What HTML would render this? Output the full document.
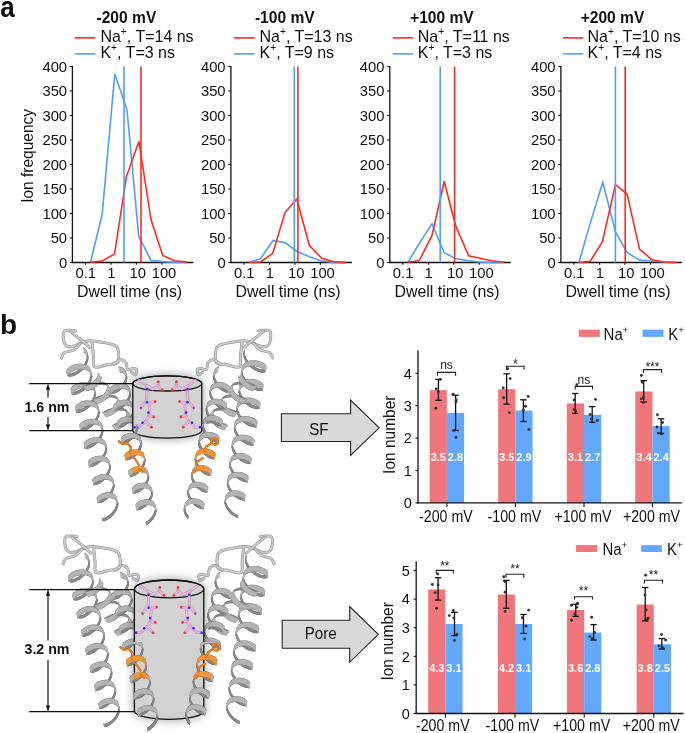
<!DOCTYPE html>
<html><head><meta charset="utf-8"><style>
html,body{margin:0;padding:0;background:#fff;}
svg{display:block;will-change:transform;font-family:"Liberation Sans", sans-serif;}
</style></head><body>
<svg width="685" height="733" viewBox="0 0 685 733">
<rect width="685" height="733" fill="#fff"/>
<line x1="72.40" y1="65.90" x2="72.40" y2="263.10" stroke="#111" stroke-width="1.3" />
<line x1="71.80" y1="262.50" x2="193.40" y2="262.50" stroke="#111" stroke-width="1.3" />
<line x1="69.80" y1="262.50" x2="72.40" y2="262.50" stroke="#111" stroke-width="1.1" />
<text transform="translate(67.10,267.90) scale(1,1.04)" font-size="14.8" text-anchor="end" font-weight="normal" fill="#111" >0</text>
<line x1="69.80" y1="238.00" x2="72.40" y2="238.00" stroke="#111" stroke-width="1.1" />
<text transform="translate(67.10,243.40) scale(1,1.04)" font-size="14.8" text-anchor="end" font-weight="normal" fill="#111" >50</text>
<line x1="69.80" y1="213.50" x2="72.40" y2="213.50" stroke="#111" stroke-width="1.1" />
<text transform="translate(67.10,218.90) scale(1,1.04)" font-size="14.8" text-anchor="end" font-weight="normal" fill="#111" >100</text>
<line x1="69.80" y1="189.00" x2="72.40" y2="189.00" stroke="#111" stroke-width="1.1" />
<text transform="translate(67.10,194.40) scale(1,1.04)" font-size="14.8" text-anchor="end" font-weight="normal" fill="#111" >150</text>
<line x1="69.80" y1="164.50" x2="72.40" y2="164.50" stroke="#111" stroke-width="1.1" />
<text transform="translate(67.10,169.90) scale(1,1.04)" font-size="14.8" text-anchor="end" font-weight="normal" fill="#111" >200</text>
<line x1="69.80" y1="140.00" x2="72.40" y2="140.00" stroke="#111" stroke-width="1.1" />
<text transform="translate(67.10,145.40) scale(1,1.04)" font-size="14.8" text-anchor="end" font-weight="normal" fill="#111" >250</text>
<line x1="69.80" y1="115.50" x2="72.40" y2="115.50" stroke="#111" stroke-width="1.1" />
<text transform="translate(67.10,120.90) scale(1,1.04)" font-size="14.8" text-anchor="end" font-weight="normal" fill="#111" >300</text>
<line x1="69.80" y1="91.00" x2="72.40" y2="91.00" stroke="#111" stroke-width="1.1" />
<text transform="translate(67.10,96.40) scale(1,1.04)" font-size="14.8" text-anchor="end" font-weight="normal" fill="#111" >350</text>
<line x1="69.80" y1="66.50" x2="72.40" y2="66.50" stroke="#111" stroke-width="1.1" />
<text transform="translate(67.10,71.90) scale(1,1.04)" font-size="14.8" text-anchor="end" font-weight="normal" fill="#111" >400</text>
<line x1="85.40" y1="262.50" x2="85.40" y2="264.70" stroke="#111" stroke-width="1.1" />
<text transform="translate(85.70,277.60) scale(1,1.04)" font-size="14.8" text-anchor="middle" font-weight="normal" fill="#111" >0.1</text>
<line x1="111.10" y1="262.50" x2="111.10" y2="264.70" stroke="#111" stroke-width="1.1" />
<text transform="translate(111.30,277.60) scale(1,1.04)" font-size="14.8" text-anchor="middle" font-weight="normal" fill="#111" >1</text>
<line x1="136.40" y1="262.50" x2="136.40" y2="264.70" stroke="#111" stroke-width="1.1" />
<text transform="translate(137.80,277.60) scale(1,1.04)" font-size="14.8" text-anchor="middle" font-weight="normal" fill="#111" >10</text>
<line x1="161.90" y1="262.50" x2="161.90" y2="264.70" stroke="#111" stroke-width="1.1" />
<text transform="translate(164.00,277.60) scale(1,1.04)" font-size="14.8" text-anchor="middle" font-weight="normal" fill="#111" >100</text>
<text transform="translate(129.60,296.60) scale(1,1.05)" font-size="15.9" text-anchor="middle" font-weight="normal" fill="#111" >Dwell time (ns)</text>
<text transform="translate(126.40,22.90) scale(1,1.06)" font-size="15.6" text-anchor="middle" font-weight="bold" fill="#111" >-200 mV</text>
<line x1="74.80" y1="37.90" x2="95.40" y2="37.90" stroke="#ff2a1f" stroke-width="1.6" />
<line x1="74.80" y1="53.90" x2="95.40" y2="53.90" stroke="#4f9dff" stroke-width="1.6" />
<text transform="translate(100.40,41.70) scale(1,1.05)" font-size="16" text-anchor="start" font-weight="normal" fill="#111" >Na<tspan font-size="10.2" dy="-6.8">+</tspan><tspan dy="6.8">, T=14 ns</tspan></text>
<text transform="translate(100.40,57.80) scale(1,1.05)" font-size="16" text-anchor="start" font-weight="normal" fill="#111" >K<tspan font-size="10.2" dy="-6.8">+</tspan><tspan dy="6.8">, T=3 ns</tspan></text>
<polyline points="90.50,262.30 102.20,214.00 114.80,74.00 127.00,109.80 138.70,236.20 151.00,260.40 162.50,261.60 174.60,262.30 187.00,262.50" fill="none" stroke="#4f9dff" stroke-width="1.6" stroke-linejoin="miter" />
<polyline points="90.50,262.30 101.90,261.10 114.50,254.10 126.40,176.60 138.90,141.40 151.00,219.60 162.70,255.50 174.60,260.70 187.00,262.10" fill="none" stroke="#ff2a1f" stroke-width="1.6" stroke-linejoin="miter" />
<line x1="124.00" y1="66.50" x2="124.00" y2="262.50" stroke="#4f9dff" stroke-width="1.6" />
<line x1="141.00" y1="66.50" x2="141.00" y2="262.50" stroke="#ff2a1f" stroke-width="1.6" />
<line x1="230.90" y1="65.90" x2="230.90" y2="263.10" stroke="#111" stroke-width="1.3" />
<line x1="230.30" y1="262.50" x2="351.90" y2="262.50" stroke="#111" stroke-width="1.3" />
<line x1="228.30" y1="262.50" x2="230.90" y2="262.50" stroke="#111" stroke-width="1.1" />
<text transform="translate(225.60,267.90) scale(1,1.04)" font-size="14.8" text-anchor="end" font-weight="normal" fill="#111" >0</text>
<line x1="228.30" y1="238.00" x2="230.90" y2="238.00" stroke="#111" stroke-width="1.1" />
<text transform="translate(225.60,243.40) scale(1,1.04)" font-size="14.8" text-anchor="end" font-weight="normal" fill="#111" >50</text>
<line x1="228.30" y1="213.50" x2="230.90" y2="213.50" stroke="#111" stroke-width="1.1" />
<text transform="translate(225.60,218.90) scale(1,1.04)" font-size="14.8" text-anchor="end" font-weight="normal" fill="#111" >100</text>
<line x1="228.30" y1="189.00" x2="230.90" y2="189.00" stroke="#111" stroke-width="1.1" />
<text transform="translate(225.60,194.40) scale(1,1.04)" font-size="14.8" text-anchor="end" font-weight="normal" fill="#111" >150</text>
<line x1="228.30" y1="164.50" x2="230.90" y2="164.50" stroke="#111" stroke-width="1.1" />
<text transform="translate(225.60,169.90) scale(1,1.04)" font-size="14.8" text-anchor="end" font-weight="normal" fill="#111" >200</text>
<line x1="228.30" y1="140.00" x2="230.90" y2="140.00" stroke="#111" stroke-width="1.1" />
<text transform="translate(225.60,145.40) scale(1,1.04)" font-size="14.8" text-anchor="end" font-weight="normal" fill="#111" >250</text>
<line x1="228.30" y1="115.50" x2="230.90" y2="115.50" stroke="#111" stroke-width="1.1" />
<text transform="translate(225.60,120.90) scale(1,1.04)" font-size="14.8" text-anchor="end" font-weight="normal" fill="#111" >300</text>
<line x1="228.30" y1="91.00" x2="230.90" y2="91.00" stroke="#111" stroke-width="1.1" />
<text transform="translate(225.60,96.40) scale(1,1.04)" font-size="14.8" text-anchor="end" font-weight="normal" fill="#111" >350</text>
<line x1="228.30" y1="66.50" x2="230.90" y2="66.50" stroke="#111" stroke-width="1.1" />
<text transform="translate(225.60,71.90) scale(1,1.04)" font-size="14.8" text-anchor="end" font-weight="normal" fill="#111" >400</text>
<line x1="243.90" y1="262.50" x2="243.90" y2="264.70" stroke="#111" stroke-width="1.1" />
<text transform="translate(244.20,277.60) scale(1,1.04)" font-size="14.8" text-anchor="middle" font-weight="normal" fill="#111" >0.1</text>
<line x1="269.60" y1="262.50" x2="269.60" y2="264.70" stroke="#111" stroke-width="1.1" />
<text transform="translate(269.80,277.60) scale(1,1.04)" font-size="14.8" text-anchor="middle" font-weight="normal" fill="#111" >1</text>
<line x1="294.90" y1="262.50" x2="294.90" y2="264.70" stroke="#111" stroke-width="1.1" />
<text transform="translate(296.30,277.60) scale(1,1.04)" font-size="14.8" text-anchor="middle" font-weight="normal" fill="#111" >10</text>
<line x1="320.40" y1="262.50" x2="320.40" y2="264.70" stroke="#111" stroke-width="1.1" />
<text transform="translate(322.50,277.60) scale(1,1.04)" font-size="14.8" text-anchor="middle" font-weight="normal" fill="#111" >100</text>
<text transform="translate(288.10,296.60) scale(1,1.05)" font-size="15.9" text-anchor="middle" font-weight="normal" fill="#111" >Dwell time (ns)</text>
<text transform="translate(284.80,22.90) scale(1,1.06)" font-size="15.6" text-anchor="middle" font-weight="bold" fill="#111" >-100 mV</text>
<line x1="233.90" y1="37.90" x2="254.70" y2="37.90" stroke="#ff2a1f" stroke-width="1.6" />
<line x1="233.90" y1="53.90" x2="254.70" y2="53.90" stroke="#4f9dff" stroke-width="1.6" />
<text transform="translate(259.50,41.70) scale(1,1.05)" font-size="16" text-anchor="start" font-weight="normal" fill="#111" >Na<tspan font-size="10.2" dy="-6.8">+</tspan><tspan dy="6.8">, T=13 ns</tspan></text>
<text transform="translate(259.50,57.80) scale(1,1.05)" font-size="16" text-anchor="start" font-weight="normal" fill="#111" >K<tspan font-size="10.2" dy="-6.8">+</tspan><tspan dy="6.8">, T=9 ns</tspan></text>
<polyline points="249.00,262.50 260.40,258.70 273.10,240.50 285.00,242.60 297.20,251.50 309.50,256.80 321.40,261.00 333.40,262.40 345.80,262.50" fill="none" stroke="#4f9dff" stroke-width="1.6" stroke-linejoin="miter" />
<polyline points="249.00,262.50 260.40,262.00 272.70,253.40 285.00,212.60 296.80,199.00 309.30,245.30 322.00,258.60 333.40,261.60 345.80,262.50" fill="none" stroke="#ff2a1f" stroke-width="1.6" stroke-linejoin="miter" />
<line x1="294.30" y1="66.50" x2="294.30" y2="262.50" stroke="#4f9dff" stroke-width="1.6" />
<line x1="297.90" y1="66.50" x2="297.90" y2="262.50" stroke="#ff2a1f" stroke-width="1.6" />
<line x1="389.80" y1="65.90" x2="389.80" y2="263.10" stroke="#111" stroke-width="1.3" />
<line x1="389.20" y1="262.50" x2="510.80" y2="262.50" stroke="#111" stroke-width="1.3" />
<line x1="387.20" y1="262.50" x2="389.80" y2="262.50" stroke="#111" stroke-width="1.1" />
<text transform="translate(384.50,267.90) scale(1,1.04)" font-size="14.8" text-anchor="end" font-weight="normal" fill="#111" >0</text>
<line x1="387.20" y1="238.00" x2="389.80" y2="238.00" stroke="#111" stroke-width="1.1" />
<text transform="translate(384.50,243.40) scale(1,1.04)" font-size="14.8" text-anchor="end" font-weight="normal" fill="#111" >50</text>
<line x1="387.20" y1="213.50" x2="389.80" y2="213.50" stroke="#111" stroke-width="1.1" />
<text transform="translate(384.50,218.90) scale(1,1.04)" font-size="14.8" text-anchor="end" font-weight="normal" fill="#111" >100</text>
<line x1="387.20" y1="189.00" x2="389.80" y2="189.00" stroke="#111" stroke-width="1.1" />
<text transform="translate(384.50,194.40) scale(1,1.04)" font-size="14.8" text-anchor="end" font-weight="normal" fill="#111" >150</text>
<line x1="387.20" y1="164.50" x2="389.80" y2="164.50" stroke="#111" stroke-width="1.1" />
<text transform="translate(384.50,169.90) scale(1,1.04)" font-size="14.8" text-anchor="end" font-weight="normal" fill="#111" >200</text>
<line x1="387.20" y1="140.00" x2="389.80" y2="140.00" stroke="#111" stroke-width="1.1" />
<text transform="translate(384.50,145.40) scale(1,1.04)" font-size="14.8" text-anchor="end" font-weight="normal" fill="#111" >250</text>
<line x1="387.20" y1="115.50" x2="389.80" y2="115.50" stroke="#111" stroke-width="1.1" />
<text transform="translate(384.50,120.90) scale(1,1.04)" font-size="14.8" text-anchor="end" font-weight="normal" fill="#111" >300</text>
<line x1="387.20" y1="91.00" x2="389.80" y2="91.00" stroke="#111" stroke-width="1.1" />
<text transform="translate(384.50,96.40) scale(1,1.04)" font-size="14.8" text-anchor="end" font-weight="normal" fill="#111" >350</text>
<line x1="387.20" y1="66.50" x2="389.80" y2="66.50" stroke="#111" stroke-width="1.1" />
<text transform="translate(384.50,71.90) scale(1,1.04)" font-size="14.8" text-anchor="end" font-weight="normal" fill="#111" >400</text>
<line x1="402.80" y1="262.50" x2="402.80" y2="264.70" stroke="#111" stroke-width="1.1" />
<text transform="translate(403.10,277.60) scale(1,1.04)" font-size="14.8" text-anchor="middle" font-weight="normal" fill="#111" >0.1</text>
<line x1="428.50" y1="262.50" x2="428.50" y2="264.70" stroke="#111" stroke-width="1.1" />
<text transform="translate(428.70,277.60) scale(1,1.04)" font-size="14.8" text-anchor="middle" font-weight="normal" fill="#111" >1</text>
<line x1="453.80" y1="262.50" x2="453.80" y2="264.70" stroke="#111" stroke-width="1.1" />
<text transform="translate(455.20,277.60) scale(1,1.04)" font-size="14.8" text-anchor="middle" font-weight="normal" fill="#111" >10</text>
<line x1="479.30" y1="262.50" x2="479.30" y2="264.70" stroke="#111" stroke-width="1.1" />
<text transform="translate(481.40,277.60) scale(1,1.04)" font-size="14.8" text-anchor="middle" font-weight="normal" fill="#111" >100</text>
<text transform="translate(447.00,296.60) scale(1,1.05)" font-size="15.9" text-anchor="middle" font-weight="normal" fill="#111" >Dwell time (ns)</text>
<text transform="translate(441.90,22.90) scale(1,1.06)" font-size="15.6" text-anchor="middle" font-weight="bold" fill="#111" >+100 mV</text>
<line x1="392.70" y1="37.90" x2="413.10" y2="37.90" stroke="#ff2a1f" stroke-width="1.6" />
<line x1="392.70" y1="53.90" x2="413.10" y2="53.90" stroke="#4f9dff" stroke-width="1.6" />
<text transform="translate(417.80,41.70) scale(1,1.05)" font-size="16" text-anchor="start" font-weight="normal" fill="#111" >Na<tspan font-size="10.2" dy="-6.8">+</tspan><tspan dy="6.8">, T=11 ns</tspan></text>
<text transform="translate(417.80,57.80) scale(1,1.05)" font-size="16" text-anchor="start" font-weight="normal" fill="#111" >K<tspan font-size="10.2" dy="-6.8">+</tspan><tspan dy="6.8">, T=3 ns</tspan></text>
<polyline points="407.90,262.30 419.60,243.00 432.00,223.60 444.00,252.50 455.40,258.60 467.70,260.60 479.10,262.00 491.40,262.50 503.80,262.50" fill="none" stroke="#4f9dff" stroke-width="1.6" stroke-linejoin="miter" />
<polyline points="407.90,262.30 419.30,260.50 432.00,235.40 444.20,181.30 455.40,225.00 468.70,255.90 480.00,258.20 491.40,260.70 503.80,262.30" fill="none" stroke="#ff2a1f" stroke-width="1.6" stroke-linejoin="miter" />
<line x1="440.20" y1="66.50" x2="440.20" y2="262.50" stroke="#4f9dff" stroke-width="1.6" />
<line x1="454.60" y1="66.50" x2="454.60" y2="262.50" stroke="#ff2a1f" stroke-width="1.6" />
<line x1="560.90" y1="65.90" x2="560.90" y2="263.10" stroke="#111" stroke-width="1.3" />
<line x1="560.30" y1="262.50" x2="681.90" y2="262.50" stroke="#111" stroke-width="1.3" />
<line x1="558.30" y1="262.50" x2="560.90" y2="262.50" stroke="#111" stroke-width="1.1" />
<text transform="translate(555.60,267.90) scale(1,1.04)" font-size="14.8" text-anchor="end" font-weight="normal" fill="#111" >0</text>
<line x1="558.30" y1="238.00" x2="560.90" y2="238.00" stroke="#111" stroke-width="1.1" />
<text transform="translate(555.60,243.40) scale(1,1.04)" font-size="14.8" text-anchor="end" font-weight="normal" fill="#111" >50</text>
<line x1="558.30" y1="213.50" x2="560.90" y2="213.50" stroke="#111" stroke-width="1.1" />
<text transform="translate(555.60,218.90) scale(1,1.04)" font-size="14.8" text-anchor="end" font-weight="normal" fill="#111" >100</text>
<line x1="558.30" y1="189.00" x2="560.90" y2="189.00" stroke="#111" stroke-width="1.1" />
<text transform="translate(555.60,194.40) scale(1,1.04)" font-size="14.8" text-anchor="end" font-weight="normal" fill="#111" >150</text>
<line x1="558.30" y1="164.50" x2="560.90" y2="164.50" stroke="#111" stroke-width="1.1" />
<text transform="translate(555.60,169.90) scale(1,1.04)" font-size="14.8" text-anchor="end" font-weight="normal" fill="#111" >200</text>
<line x1="558.30" y1="140.00" x2="560.90" y2="140.00" stroke="#111" stroke-width="1.1" />
<text transform="translate(555.60,145.40) scale(1,1.04)" font-size="14.8" text-anchor="end" font-weight="normal" fill="#111" >250</text>
<line x1="558.30" y1="115.50" x2="560.90" y2="115.50" stroke="#111" stroke-width="1.1" />
<text transform="translate(555.60,120.90) scale(1,1.04)" font-size="14.8" text-anchor="end" font-weight="normal" fill="#111" >300</text>
<line x1="558.30" y1="91.00" x2="560.90" y2="91.00" stroke="#111" stroke-width="1.1" />
<text transform="translate(555.60,96.40) scale(1,1.04)" font-size="14.8" text-anchor="end" font-weight="normal" fill="#111" >350</text>
<line x1="558.30" y1="66.50" x2="560.90" y2="66.50" stroke="#111" stroke-width="1.1" />
<text transform="translate(555.60,71.90) scale(1,1.04)" font-size="14.8" text-anchor="end" font-weight="normal" fill="#111" >400</text>
<line x1="573.90" y1="262.50" x2="573.90" y2="264.70" stroke="#111" stroke-width="1.1" />
<text transform="translate(574.20,277.60) scale(1,1.04)" font-size="14.8" text-anchor="middle" font-weight="normal" fill="#111" >0.1</text>
<line x1="599.60" y1="262.50" x2="599.60" y2="264.70" stroke="#111" stroke-width="1.1" />
<text transform="translate(599.80,277.60) scale(1,1.04)" font-size="14.8" text-anchor="middle" font-weight="normal" fill="#111" >1</text>
<line x1="624.90" y1="262.50" x2="624.90" y2="264.70" stroke="#111" stroke-width="1.1" />
<text transform="translate(626.30,277.60) scale(1,1.04)" font-size="14.8" text-anchor="middle" font-weight="normal" fill="#111" >10</text>
<line x1="650.40" y1="262.50" x2="650.40" y2="264.70" stroke="#111" stroke-width="1.1" />
<text transform="translate(652.50,277.60) scale(1,1.04)" font-size="14.8" text-anchor="middle" font-weight="normal" fill="#111" >100</text>
<text transform="translate(618.10,296.60) scale(1,1.05)" font-size="15.9" text-anchor="middle" font-weight="normal" fill="#111" >Dwell time (ns)</text>
<text transform="translate(612.50,22.90) scale(1,1.06)" font-size="15.6" text-anchor="middle" font-weight="bold" fill="#111" >+200 mV</text>
<line x1="563.00" y1="37.90" x2="583.20" y2="37.90" stroke="#ff2a1f" stroke-width="1.6" />
<line x1="563.00" y1="53.90" x2="583.20" y2="53.90" stroke="#4f9dff" stroke-width="1.6" />
<text transform="translate(587.50,41.70) scale(1,1.05)" font-size="16" text-anchor="start" font-weight="normal" fill="#111" >Na<tspan font-size="10.2" dy="-6.8">+</tspan><tspan dy="6.8">, T=10 ns</tspan></text>
<text transform="translate(587.50,57.80) scale(1,1.05)" font-size="16" text-anchor="start" font-weight="normal" fill="#111" >K<tspan font-size="10.2" dy="-6.8">+</tspan><tspan dy="6.8">, T=4 ns</tspan></text>
<polyline points="578.90,262.50 590.50,222.40 602.80,182.30 615.40,231.60 627.10,252.50 639.50,260.10 651.80,261.00 664.10,262.00 676.50,262.50" fill="none" stroke="#4f9dff" stroke-width="1.6" stroke-linejoin="miter" />
<polyline points="578.90,262.50 590.10,261.40 602.40,241.70 615.40,184.70 627.10,194.00 639.50,249.10 651.80,259.70 664.10,262.00 676.50,262.50" fill="none" stroke="#ff2a1f" stroke-width="1.6" stroke-linejoin="miter" />
<line x1="615.40" y1="66.50" x2="615.40" y2="262.50" stroke="#4f9dff" stroke-width="1.6" />
<line x1="625.20" y1="66.50" x2="625.20" y2="262.50" stroke="#ff2a1f" stroke-width="1.6" />
<text transform="translate(33.00,155.90) rotate(-90) scale(1,1.06)" font-size="15.5" text-anchor="middle" font-weight="normal" fill="#111" >Ion frequency</text>
<text transform="translate(0.30,16.60) scale(1,1.13)" font-size="26" text-anchor="start" font-weight="bold" fill="#111" >a</text>
<text transform="translate(0.00,333.80) scale(1,1.0)" font-size="28" text-anchor="start" font-weight="bold" fill="#111" >b</text>
<defs><filter id="blur3" x="-30%" y="-30%" width="160%" height="160%"><feGaussianBlur stdDeviation="4"/></filter><clipPath id="clipLow"><rect x="0" y="642" width="280" height="100"/></clipPath><clipPath id="clipUp"><rect x="0" y="424" width="280" height="30"/></clipPath></defs>
<g fill="none" stroke-linecap="round" stroke-linejoin="round"><path d="M75.6,330.9 C74.6,330.8 71.5,330.3 69.7,330.3 C67.9,330.3 65.6,330.0 64.5,330.9 C63.4,331.8 63.1,333.4 63.1,335.5 C63.1,337.6 63.6,341.5 64.5,343.4 C65.4,345.3 66.8,346.3 68.4,346.7 C70.0,347.1 72.3,346.6 74.3,346.0 C76.3,345.4 77.5,344.3 80.2,343.4 C82.9,342.5 85.2,340.6 90.7,340.8 C96.2,341.0 108.4,342.9 113.0,344.7 C117.6,346.4 117.6,348.2 118.3,351.3 C119.0,354.4 118.8,360.9 117.0,363.1 C115.2,365.3 111.5,363.8 107.8,364.4 C104.1,365.0 97.1,368.5 94.7,367.0 C92.3,365.5 93.9,359.3 93.4,355.2 C93.0,351.1 92.2,344.3 92.0,342.1" stroke="#939393" stroke-width="3.0"/>
<path d="M75.6,330.9 C74.6,330.8 71.5,330.3 69.7,330.3 C67.9,330.3 65.6,330.0 64.5,330.9 C63.4,331.8 63.1,333.4 63.1,335.5 C63.1,337.6 63.6,341.5 64.5,343.4 C65.4,345.3 66.8,346.3 68.4,346.7 C70.0,347.1 72.3,346.6 74.3,346.0 C76.3,345.4 77.5,344.3 80.2,343.4 C82.9,342.5 85.2,340.6 90.7,340.8 C96.2,341.0 108.4,342.9 113.0,344.7 C117.6,346.4 117.6,348.2 118.3,351.3 C119.0,354.4 118.8,360.9 117.0,363.1 C115.2,365.3 111.5,363.8 107.8,364.4 C104.1,365.0 97.1,368.5 94.7,367.0 C92.3,365.5 93.9,359.3 93.4,355.2 C93.0,351.1 92.2,344.3 92.0,342.1" stroke="#c9c9c9" stroke-width="1.9"/>
<path d="M258.4,330.9 C259.4,330.8 262.4,330.3 264.3,330.3 C266.2,330.3 268.4,330.0 269.5,330.9 C270.6,331.8 270.9,333.4 270.9,335.5 C270.9,337.6 270.4,341.5 269.5,343.4 C268.6,345.3 267.2,346.3 265.6,346.7 C264.0,347.1 261.7,346.6 259.7,346.0 C257.7,345.4 256.5,344.3 253.8,343.4 C251.1,342.5 248.8,340.6 243.3,340.8 C237.8,341.0 225.6,342.9 221.0,344.7 C216.4,346.4 216.4,348.2 215.7,351.3 C215.0,354.4 215.2,360.9 217.0,363.1 C218.8,365.3 222.5,363.8 226.2,364.4 C229.9,365.0 236.9,368.5 239.3,367.0 C241.7,365.5 240.2,359.3 240.6,355.2 C241.0,351.1 241.8,344.3 242.0,342.1" stroke="#939393" stroke-width="3.0"/>
<path d="M258.4,330.9 C259.4,330.8 262.4,330.3 264.3,330.3 C266.2,330.3 268.4,330.0 269.5,330.9 C270.6,331.8 270.9,333.4 270.9,335.5 C270.9,337.6 270.4,341.5 269.5,343.4 C268.6,345.3 267.2,346.3 265.6,346.7 C264.0,347.1 261.7,346.6 259.7,346.0 C257.7,345.4 256.5,344.3 253.8,343.4 C251.1,342.5 248.8,340.6 243.3,340.8 C237.8,341.0 225.6,342.9 221.0,344.7 C216.4,346.4 216.4,348.2 215.7,351.3 C215.0,354.4 215.2,360.9 217.0,363.1 C218.8,365.3 222.5,363.8 226.2,364.4 C229.9,365.0 236.9,368.5 239.3,367.0 C241.7,365.5 240.2,359.3 240.6,355.2 C241.0,351.1 241.8,344.3 242.0,342.1" stroke="#c9c9c9" stroke-width="1.9"/>
<path d="M70.4,331.6 C72.0,332.8 76.8,336.4 80.0,339.0 C83.2,341.6 87.8,345.9 89.4,347.3" stroke="#939393" stroke-width="3.0"/>
<path d="M70.4,331.6 C72.0,332.8 76.8,336.4 80.0,339.0 C83.2,341.6 87.8,345.9 89.4,347.3" stroke="#c9c9c9" stroke-width="1.9"/>
<path d="M263.6,331.6 C262.0,332.8 257.2,336.4 254.0,339.0 C250.8,341.6 246.2,345.9 244.6,347.3" stroke="#939393" stroke-width="3.0"/>
<path d="M263.6,331.6 C262.0,332.8 257.2,336.4 254.0,339.0 C250.8,341.6 246.2,345.9 244.6,347.3" stroke="#c9c9c9" stroke-width="1.9"/>
<path d="M80.2,343.4 C79.1,344.5 76.2,348.5 73.6,350.0 C71.0,351.5 66.5,351.3 64.5,352.6 C62.5,353.9 62.0,357.1 61.5,358.0" stroke="#939393" stroke-width="3.0"/>
<path d="M80.2,343.4 C79.1,344.5 76.2,348.5 73.6,350.0 C71.0,351.5 66.5,351.3 64.5,352.6 C62.5,353.9 62.0,357.1 61.5,358.0" stroke="#c9c9c9" stroke-width="1.9"/>
<path d="M253.8,343.4 C254.9,344.5 257.8,348.5 260.4,350.0 C263.0,351.5 267.5,351.3 269.5,352.6 C271.5,353.9 272.0,357.1 272.5,358.0" stroke="#939393" stroke-width="3.0"/>
<path d="M253.8,343.4 C254.9,344.5 257.8,348.5 260.4,350.0 C263.0,351.5 267.5,351.3 269.5,352.6 C271.5,353.9 272.0,357.1 272.5,358.0" stroke="#c9c9c9" stroke-width="1.9"/>
<path d="M113.0,364.4 C114.3,363.6 118.8,360.0 121.0,359.8 C123.2,359.6 125.1,361.5 126.2,363.1 C127.3,364.8 126.4,368.8 127.5,369.7 C128.6,370.6 131.3,368.4 132.8,368.4 C134.3,368.4 136.3,368.6 136.7,369.7 C137.1,370.8 136.3,374.5 135.4,374.9 C134.5,375.3 132.2,372.7 131.5,372.3" stroke="#939393" stroke-width="3.0"/>
<path d="M113.0,364.4 C114.3,363.6 118.8,360.0 121.0,359.8 C123.2,359.6 125.1,361.5 126.2,363.1 C127.3,364.8 126.4,368.8 127.5,369.7 C128.6,370.6 131.3,368.4 132.8,368.4 C134.3,368.4 136.3,368.6 136.7,369.7 C137.1,370.8 136.3,374.5 135.4,374.9 C134.5,375.3 132.2,372.7 131.5,372.3" stroke="#c9c9c9" stroke-width="1.9"/>
<path d="M221.0,364.4 C219.7,363.6 215.2,360.0 213.0,359.8 C210.8,359.6 208.9,361.5 207.8,363.1 C206.7,364.8 207.6,368.8 206.5,369.7 C205.4,370.6 202.7,368.4 201.2,368.4 C199.7,368.4 197.7,368.6 197.3,369.7 C196.9,370.8 197.7,374.5 198.6,374.9 C199.5,375.3 201.8,372.7 202.5,372.3" stroke="#939393" stroke-width="3.0"/>
<path d="M221.0,364.4 C219.7,363.6 215.2,360.0 213.0,359.8 C210.8,359.6 208.9,361.5 207.8,363.1 C206.7,364.8 207.6,368.8 206.5,369.7 C205.4,370.6 202.7,368.4 201.2,368.4 C199.7,368.4 197.7,368.6 197.3,369.7 C196.9,370.8 197.7,374.5 198.6,374.9 C199.5,375.3 201.8,372.7 202.5,372.3" stroke="#c9c9c9" stroke-width="1.9"/>
<path d="M86.9 352.7L87.4 355.3M87.9 357.3L87.3 354.7M87.4 355.3L87.2 358.1M87.7 360.2L87.9 357.3M87.2 358.1L86.3 361.1M86.8 363.1L87.7 360.2M86.3 361.1L84.7 364M85.2 366L86.8 363.1M84.7 364L82.6 366.8M83 368.8L85.2 366M82.6 366.8L80.1 369.2M80.5 371.3L83 368.8M80.1 369.2L77.4 371.3M77.8 373.3L80.5 371.3M77.4 371.3L74.7 372.8M75.1 374.8L77.8 373.3M74.7 372.8L72.1 373.8M72.6 375.8L75.1 374.8M72.1 373.8L70 374.2M70.4 376.2L72.6 375.8M70 374.2L68.3 374M68.8 376L70.4 376.2M68.3 374L67.3 373.4M67.8 375.4L68.8 376M67.3 373.4L67.1 372.4M67.5 374.4L67.8 375.4M91.1 373.1L91.1 375.9M91.5 377.9L91.6 375.2M91.1 375.9L90.3 378.8M90.7 380.8L91.5 377.9M90.3 378.8L88.8 381.7M89.3 383.7L90.7 380.8M88.8 381.7L86.8 384.5M87.3 386.5L89.3 383.7M86.8 384.5L84.4 386.9M84.9 388.9L87.3 386.5M84.4 386.9L81.8 389M82.3 391L84.9 388.9M81.8 389L79.2 390.6M79.6 392.6L82.3 391M79.2 390.6L76.7 391.7M77.1 393.7L79.6 392.6M76.7 391.7L74.5 392.2M75 394.2L77.1 393.7M74.5 392.2L72.8 392.1M73.3 394.2L75 394.2M72.8 392.1L71.8 391.6M72.2 393.6L73.3 394.2M71.8 391.6L71.4 390.7M71.9 392.7L72.2 393.6M94.8 391L94.8 393.7M95.3 395.7L95.3 393M94.8 393.7L94.2 396.5M94.6 398.5L95.3 395.7M94.2 396.5L92.9 399.4M93.3 401.4L94.6 398.5M92.9 399.4L91 402.1M91.4 404.1L93.3 401.4M91 402.1L88.7 404.6M89.2 406.6L91.4 404.1M88.7 404.6L86.2 406.7M86.7 408.8L89.2 406.6M86.2 406.7L83.6 408.4M84.1 410.4L86.7 408.8M83.6 408.4L81.2 409.6M81.6 411.6L84.1 410.4M81.2 409.6L79 410.2M79.5 412.2L81.6 411.6M79 410.2L77.3 410.2M77.8 412.2L79.5 412.2M77.3 410.2L76.2 409.8M76.7 411.8L77.8 412.2M76.2 409.8L75.8 409M76.2 411L76.7 411.8M98.5 408.9L98.6 411.5M99.1 413.5L98.9 410.9M98.6 411.5L98.1 414.3M98.5 416.3L99.1 413.5M98.1 414.3L96.9 417.1M97.3 419.1L98.5 416.3M96.9 417.1L95.2 419.8M95.6 421.8L97.3 419.1M95.2 419.8L93 422.3M93.5 424.3L95.6 421.8M93 422.3L90.6 424.5M91 426.5L93.5 424.3M90.6 424.5L88.1 426.2M88.6 428.2L91 426.5M88.1 426.2L85.7 427.4M86.1 429.4L88.6 428.2M85.7 427.4L83.6 428.1M84 430.1L86.1 429.4M83.6 428.1L81.8 428.3M82.3 430.3L84 430.1M81.8 428.3L80.7 428M81.1 430L82.3 430.3M80.7 428L80.1 427.3M80.6 429.3L81.1 430M102.1 426.8L102.4 429.3M102.8 431.3L102.6 428.8M102.4 429.3L101.9 432M102.4 434L102.8 431.3M101.9 432L100.9 434.8M101.3 436.8L102.4 434M100.9 434.8L99.3 437.5M99.7 439.5L101.3 436.8M99.3 437.5L97.3 440M97.7 442L99.7 439.5M97.3 440L95 442.2M95.4 444.2L97.7 442M95 442.2L92.5 444M93 446L95.4 444.2M92.5 444L90.2 445.3M90.6 447.3L93 446M90.2 445.3L88.1 446.1M88.5 448.1L90.6 447.3M88.1 446.1L86.3 446.3M86.8 448.4L88.5 448.1M86.3 446.3L85.1 446.1M85.6 448.2L86.8 448.4M85.1 446.1L84.5 445.5M85 447.5L85.6 448.2M105.8 444.7L106.1 447.1M106.6 449.2L106.2 446.8M106.1 447.1L105.8 449.8M106.2 451.8L106.6 449.2M105.8 449.8L104.9 452.5M105.3 454.5L106.2 451.8M104.9 452.5L103.4 455.2M103.8 457.2L105.3 454.5M103.4 455.2L101.5 457.7M101.9 459.7L103.8 457.2M101.5 457.7L99.3 459.9M99.7 461.9L101.9 459.7M99.3 459.9L97 461.7M97.4 463.8L99.7 461.9M97 461.7L94.7 463.1M95.1 465.1L97.4 463.8M94.7 463.1L92.6 464M93 466L95.1 465.1M92.6 464L90.8 464.4M91.3 466.4L93 466M90.8 464.4L89.6 464.3M90 466.3L91.3 466.4M89.6 464.3L88.9 463.8M89.4 465.8L90 466.3M109.4 462.7L109.8 465M110.3 467L109.8 464.7M109.8 465L109.6 467.6M110.1 469.6L110.3 467M109.6 467.6L108.8 470.2M109.3 472.2L110.1 469.6M108.8 470.2L107.5 472.9M107.9 474.9L109.3 472.2M107.5 472.9L105.7 475.4M106.1 477.4L107.9 474.9M105.7 475.4L103.6 477.6M104 479.6L106.1 477.4M103.6 477.6L101.3 479.5M101.8 481.5L104 479.6M101.3 479.5L99.1 480.9M99.6 483L101.8 481.5M99.1 480.9L97.1 481.9M97.5 483.9L99.6 483M97.1 481.9L95.3 482.4M95.8 484.4L97.5 483.9M95.3 482.4L94 482.4M94.5 484.4L95.8 484.4M94 482.4L93.3 482M93.8 484L94.5 484.4M113.5 482.9L113.4 485.4M113.9 487.4L114 484.9M113.4 485.4L112.7 488M113.2 490L113.9 487.4M112.7 488L111.5 490.6M112 492.6L113.2 490M111.5 490.6L109.8 493.1M110.3 495.1L112 492.6M109.8 493.1L107.9 495.3M108.3 497.3L110.3 495.1M107.9 495.3L105.7 497.2M106.2 499.3L108.3 497.3M105.7 497.2L103.6 498.8M104 500.8L106.2 499.3M103.6 498.8L101.5 499.8M102 501.8L104 500.8M101.5 499.8L99.8 500.4M100.3 502.4L102 501.8M99.8 500.4L98.5 500.5M99 502.5L100.3 502.4M98.5 500.5L97.7 500.2M98.2 502.2L99 502.5M97.7 500.2L97.5 499.5M97.9 501.5L98.2 502.2M117.2 500.8L117.2 503.2M117.7 505.2L117.7 502.8M117.2 503.2L116.6 505.7M117.1 507.7L117.7 505.2M116.6 505.7L115.5 508.3M116 510.3L117.1 507.7M115.5 508.3L114 510.8M114.4 512.8L116 510.3M114 510.8L112.1 513M112.6 515.1L114.4 512.8M112.1 513L110.1 515M110.5 517L112.6 515.1M110.1 515L108 516.6M108.4 518.6L110.5 517M108 516.6L106 517.7M106.5 519.7L108.4 518.6M106 517.7L104.3 518.3M104.7 520.4L106.5 519.7M104.3 518.3L103 518.5M103.4 520.6L104.7 520.4M103 518.5L102.1 518.3M102.6 520.3L103.4 520.6" fill="none" stroke="#5a5a5a" stroke-width="1.1"/>
<path d="M86.9 352.7L87.4 355.3L87.9 357.3L87.3 354.7ZM87.4 355.3L87.2 358.1L87.7 360.2L87.9 357.3ZM87.2 358.1L86.3 361.1L86.8 363.1L87.7 360.2ZM86.3 361.1L84.7 364L85.2 366L86.8 363.1ZM84.7 364L82.6 366.8L83 368.8L85.2 366ZM82.6 366.8L80.1 369.2L80.5 371.3L83 368.8ZM80.1 369.2L77.4 371.3L77.8 373.3L80.5 371.3ZM77.4 371.3L74.7 372.8L75.1 374.8L77.8 373.3ZM74.7 372.8L72.1 373.8L72.6 375.8L75.1 374.8ZM72.1 373.8L70 374.2L70.4 376.2L72.6 375.8ZM70 374.2L68.3 374L68.8 376L70.4 376.2ZM68.3 374L67.3 373.4L67.8 375.4L68.8 376ZM67.3 373.4L67.1 372.4L67.5 374.4L67.8 375.4ZM91.1 373.1L91.1 375.9L91.5 377.9L91.6 375.2ZM91.1 375.9L90.3 378.8L90.7 380.8L91.5 377.9ZM90.3 378.8L88.8 381.7L89.3 383.7L90.7 380.8ZM88.8 381.7L86.8 384.5L87.3 386.5L89.3 383.7ZM86.8 384.5L84.4 386.9L84.9 388.9L87.3 386.5ZM84.4 386.9L81.8 389L82.3 391L84.9 388.9ZM81.8 389L79.2 390.6L79.6 392.6L82.3 391ZM79.2 390.6L76.7 391.7L77.1 393.7L79.6 392.6ZM76.7 391.7L74.5 392.2L75 394.2L77.1 393.7ZM74.5 392.2L72.8 392.1L73.3 394.2L75 394.2ZM72.8 392.1L71.8 391.6L72.2 393.6L73.3 394.2ZM71.8 391.6L71.4 390.7L71.9 392.7L72.2 393.6ZM94.8 391L94.8 393.7L95.3 395.7L95.3 393ZM94.8 393.7L94.2 396.5L94.6 398.5L95.3 395.7ZM94.2 396.5L92.9 399.4L93.3 401.4L94.6 398.5ZM92.9 399.4L91 402.1L91.4 404.1L93.3 401.4ZM91 402.1L88.7 404.6L89.2 406.6L91.4 404.1ZM88.7 404.6L86.2 406.7L86.7 408.8L89.2 406.6ZM86.2 406.7L83.6 408.4L84.1 410.4L86.7 408.8ZM83.6 408.4L81.2 409.6L81.6 411.6L84.1 410.4ZM81.2 409.6L79 410.2L79.5 412.2L81.6 411.6ZM79 410.2L77.3 410.2L77.8 412.2L79.5 412.2ZM77.3 410.2L76.2 409.8L76.7 411.8L77.8 412.2ZM76.2 409.8L75.8 409L76.2 411L76.7 411.8ZM98.5 408.9L98.6 411.5L99.1 413.5L98.9 410.9ZM98.6 411.5L98.1 414.3L98.5 416.3L99.1 413.5ZM98.1 414.3L96.9 417.1L97.3 419.1L98.5 416.3ZM96.9 417.1L95.2 419.8L95.6 421.8L97.3 419.1ZM95.2 419.8L93 422.3L93.5 424.3L95.6 421.8ZM93 422.3L90.6 424.5L91 426.5L93.5 424.3ZM90.6 424.5L88.1 426.2L88.6 428.2L91 426.5ZM88.1 426.2L85.7 427.4L86.1 429.4L88.6 428.2ZM85.7 427.4L83.6 428.1L84 430.1L86.1 429.4ZM83.6 428.1L81.8 428.3L82.3 430.3L84 430.1ZM81.8 428.3L80.7 428L81.1 430L82.3 430.3ZM80.7 428L80.1 427.3L80.6 429.3L81.1 430ZM102.1 426.8L102.4 429.3L102.8 431.3L102.6 428.8ZM102.4 429.3L101.9 432L102.4 434L102.8 431.3ZM101.9 432L100.9 434.8L101.3 436.8L102.4 434ZM100.9 434.8L99.3 437.5L99.7 439.5L101.3 436.8ZM99.3 437.5L97.3 440L97.7 442L99.7 439.5ZM97.3 440L95 442.2L95.4 444.2L97.7 442ZM95 442.2L92.5 444L93 446L95.4 444.2ZM92.5 444L90.2 445.3L90.6 447.3L93 446ZM90.2 445.3L88.1 446.1L88.5 448.1L90.6 447.3ZM88.1 446.1L86.3 446.3L86.8 448.4L88.5 448.1ZM86.3 446.3L85.1 446.1L85.6 448.2L86.8 448.4ZM85.1 446.1L84.5 445.5L85 447.5L85.6 448.2ZM105.8 444.7L106.1 447.1L106.6 449.2L106.2 446.8ZM106.1 447.1L105.8 449.8L106.2 451.8L106.6 449.2ZM105.8 449.8L104.9 452.5L105.3 454.5L106.2 451.8ZM104.9 452.5L103.4 455.2L103.8 457.2L105.3 454.5ZM103.4 455.2L101.5 457.7L101.9 459.7L103.8 457.2ZM101.5 457.7L99.3 459.9L99.7 461.9L101.9 459.7ZM99.3 459.9L97 461.7L97.4 463.8L99.7 461.9ZM97 461.7L94.7 463.1L95.1 465.1L97.4 463.8ZM94.7 463.1L92.6 464L93 466L95.1 465.1ZM92.6 464L90.8 464.4L91.3 466.4L93 466ZM90.8 464.4L89.6 464.3L90 466.3L91.3 466.4ZM89.6 464.3L88.9 463.8L89.4 465.8L90 466.3ZM109.4 462.7L109.8 465L110.3 467L109.8 464.7ZM109.8 465L109.6 467.6L110.1 469.6L110.3 467ZM109.6 467.6L108.8 470.2L109.3 472.2L110.1 469.6ZM108.8 470.2L107.5 472.9L107.9 474.9L109.3 472.2ZM107.5 472.9L105.7 475.4L106.1 477.4L107.9 474.9ZM105.7 475.4L103.6 477.6L104 479.6L106.1 477.4ZM103.6 477.6L101.3 479.5L101.8 481.5L104 479.6ZM101.3 479.5L99.1 480.9L99.6 483L101.8 481.5ZM99.1 480.9L97.1 481.9L97.5 483.9L99.6 483ZM97.1 481.9L95.3 482.4L95.8 484.4L97.5 483.9ZM95.3 482.4L94 482.4L94.5 484.4L95.8 484.4ZM94 482.4L93.3 482L93.8 484L94.5 484.4ZM113.5 482.9L113.4 485.4L113.9 487.4L114 484.9ZM113.4 485.4L112.7 488L113.2 490L113.9 487.4ZM112.7 488L111.5 490.6L112 492.6L113.2 490ZM111.5 490.6L109.8 493.1L110.3 495.1L112 492.6ZM109.8 493.1L107.9 495.3L108.3 497.3L110.3 495.1ZM107.9 495.3L105.7 497.2L106.2 499.3L108.3 497.3ZM105.7 497.2L103.6 498.8L104 500.8L106.2 499.3ZM103.6 498.8L101.5 499.8L102 501.8L104 500.8ZM101.5 499.8L99.8 500.4L100.3 502.4L102 501.8ZM99.8 500.4L98.5 500.5L99 502.5L100.3 502.4ZM98.5 500.5L97.7 500.2L98.2 502.2L99 502.5ZM97.7 500.2L97.5 499.5L97.9 501.5L98.2 502.2ZM117.2 500.8L117.2 503.2L117.7 505.2L117.7 502.8ZM117.2 503.2L116.6 505.7L117.1 507.7L117.7 505.2ZM116.6 505.7L115.5 508.3L116 510.3L117.1 507.7ZM115.5 508.3L114 510.8L114.4 512.8L116 510.3ZM114 510.8L112.1 513L112.6 515.1L114.4 512.8ZM112.1 513L110.1 515L110.5 517L112.6 515.1ZM110.1 515L108 516.6L108.4 518.6L110.5 517ZM108 516.6L106 517.7L106.5 519.7L108.4 518.6ZM106 517.7L104.3 518.3L104.7 520.4L106.5 519.7ZM104.3 518.3L103 518.5L103.4 520.6L104.7 520.4ZM103 518.5L102.1 518.3L102.6 520.3L103.4 520.6Z" fill="#8a8a8a" stroke="#8a8a8a" stroke-width="0.6"/>
<path d="M83.4 347.6L85.3 349.3M86.3 353.8L84.4 352.1M85.3 349.3L86.6 351.5M87.6 356L86.3 353.8M66.8 371.1L67.3 369.8M68.3 374.3L67.8 375.6M67.3 369.8L68.5 368.4M69.5 372.9L68.3 374.3M68.5 368.4L70.3 367M71.3 371.5L69.5 372.9M70.3 367L72.7 365.8M73.7 370.3L71.3 371.5M72.7 365.8L75.5 364.8M76.5 369.3L73.7 370.3M75.5 364.8L78.5 364.3M79.5 368.7L76.5 369.3M78.5 364.3L81.5 364.2M82.5 368.7L79.5 368.7M81.5 364.2L84.4 364.7M85.4 369.2L82.5 368.7M84.4 364.7L86.9 365.7M87.9 370.2L85.4 369.2M86.9 365.7L88.8 367.3M89.8 371.8L87.9 370.2M88.8 367.3L90.2 369.4M91.2 373.9L89.8 371.8M90.2 369.4L90.9 371.9M91.9 376.4L91.2 373.9M71.1 389.5L71.5 388.2M72.5 392.7L72.1 393.9M71.5 388.2L72.6 386.9M73.6 391.4L72.5 392.7M72.6 386.9L74.3 385.5M75.3 390L73.6 391.4M74.3 385.5L76.5 384.3M77.5 388.8L75.3 390M76.5 384.3L79.2 383.3M80.2 387.8L77.5 388.8M79.2 383.3L82.1 382.7M83.1 387.2L80.2 387.8M82.1 382.7L85 382.6M86 387.1L83.1 387.2M85 382.6L87.9 383M88.9 387.5L86 387.1M87.9 383L90.3 383.9M91.3 388.4L88.9 387.5M90.3 383.9L92.4 385.4M93.4 389.9L91.3 388.4M92.4 385.4L93.8 387.4M94.8 391.9L93.4 389.9M93.8 387.4L94.5 389.8M95.5 394.3L94.8 391.9M75.5 407.8L75.7 406.6M76.7 411.1L76.5 412.2M75.7 406.6L76.7 405.3M77.7 409.8L76.7 411.1M76.7 405.3L78.3 404M79.3 408.5L77.7 409.8M78.3 404L80.4 402.8M81.4 407.3L79.3 408.5M80.4 402.8L82.9 401.8M83.9 406.3L81.4 407.3M82.9 401.8L85.7 401.1M86.7 405.6L83.9 406.3M85.7 401.1L88.6 401M89.6 405.4L86.7 405.6M88.6 401L91.4 401.3M92.4 405.8L89.6 405.4M91.4 401.3L93.8 402.1M94.8 406.6L92.4 405.8M93.8 402.1L95.9 403.5M96.9 408L94.8 406.6M95.9 403.5L97.4 405.4M98.4 409.9L96.9 408M97.4 405.4L98.2 407.7M99.2 412.2L98.4 409.9M79.9 426L80 425M81 429.5L80.9 430.5M80 425L80.8 423.8M81.8 428.3L81 429.5M80.8 423.8L82.3 422.5M83.3 427L81.8 428.3M82.3 422.5L84.3 421.3M85.3 425.8L83.3 427M84.3 421.3L86.7 420.3M87.7 424.8L85.3 425.8M86.7 420.3L89.4 419.6M90.4 424.1L87.7 424.8M89.4 419.6L92.2 419.3M93.2 423.8L90.4 424.1M92.2 419.3L94.9 419.6M95.9 424.1L93.2 423.8M94.9 419.6L97.3 420.3M98.3 424.8L95.9 424.1M97.3 420.3L99.4 421.6M100.4 426.1L98.3 424.8M99.4 421.6L100.9 423.4M101.9 427.9L100.4 426.1M100.9 423.4L101.9 425.6M102.8 430.1L101.9 427.9M84.2 444.3L84.3 443.3M85.3 447.8L85.2 448.8M84.3 443.3L85 442.2M86 446.7L85.3 447.8M85 442.2L86.3 440.9M87.3 445.4L86 446.7M86.3 440.9L88.2 439.8M89.2 444.2L87.3 445.4M88.2 439.8L90.5 438.8M91.5 443.2L89.2 444.2M90.5 438.8L93.1 438.1M94.1 442.5L91.5 443.2M93.1 438.1L95.8 437.7M96.8 442.2L94.1 442.5M95.8 437.7L98.4 437.9M99.4 442.4L96.8 442.2M98.4 437.9L100.9 438.6M101.9 443.1L99.4 442.4M100.9 438.6L102.9 439.8M103.9 444.2L101.9 443.1M102.9 439.8L104.5 441.4M105.5 445.9L103.9 444.2M104.5 441.4L105.5 443.5M106.5 448L105.5 445.9M88.6 462.5L88.6 461.7M89.6 466.2L89.6 467M88.6 461.7L89.2 460.6M90.2 465.1L89.6 466.2M89.2 460.6L90.4 459.4M91.4 463.9L90.2 465.1M90.4 459.4L92.1 458.2M93.1 462.7L91.4 463.9M92.1 458.2L94.3 457.2M95.3 461.7L93.1 462.7M94.3 457.2L96.8 456.5M97.8 461L95.3 461.7M96.8 456.5L99.4 456.2M100.4 460.7L97.8 461M99.4 456.2L102 456.3M103 460.7L100.4 460.7M102 456.3L104.4 456.8M105.4 461.3L103 460.7M104.4 456.8L106.5 457.9M107.5 462.4L105.4 461.3M106.5 457.9L108.1 459.5M109.1 464L107.5 462.4M108.1 459.5L109.1 461.5M110.1 465.9L109.1 464M93 480.7L92.9 480M93.9 484.5L94 485.2M92.9 480L93.4 479M94.4 483.4L93.9 484.5M93.4 479L94.5 477.8M95.5 482.3L94.4 483.4M94.5 477.8L96.1 476.7M97.1 481.2L95.5 482.3M96.1 476.7L98.1 475.7M99.1 480.2L97.1 481.2M98.1 475.7L100.5 475M101.5 479.5L99.1 480.2M100.5 475L103 474.6M104 479.1L101.5 479.5M103 474.6L105.6 474.6M106.6 479.1L104 479.1M105.6 474.6L107.9 475.1M108.9 479.6L106.6 479.1M107.9 475.1L110 476.1M111 480.6L108.9 479.6M110 476.1L111.6 477.5M112.6 482L111 480.6M111.6 477.5L112.7 479.4M113.7 483.9L112.6 482M112.7 479.4L113.2 481.6M114.2 486.1L113.7 483.9M97.2 498.2L97.6 497.3M98.6 501.8L98.2 502.7M97.6 497.3L98.6 496.3M99.6 500.7L98.6 501.8M98.6 496.3L100.1 495.2M101.1 499.7L99.6 500.7M100.1 495.2L102 494.2M103 498.7L101.1 499.7M102 494.2L104.3 493.4M105.3 497.9L103 498.7M104.3 493.4L106.7 493M107.7 497.5L105.3 497.9M106.7 493L109.2 493M110.2 497.5L107.7 497.5M109.2 493L111.5 493.4M112.5 497.9L110.2 497.5M111.5 493.4L113.5 494.3M114.5 498.8L112.5 497.9M113.5 494.3L115.2 495.6M116.2 500.1L114.5 498.8M115.2 495.6L116.3 497.4M117.3 501.9L116.2 500.1M116.3 497.4L116.9 499.5M117.9 504L117.3 501.9" fill="none" stroke="#5a5a5a" stroke-width="1.1"/>
<path d="M83.4 347.6L85.3 349.3L86.3 353.8L84.4 352.1ZM85.3 349.3L86.6 351.5L87.6 356L86.3 353.8ZM66.8 371.1L67.3 369.8L68.3 374.3L67.8 375.6ZM67.3 369.8L68.5 368.4L69.5 372.9L68.3 374.3ZM68.5 368.4L70.3 367L71.3 371.5L69.5 372.9ZM70.3 367L72.7 365.8L73.7 370.3L71.3 371.5ZM72.7 365.8L75.5 364.8L76.5 369.3L73.7 370.3ZM75.5 364.8L78.5 364.3L79.5 368.7L76.5 369.3ZM78.5 364.3L81.5 364.2L82.5 368.7L79.5 368.7ZM81.5 364.2L84.4 364.7L85.4 369.2L82.5 368.7ZM84.4 364.7L86.9 365.7L87.9 370.2L85.4 369.2ZM86.9 365.7L88.8 367.3L89.8 371.8L87.9 370.2ZM88.8 367.3L90.2 369.4L91.2 373.9L89.8 371.8ZM90.2 369.4L90.9 371.9L91.9 376.4L91.2 373.9ZM71.1 389.5L71.5 388.2L72.5 392.7L72.1 393.9ZM71.5 388.2L72.6 386.9L73.6 391.4L72.5 392.7ZM72.6 386.9L74.3 385.5L75.3 390L73.6 391.4ZM74.3 385.5L76.5 384.3L77.5 388.8L75.3 390ZM76.5 384.3L79.2 383.3L80.2 387.8L77.5 388.8ZM79.2 383.3L82.1 382.7L83.1 387.2L80.2 387.8ZM82.1 382.7L85 382.6L86 387.1L83.1 387.2ZM85 382.6L87.9 383L88.9 387.5L86 387.1ZM87.9 383L90.3 383.9L91.3 388.4L88.9 387.5ZM90.3 383.9L92.4 385.4L93.4 389.9L91.3 388.4ZM92.4 385.4L93.8 387.4L94.8 391.9L93.4 389.9ZM93.8 387.4L94.5 389.8L95.5 394.3L94.8 391.9ZM75.5 407.8L75.7 406.6L76.7 411.1L76.5 412.2ZM75.7 406.6L76.7 405.3L77.7 409.8L76.7 411.1ZM76.7 405.3L78.3 404L79.3 408.5L77.7 409.8ZM78.3 404L80.4 402.8L81.4 407.3L79.3 408.5ZM80.4 402.8L82.9 401.8L83.9 406.3L81.4 407.3ZM82.9 401.8L85.7 401.1L86.7 405.6L83.9 406.3ZM85.7 401.1L88.6 401L89.6 405.4L86.7 405.6ZM88.6 401L91.4 401.3L92.4 405.8L89.6 405.4ZM91.4 401.3L93.8 402.1L94.8 406.6L92.4 405.8ZM93.8 402.1L95.9 403.5L96.9 408L94.8 406.6ZM95.9 403.5L97.4 405.4L98.4 409.9L96.9 408ZM97.4 405.4L98.2 407.7L99.2 412.2L98.4 409.9ZM79.9 426L80 425L81 429.5L80.9 430.5ZM80 425L80.8 423.8L81.8 428.3L81 429.5ZM80.8 423.8L82.3 422.5L83.3 427L81.8 428.3ZM82.3 422.5L84.3 421.3L85.3 425.8L83.3 427ZM84.3 421.3L86.7 420.3L87.7 424.8L85.3 425.8ZM86.7 420.3L89.4 419.6L90.4 424.1L87.7 424.8ZM89.4 419.6L92.2 419.3L93.2 423.8L90.4 424.1ZM92.2 419.3L94.9 419.6L95.9 424.1L93.2 423.8ZM94.9 419.6L97.3 420.3L98.3 424.8L95.9 424.1ZM97.3 420.3L99.4 421.6L100.4 426.1L98.3 424.8ZM99.4 421.6L100.9 423.4L101.9 427.9L100.4 426.1ZM100.9 423.4L101.9 425.6L102.8 430.1L101.9 427.9ZM84.2 444.3L84.3 443.3L85.3 447.8L85.2 448.8ZM84.3 443.3L85 442.2L86 446.7L85.3 447.8ZM85 442.2L86.3 440.9L87.3 445.4L86 446.7ZM86.3 440.9L88.2 439.8L89.2 444.2L87.3 445.4ZM88.2 439.8L90.5 438.8L91.5 443.2L89.2 444.2ZM90.5 438.8L93.1 438.1L94.1 442.5L91.5 443.2ZM93.1 438.1L95.8 437.7L96.8 442.2L94.1 442.5ZM95.8 437.7L98.4 437.9L99.4 442.4L96.8 442.2ZM98.4 437.9L100.9 438.6L101.9 443.1L99.4 442.4ZM100.9 438.6L102.9 439.8L103.9 444.2L101.9 443.1ZM102.9 439.8L104.5 441.4L105.5 445.9L103.9 444.2ZM104.5 441.4L105.5 443.5L106.5 448L105.5 445.9ZM88.6 462.5L88.6 461.7L89.6 466.2L89.6 467ZM88.6 461.7L89.2 460.6L90.2 465.1L89.6 466.2ZM89.2 460.6L90.4 459.4L91.4 463.9L90.2 465.1ZM90.4 459.4L92.1 458.2L93.1 462.7L91.4 463.9ZM92.1 458.2L94.3 457.2L95.3 461.7L93.1 462.7ZM94.3 457.2L96.8 456.5L97.8 461L95.3 461.7ZM96.8 456.5L99.4 456.2L100.4 460.7L97.8 461ZM99.4 456.2L102 456.3L103 460.7L100.4 460.7ZM102 456.3L104.4 456.8L105.4 461.3L103 460.7ZM104.4 456.8L106.5 457.9L107.5 462.4L105.4 461.3ZM106.5 457.9L108.1 459.5L109.1 464L107.5 462.4ZM108.1 459.5L109.1 461.5L110.1 465.9L109.1 464ZM93 480.7L92.9 480L93.9 484.5L94 485.2ZM92.9 480L93.4 479L94.4 483.4L93.9 484.5ZM93.4 479L94.5 477.8L95.5 482.3L94.4 483.4ZM94.5 477.8L96.1 476.7L97.1 481.2L95.5 482.3ZM96.1 476.7L98.1 475.7L99.1 480.2L97.1 481.2ZM98.1 475.7L100.5 475L101.5 479.5L99.1 480.2ZM100.5 475L103 474.6L104 479.1L101.5 479.5ZM103 474.6L105.6 474.6L106.6 479.1L104 479.1ZM105.6 474.6L107.9 475.1L108.9 479.6L106.6 479.1ZM107.9 475.1L110 476.1L111 480.6L108.9 479.6ZM110 476.1L111.6 477.5L112.6 482L111 480.6ZM111.6 477.5L112.7 479.4L113.7 483.9L112.6 482ZM112.7 479.4L113.2 481.6L114.2 486.1L113.7 483.9ZM97.2 498.2L97.6 497.3L98.6 501.8L98.2 502.7ZM97.6 497.3L98.6 496.3L99.6 500.7L98.6 501.8ZM98.6 496.3L100.1 495.2L101.1 499.7L99.6 500.7ZM100.1 495.2L102 494.2L103 498.7L101.1 499.7ZM102 494.2L104.3 493.4L105.3 497.9L103 498.7ZM104.3 493.4L106.7 493L107.7 497.5L105.3 497.9ZM106.7 493L109.2 493L110.2 497.5L107.7 497.5ZM109.2 493L111.5 493.4L112.5 497.9L110.2 497.5ZM111.5 493.4L113.5 494.3L114.5 498.8L112.5 497.9ZM113.5 494.3L115.2 495.6L116.2 500.1L114.5 498.8ZM115.2 495.6L116.3 497.4L117.3 501.9L116.2 500.1ZM116.3 497.4L116.9 499.5L117.9 504L117.3 501.9Z" fill="#b4b4b4" stroke="#b4b4b4" stroke-width="0.6"/>
<path d="M84.4 387.3L84.5 386.8M85.7 388.4L85.7 389M84.5 386.8L85.1 386M86.4 387.7L85.7 388.4M85.1 386L86.4 385.2M87.6 386.8L86.4 387.7M86.4 385.2L88.2 384.2M89.5 385.9L87.6 386.8M88.2 384.2L90.5 383.4M91.8 385.1L89.5 385.9M90.5 383.4L93.2 382.7M94.4 384.4L91.8 385.1M93.2 382.7L96 382.2M97.2 383.9L94.4 384.4M96 382.2L98.9 382.1M100.1 383.7L97.2 383.9M98.9 382.1L101.6 382.2M102.8 383.9L100.1 383.7M101.6 382.2L104 382.8M105.3 384.4L102.8 383.9M104 382.8L106 383.7M107.3 385.3L105.3 384.4M106 383.7L107.5 384.9M108.8 386.6L107.3 385.3M94.2 400.4L94 400M95.2 401.7L95.5 402.1M94 400L94.4 399.4M95.6 401L95.2 401.7M94.4 399.4L95.4 398.5M96.6 400.2L95.6 401M95.4 398.5L97 397.6M98.2 399.3L96.6 400.2M97 397.6L99.1 396.8M100.3 398.4L98.2 399.3M99.1 396.8L101.6 396M102.8 397.6L100.3 398.4M101.6 396L104.4 395.4M105.6 397.1L102.8 397.6M104.4 395.4L107.2 395.1M108.5 396.8L105.6 397.1M107.2 395.1L110 395.1M111.3 396.8L108.5 396.8M110 395.1L112.6 395.5M113.8 397.2L111.3 396.8M112.6 395.5L114.8 396.2M116.1 397.9L113.8 397.2M114.8 396.2L116.6 397.3M117.8 399L116.1 397.9M116.6 397.3L117.7 398.8M119 400.4L117.8 399M103.7 413.3L103.8 412.7M105 414.4L104.9 414.9M103.8 412.7L104.5 411.9M105.7 413.6L105 414.4M104.5 411.9L105.8 411M107.1 412.7L105.7 413.6M105.8 411L107.7 410.1M109 411.8L107.1 412.7M107.7 410.1L110.1 409.3M111.3 411L109 411.8M110.1 409.3L112.7 408.6M114 410.3L111.3 411M112.7 408.6L115.6 408.2M116.8 409.9L114 410.3M115.6 408.2L118.4 408.1M119.7 409.7L116.8 409.9M118.4 408.1L121.1 408.3M122.4 409.9L119.7 409.7M121.1 408.3L123.5 408.9M124.8 410.5L122.4 409.9M123.5 408.9L125.5 409.8M126.7 411.5L124.8 410.5M125.5 409.8L126.9 411.1M128.2 412.8L126.7 411.5M113.4 426.4L113.3 426M114.5 427.6L114.7 428.1M113.3 426L113.7 425.3M114.9 426.9L114.5 427.6M113.7 425.3L114.8 424.4M116 426.1L114.9 426.9M114.8 424.4L116.5 423.5M117.7 425.2L116 426.1M116.5 423.5L118.6 422.7M119.8 424.3L117.7 425.2M118.6 422.7L121.2 421.9M122.4 423.6L119.8 424.3M121.2 421.9L123.9 421.4M125.2 423L122.4 423.6M123.9 421.4L126.8 421.1M128 422.7L125.2 423M126.8 421.1L129.6 421.1M130.8 422.8L128 422.7M129.6 421.1L132.1 421.6M133.4 423.2L130.8 422.8" fill="none" stroke="#5a5a5a" stroke-width="1.1"/>
<path d="M84.4 387.3L84.5 386.8L85.7 388.4L85.7 389ZM84.5 386.8L85.1 386L86.4 387.7L85.7 388.4ZM85.1 386L86.4 385.2L87.6 386.8L86.4 387.7ZM86.4 385.2L88.2 384.2L89.5 385.9L87.6 386.8ZM88.2 384.2L90.5 383.4L91.8 385.1L89.5 385.9ZM90.5 383.4L93.2 382.7L94.4 384.4L91.8 385.1ZM93.2 382.7L96 382.2L97.2 383.9L94.4 384.4ZM96 382.2L98.9 382.1L100.1 383.7L97.2 383.9ZM98.9 382.1L101.6 382.2L102.8 383.9L100.1 383.7ZM101.6 382.2L104 382.8L105.3 384.4L102.8 383.9ZM104 382.8L106 383.7L107.3 385.3L105.3 384.4ZM106 383.7L107.5 384.9L108.8 386.6L107.3 385.3ZM94.2 400.4L94 400L95.2 401.7L95.5 402.1ZM94 400L94.4 399.4L95.6 401L95.2 401.7ZM94.4 399.4L95.4 398.5L96.6 400.2L95.6 401ZM95.4 398.5L97 397.6L98.2 399.3L96.6 400.2ZM97 397.6L99.1 396.8L100.3 398.4L98.2 399.3ZM99.1 396.8L101.6 396L102.8 397.6L100.3 398.4ZM101.6 396L104.4 395.4L105.6 397.1L102.8 397.6ZM104.4 395.4L107.2 395.1L108.5 396.8L105.6 397.1ZM107.2 395.1L110 395.1L111.3 396.8L108.5 396.8ZM110 395.1L112.6 395.5L113.8 397.2L111.3 396.8ZM112.6 395.5L114.8 396.2L116.1 397.9L113.8 397.2ZM114.8 396.2L116.6 397.3L117.8 399L116.1 397.9ZM116.6 397.3L117.7 398.8L119 400.4L117.8 399ZM103.7 413.3L103.8 412.7L105 414.4L104.9 414.9ZM103.8 412.7L104.5 411.9L105.7 413.6L105 414.4ZM104.5 411.9L105.8 411L107.1 412.7L105.7 413.6ZM105.8 411L107.7 410.1L109 411.8L107.1 412.7ZM107.7 410.1L110.1 409.3L111.3 411L109 411.8ZM110.1 409.3L112.7 408.6L114 410.3L111.3 411ZM112.7 408.6L115.6 408.2L116.8 409.9L114 410.3ZM115.6 408.2L118.4 408.1L119.7 409.7L116.8 409.9ZM118.4 408.1L121.1 408.3L122.4 409.9L119.7 409.7ZM121.1 408.3L123.5 408.9L124.8 410.5L122.4 409.9ZM123.5 408.9L125.5 409.8L126.7 411.5L124.8 410.5ZM125.5 409.8L126.9 411.1L128.2 412.8L126.7 411.5ZM113.4 426.4L113.3 426L114.5 427.6L114.7 428.1ZM113.3 426L113.7 425.3L114.9 426.9L114.5 427.6ZM113.7 425.3L114.8 424.4L116 426.1L114.9 426.9ZM114.8 424.4L116.5 423.5L117.7 425.2L116 426.1ZM116.5 423.5L118.6 422.7L119.8 424.3L117.7 425.2ZM118.6 422.7L121.2 421.9L122.4 423.6L119.8 424.3ZM121.2 421.9L123.9 421.4L125.2 423L122.4 423.6ZM123.9 421.4L126.8 421.1L128 422.7L125.2 423ZM126.8 421.1L129.6 421.1L130.8 422.8L128 422.7ZM129.6 421.1L132.1 421.6L133.4 423.2L130.8 422.8Z" fill="#8a8a8a" stroke="#8a8a8a" stroke-width="0.6"/>
<path d="M98.3 373.2L98.3 375M101 378.7L101 376.9M98.3 375L97.6 377M100.4 380.7L101 378.7M97.6 377L96.5 379M99.2 382.7L100.4 380.7M96.5 379L94.9 380.8M97.6 384.5L99.2 382.7M94.9 380.8L93 382.6M95.7 386.3L97.6 384.5M93 382.6L90.9 384M93.7 387.7L95.7 386.3M90.9 384L88.9 385.2M91.6 388.9L93.7 387.7M88.9 385.2L87 386M89.7 389.7L91.6 388.9M87 386L85.4 386.5M88.1 390.2L89.7 389.7M85.4 386.5L84.3 386.5M87 390.2L88.1 390.2M84.3 386.5L83.7 386.3M86.4 390L87 390.2M106.8 383.9L107.7 385.4M110.4 389.1L109.5 387.6M107.7 385.4L108 387.2M110.7 390.9L110.4 389.1M108 387.2L107.6 389.1M110.3 392.8L110.7 390.9M107.6 389.1L106.7 391.1M109.4 394.8L110.3 392.8M106.7 391.1L105.3 393M108 396.7L109.4 394.8M105.3 393L103.5 394.8M106.2 398.5L108 396.7M103.5 394.8L101.5 396.4M104.2 400.1L106.2 398.5M101.5 396.4L99.4 397.7M102.1 401.4L104.2 400.1M99.4 397.7L97.4 398.7M100.1 402.4L102.1 401.4M97.4 398.7L95.7 399.3M98.4 403L100.1 402.4M95.7 399.3L94.3 399.5M97.1 403.2L98.4 403M94.3 399.5L93.5 399.4M96.2 403.1L97.1 403.2M117 397.7L117.5 399.4M120.3 403.1L119.7 401.4M117.5 399.4L117.5 401.3M120.2 405L120.3 403.1M117.5 401.3L116.8 403.2M119.5 406.9L120.2 405M116.8 403.2L115.6 405.2M118.3 408.9L119.5 406.9M115.6 405.2L113.9 407.1M116.7 410.8L118.3 408.9M113.9 407.1L112 408.8M114.7 412.4L116.7 410.8M112 408.8L109.9 410.2M112.7 413.9L114.7 412.4M109.9 410.2L107.9 411.3M110.6 415L112.7 413.9M107.9 411.3L106 412.1M108.7 415.8L110.6 415M106 412.1L104.5 412.5M107.2 416.2L108.7 415.8M104.5 412.5L103.4 412.5M106.2 416.2L107.2 416.2M103.4 412.5L102.9 412.2M105.6 415.9L106.2 416.2M126.2 410.1L127 411.6M129.7 415.3L128.9 413.8M127 411.6L127.2 413.4M129.9 417.1L129.7 415.3M127.2 413.4L126.8 415.4M129.5 419.1L129.9 417.1M126.8 415.4L125.8 417.3M128.5 421L129.5 419.1M125.8 417.3L124.3 419.3M127 423L128.5 421M124.3 419.3L122.5 421M125.2 424.7L127 423M122.5 421L120.5 422.6M123.2 426.3L125.2 424.7M120.5 422.6L118.4 423.9M121.1 427.6L123.2 426.3M118.4 423.9L116.4 424.8M119.2 428.5L121.1 427.6M116.4 424.8L114.7 425.4M117.5 429L119.2 428.5M114.7 425.4L113.4 425.5M116.2 429.2L117.5 429M113.4 425.5L112.7 425.4M115.4 429.1L116.2 429.2" fill="none" stroke="#5a5a5a" stroke-width="1.1"/>
<path d="M98.3 373.2L98.3 375L101 378.7L101 376.9ZM98.3 375L97.6 377L100.4 380.7L101 378.7ZM97.6 377L96.5 379L99.2 382.7L100.4 380.7ZM96.5 379L94.9 380.8L97.6 384.5L99.2 382.7ZM94.9 380.8L93 382.6L95.7 386.3L97.6 384.5ZM93 382.6L90.9 384L93.7 387.7L95.7 386.3ZM90.9 384L88.9 385.2L91.6 388.9L93.7 387.7ZM88.9 385.2L87 386L89.7 389.7L91.6 388.9ZM87 386L85.4 386.5L88.1 390.2L89.7 389.7ZM85.4 386.5L84.3 386.5L87 390.2L88.1 390.2ZM84.3 386.5L83.7 386.3L86.4 390L87 390.2ZM106.8 383.9L107.7 385.4L110.4 389.1L109.5 387.6ZM107.7 385.4L108 387.2L110.7 390.9L110.4 389.1ZM108 387.2L107.6 389.1L110.3 392.8L110.7 390.9ZM107.6 389.1L106.7 391.1L109.4 394.8L110.3 392.8ZM106.7 391.1L105.3 393L108 396.7L109.4 394.8ZM105.3 393L103.5 394.8L106.2 398.5L108 396.7ZM103.5 394.8L101.5 396.4L104.2 400.1L106.2 398.5ZM101.5 396.4L99.4 397.7L102.1 401.4L104.2 400.1ZM99.4 397.7L97.4 398.7L100.1 402.4L102.1 401.4ZM97.4 398.7L95.7 399.3L98.4 403L100.1 402.4ZM95.7 399.3L94.3 399.5L97.1 403.2L98.4 403ZM94.3 399.5L93.5 399.4L96.2 403.1L97.1 403.2ZM117 397.7L117.5 399.4L120.3 403.1L119.7 401.4ZM117.5 399.4L117.5 401.3L120.2 405L120.3 403.1ZM117.5 401.3L116.8 403.2L119.5 406.9L120.2 405ZM116.8 403.2L115.6 405.2L118.3 408.9L119.5 406.9ZM115.6 405.2L113.9 407.1L116.7 410.8L118.3 408.9ZM113.9 407.1L112 408.8L114.7 412.4L116.7 410.8ZM112 408.8L109.9 410.2L112.7 413.9L114.7 412.4ZM109.9 410.2L107.9 411.3L110.6 415L112.7 413.9ZM107.9 411.3L106 412.1L108.7 415.8L110.6 415ZM106 412.1L104.5 412.5L107.2 416.2L108.7 415.8ZM104.5 412.5L103.4 412.5L106.2 416.2L107.2 416.2ZM103.4 412.5L102.9 412.2L105.6 415.9L106.2 416.2ZM126.2 410.1L127 411.6L129.7 415.3L128.9 413.8ZM127 411.6L127.2 413.4L129.9 417.1L129.7 415.3ZM127.2 413.4L126.8 415.4L129.5 419.1L129.9 417.1ZM126.8 415.4L125.8 417.3L128.5 421L129.5 419.1ZM125.8 417.3L124.3 419.3L127 423L128.5 421ZM124.3 419.3L122.5 421L125.2 424.7L127 423ZM122.5 421L120.5 422.6L123.2 426.3L125.2 424.7ZM120.5 422.6L118.4 423.9L121.1 427.6L123.2 426.3ZM118.4 423.9L116.4 424.8L119.2 428.5L121.1 427.6ZM116.4 424.8L114.7 425.4L117.5 429L119.2 428.5ZM114.7 425.4L113.4 425.5L116.2 429.2L117.5 429ZM113.4 425.5L112.7 425.4L115.4 429.1L116.2 429.2Z" fill="#b4b4b4" stroke="#b4b4b4" stroke-width="0.6"/>
<path d="M125.8 373L126.2 375.1M126.7 377.1L126.2 375M126.2 375.1L126.1 377.4M126.6 379.4L126.7 377.1M126.1 377.4L125.4 379.9M125.9 381.9L126.6 379.4M125.4 379.9L124.2 382.3M124.6 384.3L125.9 381.9M124.2 382.3L122.6 384.6M123 386.6L124.6 384.3M122.6 384.6L120.7 386.7M121.1 388.7L123 386.6M120.7 386.7L118.6 388.5M119 390.5L121.1 388.7M118.6 388.5L116.5 389.8M116.9 391.9L119 390.5M116.5 389.8L114.5 390.8M115 392.8L116.9 391.9M114.5 390.8L112.9 391.2M113.3 393.2L115 392.8M112.9 391.2L111.6 391.2M112.1 393.3L113.3 393.2M111.6 391.2L110.9 390.9M111.3 392.9L112.1 393.3M110.9 390.9L110.7 390.1M111.1 392.2L111.3 392.9M129.9 391.4L129.8 393.7M130.3 395.7L130.3 393.4M129.8 393.7L129.2 396.1M129.6 398.1L130.3 395.7M129.2 396.1L128.1 398.6M128.5 400.6L129.6 398.1M128.1 398.6L126.5 400.9M126.9 402.9L128.5 400.6M126.5 400.9L124.6 403M125 405.1L126.9 402.9M124.6 403L122.5 404.9M123 406.9L125 405.1M122.5 404.9L120.4 406.3M120.9 408.3L123 406.9M120.4 406.3L118.4 407.3M118.9 409.3L120.9 408.3M118.4 407.3L116.7 407.8M117.2 409.8L118.9 409.3M116.7 407.8L115.4 407.9M115.9 409.9L117.2 409.8M115.4 407.9L114.6 407.5M115 409.5L115.9 409.9M114.6 407.5L114.3 406.9M114.8 408.9L115 409.5M133.5 407.7L133.5 410M134 412L133.9 409.7M133.5 410L133 412.4M133.4 414.4L134 412M133 412.4L131.9 414.8M132.3 416.9L133.4 414.4M131.9 414.8L130.4 417.2M130.8 419.2L132.3 416.9M130.4 417.2L128.5 419.4M129 421.4L130.8 419.2M128.5 419.4L126.5 421.2M126.9 423.3L129 421.4M126.5 421.2L124.4 422.7M124.8 424.7L126.9 423.3M124.4 422.7L122.4 423.8M122.8 425.8L124.8 424.7M122.4 423.8L120.6 424.3M121 426.4L122.8 425.8M120.6 424.3L119.2 424.5M119.7 426.5L121 426.4M119.2 424.5L118.3 424.2M118.8 426.2L119.7 426.5M118.3 424.2L118 423.6M118.4 425.6L118.8 426.2M137.1 424L137.2 426.2M137.7 428.3L137.6 426M137.2 426.2L136.7 428.7M137.2 430.7L137.7 428.3M136.7 428.7L135.7 431.1M136.2 433.1L137.2 430.7M135.7 431.1L134.3 433.5M134.7 435.5L136.2 433.1M134.3 433.5L132.4 435.7M132.9 437.7L134.7 435.5M132.4 435.7L130.4 437.6M130.8 439.6L132.9 437.7M130.4 437.6L128.3 439.1M128.7 441.2L130.8 439.6M128.3 439.1L126.3 440.2M126.7 442.3L128.7 441.2M126.3 440.2L124.5 440.9M124.9 442.9L126.7 442.3M124.5 440.9L123 441.1M123.5 443.1L124.9 442.9M123 441.1L122.1 440.9M122.5 442.9L123.5 443.1M122.1 440.9L121.7 440.3M122.1 442.3L122.5 442.9M140.7 440.3L140.9 442.5M141.3 444.5L141.2 442.3M140.9 442.5L140.5 444.9M140.9 446.9L141.3 444.5M140.5 444.9L139.6 447.4M140 449.4L140.9 446.9M139.6 447.4L138.1 449.8M138.6 451.8L140 449.4M138.1 449.8L136.4 452M136.8 454L138.6 451.8M136.4 452L134.3 454M134.8 456L136.8 454M134.3 454L132.2 455.6M132.7 457.6L134.8 456M132.2 455.6L130.2 456.7M130.6 458.7L132.7 457.6M130.2 456.7L128.4 457.4M128.8 459.5L130.6 458.7M128.4 457.4L126.9 457.7M127.3 459.7L128.8 459.5M126.9 457.7L125.8 457.5M126.3 459.5L127.3 459.7M125.8 457.5L125.3 457M125.8 459L126.3 459.5M144.3 456.6L144.6 458.8M145 460.8L144.7 458.6M144.6 458.8L144.2 461.2M144.7 463.2L145 460.8M144.2 461.2L143.4 463.7M143.8 465.7L144.7 463.2M143.4 463.7L142 466.1M142.5 468.1L143.8 465.7M142 466.1L140.3 468.3M140.7 470.4L142.5 468.1M140.3 468.3L138.3 470.3M138.7 472.3L140.7 470.4M138.3 470.3L136.2 472M136.6 474L138.7 472.3M136.2 472L134.1 473.2M134.6 475.2L136.6 474M134.1 473.2L132.3 474M132.7 476L134.6 475.2M132.3 474L130.7 474.3M131.2 476.3L132.7 476M130.7 474.3L129.6 474.2M130.1 476.2L131.2 476.3M129.6 474.2L129 473.7M129.5 475.7L130.1 476.2M147.9 472.9L148.2 475.1M148.7 477.1L148.3 475M148.2 475.1L148 477.5M148.4 479.5L148.7 477.1M148 477.5L147.2 479.9M147.6 481.9L148.4 479.5M147.2 479.9L145.9 482.4M146.3 484.4L147.6 481.9M145.9 482.4L144.2 484.6M144.6 486.7L146.3 484.4M144.2 484.6L142.2 486.7M142.7 488.7L144.6 486.7M142.2 486.7L140.1 488.4M140.6 490.4L142.7 488.7M140.1 488.4L138.1 489.7M138.5 491.7L140.6 490.4M138.1 489.7L136.2 490.5M136.6 492.5L138.5 491.7M136.2 490.5L134.6 490.9M135 492.9L136.6 492.5M134.6 490.9L133.4 490.8M133.8 492.8L135 492.9M133.4 490.8L132.7 490.3M133.2 492.4L133.8 492.8M151.4 489.3L151.9 491.4M152.3 493.4L151.9 491.3M151.9 491.4L151.7 493.7M152.2 495.8L152.3 493.4M151.7 493.7L151 496.2M151.4 498.2L152.2 495.8M151 496.2L149.7 498.6M150.2 500.7L151.4 498.2M149.7 498.6L148.1 500.9M148.5 503L150.2 500.7M148.1 500.9L146.2 503M146.6 505L148.5 503M146.2 503L144.1 504.8M144.5 506.8L146.6 505M144.1 504.8L142 506.1M142.4 508.1L144.5 506.8M142 506.1L140.1 507M140.5 509L142.4 508.1M140.1 507L138.4 507.4M138.9 509.5L140.5 509M138.4 507.4L137.2 507.4M137.6 509.4L138.9 509.5M137.2 507.4L136.5 507M136.9 509L137.6 509.4M155.5 507.7L155.4 510M155.9 512L156 509.7M155.4 510L154.8 512.5M155.2 514.5L155.9 512M154.8 512.5L153.6 514.9M154 516.9L155.2 514.5M153.6 514.9L152 517.2M152.5 519.3L154 516.9M152 517.2L150.1 519.4M150.5 521.4L152.5 519.3M150.1 519.4L148 521.1M148.5 523.2L150.5 521.4M148 521.1L145.9 522.5M146.4 524.6L148.5 523.2" fill="none" stroke="#5a5a5a" stroke-width="1.1"/>
<path d="M125.8 373L126.2 375.1L126.7 377.1L126.2 375ZM126.2 375.1L126.1 377.4L126.6 379.4L126.7 377.1ZM126.1 377.4L125.4 379.9L125.9 381.9L126.6 379.4ZM125.4 379.9L124.2 382.3L124.6 384.3L125.9 381.9ZM124.2 382.3L122.6 384.6L123 386.6L124.6 384.3ZM122.6 384.6L120.7 386.7L121.1 388.7L123 386.6ZM120.7 386.7L118.6 388.5L119 390.5L121.1 388.7ZM118.6 388.5L116.5 389.8L116.9 391.9L119 390.5ZM116.5 389.8L114.5 390.8L115 392.8L116.9 391.9ZM114.5 390.8L112.9 391.2L113.3 393.2L115 392.8ZM112.9 391.2L111.6 391.2L112.1 393.3L113.3 393.2ZM111.6 391.2L110.9 390.9L111.3 392.9L112.1 393.3ZM110.9 390.9L110.7 390.1L111.1 392.2L111.3 392.9ZM129.9 391.4L129.8 393.7L130.3 395.7L130.3 393.4ZM129.8 393.7L129.2 396.1L129.6 398.1L130.3 395.7ZM129.2 396.1L128.1 398.6L128.5 400.6L129.6 398.1ZM128.1 398.6L126.5 400.9L126.9 402.9L128.5 400.6ZM126.5 400.9L124.6 403L125 405.1L126.9 402.9ZM124.6 403L122.5 404.9L123 406.9L125 405.1ZM122.5 404.9L120.4 406.3L120.9 408.3L123 406.9ZM120.4 406.3L118.4 407.3L118.9 409.3L120.9 408.3ZM118.4 407.3L116.7 407.8L117.2 409.8L118.9 409.3ZM116.7 407.8L115.4 407.9L115.9 409.9L117.2 409.8ZM115.4 407.9L114.6 407.5L115 409.5L115.9 409.9ZM114.6 407.5L114.3 406.9L114.8 408.9L115 409.5ZM133.5 407.7L133.5 410L134 412L133.9 409.7ZM133.5 410L133 412.4L133.4 414.4L134 412ZM133 412.4L131.9 414.8L132.3 416.9L133.4 414.4ZM131.9 414.8L130.4 417.2L130.8 419.2L132.3 416.9ZM130.4 417.2L128.5 419.4L129 421.4L130.8 419.2ZM128.5 419.4L126.5 421.2L126.9 423.3L129 421.4ZM126.5 421.2L124.4 422.7L124.8 424.7L126.9 423.3ZM124.4 422.7L122.4 423.8L122.8 425.8L124.8 424.7ZM122.4 423.8L120.6 424.3L121 426.4L122.8 425.8ZM120.6 424.3L119.2 424.5L119.7 426.5L121 426.4ZM119.2 424.5L118.3 424.2L118.8 426.2L119.7 426.5ZM118.3 424.2L118 423.6L118.4 425.6L118.8 426.2ZM137.1 424L137.2 426.2L137.7 428.3L137.6 426ZM137.2 426.2L136.7 428.7L137.2 430.7L137.7 428.3ZM136.7 428.7L135.7 431.1L136.2 433.1L137.2 430.7ZM135.7 431.1L134.3 433.5L134.7 435.5L136.2 433.1ZM134.3 433.5L132.4 435.7L132.9 437.7L134.7 435.5ZM132.4 435.7L130.4 437.6L130.8 439.6L132.9 437.7ZM130.4 437.6L128.3 439.1L128.7 441.2L130.8 439.6ZM128.3 439.1L126.3 440.2L126.7 442.3L128.7 441.2ZM126.3 440.2L124.5 440.9L124.9 442.9L126.7 442.3ZM124.5 440.9L123 441.1L123.5 443.1L124.9 442.9ZM123 441.1L122.1 440.9L122.5 442.9L123.5 443.1ZM122.1 440.9L121.7 440.3L122.1 442.3L122.5 442.9ZM140.7 440.3L140.9 442.5L141.3 444.5L141.2 442.3ZM140.9 442.5L140.5 444.9L140.9 446.9L141.3 444.5ZM140.5 444.9L139.6 447.4L140 449.4L140.9 446.9ZM139.6 447.4L138.1 449.8L138.6 451.8L140 449.4ZM138.1 449.8L136.4 452L136.8 454L138.6 451.8ZM136.4 452L134.3 454L134.8 456L136.8 454ZM134.3 454L132.2 455.6L132.7 457.6L134.8 456ZM132.2 455.6L130.2 456.7L130.6 458.7L132.7 457.6ZM130.2 456.7L128.4 457.4L128.8 459.5L130.6 458.7ZM128.4 457.4L126.9 457.7L127.3 459.7L128.8 459.5ZM126.9 457.7L125.8 457.5L126.3 459.5L127.3 459.7ZM125.8 457.5L125.3 457L125.8 459L126.3 459.5ZM144.3 456.6L144.6 458.8L145 460.8L144.7 458.6ZM144.6 458.8L144.2 461.2L144.7 463.2L145 460.8ZM144.2 461.2L143.4 463.7L143.8 465.7L144.7 463.2ZM143.4 463.7L142 466.1L142.5 468.1L143.8 465.7ZM142 466.1L140.3 468.3L140.7 470.4L142.5 468.1ZM140.3 468.3L138.3 470.3L138.7 472.3L140.7 470.4ZM138.3 470.3L136.2 472L136.6 474L138.7 472.3ZM136.2 472L134.1 473.2L134.6 475.2L136.6 474ZM134.1 473.2L132.3 474L132.7 476L134.6 475.2ZM132.3 474L130.7 474.3L131.2 476.3L132.7 476ZM130.7 474.3L129.6 474.2L130.1 476.2L131.2 476.3ZM129.6 474.2L129 473.7L129.5 475.7L130.1 476.2ZM147.9 472.9L148.2 475.1L148.7 477.1L148.3 475ZM148.2 475.1L148 477.5L148.4 479.5L148.7 477.1ZM148 477.5L147.2 479.9L147.6 481.9L148.4 479.5ZM147.2 479.9L145.9 482.4L146.3 484.4L147.6 481.9ZM145.9 482.4L144.2 484.6L144.6 486.7L146.3 484.4ZM144.2 484.6L142.2 486.7L142.7 488.7L144.6 486.7ZM142.2 486.7L140.1 488.4L140.6 490.4L142.7 488.7ZM140.1 488.4L138.1 489.7L138.5 491.7L140.6 490.4ZM138.1 489.7L136.2 490.5L136.6 492.5L138.5 491.7ZM136.2 490.5L134.6 490.9L135 492.9L136.6 492.5ZM134.6 490.9L133.4 490.8L133.8 492.8L135 492.9ZM133.4 490.8L132.7 490.3L133.2 492.4L133.8 492.8ZM151.4 489.3L151.9 491.4L152.3 493.4L151.9 491.3ZM151.9 491.4L151.7 493.7L152.2 495.8L152.3 493.4ZM151.7 493.7L151 496.2L151.4 498.2L152.2 495.8ZM151 496.2L149.7 498.6L150.2 500.7L151.4 498.2ZM149.7 498.6L148.1 500.9L148.5 503L150.2 500.7ZM148.1 500.9L146.2 503L146.6 505L148.5 503ZM146.2 503L144.1 504.8L144.5 506.8L146.6 505ZM144.1 504.8L142 506.1L142.4 508.1L144.5 506.8ZM142 506.1L140.1 507L140.5 509L142.4 508.1ZM140.1 507L138.4 507.4L138.9 509.5L140.5 509ZM138.4 507.4L137.2 507.4L137.6 509.4L138.9 509.5ZM137.2 507.4L136.5 507L136.9 509L137.6 509.4ZM155.5 507.7L155.4 510L155.9 512L156 509.7ZM155.4 510L154.8 512.5L155.2 514.5L155.9 512ZM154.8 512.5L153.6 514.9L154 516.9L155.2 514.5ZM153.6 514.9L152 517.2L152.5 519.3L154 516.9ZM152 517.2L150.1 519.4L150.5 521.4L152.5 519.3ZM150.1 519.4L148 521.1L148.5 523.2L150.5 521.4ZM148 521.1L145.9 522.5L146.4 524.6L148.5 523.2Z" fill="#8a8a8a" stroke="#8a8a8a" stroke-width="0.6"/>
<path d="M118.8 367.1L121 367.6M122 372.1L119.8 371.6M121 367.6L123 368.6M123.9 373.1L122 372.1M123 368.6L124.5 369.9M125.5 374.4L123.9 373.1M124.5 369.9L125.5 371.7M126.5 376.2L125.5 374.4M110.4 388.9L110.8 388M111.8 392.5L111.4 393.4M110.8 388L111.7 386.9M112.7 391.4L111.8 392.5M111.7 386.9L113.2 385.8M114.2 390.3L112.7 391.4M113.2 385.8L115.1 384.9M116.1 389.4L114.2 390.3M115.1 384.9L117.3 384.1M118.3 388.6L116.1 389.4M117.3 384.1L119.7 383.7M120.7 388.2L118.3 388.6M119.7 383.7L122.1 383.7M123.1 388.2L120.7 388.2M122.1 383.7L124.4 384.1M125.4 388.6L123.1 388.2M124.4 384.1L126.4 385M127.4 389.5L125.4 388.6M126.4 385L128 386.3M129 390.8L127.4 389.5M128 386.3L129.1 388.1M130.1 392.6L129 390.8M129.1 388.1L129.6 390.1M130.6 394.6L130.1 392.6M114 405.6L114.4 404.7M115.3 409.2L115 410.1M114.4 404.7L115.2 403.6M116.2 408.1L115.3 409.2M115.2 403.6L116.7 402.6M117.6 407.1L116.2 408.1M116.7 402.6L118.5 401.6M119.5 406.1L117.6 407.1M118.5 401.6L120.7 400.8M121.7 405.3L119.5 406.1M120.7 400.8L123.1 400.3M124 404.8L121.7 405.3M123.1 400.3L125.5 400.3M126.5 404.8L124 404.8M125.5 400.3L127.8 400.6M128.7 405.1L126.5 404.8M127.8 400.6L129.8 401.5M130.8 406L128.7 405.1M129.8 401.5L131.4 402.7M132.4 407.2L130.8 406M131.4 402.7L132.6 404.4M133.6 408.9L132.4 407.2M132.6 404.4L133.2 406.4M134.2 410.9L133.6 408.9M117.7 422.3L117.9 421.4M118.9 425.9L118.7 426.8M117.9 421.4L118.8 420.4M119.7 424.9L118.9 425.9M118.8 420.4L120.1 419.3M121.1 423.8L119.7 424.9M120.1 419.3L121.9 418.3M122.9 422.8L121.1 423.8M121.9 418.3L124 417.5M125 422L122.9 422.8M124 417.5L126.4 417M127.4 421.5L125 422M126.4 417L128.8 416.9M129.8 421.4L127.4 421.5M128.8 416.9L131.1 417.2M132.1 421.7L129.8 421.4M131.1 417.2L133.2 417.9M134.2 422.4L132.1 421.7M133.2 417.9L134.9 419.1M135.9 423.6L134.2 422.4M134.9 419.1L136.1 420.8M137.1 425.3L135.9 423.6M136.1 420.8L136.8 422.8M137.8 427.2L137.1 425.3M121.4 439L121.5 438.2M122.5 442.7L122.4 443.5M121.5 438.2L122.3 437.1M123.3 441.6L122.5 442.7M122.3 437.1L123.6 436M124.5 440.5L123.3 441.6M123.6 436L125.3 435M126.3 439.5L124.5 440.5M125.3 435L127.4 434.2M128.4 438.7L126.3 439.5M127.4 434.2L129.7 433.6M130.7 438.1L128.4 438.7M129.7 433.6L132.1 433.5M133.1 437.9L130.7 438.1M132.1 433.5L134.5 433.7M135.5 438.2L133.1 437.9M134.5 433.7L136.6 434.4M137.6 438.9L135.5 438.2M136.6 434.4L138.4 435.5M139.4 440L137.6 438.9M138.4 435.5L139.7 437.1M140.7 441.6L139.4 440M139.7 437.1L140.4 439.1M141.4 443.6L140.7 441.6M125.1 455.7L125.1 454.9M126.1 459.4L126.1 460.2M128.8 472.4L128.8 471.6M129.7 476.1L129.8 476.9M128.8 471.6L129.3 470.6M130.3 475.1L129.7 476.1M129.3 470.6L130.5 469.5M131.5 474L130.3 475.1M130.5 469.5L132.1 468.5M133.1 473L131.5 474M145.3 468.4L146.7 469.9M147.7 474.4L146.2 472.9M146.7 469.9L147.6 471.7M148.6 476.2L147.7 474.4M132.5 489.1L132.4 488.3M133.4 492.8L133.5 493.6M132.4 488.3L132.9 487.4M133.9 491.9L133.4 492.8M132.9 487.4L134 486.3M134.9 490.8L133.9 491.9M134 486.3L135.5 485.2M136.5 489.7L134.9 490.8M135.5 485.2L137.5 484.3M138.5 488.8L136.5 489.7M137.5 484.3L139.8 483.6M140.7 488.1L138.5 488.8M139.8 483.6L142.2 483.3M143.1 487.8L140.7 488.1M142.2 483.3L144.5 483.3M145.5 487.8L143.1 487.8M144.5 483.3L146.8 483.9M147.8 488.3L145.5 487.8M146.8 483.9L148.7 484.8M149.7 489.3L147.8 488.3M148.7 484.8L150.2 486.2M151.2 490.7L149.7 489.3M150.2 486.2L151.2 488M152.2 492.5L151.2 490.7M136.2 505.8L136 505.1M137 509.5L137.2 510.3M136 505.1L136.5 504.1M137.4 508.6L137 509.5M136.5 504.1L137.4 503M138.4 507.5L137.4 508.6M137.4 503L139 502M139.9 506.5L138.4 507.5M139 502L140.9 501M141.9 505.5L139.9 506.5M140.9 501L143.1 500.3M144.1 504.8L141.9 505.5M143.1 500.3L145.5 499.9M146.5 504.4L144.1 504.8M145.5 499.9L147.9 499.9M148.9 504.4L146.5 504.4M147.9 499.9L150.1 500.4M151.1 504.9L148.9 504.4M150.1 500.4L152.1 501.3M153.1 505.8L151.1 504.9M152.1 501.3L153.7 502.6M154.7 507.1L153.1 505.8M153.7 502.6L154.7 504.4M155.7 508.9L154.7 507.1M154.7 504.4L155.2 506.5M156.2 511L155.7 508.9" fill="none" stroke="#5a5a5a" stroke-width="1.1"/>
<path d="M118.8 367.1L121 367.6L122 372.1L119.8 371.6ZM121 367.6L123 368.6L123.9 373.1L122 372.1ZM123 368.6L124.5 369.9L125.5 374.4L123.9 373.1ZM124.5 369.9L125.5 371.7L126.5 376.2L125.5 374.4ZM110.4 388.9L110.8 388L111.8 392.5L111.4 393.4ZM110.8 388L111.7 386.9L112.7 391.4L111.8 392.5ZM111.7 386.9L113.2 385.8L114.2 390.3L112.7 391.4ZM113.2 385.8L115.1 384.9L116.1 389.4L114.2 390.3ZM115.1 384.9L117.3 384.1L118.3 388.6L116.1 389.4ZM117.3 384.1L119.7 383.7L120.7 388.2L118.3 388.6ZM119.7 383.7L122.1 383.7L123.1 388.2L120.7 388.2ZM122.1 383.7L124.4 384.1L125.4 388.6L123.1 388.2ZM124.4 384.1L126.4 385L127.4 389.5L125.4 388.6ZM126.4 385L128 386.3L129 390.8L127.4 389.5ZM128 386.3L129.1 388.1L130.1 392.6L129 390.8ZM129.1 388.1L129.6 390.1L130.6 394.6L130.1 392.6ZM114 405.6L114.4 404.7L115.3 409.2L115 410.1ZM114.4 404.7L115.2 403.6L116.2 408.1L115.3 409.2ZM115.2 403.6L116.7 402.6L117.6 407.1L116.2 408.1ZM116.7 402.6L118.5 401.6L119.5 406.1L117.6 407.1ZM118.5 401.6L120.7 400.8L121.7 405.3L119.5 406.1ZM120.7 400.8L123.1 400.3L124 404.8L121.7 405.3ZM123.1 400.3L125.5 400.3L126.5 404.8L124 404.8ZM125.5 400.3L127.8 400.6L128.7 405.1L126.5 404.8ZM127.8 400.6L129.8 401.5L130.8 406L128.7 405.1ZM129.8 401.5L131.4 402.7L132.4 407.2L130.8 406ZM131.4 402.7L132.6 404.4L133.6 408.9L132.4 407.2ZM132.6 404.4L133.2 406.4L134.2 410.9L133.6 408.9ZM117.7 422.3L117.9 421.4L118.9 425.9L118.7 426.8ZM117.9 421.4L118.8 420.4L119.7 424.9L118.9 425.9ZM118.8 420.4L120.1 419.3L121.1 423.8L119.7 424.9ZM120.1 419.3L121.9 418.3L122.9 422.8L121.1 423.8ZM121.9 418.3L124 417.5L125 422L122.9 422.8ZM124 417.5L126.4 417L127.4 421.5L125 422ZM126.4 417L128.8 416.9L129.8 421.4L127.4 421.5ZM128.8 416.9L131.1 417.2L132.1 421.7L129.8 421.4ZM131.1 417.2L133.2 417.9L134.2 422.4L132.1 421.7ZM133.2 417.9L134.9 419.1L135.9 423.6L134.2 422.4ZM134.9 419.1L136.1 420.8L137.1 425.3L135.9 423.6ZM136.1 420.8L136.8 422.8L137.8 427.2L137.1 425.3ZM121.4 439L121.5 438.2L122.5 442.7L122.4 443.5ZM121.5 438.2L122.3 437.1L123.3 441.6L122.5 442.7ZM122.3 437.1L123.6 436L124.5 440.5L123.3 441.6ZM123.6 436L125.3 435L126.3 439.5L124.5 440.5ZM125.3 435L127.4 434.2L128.4 438.7L126.3 439.5ZM127.4 434.2L129.7 433.6L130.7 438.1L128.4 438.7ZM129.7 433.6L132.1 433.5L133.1 437.9L130.7 438.1ZM132.1 433.5L134.5 433.7L135.5 438.2L133.1 437.9ZM134.5 433.7L136.6 434.4L137.6 438.9L135.5 438.2ZM136.6 434.4L138.4 435.5L139.4 440L137.6 438.9ZM138.4 435.5L139.7 437.1L140.7 441.6L139.4 440ZM139.7 437.1L140.4 439.1L141.4 443.6L140.7 441.6ZM125.1 455.7L125.1 454.9L126.1 459.4L126.1 460.2ZM128.8 472.4L128.8 471.6L129.7 476.1L129.8 476.9ZM128.8 471.6L129.3 470.6L130.3 475.1L129.7 476.1ZM129.3 470.6L130.5 469.5L131.5 474L130.3 475.1ZM130.5 469.5L132.1 468.5L133.1 473L131.5 474ZM145.3 468.4L146.7 469.9L147.7 474.4L146.2 472.9ZM146.7 469.9L147.6 471.7L148.6 476.2L147.7 474.4ZM132.5 489.1L132.4 488.3L133.4 492.8L133.5 493.6ZM132.4 488.3L132.9 487.4L133.9 491.9L133.4 492.8ZM132.9 487.4L134 486.3L134.9 490.8L133.9 491.9ZM134 486.3L135.5 485.2L136.5 489.7L134.9 490.8ZM135.5 485.2L137.5 484.3L138.5 488.8L136.5 489.7ZM137.5 484.3L139.8 483.6L140.7 488.1L138.5 488.8ZM139.8 483.6L142.2 483.3L143.1 487.8L140.7 488.1ZM142.2 483.3L144.5 483.3L145.5 487.8L143.1 487.8ZM144.5 483.3L146.8 483.9L147.8 488.3L145.5 487.8ZM146.8 483.9L148.7 484.8L149.7 489.3L147.8 488.3ZM148.7 484.8L150.2 486.2L151.2 490.7L149.7 489.3ZM150.2 486.2L151.2 488L152.2 492.5L151.2 490.7ZM136.2 505.8L136 505.1L137 509.5L137.2 510.3ZM136 505.1L136.5 504.1L137.4 508.6L137 509.5ZM136.5 504.1L137.4 503L138.4 507.5L137.4 508.6ZM137.4 503L139 502L139.9 506.5L138.4 507.5ZM139 502L140.9 501L141.9 505.5L139.9 506.5ZM140.9 501L143.1 500.3L144.1 504.8L141.9 505.5ZM143.1 500.3L145.5 499.9L146.5 504.4L144.1 504.8ZM145.5 499.9L147.9 499.9L148.9 504.4L146.5 504.4ZM147.9 499.9L150.1 500.4L151.1 504.9L148.9 504.4ZM150.1 500.4L152.1 501.3L153.1 505.8L151.1 504.9ZM152.1 501.3L153.7 502.6L154.7 507.1L153.1 505.8ZM153.7 502.6L154.7 504.4L155.7 508.9L154.7 507.1ZM154.7 504.4L155.2 506.5L156.2 511L155.7 508.9Z" fill="#b4b4b4" stroke="#b4b4b4" stroke-width="0.6"/>
<path d="M125.1 454.9L125.8 453.9M126.8 458.4L126.1 459.4M125.8 453.9L127 452.8M128 457.3L126.8 458.4M127 452.8L128.7 451.8M129.7 456.2L128 457.3M128.7 451.8L130.8 450.9M131.8 455.4L129.7 456.2M130.8 450.9L133.1 450.3M134.1 454.8L131.8 455.4M133.1 450.3L135.5 450.1M136.5 454.5L134.1 454.8M135.5 450.1L137.8 450.2M138.8 454.7L136.5 454.5M137.8 450.2L140 450.9M141 455.4L138.8 454.7M140 450.9L141.8 452M142.8 456.5L141 455.4M141.8 452L143.2 453.5M144.2 458L142.8 456.5M143.2 453.5L144 455.4M145 459.9L144.2 458M132.1 468.5L134.1 467.6M135.1 472.1L133.1 473M134.1 467.6L136.4 467M137.4 471.4L135.1 472.1M136.4 467L138.8 466.7M139.8 471.2L137.4 471.4M138.8 466.7L141.2 466.8M142.2 471.3L139.8 471.2M141.2 466.8L143.4 467.4M144.4 471.9L142.2 471.3M143.4 467.4L145.3 468.4M146.2 472.9L144.4 471.9" fill="none" stroke="#b06a18" stroke-width="1.1"/>
<path d="M125.1 454.9L125.8 453.9L126.8 458.4L126.1 459.4ZM125.8 453.9L127 452.8L128 457.3L126.8 458.4ZM127 452.8L128.7 451.8L129.7 456.2L128 457.3ZM128.7 451.8L130.8 450.9L131.8 455.4L129.7 456.2ZM130.8 450.9L133.1 450.3L134.1 454.8L131.8 455.4ZM133.1 450.3L135.5 450.1L136.5 454.5L134.1 454.8ZM135.5 450.1L137.8 450.2L138.8 454.7L136.5 454.5ZM137.8 450.2L140 450.9L141 455.4L138.8 454.7ZM140 450.9L141.8 452L142.8 456.5L141 455.4ZM141.8 452L143.2 453.5L144.2 458L142.8 456.5ZM143.2 453.5L144 455.4L145 459.9L144.2 458ZM132.1 468.5L134.1 467.6L135.1 472.1L133.1 473ZM134.1 467.6L136.4 467L137.4 471.4L135.1 472.1ZM136.4 467L138.8 466.7L139.8 471.2L137.4 471.4ZM138.8 466.7L141.2 466.8L142.2 471.3L139.8 471.2ZM141.2 466.8L143.4 467.4L144.4 471.9L142.2 471.3ZM143.4 467.4L145.3 468.4L146.2 472.9L144.4 471.9Z" fill="#ec963e" stroke="#ec963e" stroke-width="0.6"/>
<path d="M244.5 350.1L244.2 352.7M243.9 354.7L244.2 352.1M244.2 352.7L244.6 355.5M244.3 357.6L243.9 354.7M244.6 355.5L245.8 358.4M245.5 360.4L244.3 357.6M245.8 358.4L247.6 361.2M247.3 363.3L245.5 360.4M247.6 361.2L250 363.8M249.7 365.8L247.3 363.3M250 363.8L252.7 366M252.4 368.1L249.7 365.8M252.7 366L255.5 367.8M255.2 369.9L252.4 368.1M255.5 367.8L258.4 369.1M258.1 371.2L255.2 369.9M258.4 369.1L260.9 369.9M260.6 372L258.1 371.2M260.9 369.9L263.1 370.1M262.8 372.2L260.6 372M263.1 370.1L264.7 369.8M264.4 371.9L262.8 372.2M264.7 369.8L265.6 369.1M265.3 371.2L264.4 371.9M265.6 369.1L265.8 368.1M265.5 370.1L265.3 371.2M241.8 370.7L242.1 373.5M241.9 375.5L241.5 372.8M242.1 373.5L243.2 376.3M242.9 378.4L241.9 375.5M243.2 376.3L244.9 379.1M244.6 381.2L242.9 378.4M244.9 379.1L247.1 381.7M246.8 383.8L244.6 381.2M247.1 381.7L249.7 384M249.4 386L246.8 383.8M249.7 384L252.5 385.8M252.2 387.9L249.4 386M252.5 385.8L255.2 387.2M254.9 389.3L252.2 387.9M255.2 387.2L257.8 388.1M257.5 390.1L254.9 389.3M257.8 388.1L260 388.4M259.7 390.4L257.5 390.1M260 388.4L261.6 388.2M261.3 390.2L259.7 390.4M261.6 388.2L262.6 387.6M262.3 389.6L261.3 390.2M262.6 387.6L262.8 386.6M262.5 388.6L262.3 389.6M239.5 388.8L239.7 391.5M239.4 393.6L239.2 390.9M239.7 391.5L240.6 394.3M240.3 396.3L239.4 393.6M240.6 394.3L242.2 397M241.9 399.1L240.3 396.3M242.2 397L244.3 399.6M244 401.7L241.9 399.1M244.3 399.6L246.7 401.9M246.4 404L244 401.7M246.7 401.9L249.4 403.8M249.1 405.9L246.4 404M249.4 403.8L252.1 405.3M251.8 407.3L249.1 405.9M252.1 405.3L254.6 406.2M254.3 408.2L251.8 407.3M254.6 406.2L256.8 406.6M256.5 408.6L254.3 408.2M256.8 406.6L258.5 406.5M258.2 408.5L256.5 408.6M258.5 406.5L259.5 406M259.2 408L258.2 408.5M259.5 406L259.8 405.1M259.5 407.1L259.2 408M237.2 406.9L237.3 409.5M237 411.6L236.9 409M237.3 409.5L238.1 412.2M237.8 414.3L237 411.6M238.1 412.2L239.5 415M239.2 417L237.8 414.3M239.5 415L241.5 417.5M241.2 419.6L239.2 417M241.5 417.5L243.8 419.8M243.5 421.9L241.2 419.6M243.8 419.8L246.4 421.8M246.1 423.8L243.5 421.9M246.4 421.8L249 423.3M248.7 425.3L246.1 423.8M249 423.3L251.5 424.3M251.2 426.3L248.7 425.3M251.5 424.3L253.6 424.8M253.3 426.8L251.2 426.3M253.6 424.8L255.3 424.8M255 426.9L253.3 426.8M255.3 424.8L256.4 424.4M256.1 426.4L255 426.9M256.4 424.4L256.8 423.6M256.5 425.6L256.1 426.4M234.8 425L234.8 427.6M234.5 429.6L234.5 427.1M234.8 427.6L235.5 430.2M235.2 432.3L234.5 429.6M235.5 430.2L236.8 432.9M236.5 434.9L235.2 432.3M236.8 432.9L238.7 435.5M238.4 437.5L236.5 434.9M238.7 435.5L240.9 437.8M240.6 439.8L238.4 437.5M240.9 437.8L243.4 439.8M243.1 441.8L240.6 439.8M243.4 439.8L245.9 441.3M245.6 443.4L243.1 441.8M245.9 441.3L248.4 442.4M248.1 444.5L245.6 443.4M248.4 442.4L250.5 443M250.2 445L248.1 444.5M250.5 443L252.2 443.1M251.9 445.1L250.2 445M252.2 443.1L253.3 442.8M253 444.8L251.9 445.1M253.3 442.8L253.8 442.1M253.5 444.1L253 444.8M232.5 443.2L232.4 445.6M232.1 447.7L232.2 445.2M232.4 445.6L233 448.2M232.7 450.3L232.1 447.7M233 448.2L234.2 450.8M233.9 452.9L232.7 450.3M234.2 450.8L235.9 453.4M235.6 455.4L233.9 452.9M235.9 453.4L238 455.7M237.8 457.8L235.6 455.4M238 455.7L240.4 457.7M240.1 459.8L237.8 457.8M240.4 457.7L242.9 459.3M242.6 461.4L240.1 459.8M242.9 459.3L245.2 460.5M244.9 462.5L242.6 461.4M245.2 460.5L247.4 461.2M247.1 463.2L244.9 462.5M247.4 461.2L249.1 461.4M248.8 463.4L247.1 463.2M249.1 461.4L250.2 461.1M249.9 463.2L248.8 463.4M250.2 461.1L250.8 460.5M250.5 462.6L249.9 463.2M230.2 461.3L230.1 463.7M229.8 465.7L229.9 463.4M230.1 463.7L230.5 466.2M230.2 468.3L229.8 465.7M230.5 466.2L231.6 468.8M231.3 470.9L230.2 468.3M231.6 468.8L233.2 471.3M232.9 473.4L231.3 470.9M233.2 471.3L235.2 473.7M234.9 475.7L232.9 473.4M235.2 473.7L237.5 475.7M237.2 477.7L234.9 475.7M237.5 475.7L239.8 477.4M239.5 479.4L237.2 477.7M239.8 477.4L242.1 478.6M241.9 480.6L239.5 479.4M242.1 478.6L244.2 479.3M243.9 481.4L241.9 480.6M244.2 479.3L245.9 479.6M245.6 481.7L243.9 481.4M245.9 479.6L247.2 479.5M246.9 481.5L245.6 481.7M247.2 479.5L247.8 479M247.5 481L246.9 481.5M228 479.5L227.7 481.8M227.4 483.8L227.7 481.5M227.7 481.8L228.1 484.2M227.8 486.3L227.4 483.8M228.1 484.2L229 486.8M228.7 488.8L227.8 486.3M229 486.8L230.5 489.3M230.2 491.3L228.7 488.8M230.5 489.3L232.4 491.6M232.1 493.6L230.2 491.3M232.4 491.6L234.5 493.7M234.2 495.7L232.1 493.6M234.5 493.7L236.8 495.4M236.5 497.4L234.2 495.7M236.8 495.4L239.1 496.6M238.8 498.7L236.5 497.4M239.1 496.6L241.1 497.5M240.8 499.5L238.8 498.7M241.1 497.5L242.8 497.9M242.5 499.9L240.8 499.5M242.8 497.9L244.1 497.8M243.8 499.8L242.5 499.9M244.1 497.8L244.7 497.4M244.4 499.4L243.8 499.8M225.3 499.9L225.6 502.3M225.3 504.3L225 501.9M225.6 502.3L226.4 504.8M226.2 506.8L225.3 504.3M226.4 504.8L227.8 507.2M227.5 509.3L226.2 506.8M227.8 507.2L229.6 509.5M229.3 511.6L227.5 509.3M229.6 509.5L231.6 511.6M231.3 513.7L229.3 511.6M231.6 511.6L233.8 513.4M233.5 515.4L231.3 513.7M233.8 513.4L236 514.7M235.7 516.7L233.5 515.4M236 514.7L238 515.6M237.7 517.7L235.7 516.7" fill="none" stroke="#5a5a5a" stroke-width="1.1"/>
<path d="M244.5 350.1L244.2 352.7L243.9 354.7L244.2 352.1ZM244.2 352.7L244.6 355.5L244.3 357.6L243.9 354.7ZM244.6 355.5L245.8 358.4L245.5 360.4L244.3 357.6ZM245.8 358.4L247.6 361.2L247.3 363.3L245.5 360.4ZM247.6 361.2L250 363.8L249.7 365.8L247.3 363.3ZM250 363.8L252.7 366L252.4 368.1L249.7 365.8ZM252.7 366L255.5 367.8L255.2 369.9L252.4 368.1ZM255.5 367.8L258.4 369.1L258.1 371.2L255.2 369.9ZM258.4 369.1L260.9 369.9L260.6 372L258.1 371.2ZM260.9 369.9L263.1 370.1L262.8 372.2L260.6 372ZM263.1 370.1L264.7 369.8L264.4 371.9L262.8 372.2ZM264.7 369.8L265.6 369.1L265.3 371.2L264.4 371.9ZM265.6 369.1L265.8 368.1L265.5 370.1L265.3 371.2ZM241.8 370.7L242.1 373.5L241.9 375.5L241.5 372.8ZM242.1 373.5L243.2 376.3L242.9 378.4L241.9 375.5ZM243.2 376.3L244.9 379.1L244.6 381.2L242.9 378.4ZM244.9 379.1L247.1 381.7L246.8 383.8L244.6 381.2ZM247.1 381.7L249.7 384L249.4 386L246.8 383.8ZM249.7 384L252.5 385.8L252.2 387.9L249.4 386ZM252.5 385.8L255.2 387.2L254.9 389.3L252.2 387.9ZM255.2 387.2L257.8 388.1L257.5 390.1L254.9 389.3ZM257.8 388.1L260 388.4L259.7 390.4L257.5 390.1ZM260 388.4L261.6 388.2L261.3 390.2L259.7 390.4ZM261.6 388.2L262.6 387.6L262.3 389.6L261.3 390.2ZM262.6 387.6L262.8 386.6L262.5 388.6L262.3 389.6ZM239.5 388.8L239.7 391.5L239.4 393.6L239.2 390.9ZM239.7 391.5L240.6 394.3L240.3 396.3L239.4 393.6ZM240.6 394.3L242.2 397L241.9 399.1L240.3 396.3ZM242.2 397L244.3 399.6L244 401.7L241.9 399.1ZM244.3 399.6L246.7 401.9L246.4 404L244 401.7ZM246.7 401.9L249.4 403.8L249.1 405.9L246.4 404ZM249.4 403.8L252.1 405.3L251.8 407.3L249.1 405.9ZM252.1 405.3L254.6 406.2L254.3 408.2L251.8 407.3ZM254.6 406.2L256.8 406.6L256.5 408.6L254.3 408.2ZM256.8 406.6L258.5 406.5L258.2 408.5L256.5 408.6ZM258.5 406.5L259.5 406L259.2 408L258.2 408.5ZM259.5 406L259.8 405.1L259.5 407.1L259.2 408ZM237.2 406.9L237.3 409.5L237 411.6L236.9 409ZM237.3 409.5L238.1 412.2L237.8 414.3L237 411.6ZM238.1 412.2L239.5 415L239.2 417L237.8 414.3ZM239.5 415L241.5 417.5L241.2 419.6L239.2 417ZM241.5 417.5L243.8 419.8L243.5 421.9L241.2 419.6ZM243.8 419.8L246.4 421.8L246.1 423.8L243.5 421.9ZM246.4 421.8L249 423.3L248.7 425.3L246.1 423.8ZM249 423.3L251.5 424.3L251.2 426.3L248.7 425.3ZM251.5 424.3L253.6 424.8L253.3 426.8L251.2 426.3ZM253.6 424.8L255.3 424.8L255 426.9L253.3 426.8ZM255.3 424.8L256.4 424.4L256.1 426.4L255 426.9ZM256.4 424.4L256.8 423.6L256.5 425.6L256.1 426.4ZM234.8 425L234.8 427.6L234.5 429.6L234.5 427.1ZM234.8 427.6L235.5 430.2L235.2 432.3L234.5 429.6ZM235.5 430.2L236.8 432.9L236.5 434.9L235.2 432.3ZM236.8 432.9L238.7 435.5L238.4 437.5L236.5 434.9ZM238.7 435.5L240.9 437.8L240.6 439.8L238.4 437.5ZM240.9 437.8L243.4 439.8L243.1 441.8L240.6 439.8ZM243.4 439.8L245.9 441.3L245.6 443.4L243.1 441.8ZM245.9 441.3L248.4 442.4L248.1 444.5L245.6 443.4ZM248.4 442.4L250.5 443L250.2 445L248.1 444.5ZM250.5 443L252.2 443.1L251.9 445.1L250.2 445ZM252.2 443.1L253.3 442.8L253 444.8L251.9 445.1ZM253.3 442.8L253.8 442.1L253.5 444.1L253 444.8ZM232.5 443.2L232.4 445.6L232.1 447.7L232.2 445.2ZM232.4 445.6L233 448.2L232.7 450.3L232.1 447.7ZM233 448.2L234.2 450.8L233.9 452.9L232.7 450.3ZM234.2 450.8L235.9 453.4L235.6 455.4L233.9 452.9ZM235.9 453.4L238 455.7L237.8 457.8L235.6 455.4ZM238 455.7L240.4 457.7L240.1 459.8L237.8 457.8ZM240.4 457.7L242.9 459.3L242.6 461.4L240.1 459.8ZM242.9 459.3L245.2 460.5L244.9 462.5L242.6 461.4ZM245.2 460.5L247.4 461.2L247.1 463.2L244.9 462.5ZM247.4 461.2L249.1 461.4L248.8 463.4L247.1 463.2ZM249.1 461.4L250.2 461.1L249.9 463.2L248.8 463.4ZM250.2 461.1L250.8 460.5L250.5 462.6L249.9 463.2ZM230.2 461.3L230.1 463.7L229.8 465.7L229.9 463.4ZM230.1 463.7L230.5 466.2L230.2 468.3L229.8 465.7ZM230.5 466.2L231.6 468.8L231.3 470.9L230.2 468.3ZM231.6 468.8L233.2 471.3L232.9 473.4L231.3 470.9ZM233.2 471.3L235.2 473.7L234.9 475.7L232.9 473.4ZM235.2 473.7L237.5 475.7L237.2 477.7L234.9 475.7ZM237.5 475.7L239.8 477.4L239.5 479.4L237.2 477.7ZM239.8 477.4L242.1 478.6L241.9 480.6L239.5 479.4ZM242.1 478.6L244.2 479.3L243.9 481.4L241.9 480.6ZM244.2 479.3L245.9 479.6L245.6 481.7L243.9 481.4ZM245.9 479.6L247.2 479.5L246.9 481.5L245.6 481.7ZM247.2 479.5L247.8 479L247.5 481L246.9 481.5ZM228 479.5L227.7 481.8L227.4 483.8L227.7 481.5ZM227.7 481.8L228.1 484.2L227.8 486.3L227.4 483.8ZM228.1 484.2L229 486.8L228.7 488.8L227.8 486.3ZM229 486.8L230.5 489.3L230.2 491.3L228.7 488.8ZM230.5 489.3L232.4 491.6L232.1 493.6L230.2 491.3ZM232.4 491.6L234.5 493.7L234.2 495.7L232.1 493.6ZM234.5 493.7L236.8 495.4L236.5 497.4L234.2 495.7ZM236.8 495.4L239.1 496.6L238.8 498.7L236.5 497.4ZM239.1 496.6L241.1 497.5L240.8 499.5L238.8 498.7ZM241.1 497.5L242.8 497.9L242.5 499.9L240.8 499.5ZM242.8 497.9L244.1 497.8L243.8 499.8L242.5 499.9ZM244.1 497.8L244.7 497.4L244.4 499.4L243.8 499.8ZM225.3 499.9L225.6 502.3L225.3 504.3L225 501.9ZM225.6 502.3L226.4 504.8L226.2 506.8L225.3 504.3ZM226.4 504.8L227.8 507.2L227.5 509.3L226.2 506.8ZM227.8 507.2L229.6 509.5L229.3 511.6L227.5 509.3ZM229.6 509.5L231.6 511.6L231.3 513.7L229.3 511.6ZM231.6 511.6L233.8 513.4L233.5 515.4L231.3 513.7ZM233.8 513.4L236 514.7L235.7 516.7L233.5 515.4ZM236 514.7L238 515.6L237.7 517.7L235.7 516.7Z" fill="#8a8a8a" stroke="#8a8a8a" stroke-width="0.6"/>
<path d="M266 366.8L265.4 365.5M264.7 370.1L265.3 371.4M265.4 365.5L264.1 364.2M263.4 368.8L264.7 370.1M264.1 364.2L262.1 362.9M261.4 367.5L263.4 368.8M262.1 362.9L259.6 361.9M258.9 366.4L261.4 367.5M259.6 361.9L256.7 361.1M256 365.7L258.9 366.4M256.7 361.1L253.7 360.8M253 365.4L256 365.7M253.7 360.8L250.7 361M250 365.6L253 365.4M250.7 361L247.9 361.7M247.2 366.3L250 365.6M247.9 361.7L245.5 363M244.8 367.6L247.2 366.3M245.5 363L243.6 364.8M243 369.3L244.8 367.6M243.6 364.8L242.4 367M241.8 371.5L243 369.3M242.4 367L242 369.5M241.3 374L241.8 371.5M263 385.3L262.5 384.1M261.9 388.7L262.4 389.9M262.5 384.1L261.3 382.9M260.7 387.4L261.9 388.7M261.3 382.9L259.5 381.6M258.8 386.2L260.7 387.4M259.5 381.6L257.1 380.6M256.4 385.1L258.8 386.2M257.1 380.6L254.3 379.8M253.7 384.3L256.4 385.1M254.3 379.8L251.4 379.4M250.7 384L253.7 384.3M251.4 379.4L248.5 379.6M247.8 384.1L250.7 384M248.5 379.6L245.7 380.2M245 384.7L247.8 384.1M245.7 380.2L243.3 381.4M242.6 385.9L245 384.7M243.3 381.4L241.4 383M240.8 387.6L242.6 385.9M241.4 383L240.2 385.1M239.5 389.7L240.8 387.6M240.2 385.1L239.7 387.6M239 392.1L239.5 389.7M260 403.8L259.7 402.7M259 407.3L259.4 408.4M259.7 402.7L258.6 401.5M257.9 406L259 407.3M258.6 401.5L256.8 400.3M256.2 404.8L257.9 406M256.8 400.3L254.6 399.2M253.9 403.8L256.2 404.8M254.6 399.2L252 398.5M251.3 403L253.9 403.8M252 398.5L249.1 398.1M248.5 402.6L251.3 403M249.1 398.1L246.2 398.1M245.6 402.7L248.5 402.6M246.2 398.1L243.5 398.7M242.9 403.2L245.6 402.7M243.5 398.7L241.1 399.7M240.5 404.3L242.9 403.2M241.1 399.7L239.2 401.3M238.6 405.9L240.5 404.3M239.2 401.3L238 403.3M237.3 407.9L238.6 405.9M238 403.3L237.3 405.7M236.7 410.2L237.3 407.9M257 422.3L256.8 421.3M256.1 425.8L256.4 426.9M256.8 421.3L255.8 420.1M255.1 424.7L256.1 425.8M255.8 420.1L254.2 418.9M253.5 423.5L255.1 424.7M254.2 418.9L252.1 417.9M251.4 422.5L253.5 423.5M252.1 417.9L249.6 417.1M248.9 421.7L251.4 422.5M249.6 417.1L246.8 416.7M246.1 421.2L248.9 421.7M246.8 416.7L244 416.7M243.3 421.2L246.1 421.2M244 416.7L241.3 417.1M240.7 421.7L243.3 421.2M241.3 417.1L239 418.1M238.3 422.7L240.7 421.7M239 418.1L237.1 419.6M236.4 424.2L238.3 422.7M237.1 419.6L235.7 421.5M235.1 426.1L236.4 424.2M235.7 421.5L235 423.8M234.4 428.3L235.1 426.1M254 440.8L253.8 439.8M253.2 444.4L253.4 445.4M253.8 439.8L253 438.7M252.3 443.3L253.2 444.4M253 438.7L251.5 437.6M250.9 442.2L252.3 443.3M251.5 437.6L249.5 436.6M248.9 441.1L250.9 442.2M249.5 436.6L247.1 435.8M246.5 440.3L248.9 441.1M247.1 435.8L244.5 435.3M243.8 439.8L246.5 440.3M244.5 435.3L241.8 435.2M241.1 439.8L243.8 439.8M241.8 435.2L239.1 435.6M238.5 440.2L241.1 439.8M239.1 435.6L236.8 436.5M236.1 441.1L238.5 440.2M236.8 436.5L234.9 437.9M234.2 442.5L236.1 441.1M234.9 437.9L233.5 439.7M232.8 444.3L234.2 442.5M233.5 439.7L232.7 441.9M232.1 446.5L232.8 444.3M251 459.3L250.9 458.4M250.2 462.9L250.3 463.8M250.9 458.4L250.2 457.3M249.5 461.9L250.2 462.9M250.2 457.3L248.8 456.2M248.2 460.8L249.5 461.9M248.8 456.2L246.9 455.2M246.3 459.8L248.2 460.8M246.9 455.2L244.7 454.4M244 459L246.3 459.8M244.7 454.4L242.1 453.9M241.4 458.5L244 459M242.1 453.9L239.5 453.8M238.8 458.4L241.4 458.5M239.5 453.8L236.9 454.2M236.3 458.7L238.8 458.4M236.9 454.2L234.6 455M233.9 459.5L236.3 458.7M234.6 455L232.7 456.2M232 460.8L233.9 459.5M232.7 456.2L231.2 458M230.6 462.5L232 460.8M231.2 458L230.4 460.1M229.8 464.6L230.6 462.5M248 477.7L248 476.9M247.3 481.4L247.3 482.3M248 476.9L247.3 475.9M246.7 480.5L247.3 481.4M247.3 475.9L246.1 474.9M245.4 479.4L246.7 480.5M246.1 474.9L244.3 473.9M243.7 478.4L245.4 479.4M244.3 473.9L242.2 473.1M241.5 477.6L243.7 478.4M242.2 473.1L239.7 472.6M239.1 477.1L241.5 477.6M239.7 472.6L237.2 472.4M236.5 477L239.1 477.1M237.2 472.4L234.7 472.7M234 477.2L236.5 477M234.7 472.7L232.4 473.4M231.7 478L234 477.2M232.4 473.4L230.5 474.6M229.8 479.2L231.7 478M230.5 474.6L229 476.2M228.4 480.8L229.8 479.2M229 476.2L228.1 478.2M227.5 482.8L228.4 480.8M244.9 496.1L245 495.4M244.3 500L244.3 500.7M245 495.4L244.5 494.5M243.8 499L244.3 500M244.5 494.5L243.3 493.5M242.7 498L243.8 499M243.3 493.5L241.7 492.5M241 497.1L242.7 498M241.7 492.5L239.7 491.7M239 496.3L241 497.1M239.7 491.7L237.3 491.2M236.7 495.7L239 496.3M237.3 491.2L234.9 491M234.2 495.5L236.7 495.7M234.9 491L232.4 491.2M231.8 495.8L234.2 495.5M232.4 491.2L230.2 491.9M229.5 496.4L231.8 495.8M230.2 491.9L228.3 493M227.6 497.5L229.5 496.4M228.3 493L226.8 494.5M226.1 499.1L227.6 497.5M226.8 494.5L225.9 496.4M225.2 501L226.1 499.1M225.9 496.4L225.5 498.6M224.9 503.2L225.2 501" fill="none" stroke="#5a5a5a" stroke-width="1.1"/>
<path d="M266 366.8L265.4 365.5L264.7 370.1L265.3 371.4ZM265.4 365.5L264.1 364.2L263.4 368.8L264.7 370.1ZM264.1 364.2L262.1 362.9L261.4 367.5L263.4 368.8ZM262.1 362.9L259.6 361.9L258.9 366.4L261.4 367.5ZM259.6 361.9L256.7 361.1L256 365.7L258.9 366.4ZM256.7 361.1L253.7 360.8L253 365.4L256 365.7ZM253.7 360.8L250.7 361L250 365.6L253 365.4ZM250.7 361L247.9 361.7L247.2 366.3L250 365.6ZM247.9 361.7L245.5 363L244.8 367.6L247.2 366.3ZM245.5 363L243.6 364.8L243 369.3L244.8 367.6ZM243.6 364.8L242.4 367L241.8 371.5L243 369.3ZM242.4 367L242 369.5L241.3 374L241.8 371.5ZM263 385.3L262.5 384.1L261.9 388.7L262.4 389.9ZM262.5 384.1L261.3 382.9L260.7 387.4L261.9 388.7ZM261.3 382.9L259.5 381.6L258.8 386.2L260.7 387.4ZM259.5 381.6L257.1 380.6L256.4 385.1L258.8 386.2ZM257.1 380.6L254.3 379.8L253.7 384.3L256.4 385.1ZM254.3 379.8L251.4 379.4L250.7 384L253.7 384.3ZM251.4 379.4L248.5 379.6L247.8 384.1L250.7 384ZM248.5 379.6L245.7 380.2L245 384.7L247.8 384.1ZM245.7 380.2L243.3 381.4L242.6 385.9L245 384.7ZM243.3 381.4L241.4 383L240.8 387.6L242.6 385.9ZM241.4 383L240.2 385.1L239.5 389.7L240.8 387.6ZM240.2 385.1L239.7 387.6L239 392.1L239.5 389.7ZM260 403.8L259.7 402.7L259 407.3L259.4 408.4ZM259.7 402.7L258.6 401.5L257.9 406L259 407.3ZM258.6 401.5L256.8 400.3L256.2 404.8L257.9 406ZM256.8 400.3L254.6 399.2L253.9 403.8L256.2 404.8ZM254.6 399.2L252 398.5L251.3 403L253.9 403.8ZM252 398.5L249.1 398.1L248.5 402.6L251.3 403ZM249.1 398.1L246.2 398.1L245.6 402.7L248.5 402.6ZM246.2 398.1L243.5 398.7L242.9 403.2L245.6 402.7ZM243.5 398.7L241.1 399.7L240.5 404.3L242.9 403.2ZM241.1 399.7L239.2 401.3L238.6 405.9L240.5 404.3ZM239.2 401.3L238 403.3L237.3 407.9L238.6 405.9ZM238 403.3L237.3 405.7L236.7 410.2L237.3 407.9ZM257 422.3L256.8 421.3L256.1 425.8L256.4 426.9ZM256.8 421.3L255.8 420.1L255.1 424.7L256.1 425.8ZM255.8 420.1L254.2 418.9L253.5 423.5L255.1 424.7ZM254.2 418.9L252.1 417.9L251.4 422.5L253.5 423.5ZM252.1 417.9L249.6 417.1L248.9 421.7L251.4 422.5ZM249.6 417.1L246.8 416.7L246.1 421.2L248.9 421.7ZM246.8 416.7L244 416.7L243.3 421.2L246.1 421.2ZM244 416.7L241.3 417.1L240.7 421.7L243.3 421.2ZM241.3 417.1L239 418.1L238.3 422.7L240.7 421.7ZM239 418.1L237.1 419.6L236.4 424.2L238.3 422.7ZM237.1 419.6L235.7 421.5L235.1 426.1L236.4 424.2ZM235.7 421.5L235 423.8L234.4 428.3L235.1 426.1ZM254 440.8L253.8 439.8L253.2 444.4L253.4 445.4ZM253.8 439.8L253 438.7L252.3 443.3L253.2 444.4ZM253 438.7L251.5 437.6L250.9 442.2L252.3 443.3ZM251.5 437.6L249.5 436.6L248.9 441.1L250.9 442.2ZM249.5 436.6L247.1 435.8L246.5 440.3L248.9 441.1ZM247.1 435.8L244.5 435.3L243.8 439.8L246.5 440.3ZM244.5 435.3L241.8 435.2L241.1 439.8L243.8 439.8ZM241.8 435.2L239.1 435.6L238.5 440.2L241.1 439.8ZM239.1 435.6L236.8 436.5L236.1 441.1L238.5 440.2ZM236.8 436.5L234.9 437.9L234.2 442.5L236.1 441.1ZM234.9 437.9L233.5 439.7L232.8 444.3L234.2 442.5ZM233.5 439.7L232.7 441.9L232.1 446.5L232.8 444.3ZM251 459.3L250.9 458.4L250.2 462.9L250.3 463.8ZM250.9 458.4L250.2 457.3L249.5 461.9L250.2 462.9ZM250.2 457.3L248.8 456.2L248.2 460.8L249.5 461.9ZM248.8 456.2L246.9 455.2L246.3 459.8L248.2 460.8ZM246.9 455.2L244.7 454.4L244 459L246.3 459.8ZM244.7 454.4L242.1 453.9L241.4 458.5L244 459ZM242.1 453.9L239.5 453.8L238.8 458.4L241.4 458.5ZM239.5 453.8L236.9 454.2L236.3 458.7L238.8 458.4ZM236.9 454.2L234.6 455L233.9 459.5L236.3 458.7ZM234.6 455L232.7 456.2L232 460.8L233.9 459.5ZM232.7 456.2L231.2 458L230.6 462.5L232 460.8ZM231.2 458L230.4 460.1L229.8 464.6L230.6 462.5ZM248 477.7L248 476.9L247.3 481.4L247.3 482.3ZM248 476.9L247.3 475.9L246.7 480.5L247.3 481.4ZM247.3 475.9L246.1 474.9L245.4 479.4L246.7 480.5ZM246.1 474.9L244.3 473.9L243.7 478.4L245.4 479.4ZM244.3 473.9L242.2 473.1L241.5 477.6L243.7 478.4ZM242.2 473.1L239.7 472.6L239.1 477.1L241.5 477.6ZM239.7 472.6L237.2 472.4L236.5 477L239.1 477.1ZM237.2 472.4L234.7 472.7L234 477.2L236.5 477ZM234.7 472.7L232.4 473.4L231.7 478L234 477.2ZM232.4 473.4L230.5 474.6L229.8 479.2L231.7 478ZM230.5 474.6L229 476.2L228.4 480.8L229.8 479.2ZM229 476.2L228.1 478.2L227.5 482.8L228.4 480.8ZM244.9 496.1L245 495.4L244.3 500L244.3 500.7ZM245 495.4L244.5 494.5L243.8 499L244.3 500ZM244.5 494.5L243.3 493.5L242.7 498L243.8 499ZM243.3 493.5L241.7 492.5L241 497.1L242.7 498ZM241.7 492.5L239.7 491.7L239 496.3L241 497.1ZM239.7 491.7L237.3 491.2L236.7 495.7L239 496.3ZM237.3 491.2L234.9 491L234.2 495.5L236.7 495.7ZM234.9 491L232.4 491.2L231.8 495.8L234.2 495.5ZM232.4 491.2L230.2 491.9L229.5 496.4L231.8 495.8ZM230.2 491.9L228.3 493L227.6 497.5L229.5 496.4ZM228.3 493L226.8 494.5L226.1 499.1L227.6 497.5ZM226.8 494.5L225.9 496.4L225.2 501L226.1 499.1ZM225.9 496.4L225.5 498.6L224.9 503.2L225.2 501Z" fill="#b4b4b4" stroke="#b4b4b4" stroke-width="0.6"/>
<path d="M255.6 387.3L255.5 386.8M254.3 388.4L254.3 389M255.5 386.8L254.9 386M253.6 387.7L254.3 388.4M254.9 386L253.6 385.2M252.4 386.8L253.6 387.7M253.6 385.2L251.8 384.2M250.5 385.9L252.4 386.8M251.8 384.2L249.5 383.4M248.2 385.1L250.5 385.9M249.5 383.4L246.8 382.7M245.6 384.4L248.2 385.1M246.8 382.7L244 382.2M242.8 383.9L245.6 384.4M244 382.2L241.1 382.1M239.9 383.7L242.8 383.9M241.1 382.1L238.4 382.2M237.2 383.9L239.9 383.7M238.4 382.2L236 382.8M234.7 384.4L237.2 383.9M236 382.8L234 383.7M232.7 385.3L234.7 384.4M234 383.7L232.5 384.9M231.2 386.6L232.7 385.3M245.8 400.4L246 400M244.8 401.7L244.5 402.1M246 400L245.6 399.4M244.4 401L244.8 401.7M245.6 399.4L244.6 398.5M243.4 400.2L244.4 401M244.6 398.5L243 397.6M241.8 399.3L243.4 400.2M243 397.6L240.9 396.8M239.7 398.4L241.8 399.3M240.9 396.8L238.4 396M237.2 397.6L239.7 398.4M238.4 396L235.6 395.4M234.4 397.1L237.2 397.6M235.6 395.4L232.8 395.1M231.5 396.8L234.4 397.1M232.8 395.1L230 395.1M228.7 396.8L231.5 396.8M230 395.1L227.4 395.5M226.2 397.2L228.7 396.8M227.4 395.5L225.2 396.2M223.9 397.9L226.2 397.2M225.2 396.2L223.4 397.3M222.2 399L223.9 397.9M223.4 397.3L222.3 398.8M221 400.4L222.2 399M236.3 413.3L236.2 412.7M235 414.4L235.1 414.9M236.2 412.7L235.5 411.9M234.3 413.6L235 414.4M235.5 411.9L234.2 411M232.9 412.7L234.3 413.6M234.2 411L232.3 410.1M231 411.8L232.9 412.7M232.3 410.1L229.9 409.3M228.7 411L231 411.8M229.9 409.3L227.3 408.6M226 410.3L228.7 411M227.3 408.6L224.4 408.2M223.2 409.9L226 410.3M224.4 408.2L221.6 408.1M220.3 409.7L223.2 409.9M221.6 408.1L218.9 408.3M217.6 409.9L220.3 409.7M218.9 408.3L216.5 408.9M215.2 410.5L217.6 409.9M216.5 408.9L214.5 409.8M213.3 411.5L215.2 410.5M214.5 409.8L213.1 411.1M211.8 412.8L213.3 411.5M226.6 426.4L226.7 426M225.5 427.6L225.3 428.1M226.7 426L226.3 425.3M225.1 426.9L225.5 427.6M226.3 425.3L225.2 424.4M224 426.1L225.1 426.9M225.2 424.4L223.5 423.5M222.3 425.2L224 426.1M223.5 423.5L221.4 422.7M220.2 424.3L222.3 425.2M221.4 422.7L218.8 421.9M217.6 423.6L220.2 424.3M218.8 421.9L216.1 421.4M214.8 423L217.6 423.6M216.1 421.4L213.2 421.1M212 422.7L214.8 423M213.2 421.1L210.4 421.1M209.2 422.8L212 422.7M210.4 421.1L207.9 421.6M206.6 423.2L209.2 422.8" fill="none" stroke="#5a5a5a" stroke-width="1.1"/>
<path d="M255.6 387.3L255.5 386.8L254.3 388.4L254.3 389ZM255.5 386.8L254.9 386L253.6 387.7L254.3 388.4ZM254.9 386L253.6 385.2L252.4 386.8L253.6 387.7ZM253.6 385.2L251.8 384.2L250.5 385.9L252.4 386.8ZM251.8 384.2L249.5 383.4L248.2 385.1L250.5 385.9ZM249.5 383.4L246.8 382.7L245.6 384.4L248.2 385.1ZM246.8 382.7L244 382.2L242.8 383.9L245.6 384.4ZM244 382.2L241.1 382.1L239.9 383.7L242.8 383.9ZM241.1 382.1L238.4 382.2L237.2 383.9L239.9 383.7ZM238.4 382.2L236 382.8L234.7 384.4L237.2 383.9ZM236 382.8L234 383.7L232.7 385.3L234.7 384.4ZM234 383.7L232.5 384.9L231.2 386.6L232.7 385.3ZM245.8 400.4L246 400L244.8 401.7L244.5 402.1ZM246 400L245.6 399.4L244.4 401L244.8 401.7ZM245.6 399.4L244.6 398.5L243.4 400.2L244.4 401ZM244.6 398.5L243 397.6L241.8 399.3L243.4 400.2ZM243 397.6L240.9 396.8L239.7 398.4L241.8 399.3ZM240.9 396.8L238.4 396L237.2 397.6L239.7 398.4ZM238.4 396L235.6 395.4L234.4 397.1L237.2 397.6ZM235.6 395.4L232.8 395.1L231.5 396.8L234.4 397.1ZM232.8 395.1L230 395.1L228.7 396.8L231.5 396.8ZM230 395.1L227.4 395.5L226.2 397.2L228.7 396.8ZM227.4 395.5L225.2 396.2L223.9 397.9L226.2 397.2ZM225.2 396.2L223.4 397.3L222.2 399L223.9 397.9ZM223.4 397.3L222.3 398.8L221 400.4L222.2 399ZM236.3 413.3L236.2 412.7L235 414.4L235.1 414.9ZM236.2 412.7L235.5 411.9L234.3 413.6L235 414.4ZM235.5 411.9L234.2 411L232.9 412.7L234.3 413.6ZM234.2 411L232.3 410.1L231 411.8L232.9 412.7ZM232.3 410.1L229.9 409.3L228.7 411L231 411.8ZM229.9 409.3L227.3 408.6L226 410.3L228.7 411ZM227.3 408.6L224.4 408.2L223.2 409.9L226 410.3ZM224.4 408.2L221.6 408.1L220.3 409.7L223.2 409.9ZM221.6 408.1L218.9 408.3L217.6 409.9L220.3 409.7ZM218.9 408.3L216.5 408.9L215.2 410.5L217.6 409.9ZM216.5 408.9L214.5 409.8L213.3 411.5L215.2 410.5ZM214.5 409.8L213.1 411.1L211.8 412.8L213.3 411.5ZM226.6 426.4L226.7 426L225.5 427.6L225.3 428.1ZM226.7 426L226.3 425.3L225.1 426.9L225.5 427.6ZM226.3 425.3L225.2 424.4L224 426.1L225.1 426.9ZM225.2 424.4L223.5 423.5L222.3 425.2L224 426.1ZM223.5 423.5L221.4 422.7L220.2 424.3L222.3 425.2ZM221.4 422.7L218.8 421.9L217.6 423.6L220.2 424.3ZM218.8 421.9L216.1 421.4L214.8 423L217.6 423.6ZM216.1 421.4L213.2 421.1L212 422.7L214.8 423ZM213.2 421.1L210.4 421.1L209.2 422.8L212 422.7ZM210.4 421.1L207.9 421.6L206.6 423.2L209.2 422.8Z" fill="#8a8a8a" stroke="#8a8a8a" stroke-width="0.6"/>
<path d="M241.7 373.2L241.7 375M239 378.7L239 376.9M241.7 375L242.4 377M239.6 380.7L239 378.7M242.4 377L243.5 379M240.8 382.7L239.6 380.7M243.5 379L245.1 380.8M242.4 384.5L240.8 382.7M245.1 380.8L247 382.6M244.3 386.3L242.4 384.5M247 382.6L249.1 384M246.3 387.7L244.3 386.3M249.1 384L251.1 385.2M248.4 388.9L246.3 387.7M251.1 385.2L253 386M250.3 389.7L248.4 388.9M253 386L254.6 386.5M251.9 390.2L250.3 389.7M254.6 386.5L255.7 386.5M253 390.2L251.9 390.2M255.7 386.5L256.3 386.3M253.6 390L253 390.2M233.2 383.9L232.3 385.4M229.6 389.1L230.5 387.6M232.3 385.4L232 387.2M229.3 390.9L229.6 389.1M232 387.2L232.4 389.1M229.7 392.8L229.3 390.9M232.4 389.1L233.3 391.1M230.6 394.8L229.7 392.8M233.3 391.1L234.7 393M232 396.7L230.6 394.8M234.7 393L236.5 394.8M233.8 398.5L232 396.7M236.5 394.8L238.5 396.4M235.8 400.1L233.8 398.5M238.5 396.4L240.6 397.7M237.9 401.4L235.8 400.1M240.6 397.7L242.6 398.7M239.9 402.4L237.9 401.4M242.6 398.7L244.3 399.3M241.6 403L239.9 402.4M244.3 399.3L245.7 399.5M242.9 403.2L241.6 403M245.7 399.5L246.5 399.4M243.8 403.1L242.9 403.2M223 397.7L222.5 399.4M219.7 403.1L220.3 401.4M222.5 399.4L222.5 401.3M219.8 405L219.7 403.1M222.5 401.3L223.2 403.2M220.5 406.9L219.8 405M223.2 403.2L224.4 405.2M221.7 408.9L220.5 406.9M224.4 405.2L226.1 407.1M223.3 410.8L221.7 408.9M226.1 407.1L228 408.8M225.3 412.4L223.3 410.8M228 408.8L230.1 410.2M227.3 413.9L225.3 412.4M230.1 410.2L232.1 411.3M229.4 415L227.3 413.9M232.1 411.3L234 412.1M231.3 415.8L229.4 415M234 412.1L235.5 412.5M232.8 416.2L231.3 415.8M235.5 412.5L236.6 412.5M233.8 416.2L232.8 416.2M236.6 412.5L237.1 412.2M234.4 415.9L233.8 416.2M213.8 410.1L213 411.6M210.3 415.3L211.1 413.8M213 411.6L212.8 413.4M210.1 417.1L210.3 415.3M212.8 413.4L213.2 415.4M210.5 419.1L210.1 417.1M213.2 415.4L214.2 417.3M211.5 421L210.5 419.1M214.2 417.3L215.7 419.3M213 423L211.5 421M215.7 419.3L217.5 421M214.8 424.7L213 423M217.5 421L219.5 422.6M216.8 426.3L214.8 424.7M219.5 422.6L221.6 423.9M218.9 427.6L216.8 426.3M221.6 423.9L223.6 424.8M220.8 428.5L218.9 427.6M223.6 424.8L225.3 425.4M222.5 429L220.8 428.5M225.3 425.4L226.6 425.5M223.8 429.2L222.5 429M226.6 425.5L227.3 425.4M224.6 429.1L223.8 429.2" fill="none" stroke="#5a5a5a" stroke-width="1.1"/>
<path d="M241.7 373.2L241.7 375L239 378.7L239 376.9ZM241.7 375L242.4 377L239.6 380.7L239 378.7ZM242.4 377L243.5 379L240.8 382.7L239.6 380.7ZM243.5 379L245.1 380.8L242.4 384.5L240.8 382.7ZM245.1 380.8L247 382.6L244.3 386.3L242.4 384.5ZM247 382.6L249.1 384L246.3 387.7L244.3 386.3ZM249.1 384L251.1 385.2L248.4 388.9L246.3 387.7ZM251.1 385.2L253 386L250.3 389.7L248.4 388.9ZM253 386L254.6 386.5L251.9 390.2L250.3 389.7ZM254.6 386.5L255.7 386.5L253 390.2L251.9 390.2ZM255.7 386.5L256.3 386.3L253.6 390L253 390.2ZM233.2 383.9L232.3 385.4L229.6 389.1L230.5 387.6ZM232.3 385.4L232 387.2L229.3 390.9L229.6 389.1ZM232 387.2L232.4 389.1L229.7 392.8L229.3 390.9ZM232.4 389.1L233.3 391.1L230.6 394.8L229.7 392.8ZM233.3 391.1L234.7 393L232 396.7L230.6 394.8ZM234.7 393L236.5 394.8L233.8 398.5L232 396.7ZM236.5 394.8L238.5 396.4L235.8 400.1L233.8 398.5ZM238.5 396.4L240.6 397.7L237.9 401.4L235.8 400.1ZM240.6 397.7L242.6 398.7L239.9 402.4L237.9 401.4ZM242.6 398.7L244.3 399.3L241.6 403L239.9 402.4ZM244.3 399.3L245.7 399.5L242.9 403.2L241.6 403ZM245.7 399.5L246.5 399.4L243.8 403.1L242.9 403.2ZM223 397.7L222.5 399.4L219.7 403.1L220.3 401.4ZM222.5 399.4L222.5 401.3L219.8 405L219.7 403.1ZM222.5 401.3L223.2 403.2L220.5 406.9L219.8 405ZM223.2 403.2L224.4 405.2L221.7 408.9L220.5 406.9ZM224.4 405.2L226.1 407.1L223.3 410.8L221.7 408.9ZM226.1 407.1L228 408.8L225.3 412.4L223.3 410.8ZM228 408.8L230.1 410.2L227.3 413.9L225.3 412.4ZM230.1 410.2L232.1 411.3L229.4 415L227.3 413.9ZM232.1 411.3L234 412.1L231.3 415.8L229.4 415ZM234 412.1L235.5 412.5L232.8 416.2L231.3 415.8ZM235.5 412.5L236.6 412.5L233.8 416.2L232.8 416.2ZM236.6 412.5L237.1 412.2L234.4 415.9L233.8 416.2ZM213.8 410.1L213 411.6L210.3 415.3L211.1 413.8ZM213 411.6L212.8 413.4L210.1 417.1L210.3 415.3ZM212.8 413.4L213.2 415.4L210.5 419.1L210.1 417.1ZM213.2 415.4L214.2 417.3L211.5 421L210.5 419.1ZM214.2 417.3L215.7 419.3L213 423L211.5 421ZM215.7 419.3L217.5 421L214.8 424.7L213 423ZM217.5 421L219.5 422.6L216.8 426.3L214.8 424.7ZM219.5 422.6L221.6 423.9L218.9 427.6L216.8 426.3ZM221.6 423.9L223.6 424.8L220.8 428.5L218.9 427.6ZM223.6 424.8L225.3 425.4L222.5 429L220.8 428.5ZM225.3 425.4L226.6 425.5L223.8 429.2L222.5 429ZM226.6 425.5L227.3 425.4L224.6 429.1L223.8 429.2Z" fill="#b4b4b4" stroke="#b4b4b4" stroke-width="0.6"/>
<path d="M214.2 372.9L214 375.1M213.5 377.1L213.7 374.9M214 375.1L214.4 377.5M213.9 379.5L213.5 377.1M214.4 377.5L215.3 379.9M214.8 382L213.9 379.5M215.3 379.9L216.7 382.3M216.2 384.4L214.8 382M216.7 382.3L218.5 384.6M218 386.6L216.2 384.4M218.5 384.6L220.5 386.5M220 388.5L218 386.6M220.5 386.5L222.6 388.1M222.1 390.1L220 388.5M222.6 388.1L224.6 389.3M224.2 391.3L222.1 390.1M224.6 389.3L226.4 390M226 392L224.2 391.3M226.4 390L227.9 390.3M227.5 392.3L226 392M227.9 390.3L229 390.1M228.6 392.1L227.5 392.3M229 390.1L229.5 389.6M229.1 391.6L228.6 392.1M210.6 389.1L210.3 391.3M209.8 393.3L210.1 391.1M210.3 391.3L210.6 393.6M210.1 395.7L209.8 393.3M210.6 393.6L211.4 396.1M211 398.1L210.1 395.7M211.4 396.1L212.7 398.5M212.3 400.5L211 398.1M212.7 398.5L214.5 400.8M214 402.8L212.3 400.5M214.5 400.8L216.4 402.8M216 404.8L214 402.8M216.4 402.8L218.5 404.5M218.1 406.5L216 404.8M218.5 404.5L220.6 405.7M220.1 407.7L218.1 406.5M220.6 405.7L222.5 406.5M222 408.5L220.1 407.7M222.5 406.5L224 406.9M223.6 408.9L222 408.5M224 406.9L225.2 406.8M224.7 408.8L223.6 408.9M225.2 406.8L225.8 406.3M225.3 408.3L224.7 408.8M207 405.3L206.6 407.5M206.2 409.5L206.6 407.4M206.6 407.5L206.8 409.8M206.4 411.8L206.2 409.5M206.8 409.8L207.6 412.3M207.1 414.3L206.4 411.8M207.6 412.3L208.8 414.7M208.4 416.7L207.1 414.3M208.8 414.7L210.5 417M210 419L208.4 416.7M210.5 417L212.4 419.1M211.9 421.1L210 419M212.4 419.1L214.5 420.8M214 422.8L211.9 421.1M214.5 420.8L216.6 422.1M216.1 424.2L214 422.8M216.6 422.1L218.5 423M218 425L216.1 424.2M218.5 423L220.1 423.4M219.7 425.5L218 425M220.1 423.4L221.3 423.4M220.9 425.4L219.7 425.5M221.3 423.4L222.1 423M221.6 425L220.9 425.4M203 423.7L203.1 426M202.6 428L202.6 425.7M203.1 426L203.7 428.4M203.3 430.4L202.6 428M203.7 428.4L204.9 430.9M204.4 432.9L203.3 430.4M204.9 430.9L206.5 433.2M206 435.2L204.4 432.9M206.5 433.2L208.4 435.3M207.9 437.3L206 435.2M208.4 435.3L210.4 437.1M210 439.1L207.9 437.3M210.4 437.1L212.5 438.5M212.1 440.5L210 439.1M212.5 438.5L214.5 439.5M214 441.5L212.1 440.5M214.5 439.5L216.2 440M215.7 442L214 441.5M216.2 440L217.5 440.1M217 442.1L215.7 442M217.5 440.1L218.3 439.7M217.9 441.7L217 442.1M218.3 439.7L218.6 439M218.1 441.1L217.9 441.7M199.4 439.9L199.3 442.2M198.9 444.2L198.9 441.9M199.3 442.2L199.9 444.6M199.4 446.6L198.9 444.2M199.9 444.6L201 447M200.5 449.1L199.4 446.6M201 447L202.5 449.4M202 451.4L200.5 449.1M202.5 449.4L204.3 451.6M203.9 453.6L202 451.4M204.3 451.6L206.4 453.4M205.9 455.4L203.9 453.6M206.4 453.4L208.5 454.9M208 456.9L205.9 455.4M208.5 454.9L210.5 456M210 458L208 456.9M210.5 456L212.2 456.5M211.8 458.6L210 458M212.2 456.5L213.6 456.7M213.2 458.7L211.8 458.6M213.6 456.7L214.5 456.4M214.1 458.4L213.2 458.7M214.5 456.4L214.9 455.8M214.4 457.8L214.1 458.4M195.8 456.1L195.6 458.3M195.2 460.4L195.3 458.1M195.6 458.3L196.1 460.7M195.6 462.8L195.2 460.4M196.1 460.7L197.1 463.2M196.6 465.2L195.6 462.8M197.1 463.2L198.5 465.6M198.1 467.6L196.6 465.2M198.5 465.6L200.3 467.8M199.9 469.8L198.1 467.6M200.3 467.8L202.3 469.7M201.9 471.7L199.9 469.8M202.3 469.7L204.5 471.3M204 473.3L201.9 471.7M204.5 471.3L206.5 472.4M206 474.4L204 473.3M206.5 472.4L208.3 473.1M207.8 475.1L206 474.4M208.3 473.1L209.7 473.3M209.3 475.3L207.8 475.1M209.7 473.3L210.7 473.1M210.3 475.1L209.3 475.3M210.7 473.1L211.2 472.5M210.7 474.5L210.3 475.1M192.2 472.3L192 474.5M191.5 476.5L191.7 474.4M192 474.5L192.3 476.9M191.9 478.9L191.5 476.5M192.3 476.9L193.2 479.4M192.7 481.4L191.9 478.9M193.2 479.4L194.6 481.8M194.1 483.8L192.7 481.4M194.6 481.8L196.3 484M195.9 486L194.1 483.8M196.3 484L198.3 486M197.9 488L195.9 486M198.3 486L200.4 487.6M200 489.6L197.9 488M200.4 487.6L202.5 488.8M202 490.9L200 489.6M202.5 488.8L204.3 489.6M203.9 491.6L202 490.9M204.3 489.6L205.8 489.9M205.4 491.9L203.9 491.6M205.8 489.9L206.9 489.7M206.5 491.8L205.4 491.9M206.9 489.7L207.5 489.2M207 491.3L206.5 491.8M188.6 488.6L188.3 490.7M187.8 492.7L188.2 490.6M188.3 490.7L188.5 493.1M188.1 495.1L187.8 492.7M188.5 493.1L189.3 495.5M188.9 497.6L188.1 495.1M189.3 495.5L190.6 498M190.2 500L188.9 497.6M190.6 498L192.3 500.2M191.9 502.3L190.2 500M192.3 500.2L194.3 502.3M193.8 504.3L191.9 502.3M194.3 502.3L196.4 504M195.9 506L193.8 504.3M196.4 504L198.4 505.2M198 507.3L195.9 506M198.4 505.2L200.3 506.1M199.9 508.1L198 507.3M200.3 506.1L201.9 506.5M201.5 508.5L199.9 508.1M201.9 506.5L203.1 506.4M202.7 508.4L201.5 508.5M203.1 506.4L203.8 506M203.3 508L202.7 508.4M185.1 504.8L184.6 506.9M184.2 508.9L184.6 506.8M184.6 506.9L184.8 509.2M184.3 511.3L184.2 508.9M184.8 509.2L185.5 511.7M185 513.7L184.3 511.3M185.5 511.7L186.7 514.1M186.2 516.2L185 513.7M186.7 514.1L188.3 516.4M187.9 518.5L186.2 516.2" fill="none" stroke="#5a5a5a" stroke-width="1.1"/>
<path d="M214.2 372.9L214 375.1L213.5 377.1L213.7 374.9ZM214 375.1L214.4 377.5L213.9 379.5L213.5 377.1ZM214.4 377.5L215.3 379.9L214.8 382L213.9 379.5ZM215.3 379.9L216.7 382.3L216.2 384.4L214.8 382ZM216.7 382.3L218.5 384.6L218 386.6L216.2 384.4ZM218.5 384.6L220.5 386.5L220 388.5L218 386.6ZM220.5 386.5L222.6 388.1L222.1 390.1L220 388.5ZM222.6 388.1L224.6 389.3L224.2 391.3L222.1 390.1ZM224.6 389.3L226.4 390L226 392L224.2 391.3ZM226.4 390L227.9 390.3L227.5 392.3L226 392ZM227.9 390.3L229 390.1L228.6 392.1L227.5 392.3ZM229 390.1L229.5 389.6L229.1 391.6L228.6 392.1ZM210.6 389.1L210.3 391.3L209.8 393.3L210.1 391.1ZM210.3 391.3L210.6 393.6L210.1 395.7L209.8 393.3ZM210.6 393.6L211.4 396.1L211 398.1L210.1 395.7ZM211.4 396.1L212.7 398.5L212.3 400.5L211 398.1ZM212.7 398.5L214.5 400.8L214 402.8L212.3 400.5ZM214.5 400.8L216.4 402.8L216 404.8L214 402.8ZM216.4 402.8L218.5 404.5L218.1 406.5L216 404.8ZM218.5 404.5L220.6 405.7L220.1 407.7L218.1 406.5ZM220.6 405.7L222.5 406.5L222 408.5L220.1 407.7ZM222.5 406.5L224 406.9L223.6 408.9L222 408.5ZM224 406.9L225.2 406.8L224.7 408.8L223.6 408.9ZM225.2 406.8L225.8 406.3L225.3 408.3L224.7 408.8ZM207 405.3L206.6 407.5L206.2 409.5L206.6 407.4ZM206.6 407.5L206.8 409.8L206.4 411.8L206.2 409.5ZM206.8 409.8L207.6 412.3L207.1 414.3L206.4 411.8ZM207.6 412.3L208.8 414.7L208.4 416.7L207.1 414.3ZM208.8 414.7L210.5 417L210 419L208.4 416.7ZM210.5 417L212.4 419.1L211.9 421.1L210 419ZM212.4 419.1L214.5 420.8L214 422.8L211.9 421.1ZM214.5 420.8L216.6 422.1L216.1 424.2L214 422.8ZM216.6 422.1L218.5 423L218 425L216.1 424.2ZM218.5 423L220.1 423.4L219.7 425.5L218 425ZM220.1 423.4L221.3 423.4L220.9 425.4L219.7 425.5ZM221.3 423.4L222.1 423L221.6 425L220.9 425.4ZM203 423.7L203.1 426L202.6 428L202.6 425.7ZM203.1 426L203.7 428.4L203.3 430.4L202.6 428ZM203.7 428.4L204.9 430.9L204.4 432.9L203.3 430.4ZM204.9 430.9L206.5 433.2L206 435.2L204.4 432.9ZM206.5 433.2L208.4 435.3L207.9 437.3L206 435.2ZM208.4 435.3L210.4 437.1L210 439.1L207.9 437.3ZM210.4 437.1L212.5 438.5L212.1 440.5L210 439.1ZM212.5 438.5L214.5 439.5L214 441.5L212.1 440.5ZM214.5 439.5L216.2 440L215.7 442L214 441.5ZM216.2 440L217.5 440.1L217 442.1L215.7 442ZM217.5 440.1L218.3 439.7L217.9 441.7L217 442.1ZM218.3 439.7L218.6 439L218.1 441.1L217.9 441.7ZM199.4 439.9L199.3 442.2L198.9 444.2L198.9 441.9ZM199.3 442.2L199.9 444.6L199.4 446.6L198.9 444.2ZM199.9 444.6L201 447L200.5 449.1L199.4 446.6ZM201 447L202.5 449.4L202 451.4L200.5 449.1ZM202.5 449.4L204.3 451.6L203.9 453.6L202 451.4ZM204.3 451.6L206.4 453.4L205.9 455.4L203.9 453.6ZM206.4 453.4L208.5 454.9L208 456.9L205.9 455.4ZM208.5 454.9L210.5 456L210 458L208 456.9ZM210.5 456L212.2 456.5L211.8 458.6L210 458ZM212.2 456.5L213.6 456.7L213.2 458.7L211.8 458.6ZM213.6 456.7L214.5 456.4L214.1 458.4L213.2 458.7ZM214.5 456.4L214.9 455.8L214.4 457.8L214.1 458.4ZM195.8 456.1L195.6 458.3L195.2 460.4L195.3 458.1ZM195.6 458.3L196.1 460.7L195.6 462.8L195.2 460.4ZM196.1 460.7L197.1 463.2L196.6 465.2L195.6 462.8ZM197.1 463.2L198.5 465.6L198.1 467.6L196.6 465.2ZM198.5 465.6L200.3 467.8L199.9 469.8L198.1 467.6ZM200.3 467.8L202.3 469.7L201.9 471.7L199.9 469.8ZM202.3 469.7L204.5 471.3L204 473.3L201.9 471.7ZM204.5 471.3L206.5 472.4L206 474.4L204 473.3ZM206.5 472.4L208.3 473.1L207.8 475.1L206 474.4ZM208.3 473.1L209.7 473.3L209.3 475.3L207.8 475.1ZM209.7 473.3L210.7 473.1L210.3 475.1L209.3 475.3ZM210.7 473.1L211.2 472.5L210.7 474.5L210.3 475.1ZM192.2 472.3L192 474.5L191.5 476.5L191.7 474.4ZM192 474.5L192.3 476.9L191.9 478.9L191.5 476.5ZM192.3 476.9L193.2 479.4L192.7 481.4L191.9 478.9ZM193.2 479.4L194.6 481.8L194.1 483.8L192.7 481.4ZM194.6 481.8L196.3 484L195.9 486L194.1 483.8ZM196.3 484L198.3 486L197.9 488L195.9 486ZM198.3 486L200.4 487.6L200 489.6L197.9 488ZM200.4 487.6L202.5 488.8L202 490.9L200 489.6ZM202.5 488.8L204.3 489.6L203.9 491.6L202 490.9ZM204.3 489.6L205.8 489.9L205.4 491.9L203.9 491.6ZM205.8 489.9L206.9 489.7L206.5 491.8L205.4 491.9ZM206.9 489.7L207.5 489.2L207 491.3L206.5 491.8ZM188.6 488.6L188.3 490.7L187.8 492.7L188.2 490.6ZM188.3 490.7L188.5 493.1L188.1 495.1L187.8 492.7ZM188.5 493.1L189.3 495.5L188.9 497.6L188.1 495.1ZM189.3 495.5L190.6 498L190.2 500L188.9 497.6ZM190.6 498L192.3 500.2L191.9 502.3L190.2 500ZM192.3 500.2L194.3 502.3L193.8 504.3L191.9 502.3ZM194.3 502.3L196.4 504L195.9 506L193.8 504.3ZM196.4 504L198.4 505.2L198 507.3L195.9 506ZM198.4 505.2L200.3 506.1L199.9 508.1L198 507.3ZM200.3 506.1L201.9 506.5L201.5 508.5L199.9 508.1ZM201.9 506.5L203.1 506.4L202.7 508.4L201.5 508.5ZM203.1 506.4L203.8 506L203.3 508L202.7 508.4ZM185.1 504.8L184.6 506.9L184.2 508.9L184.6 506.8ZM184.6 506.9L184.8 509.2L184.3 511.3L184.2 508.9ZM184.8 509.2L185.5 511.7L185 513.7L184.3 511.3ZM185.5 511.7L186.7 514.1L186.2 516.2L185 513.7ZM186.7 514.1L188.3 516.4L187.9 518.5L186.2 516.2Z" fill="#8a8a8a" stroke="#8a8a8a" stroke-width="0.6"/>
<path d="M218.3 367L216.5 368.1M215.5 372.6L217.3 371.5M216.5 368.1L215.2 369.7M214.2 374.2L215.5 372.6M215.2 369.7L214.4 371.6M213.4 376.1L214.2 374.2M229.8 388.4L229.7 387.5M228.7 392L228.8 392.8M229.7 387.5L229.1 386.5M228.1 391L228.7 392M229.1 386.5L227.9 385.4M226.9 389.9L228.1 391M227.9 385.4L226.2 384.4M225.2 388.9L226.9 389.9M226.2 384.4L224.2 383.5M223.2 388L225.2 388.9M224.2 383.5L221.9 382.9M220.9 387.4L223.2 388M221.9 382.9L219.5 382.7M218.5 387.1L220.9 387.4M219.5 382.7L217.1 382.8M216.1 387.3L218.5 387.1M217.1 382.8L215 383.4M214 387.9L216.1 387.3M215 383.4L213.1 384.5M212.1 389L214 387.9M213.1 384.5L211.7 386M210.7 390.5L212.1 389M211.7 386L210.9 387.9M209.9 392.4L210.7 390.5M226.1 405.1L226.1 404.3M225.1 408.8L225.1 409.6M226.1 404.3L225.6 403.3M224.6 407.8L225.1 408.8M225.6 403.3L224.5 402.2M223.5 406.7L224.6 407.8M224.5 402.2L222.9 401.2M221.9 405.7L223.5 406.7M222.9 401.2L220.9 400.3M219.9 404.8L221.9 405.7M220.9 400.3L218.7 399.6M217.7 404.1L219.9 404.8M218.7 399.6L216.3 399.3M215.3 403.8L217.7 404.1M216.3 399.3L213.9 399.4M212.9 403.8L215.3 403.8M213.9 399.4L211.7 399.9M210.7 404.4L212.9 403.8M211.7 399.9L209.8 400.9M208.8 405.4L210.7 404.4M209.8 400.9L208.3 402.3M207.3 406.8L208.8 405.4M208.3 402.3L207.3 404.1M206.3 408.6L207.3 406.8M222.3 421.8L222.5 421.1M221.5 425.5L221.3 426.3M222.5 421.1L222 420.1M221.1 424.6L221.5 425.5M222 420.1L221.1 419M220.1 423.5L221.1 424.6M221.1 419L219.5 418M218.6 422.4L220.1 423.5M219.5 418L217.6 417M216.6 421.5L218.6 422.4M217.6 417L215.4 416.3M214.4 420.8L216.6 421.5M215.4 416.3L213 415.9M212 420.4L214.4 420.8M213 415.9L210.6 415.9M209.6 420.4L212 420.4M210.6 415.9L208.4 416.4M207.4 420.8L209.6 420.4M208.4 416.4L206.4 417.3M205.4 421.8L207.4 420.8M206.4 417.3L204.8 418.6M203.9 423.1L205.4 421.8M204.8 418.6L203.8 420.4M202.8 424.9L203.9 423.1M203.8 420.4L203.3 422.4M202.3 426.9L202.8 424.9M218.8 437.8L218.5 436.9M217.5 441.4L217.8 442.3M218.5 436.9L217.6 435.8M216.6 440.3L217.5 441.4M217.6 435.8L216.2 434.7M215.2 439.2L216.6 440.3M216.2 434.7L214.3 433.8M213.3 438.3L215.2 439.2M214.3 433.8L212.1 433M211.2 437.5L213.3 438.3M212.1 433L209.8 432.5M208.8 437L211.2 437.5M209.8 432.5L207.4 432.5M206.4 437L208.8 437M207.4 432.5L205.1 432.8M204.1 437.3L206.4 437M205.1 432.8L203.1 433.7M202.1 438.2L204.1 437.3M203.1 433.7L201.4 434.9M200.4 439.4L202.1 438.2M201.4 434.9L200.3 436.6M199.3 441.1L200.4 439.4M200.3 436.6L199.6 438.6M198.7 443.1L199.3 441.1M211.5 471.3L211.3 470.4M210.4 474.9L210.5 475.8M211.3 470.4L210.6 469.4M209.7 473.9L210.4 474.9M210.6 469.4L209.4 468.3M208.4 472.8L209.7 473.9M193.3 469.2L192.5 471.1M191.5 475.6L192.3 473.7M207.8 488L207.7 487.2M206.7 491.7L206.8 492.5M207.7 487.2L207.1 486.2M206.2 490.7L206.7 491.7M207.1 486.2L206 485.1M205 489.6L206.2 490.7M206 485.1L204.4 484.1M203.4 488.6L205 489.6M204.4 484.1L202.3 483.2M201.3 487.7L203.4 488.6M202.3 483.2L200.1 482.5M199.1 487L201.3 487.7M200.1 482.5L197.7 482.3M196.7 486.8L199.1 487M197.7 482.3L195.3 482.4M194.3 486.9L196.7 486.8M195.3 482.4L193.1 483M192.1 487.5L194.3 486.9M193.1 483L191.2 484M190.2 488.5L192.1 487.5M191.2 484L189.8 485.5M188.8 490L190.2 488.5M189.8 485.5L188.9 487.3M187.9 491.8L188.8 490M204 504.7L204.1 504M203.1 508.4L203 509.2M204.1 504L203.6 503M202.6 507.5L203.1 508.4M203.6 503L202.6 501.9M201.6 506.4L202.6 507.5M202.6 501.9L201 500.8M200 505.3L201.6 506.4M201 500.8L199 499.9M198.1 504.4L200 505.3M199 499.9L196.8 499.2M195.8 503.7L198.1 504.4M196.8 499.2L194.4 498.9M193.4 503.4L195.8 503.7M194.4 498.9L192 498.9M191 503.4L193.4 503.4M192 498.9L189.8 499.4M188.8 503.9L191 503.4M189.8 499.4L187.9 500.4M186.9 504.9L188.8 503.9M187.9 500.4L186.4 501.8M185.4 506.3L186.9 504.9M186.4 501.8L185.3 503.6M184.4 508.1L185.4 506.3" fill="none" stroke="#5a5a5a" stroke-width="1.1"/>
<path d="M218.3 367L216.5 368.1L215.5 372.6L217.3 371.5ZM216.5 368.1L215.2 369.7L214.2 374.2L215.5 372.6ZM215.2 369.7L214.4 371.6L213.4 376.1L214.2 374.2ZM229.8 388.4L229.7 387.5L228.7 392L228.8 392.8ZM229.7 387.5L229.1 386.5L228.1 391L228.7 392ZM229.1 386.5L227.9 385.4L226.9 389.9L228.1 391ZM227.9 385.4L226.2 384.4L225.2 388.9L226.9 389.9ZM226.2 384.4L224.2 383.5L223.2 388L225.2 388.9ZM224.2 383.5L221.9 382.9L220.9 387.4L223.2 388ZM221.9 382.9L219.5 382.7L218.5 387.1L220.9 387.4ZM219.5 382.7L217.1 382.8L216.1 387.3L218.5 387.1ZM217.1 382.8L215 383.4L214 387.9L216.1 387.3ZM215 383.4L213.1 384.5L212.1 389L214 387.9ZM213.1 384.5L211.7 386L210.7 390.5L212.1 389ZM211.7 386L210.9 387.9L209.9 392.4L210.7 390.5ZM226.1 405.1L226.1 404.3L225.1 408.8L225.1 409.6ZM226.1 404.3L225.6 403.3L224.6 407.8L225.1 408.8ZM225.6 403.3L224.5 402.2L223.5 406.7L224.6 407.8ZM224.5 402.2L222.9 401.2L221.9 405.7L223.5 406.7ZM222.9 401.2L220.9 400.3L219.9 404.8L221.9 405.7ZM220.9 400.3L218.7 399.6L217.7 404.1L219.9 404.8ZM218.7 399.6L216.3 399.3L215.3 403.8L217.7 404.1ZM216.3 399.3L213.9 399.4L212.9 403.8L215.3 403.8ZM213.9 399.4L211.7 399.9L210.7 404.4L212.9 403.8ZM211.7 399.9L209.8 400.9L208.8 405.4L210.7 404.4ZM209.8 400.9L208.3 402.3L207.3 406.8L208.8 405.4ZM208.3 402.3L207.3 404.1L206.3 408.6L207.3 406.8ZM222.3 421.8L222.5 421.1L221.5 425.5L221.3 426.3ZM222.5 421.1L222 420.1L221.1 424.6L221.5 425.5ZM222 420.1L221.1 419L220.1 423.5L221.1 424.6ZM221.1 419L219.5 418L218.6 422.4L220.1 423.5ZM219.5 418L217.6 417L216.6 421.5L218.6 422.4ZM217.6 417L215.4 416.3L214.4 420.8L216.6 421.5ZM215.4 416.3L213 415.9L212 420.4L214.4 420.8ZM213 415.9L210.6 415.9L209.6 420.4L212 420.4ZM210.6 415.9L208.4 416.4L207.4 420.8L209.6 420.4ZM208.4 416.4L206.4 417.3L205.4 421.8L207.4 420.8ZM206.4 417.3L204.8 418.6L203.9 423.1L205.4 421.8ZM204.8 418.6L203.8 420.4L202.8 424.9L203.9 423.1ZM203.8 420.4L203.3 422.4L202.3 426.9L202.8 424.9ZM218.8 437.8L218.5 436.9L217.5 441.4L217.8 442.3ZM218.5 436.9L217.6 435.8L216.6 440.3L217.5 441.4ZM217.6 435.8L216.2 434.7L215.2 439.2L216.6 440.3ZM216.2 434.7L214.3 433.8L213.3 438.3L215.2 439.2ZM214.3 433.8L212.1 433L211.2 437.5L213.3 438.3ZM212.1 433L209.8 432.5L208.8 437L211.2 437.5ZM209.8 432.5L207.4 432.5L206.4 437L208.8 437ZM207.4 432.5L205.1 432.8L204.1 437.3L206.4 437ZM205.1 432.8L203.1 433.7L202.1 438.2L204.1 437.3ZM203.1 433.7L201.4 434.9L200.4 439.4L202.1 438.2ZM201.4 434.9L200.3 436.6L199.3 441.1L200.4 439.4ZM200.3 436.6L199.6 438.6L198.7 443.1L199.3 441.1ZM211.5 471.3L211.3 470.4L210.4 474.9L210.5 475.8ZM211.3 470.4L210.6 469.4L209.7 473.9L210.4 474.9ZM210.6 469.4L209.4 468.3L208.4 472.8L209.7 473.9ZM193.3 469.2L192.5 471.1L191.5 475.6L192.3 473.7ZM207.8 488L207.7 487.2L206.7 491.7L206.8 492.5ZM207.7 487.2L207.1 486.2L206.2 490.7L206.7 491.7ZM207.1 486.2L206 485.1L205 489.6L206.2 490.7ZM206 485.1L204.4 484.1L203.4 488.6L205 489.6ZM204.4 484.1L202.3 483.2L201.3 487.7L203.4 488.6ZM202.3 483.2L200.1 482.5L199.1 487L201.3 487.7ZM200.1 482.5L197.7 482.3L196.7 486.8L199.1 487ZM197.7 482.3L195.3 482.4L194.3 486.9L196.7 486.8ZM195.3 482.4L193.1 483L192.1 487.5L194.3 486.9ZM193.1 483L191.2 484L190.2 488.5L192.1 487.5ZM191.2 484L189.8 485.5L188.8 490L190.2 488.5ZM189.8 485.5L188.9 487.3L187.9 491.8L188.8 490ZM204 504.7L204.1 504L203.1 508.4L203 509.2ZM204.1 504L203.6 503L202.6 507.5L203.1 508.4ZM203.6 503L202.6 501.9L201.6 506.4L202.6 507.5ZM202.6 501.9L201 500.8L200 505.3L201.6 506.4ZM201 500.8L199 499.9L198.1 504.4L200 505.3ZM199 499.9L196.8 499.2L195.8 503.7L198.1 504.4ZM196.8 499.2L194.4 498.9L193.4 503.4L195.8 503.7ZM194.4 498.9L192 498.9L191 503.4L193.4 503.4ZM192 498.9L189.8 499.4L188.8 503.9L191 503.4ZM189.8 499.4L187.9 500.4L186.9 504.9L188.8 503.9ZM187.9 500.4L186.4 501.8L185.4 506.3L186.9 504.9ZM186.4 501.8L185.3 503.6L184.4 508.1L185.4 506.3Z" fill="#b4b4b4" stroke="#b4b4b4" stroke-width="0.6"/>
<path d="M215.2 454.5L214.9 453.7M213.9 458.1L214.2 459M214.9 453.7L214.1 452.6M213.1 457.1L213.9 458.1M214.1 452.6L212.8 451.5M211.8 456L213.1 457.1M212.8 451.5L211 450.5M210 455L211.8 456M211 450.5L208.9 449.7M207.9 454.2L210 455M208.9 449.7L206.5 449.2M205.5 453.7L207.9 454.2M206.5 449.2L204.1 449.1M203.1 453.5L205.5 453.7M204.1 449.1L201.8 449.3M200.8 453.8L203.1 453.5M201.8 449.3L199.7 450.1M198.7 454.6L200.8 453.8M199.7 450.1L198 451.3M197 455.8L198.7 454.6M198 451.3L196.8 452.9M195.8 457.4L197 455.8M196.8 452.9L196 454.9M195.1 459.4L195.8 457.4M209.4 468.3L207.7 467.3M206.7 471.8L208.4 472.8M207.7 467.3L205.6 466.4M204.6 470.9L206.7 471.8M205.6 466.4L203.3 465.9M202.3 470.4L204.6 470.9M203.3 465.9L200.9 465.7M199.9 470.1L202.3 470.4M200.9 465.7L198.5 465.9M197.6 470.4L199.9 470.1M198.5 465.9L196.4 466.5M195.4 471L197.6 470.4M196.4 466.5L194.6 467.6M193.6 472.1L195.4 471M194.6 467.6L193.3 469.2M192.3 473.7L193.6 472.1" fill="none" stroke="#b06a18" stroke-width="1.1"/>
<path d="M215.2 454.5L214.9 453.7L213.9 458.1L214.2 459ZM214.9 453.7L214.1 452.6L213.1 457.1L213.9 458.1ZM214.1 452.6L212.8 451.5L211.8 456L213.1 457.1ZM212.8 451.5L211 450.5L210 455L211.8 456ZM211 450.5L208.9 449.7L207.9 454.2L210 455ZM208.9 449.7L206.5 449.2L205.5 453.7L207.9 454.2ZM206.5 449.2L204.1 449.1L203.1 453.5L205.5 453.7ZM204.1 449.1L201.8 449.3L200.8 453.8L203.1 453.5ZM201.8 449.3L199.7 450.1L198.7 454.6L200.8 453.8ZM199.7 450.1L198 451.3L197 455.8L198.7 454.6ZM198 451.3L196.8 452.9L195.8 457.4L197 455.8ZM196.8 452.9L196 454.9L195.1 459.4L195.8 457.4ZM209.4 468.3L207.7 467.3L206.7 471.8L208.4 472.8ZM207.7 467.3L205.6 466.4L204.6 470.9L206.7 471.8ZM205.6 466.4L203.3 465.9L202.3 470.4L204.6 470.9ZM203.3 465.9L200.9 465.7L199.9 470.1L202.3 470.4ZM200.9 465.7L198.5 465.9L197.6 470.4L199.9 470.1ZM198.5 465.9L196.4 466.5L195.4 471L197.6 470.4ZM196.4 466.5L194.6 467.6L193.6 472.1L195.4 471ZM194.6 467.6L193.3 469.2L192.3 473.7L193.6 472.1Z" fill="#ec963e" stroke="#ec963e" stroke-width="0.6"/>
<path d="M118.8,441.4 L122.3,444.0 L127.5,443.1 L131.0,447.5 L130.1,452.8" stroke="#c0650a" stroke-width="2.1"/>
<path d="M118.8,441.4 L122.3,444.0 L127.5,443.1 L131.0,447.5 L130.1,452.8" stroke="#ee8d2a" stroke-width="1.2"/>
<path d="M134.0,458.0 L136.3,460.7 L138.9,465.0" stroke="#c0650a" stroke-width="2.1"/>
<path d="M134.0,458.0 L136.3,460.7 L138.9,465.0" stroke="#ee8d2a" stroke-width="1.2"/>
<path d="M139.0,469.0 L142.4,472.0" stroke="#c0650a" stroke-width="2.1"/>
<path d="M139.0,469.0 L142.4,472.0" stroke="#ee8d2a" stroke-width="1.2"/>
<path d="M211.5,443.0 L206.4,446.6 L204.0,451.0" stroke="#c0650a" stroke-width="2.1"/>
<path d="M211.5,443.0 L206.4,446.6 L204.0,451.0" stroke="#ee8d2a" stroke-width="1.2"/>
<path d="M202.9,458.0 L197.6,461.5 L196.0,465.0" stroke="#c0650a" stroke-width="2.1"/>
<path d="M202.9,458.0 L197.6,461.5 L196.0,465.0" stroke="#ee8d2a" stroke-width="1.2"/>
<path d="M196.0,470.0 L194.1,472.5" stroke="#c0650a" stroke-width="2.1"/>
<path d="M196.0,470.0 L194.1,472.5" stroke="#ee8d2a" stroke-width="1.2"/>
<path d="M211.5,443.0 L211.2,439.4 L214.5,437.6 L217.9,439.4 L218.2,443.0 L215.0,444.8 L211.5,443.0" stroke="#c0650a" stroke-width="2.1"/>
<path d="M211.5,443.0 L211.2,439.4 L214.5,437.6 L217.9,439.4 L218.2,443.0 L215.0,444.8 L211.5,443.0" stroke="#ee8d2a" stroke-width="1.2"/></g>
<g filter="url(#blur3)" opacity="0.45"><path d="M130.8,383.4 A36.5,9.6 0 0 1 203.8,383.4 L203.8,430.5 A36.5,9.6 0 0 1 130.8,430.5 Z" fill="#555"/></g>
<path d="M132.8,383.4 A34.5,7.6 0 0 1 201.8,383.4 L201.8,430.5 A34.5,7.6 0 0 1 132.8,430.5 Z" fill="#d2d2d2" stroke="#111" stroke-width="1.3"/>
<ellipse cx="167.3" cy="383.4" rx="34.5" ry="7.6" fill="none" stroke="#111" stroke-width="1.3"/>
<g fill="none" stroke-linecap="round" stroke-linejoin="round"><path d="M139.0,380.4 L146.3,385.5 L147.0,389.2 L146.6,400.9 L149.9,403.8 L149.2,409.6 L148.8,413.0 L149.2,415.5 L145.5,421.3 L139.0,427.2" stroke="#bf8fb2" stroke-width="2.7"/>
<path d="M139.0,380.4 L146.3,385.5 L147.0,389.2 L146.6,400.9 L149.9,403.8 L149.2,409.6 L148.8,413.0 L149.2,415.5 L145.5,421.3 L139.0,427.2" stroke="#f0b6e2" stroke-width="1.7"/>
<path d="M195.6,380.4 L188.3,385.5 L187.6,389.2 L188.0,400.9 L184.7,403.8 L185.4,409.6 L185.8,413.0 L185.4,415.5 L189.1,421.3 L195.6,427.2" stroke="#bf8fb2" stroke-width="2.7"/>
<path d="M195.6,380.4 L188.3,385.5 L187.6,389.2 L188.0,400.9 L184.7,403.8 L185.4,409.6 L185.8,413.0 L185.4,415.5 L189.1,421.3 L195.6,427.2" stroke="#f0b6e2" stroke-width="1.7"/>
<path d="M146.3,385.5 L152.8,389.2 L158.0,385.5 L158.2,381.9" stroke="#bf8fb2" stroke-width="2.7"/>
<path d="M146.3,385.5 L152.8,389.2 L158.0,385.5 L158.2,381.9" stroke="#f0b6e2" stroke-width="1.7"/>
<path d="M188.3,385.5 L181.8,389.2 L176.6,385.5 L176.4,381.9" stroke="#bf8fb2" stroke-width="2.7"/>
<path d="M188.3,385.5 L181.8,389.2 L176.6,385.5 L176.4,381.9" stroke="#f0b6e2" stroke-width="1.7"/>
<path d="M158.0,385.5 L162.3,389.9" stroke="#bf8fb2" stroke-width="2.7"/>
<path d="M158.0,385.5 L162.3,389.9" stroke="#f0b6e2" stroke-width="1.7"/>
<path d="M176.6,385.5 L172.3,389.9" stroke="#bf8fb2" stroke-width="2.7"/>
<path d="M176.6,385.5 L172.3,389.9" stroke="#f0b6e2" stroke-width="1.7"/>
<path d="M149.9,403.8 L151.4,402.3 L155.0,401.6" stroke="#bf8fb2" stroke-width="2.7"/>
<path d="M149.9,403.8 L151.4,402.3 L155.0,401.6" stroke="#f0b6e2" stroke-width="1.7"/>
<path d="M184.7,403.8 L183.2,402.3 L179.6,401.6" stroke="#bf8fb2" stroke-width="2.7"/>
<path d="M184.7,403.8 L183.2,402.3 L179.6,401.6" stroke="#f0b6e2" stroke-width="1.7"/>
<path d="M149.2,415.5 L153.6,416.9" stroke="#bf8fb2" stroke-width="2.7"/>
<path d="M149.2,415.5 L153.6,416.9" stroke="#f0b6e2" stroke-width="1.7"/>
<path d="M185.4,415.5 L181.0,416.9" stroke="#bf8fb2" stroke-width="2.7"/>
<path d="M185.4,415.5 L181.0,416.9" stroke="#f0b6e2" stroke-width="1.7"/>
<path d="M145.5,421.3 L149.0,424.5 L151.4,427.2" stroke="#bf8fb2" stroke-width="2.7"/>
<path d="M145.5,421.3 L149.0,424.5 L151.4,427.2" stroke="#f0b6e2" stroke-width="1.7"/>
<path d="M189.1,421.3 L185.6,424.5 L183.2,427.2" stroke="#bf8fb2" stroke-width="2.7"/>
<path d="M189.1,421.3 L185.6,424.5 L183.2,427.2" stroke="#f0b6e2" stroke-width="1.7"/>
<path d="M139.0,427.2 L134.6,427.2" stroke="#bf8fb2" stroke-width="2.7"/>
<path d="M139.0,427.2 L134.6,427.2" stroke="#f0b6e2" stroke-width="1.7"/>
<path d="M195.6,427.2 L200.0,427.2" stroke="#bf8fb2" stroke-width="2.7"/>
<path d="M195.6,427.2 L200.0,427.2" stroke="#f0b6e2" stroke-width="1.7"/>
<path d="M146.6,400.9 L143.0,405.0 L141.0,408.0" stroke="#bf8fb2" stroke-width="2.7"/>
<path d="M146.6,400.9 L143.0,405.0 L141.0,408.0" stroke="#f0b6e2" stroke-width="1.7"/>
<path d="M188.0,400.9 L191.6,405.0 L193.6,408.0" stroke="#bf8fb2" stroke-width="2.7"/>
<path d="M188.0,400.9 L191.6,405.0 L193.6,408.0" stroke="#f0b6e2" stroke-width="1.7"/>
<circle cx="147.0" cy="402.3" r="1.3" fill="#1f1fff" fill-opacity="0.9"/>
<circle cx="187.6" cy="402.3" r="1.3" fill="#1f1fff" fill-opacity="0.9"/>
<circle cx="155.0" cy="401.6" r="1.3" fill="#ee2a2a" fill-opacity="0.9"/>
<circle cx="179.6" cy="401.6" r="1.3" fill="#ee2a2a" fill-opacity="0.9"/>
<circle cx="148.5" cy="412.6" r="1.3" fill="#1f1fff" fill-opacity="0.9"/>
<circle cx="186.1" cy="412.6" r="1.3" fill="#1f1fff" fill-opacity="0.9"/>
<circle cx="153.6" cy="416.9" r="1.3" fill="#ee2a2a" fill-opacity="0.9"/>
<circle cx="181.0" cy="416.9" r="1.3" fill="#ee2a2a" fill-opacity="0.9"/>
<circle cx="142.6" cy="422.8" r="1.3" fill="#1f1fff" fill-opacity="0.9"/>
<circle cx="192.0" cy="422.8" r="1.3" fill="#1f1fff" fill-opacity="0.9"/>
<circle cx="134.6" cy="427.2" r="1.3" fill="#1f1fff" fill-opacity="0.9"/>
<circle cx="200.0" cy="427.2" r="1.3" fill="#1f1fff" fill-opacity="0.9"/>
<circle cx="151.4" cy="427.2" r="1.3" fill="#ee2a2a" fill-opacity="0.9"/>
<circle cx="183.2" cy="427.2" r="1.3" fill="#ee2a2a" fill-opacity="0.9"/>
<circle cx="158.2" cy="381.9" r="1.3" fill="#ee2a2a" fill-opacity="0.9"/>
<circle cx="176.4" cy="381.9" r="1.3" fill="#ee2a2a" fill-opacity="0.9"/>
<circle cx="162.3" cy="389.9" r="1.3" fill="#ee2a2a" fill-opacity="0.9"/>
<circle cx="172.3" cy="389.9" r="1.3" fill="#ee2a2a" fill-opacity="0.9"/>
<circle cx="141.0" cy="408.0" r="1.3" fill="#7a5a7a" fill-opacity="0.9"/>
<circle cx="193.6" cy="408.0" r="1.3" fill="#7a5a7a" fill-opacity="0.9"/>
<circle cx="147.0" cy="389.2" r="1.3" fill="#1f1fff" fill-opacity="0.9"/>
<circle cx="187.6" cy="389.2" r="1.3" fill="#1f1fff" fill-opacity="0.9"/></g>
<g clip-path="url(#clipUp)"><g fill="none" stroke-linecap="round" stroke-linejoin="round"><path d="M125.8 373L126.2 375.1M126.7 377.1L126.2 375M126.2 375.1L126.1 377.4M126.6 379.4L126.7 377.1M126.1 377.4L125.4 379.9M125.9 381.9L126.6 379.4M125.4 379.9L124.2 382.3M124.6 384.3L125.9 381.9M124.2 382.3L122.6 384.6M123 386.6L124.6 384.3M122.6 384.6L120.7 386.7M121.1 388.7L123 386.6M120.7 386.7L118.6 388.5M119 390.5L121.1 388.7M118.6 388.5L116.5 389.8M116.9 391.9L119 390.5M116.5 389.8L114.5 390.8M115 392.8L116.9 391.9M114.5 390.8L112.9 391.2M113.3 393.2L115 392.8M112.9 391.2L111.6 391.2M112.1 393.3L113.3 393.2M111.6 391.2L110.9 390.9M111.3 392.9L112.1 393.3M110.9 390.9L110.7 390.1M111.1 392.2L111.3 392.9M129.9 391.4L129.8 393.7M130.3 395.7L130.3 393.4M129.8 393.7L129.2 396.1M129.6 398.1L130.3 395.7M129.2 396.1L128.1 398.6M128.5 400.6L129.6 398.1M128.1 398.6L126.5 400.9M126.9 402.9L128.5 400.6M126.5 400.9L124.6 403M125 405.1L126.9 402.9M124.6 403L122.5 404.9M123 406.9L125 405.1M122.5 404.9L120.4 406.3M120.9 408.3L123 406.9M120.4 406.3L118.4 407.3M118.9 409.3L120.9 408.3M118.4 407.3L116.7 407.8M117.2 409.8L118.9 409.3M116.7 407.8L115.4 407.9M115.9 409.9L117.2 409.8M115.4 407.9L114.6 407.5M115 409.5L115.9 409.9M114.6 407.5L114.3 406.9M114.8 408.9L115 409.5M133.5 407.7L133.5 410M134 412L133.9 409.7M133.5 410L133 412.4M133.4 414.4L134 412M133 412.4L131.9 414.8M132.3 416.9L133.4 414.4M131.9 414.8L130.4 417.2M130.8 419.2L132.3 416.9M130.4 417.2L128.5 419.4M129 421.4L130.8 419.2M128.5 419.4L126.5 421.2M126.9 423.3L129 421.4M126.5 421.2L124.4 422.7M124.8 424.7L126.9 423.3M124.4 422.7L122.4 423.8M122.8 425.8L124.8 424.7M122.4 423.8L120.6 424.3M121 426.4L122.8 425.8M120.6 424.3L119.2 424.5M119.7 426.5L121 426.4M119.2 424.5L118.3 424.2M118.8 426.2L119.7 426.5M118.3 424.2L118 423.6M118.4 425.6L118.8 426.2M137.1 424L137.2 426.2M137.7 428.3L137.6 426M137.2 426.2L136.7 428.7M137.2 430.7L137.7 428.3M136.7 428.7L135.7 431.1M136.2 433.1L137.2 430.7M135.7 431.1L134.3 433.5M134.7 435.5L136.2 433.1M134.3 433.5L132.4 435.7M132.9 437.7L134.7 435.5M132.4 435.7L130.4 437.6M130.8 439.6L132.9 437.7M130.4 437.6L128.3 439.1M128.7 441.2L130.8 439.6M128.3 439.1L126.3 440.2M126.7 442.3L128.7 441.2M126.3 440.2L124.5 440.9M124.9 442.9L126.7 442.3M124.5 440.9L123 441.1M123.5 443.1L124.9 442.9M123 441.1L122.1 440.9M122.5 442.9L123.5 443.1M122.1 440.9L121.7 440.3M122.1 442.3L122.5 442.9M140.7 440.3L140.9 442.5M141.3 444.5L141.2 442.3M140.9 442.5L140.5 444.9M140.9 446.9L141.3 444.5M140.5 444.9L139.6 447.4M140 449.4L140.9 446.9M139.6 447.4L138.1 449.8M138.6 451.8L140 449.4M138.1 449.8L136.4 452M136.8 454L138.6 451.8M136.4 452L134.3 454M134.8 456L136.8 454M134.3 454L132.2 455.6M132.7 457.6L134.8 456M132.2 455.6L130.2 456.7M130.6 458.7L132.7 457.6M130.2 456.7L128.4 457.4M128.8 459.5L130.6 458.7M128.4 457.4L126.9 457.7M127.3 459.7L128.8 459.5M126.9 457.7L125.8 457.5M126.3 459.5L127.3 459.7M125.8 457.5L125.3 457M125.8 459L126.3 459.5M144.3 456.6L144.6 458.8M145 460.8L144.7 458.6M144.6 458.8L144.2 461.2M144.7 463.2L145 460.8M144.2 461.2L143.4 463.7M143.8 465.7L144.7 463.2M143.4 463.7L142 466.1M142.5 468.1L143.8 465.7M142 466.1L140.3 468.3M140.7 470.4L142.5 468.1M140.3 468.3L138.3 470.3M138.7 472.3L140.7 470.4M138.3 470.3L136.2 472M136.6 474L138.7 472.3M136.2 472L134.1 473.2M134.6 475.2L136.6 474M134.1 473.2L132.3 474M132.7 476L134.6 475.2M132.3 474L130.7 474.3M131.2 476.3L132.7 476M130.7 474.3L129.6 474.2M130.1 476.2L131.2 476.3M129.6 474.2L129 473.7M129.5 475.7L130.1 476.2M147.9 472.9L148.2 475.1M148.7 477.1L148.3 475M148.2 475.1L148 477.5M148.4 479.5L148.7 477.1M148 477.5L147.2 479.9M147.6 481.9L148.4 479.5M147.2 479.9L145.9 482.4M146.3 484.4L147.6 481.9M145.9 482.4L144.2 484.6M144.6 486.7L146.3 484.4M144.2 484.6L142.2 486.7M142.7 488.7L144.6 486.7M142.2 486.7L140.1 488.4M140.6 490.4L142.7 488.7M140.1 488.4L138.1 489.7M138.5 491.7L140.6 490.4M138.1 489.7L136.2 490.5M136.6 492.5L138.5 491.7M136.2 490.5L134.6 490.9M135 492.9L136.6 492.5M134.6 490.9L133.4 490.8M133.8 492.8L135 492.9M133.4 490.8L132.7 490.3M133.2 492.4L133.8 492.8M151.4 489.3L151.9 491.4M152.3 493.4L151.9 491.3M151.9 491.4L151.7 493.7M152.2 495.8L152.3 493.4M151.7 493.7L151 496.2M151.4 498.2L152.2 495.8M151 496.2L149.7 498.6M150.2 500.7L151.4 498.2M149.7 498.6L148.1 500.9M148.5 503L150.2 500.7M148.1 500.9L146.2 503M146.6 505L148.5 503M146.2 503L144.1 504.8M144.5 506.8L146.6 505M144.1 504.8L142 506.1M142.4 508.1L144.5 506.8M142 506.1L140.1 507M140.5 509L142.4 508.1M140.1 507L138.4 507.4M138.9 509.5L140.5 509M138.4 507.4L137.2 507.4M137.6 509.4L138.9 509.5M137.2 507.4L136.5 507M136.9 509L137.6 509.4M155.5 507.7L155.4 510M155.9 512L156 509.7M155.4 510L154.8 512.5M155.2 514.5L155.9 512M154.8 512.5L153.6 514.9M154 516.9L155.2 514.5M153.6 514.9L152 517.2M152.5 519.3L154 516.9M152 517.2L150.1 519.4M150.5 521.4L152.5 519.3M150.1 519.4L148 521.1M148.5 523.2L150.5 521.4M148 521.1L145.9 522.5M146.4 524.6L148.5 523.2" fill="none" stroke="#5a5a5a" stroke-width="1.1"/>
<path d="M125.8 373L126.2 375.1L126.7 377.1L126.2 375ZM126.2 375.1L126.1 377.4L126.6 379.4L126.7 377.1ZM126.1 377.4L125.4 379.9L125.9 381.9L126.6 379.4ZM125.4 379.9L124.2 382.3L124.6 384.3L125.9 381.9ZM124.2 382.3L122.6 384.6L123 386.6L124.6 384.3ZM122.6 384.6L120.7 386.7L121.1 388.7L123 386.6ZM120.7 386.7L118.6 388.5L119 390.5L121.1 388.7ZM118.6 388.5L116.5 389.8L116.9 391.9L119 390.5ZM116.5 389.8L114.5 390.8L115 392.8L116.9 391.9ZM114.5 390.8L112.9 391.2L113.3 393.2L115 392.8ZM112.9 391.2L111.6 391.2L112.1 393.3L113.3 393.2ZM111.6 391.2L110.9 390.9L111.3 392.9L112.1 393.3ZM110.9 390.9L110.7 390.1L111.1 392.2L111.3 392.9ZM129.9 391.4L129.8 393.7L130.3 395.7L130.3 393.4ZM129.8 393.7L129.2 396.1L129.6 398.1L130.3 395.7ZM129.2 396.1L128.1 398.6L128.5 400.6L129.6 398.1ZM128.1 398.6L126.5 400.9L126.9 402.9L128.5 400.6ZM126.5 400.9L124.6 403L125 405.1L126.9 402.9ZM124.6 403L122.5 404.9L123 406.9L125 405.1ZM122.5 404.9L120.4 406.3L120.9 408.3L123 406.9ZM120.4 406.3L118.4 407.3L118.9 409.3L120.9 408.3ZM118.4 407.3L116.7 407.8L117.2 409.8L118.9 409.3ZM116.7 407.8L115.4 407.9L115.9 409.9L117.2 409.8ZM115.4 407.9L114.6 407.5L115 409.5L115.9 409.9ZM114.6 407.5L114.3 406.9L114.8 408.9L115 409.5ZM133.5 407.7L133.5 410L134 412L133.9 409.7ZM133.5 410L133 412.4L133.4 414.4L134 412ZM133 412.4L131.9 414.8L132.3 416.9L133.4 414.4ZM131.9 414.8L130.4 417.2L130.8 419.2L132.3 416.9ZM130.4 417.2L128.5 419.4L129 421.4L130.8 419.2ZM128.5 419.4L126.5 421.2L126.9 423.3L129 421.4ZM126.5 421.2L124.4 422.7L124.8 424.7L126.9 423.3ZM124.4 422.7L122.4 423.8L122.8 425.8L124.8 424.7ZM122.4 423.8L120.6 424.3L121 426.4L122.8 425.8ZM120.6 424.3L119.2 424.5L119.7 426.5L121 426.4ZM119.2 424.5L118.3 424.2L118.8 426.2L119.7 426.5ZM118.3 424.2L118 423.6L118.4 425.6L118.8 426.2ZM137.1 424L137.2 426.2L137.7 428.3L137.6 426ZM137.2 426.2L136.7 428.7L137.2 430.7L137.7 428.3ZM136.7 428.7L135.7 431.1L136.2 433.1L137.2 430.7ZM135.7 431.1L134.3 433.5L134.7 435.5L136.2 433.1ZM134.3 433.5L132.4 435.7L132.9 437.7L134.7 435.5ZM132.4 435.7L130.4 437.6L130.8 439.6L132.9 437.7ZM130.4 437.6L128.3 439.1L128.7 441.2L130.8 439.6ZM128.3 439.1L126.3 440.2L126.7 442.3L128.7 441.2ZM126.3 440.2L124.5 440.9L124.9 442.9L126.7 442.3ZM124.5 440.9L123 441.1L123.5 443.1L124.9 442.9ZM123 441.1L122.1 440.9L122.5 442.9L123.5 443.1ZM122.1 440.9L121.7 440.3L122.1 442.3L122.5 442.9ZM140.7 440.3L140.9 442.5L141.3 444.5L141.2 442.3ZM140.9 442.5L140.5 444.9L140.9 446.9L141.3 444.5ZM140.5 444.9L139.6 447.4L140 449.4L140.9 446.9ZM139.6 447.4L138.1 449.8L138.6 451.8L140 449.4ZM138.1 449.8L136.4 452L136.8 454L138.6 451.8ZM136.4 452L134.3 454L134.8 456L136.8 454ZM134.3 454L132.2 455.6L132.7 457.6L134.8 456ZM132.2 455.6L130.2 456.7L130.6 458.7L132.7 457.6ZM130.2 456.7L128.4 457.4L128.8 459.5L130.6 458.7ZM128.4 457.4L126.9 457.7L127.3 459.7L128.8 459.5ZM126.9 457.7L125.8 457.5L126.3 459.5L127.3 459.7ZM125.8 457.5L125.3 457L125.8 459L126.3 459.5ZM144.3 456.6L144.6 458.8L145 460.8L144.7 458.6ZM144.6 458.8L144.2 461.2L144.7 463.2L145 460.8ZM144.2 461.2L143.4 463.7L143.8 465.7L144.7 463.2ZM143.4 463.7L142 466.1L142.5 468.1L143.8 465.7ZM142 466.1L140.3 468.3L140.7 470.4L142.5 468.1ZM140.3 468.3L138.3 470.3L138.7 472.3L140.7 470.4ZM138.3 470.3L136.2 472L136.6 474L138.7 472.3ZM136.2 472L134.1 473.2L134.6 475.2L136.6 474ZM134.1 473.2L132.3 474L132.7 476L134.6 475.2ZM132.3 474L130.7 474.3L131.2 476.3L132.7 476ZM130.7 474.3L129.6 474.2L130.1 476.2L131.2 476.3ZM129.6 474.2L129 473.7L129.5 475.7L130.1 476.2ZM147.9 472.9L148.2 475.1L148.7 477.1L148.3 475ZM148.2 475.1L148 477.5L148.4 479.5L148.7 477.1ZM148 477.5L147.2 479.9L147.6 481.9L148.4 479.5ZM147.2 479.9L145.9 482.4L146.3 484.4L147.6 481.9ZM145.9 482.4L144.2 484.6L144.6 486.7L146.3 484.4ZM144.2 484.6L142.2 486.7L142.7 488.7L144.6 486.7ZM142.2 486.7L140.1 488.4L140.6 490.4L142.7 488.7ZM140.1 488.4L138.1 489.7L138.5 491.7L140.6 490.4ZM138.1 489.7L136.2 490.5L136.6 492.5L138.5 491.7ZM136.2 490.5L134.6 490.9L135 492.9L136.6 492.5ZM134.6 490.9L133.4 490.8L133.8 492.8L135 492.9ZM133.4 490.8L132.7 490.3L133.2 492.4L133.8 492.8ZM151.4 489.3L151.9 491.4L152.3 493.4L151.9 491.3ZM151.9 491.4L151.7 493.7L152.2 495.8L152.3 493.4ZM151.7 493.7L151 496.2L151.4 498.2L152.2 495.8ZM151 496.2L149.7 498.6L150.2 500.7L151.4 498.2ZM149.7 498.6L148.1 500.9L148.5 503L150.2 500.7ZM148.1 500.9L146.2 503L146.6 505L148.5 503ZM146.2 503L144.1 504.8L144.5 506.8L146.6 505ZM144.1 504.8L142 506.1L142.4 508.1L144.5 506.8ZM142 506.1L140.1 507L140.5 509L142.4 508.1ZM140.1 507L138.4 507.4L138.9 509.5L140.5 509ZM138.4 507.4L137.2 507.4L137.6 509.4L138.9 509.5ZM137.2 507.4L136.5 507L136.9 509L137.6 509.4ZM155.5 507.7L155.4 510L155.9 512L156 509.7ZM155.4 510L154.8 512.5L155.2 514.5L155.9 512ZM154.8 512.5L153.6 514.9L154 516.9L155.2 514.5ZM153.6 514.9L152 517.2L152.5 519.3L154 516.9ZM152 517.2L150.1 519.4L150.5 521.4L152.5 519.3ZM150.1 519.4L148 521.1L148.5 523.2L150.5 521.4ZM148 521.1L145.9 522.5L146.4 524.6L148.5 523.2Z" fill="#8a8a8a" stroke="#8a8a8a" stroke-width="0.6"/>
<path d="M118.8 367.1L121 367.6M122 372.1L119.8 371.6M121 367.6L123 368.6M123.9 373.1L122 372.1M123 368.6L124.5 369.9M125.5 374.4L123.9 373.1M124.5 369.9L125.5 371.7M126.5 376.2L125.5 374.4M110.4 388.9L110.8 388M111.8 392.5L111.4 393.4M110.8 388L111.7 386.9M112.7 391.4L111.8 392.5M111.7 386.9L113.2 385.8M114.2 390.3L112.7 391.4M113.2 385.8L115.1 384.9M116.1 389.4L114.2 390.3M115.1 384.9L117.3 384.1M118.3 388.6L116.1 389.4M117.3 384.1L119.7 383.7M120.7 388.2L118.3 388.6M119.7 383.7L122.1 383.7M123.1 388.2L120.7 388.2M122.1 383.7L124.4 384.1M125.4 388.6L123.1 388.2M124.4 384.1L126.4 385M127.4 389.5L125.4 388.6M126.4 385L128 386.3M129 390.8L127.4 389.5M128 386.3L129.1 388.1M130.1 392.6L129 390.8M129.1 388.1L129.6 390.1M130.6 394.6L130.1 392.6M114 405.6L114.4 404.7M115.3 409.2L115 410.1M114.4 404.7L115.2 403.6M116.2 408.1L115.3 409.2M115.2 403.6L116.7 402.6M117.6 407.1L116.2 408.1M116.7 402.6L118.5 401.6M119.5 406.1L117.6 407.1M118.5 401.6L120.7 400.8M121.7 405.3L119.5 406.1M120.7 400.8L123.1 400.3M124 404.8L121.7 405.3M123.1 400.3L125.5 400.3M126.5 404.8L124 404.8M125.5 400.3L127.8 400.6M128.7 405.1L126.5 404.8M127.8 400.6L129.8 401.5M130.8 406L128.7 405.1M129.8 401.5L131.4 402.7M132.4 407.2L130.8 406M131.4 402.7L132.6 404.4M133.6 408.9L132.4 407.2M132.6 404.4L133.2 406.4M134.2 410.9L133.6 408.9M117.7 422.3L117.9 421.4M118.9 425.9L118.7 426.8M117.9 421.4L118.8 420.4M119.7 424.9L118.9 425.9M118.8 420.4L120.1 419.3M121.1 423.8L119.7 424.9M120.1 419.3L121.9 418.3M122.9 422.8L121.1 423.8M121.9 418.3L124 417.5M125 422L122.9 422.8M124 417.5L126.4 417M127.4 421.5L125 422M126.4 417L128.8 416.9M129.8 421.4L127.4 421.5M128.8 416.9L131.1 417.2M132.1 421.7L129.8 421.4M131.1 417.2L133.2 417.9M134.2 422.4L132.1 421.7M133.2 417.9L134.9 419.1M135.9 423.6L134.2 422.4M134.9 419.1L136.1 420.8M137.1 425.3L135.9 423.6M136.1 420.8L136.8 422.8M137.8 427.2L137.1 425.3M121.4 439L121.5 438.2M122.5 442.7L122.4 443.5M121.5 438.2L122.3 437.1M123.3 441.6L122.5 442.7M122.3 437.1L123.6 436M124.5 440.5L123.3 441.6M123.6 436L125.3 435M126.3 439.5L124.5 440.5M125.3 435L127.4 434.2M128.4 438.7L126.3 439.5M127.4 434.2L129.7 433.6M130.7 438.1L128.4 438.7M129.7 433.6L132.1 433.5M133.1 437.9L130.7 438.1M132.1 433.5L134.5 433.7M135.5 438.2L133.1 437.9M134.5 433.7L136.6 434.4M137.6 438.9L135.5 438.2M136.6 434.4L138.4 435.5M139.4 440L137.6 438.9M138.4 435.5L139.7 437.1M140.7 441.6L139.4 440M139.7 437.1L140.4 439.1M141.4 443.6L140.7 441.6M125.1 455.7L125.1 454.9M126.1 459.4L126.1 460.2M128.8 472.4L128.8 471.6M129.7 476.1L129.8 476.9M128.8 471.6L129.3 470.6M130.3 475.1L129.7 476.1M129.3 470.6L130.5 469.5M131.5 474L130.3 475.1M130.5 469.5L132.1 468.5M133.1 473L131.5 474M145.3 468.4L146.7 469.9M147.7 474.4L146.2 472.9M146.7 469.9L147.6 471.7M148.6 476.2L147.7 474.4M132.5 489.1L132.4 488.3M133.4 492.8L133.5 493.6M132.4 488.3L132.9 487.4M133.9 491.9L133.4 492.8M132.9 487.4L134 486.3M134.9 490.8L133.9 491.9M134 486.3L135.5 485.2M136.5 489.7L134.9 490.8M135.5 485.2L137.5 484.3M138.5 488.8L136.5 489.7M137.5 484.3L139.8 483.6M140.7 488.1L138.5 488.8M139.8 483.6L142.2 483.3M143.1 487.8L140.7 488.1M142.2 483.3L144.5 483.3M145.5 487.8L143.1 487.8M144.5 483.3L146.8 483.9M147.8 488.3L145.5 487.8M146.8 483.9L148.7 484.8M149.7 489.3L147.8 488.3M148.7 484.8L150.2 486.2M151.2 490.7L149.7 489.3M150.2 486.2L151.2 488M152.2 492.5L151.2 490.7M136.2 505.8L136 505.1M137 509.5L137.2 510.3M136 505.1L136.5 504.1M137.4 508.6L137 509.5M136.5 504.1L137.4 503M138.4 507.5L137.4 508.6M137.4 503L139 502M139.9 506.5L138.4 507.5M139 502L140.9 501M141.9 505.5L139.9 506.5M140.9 501L143.1 500.3M144.1 504.8L141.9 505.5M143.1 500.3L145.5 499.9M146.5 504.4L144.1 504.8M145.5 499.9L147.9 499.9M148.9 504.4L146.5 504.4M147.9 499.9L150.1 500.4M151.1 504.9L148.9 504.4M150.1 500.4L152.1 501.3M153.1 505.8L151.1 504.9M152.1 501.3L153.7 502.6M154.7 507.1L153.1 505.8M153.7 502.6L154.7 504.4M155.7 508.9L154.7 507.1M154.7 504.4L155.2 506.5M156.2 511L155.7 508.9" fill="none" stroke="#5a5a5a" stroke-width="1.1"/>
<path d="M118.8 367.1L121 367.6L122 372.1L119.8 371.6ZM121 367.6L123 368.6L123.9 373.1L122 372.1ZM123 368.6L124.5 369.9L125.5 374.4L123.9 373.1ZM124.5 369.9L125.5 371.7L126.5 376.2L125.5 374.4ZM110.4 388.9L110.8 388L111.8 392.5L111.4 393.4ZM110.8 388L111.7 386.9L112.7 391.4L111.8 392.5ZM111.7 386.9L113.2 385.8L114.2 390.3L112.7 391.4ZM113.2 385.8L115.1 384.9L116.1 389.4L114.2 390.3ZM115.1 384.9L117.3 384.1L118.3 388.6L116.1 389.4ZM117.3 384.1L119.7 383.7L120.7 388.2L118.3 388.6ZM119.7 383.7L122.1 383.7L123.1 388.2L120.7 388.2ZM122.1 383.7L124.4 384.1L125.4 388.6L123.1 388.2ZM124.4 384.1L126.4 385L127.4 389.5L125.4 388.6ZM126.4 385L128 386.3L129 390.8L127.4 389.5ZM128 386.3L129.1 388.1L130.1 392.6L129 390.8ZM129.1 388.1L129.6 390.1L130.6 394.6L130.1 392.6ZM114 405.6L114.4 404.7L115.3 409.2L115 410.1ZM114.4 404.7L115.2 403.6L116.2 408.1L115.3 409.2ZM115.2 403.6L116.7 402.6L117.6 407.1L116.2 408.1ZM116.7 402.6L118.5 401.6L119.5 406.1L117.6 407.1ZM118.5 401.6L120.7 400.8L121.7 405.3L119.5 406.1ZM120.7 400.8L123.1 400.3L124 404.8L121.7 405.3ZM123.1 400.3L125.5 400.3L126.5 404.8L124 404.8ZM125.5 400.3L127.8 400.6L128.7 405.1L126.5 404.8ZM127.8 400.6L129.8 401.5L130.8 406L128.7 405.1ZM129.8 401.5L131.4 402.7L132.4 407.2L130.8 406ZM131.4 402.7L132.6 404.4L133.6 408.9L132.4 407.2ZM132.6 404.4L133.2 406.4L134.2 410.9L133.6 408.9ZM117.7 422.3L117.9 421.4L118.9 425.9L118.7 426.8ZM117.9 421.4L118.8 420.4L119.7 424.9L118.9 425.9ZM118.8 420.4L120.1 419.3L121.1 423.8L119.7 424.9ZM120.1 419.3L121.9 418.3L122.9 422.8L121.1 423.8ZM121.9 418.3L124 417.5L125 422L122.9 422.8ZM124 417.5L126.4 417L127.4 421.5L125 422ZM126.4 417L128.8 416.9L129.8 421.4L127.4 421.5ZM128.8 416.9L131.1 417.2L132.1 421.7L129.8 421.4ZM131.1 417.2L133.2 417.9L134.2 422.4L132.1 421.7ZM133.2 417.9L134.9 419.1L135.9 423.6L134.2 422.4ZM134.9 419.1L136.1 420.8L137.1 425.3L135.9 423.6ZM136.1 420.8L136.8 422.8L137.8 427.2L137.1 425.3ZM121.4 439L121.5 438.2L122.5 442.7L122.4 443.5ZM121.5 438.2L122.3 437.1L123.3 441.6L122.5 442.7ZM122.3 437.1L123.6 436L124.5 440.5L123.3 441.6ZM123.6 436L125.3 435L126.3 439.5L124.5 440.5ZM125.3 435L127.4 434.2L128.4 438.7L126.3 439.5ZM127.4 434.2L129.7 433.6L130.7 438.1L128.4 438.7ZM129.7 433.6L132.1 433.5L133.1 437.9L130.7 438.1ZM132.1 433.5L134.5 433.7L135.5 438.2L133.1 437.9ZM134.5 433.7L136.6 434.4L137.6 438.9L135.5 438.2ZM136.6 434.4L138.4 435.5L139.4 440L137.6 438.9ZM138.4 435.5L139.7 437.1L140.7 441.6L139.4 440ZM139.7 437.1L140.4 439.1L141.4 443.6L140.7 441.6ZM125.1 455.7L125.1 454.9L126.1 459.4L126.1 460.2ZM128.8 472.4L128.8 471.6L129.7 476.1L129.8 476.9ZM128.8 471.6L129.3 470.6L130.3 475.1L129.7 476.1ZM129.3 470.6L130.5 469.5L131.5 474L130.3 475.1ZM130.5 469.5L132.1 468.5L133.1 473L131.5 474ZM145.3 468.4L146.7 469.9L147.7 474.4L146.2 472.9ZM146.7 469.9L147.6 471.7L148.6 476.2L147.7 474.4ZM132.5 489.1L132.4 488.3L133.4 492.8L133.5 493.6ZM132.4 488.3L132.9 487.4L133.9 491.9L133.4 492.8ZM132.9 487.4L134 486.3L134.9 490.8L133.9 491.9ZM134 486.3L135.5 485.2L136.5 489.7L134.9 490.8ZM135.5 485.2L137.5 484.3L138.5 488.8L136.5 489.7ZM137.5 484.3L139.8 483.6L140.7 488.1L138.5 488.8ZM139.8 483.6L142.2 483.3L143.1 487.8L140.7 488.1ZM142.2 483.3L144.5 483.3L145.5 487.8L143.1 487.8ZM144.5 483.3L146.8 483.9L147.8 488.3L145.5 487.8ZM146.8 483.9L148.7 484.8L149.7 489.3L147.8 488.3ZM148.7 484.8L150.2 486.2L151.2 490.7L149.7 489.3ZM150.2 486.2L151.2 488L152.2 492.5L151.2 490.7ZM136.2 505.8L136 505.1L137 509.5L137.2 510.3ZM136 505.1L136.5 504.1L137.4 508.6L137 509.5ZM136.5 504.1L137.4 503L138.4 507.5L137.4 508.6ZM137.4 503L139 502L139.9 506.5L138.4 507.5ZM139 502L140.9 501L141.9 505.5L139.9 506.5ZM140.9 501L143.1 500.3L144.1 504.8L141.9 505.5ZM143.1 500.3L145.5 499.9L146.5 504.4L144.1 504.8ZM145.5 499.9L147.9 499.9L148.9 504.4L146.5 504.4ZM147.9 499.9L150.1 500.4L151.1 504.9L148.9 504.4ZM150.1 500.4L152.1 501.3L153.1 505.8L151.1 504.9ZM152.1 501.3L153.7 502.6L154.7 507.1L153.1 505.8ZM153.7 502.6L154.7 504.4L155.7 508.9L154.7 507.1ZM154.7 504.4L155.2 506.5L156.2 511L155.7 508.9Z" fill="#b4b4b4" stroke="#b4b4b4" stroke-width="0.6"/>
<path d="M125.1 454.9L125.8 453.9M126.8 458.4L126.1 459.4M125.8 453.9L127 452.8M128 457.3L126.8 458.4M127 452.8L128.7 451.8M129.7 456.2L128 457.3M128.7 451.8L130.8 450.9M131.8 455.4L129.7 456.2M130.8 450.9L133.1 450.3M134.1 454.8L131.8 455.4M133.1 450.3L135.5 450.1M136.5 454.5L134.1 454.8M135.5 450.1L137.8 450.2M138.8 454.7L136.5 454.5M137.8 450.2L140 450.9M141 455.4L138.8 454.7M140 450.9L141.8 452M142.8 456.5L141 455.4M141.8 452L143.2 453.5M144.2 458L142.8 456.5M143.2 453.5L144 455.4M145 459.9L144.2 458M132.1 468.5L134.1 467.6M135.1 472.1L133.1 473M134.1 467.6L136.4 467M137.4 471.4L135.1 472.1M136.4 467L138.8 466.7M139.8 471.2L137.4 471.4M138.8 466.7L141.2 466.8M142.2 471.3L139.8 471.2M141.2 466.8L143.4 467.4M144.4 471.9L142.2 471.3M143.4 467.4L145.3 468.4M146.2 472.9L144.4 471.9" fill="none" stroke="#b06a18" stroke-width="1.1"/>
<path d="M125.1 454.9L125.8 453.9L126.8 458.4L126.1 459.4ZM125.8 453.9L127 452.8L128 457.3L126.8 458.4ZM127 452.8L128.7 451.8L129.7 456.2L128 457.3ZM128.7 451.8L130.8 450.9L131.8 455.4L129.7 456.2ZM130.8 450.9L133.1 450.3L134.1 454.8L131.8 455.4ZM133.1 450.3L135.5 450.1L136.5 454.5L134.1 454.8ZM135.5 450.1L137.8 450.2L138.8 454.7L136.5 454.5ZM137.8 450.2L140 450.9L141 455.4L138.8 454.7ZM140 450.9L141.8 452L142.8 456.5L141 455.4ZM141.8 452L143.2 453.5L144.2 458L142.8 456.5ZM143.2 453.5L144 455.4L145 459.9L144.2 458ZM132.1 468.5L134.1 467.6L135.1 472.1L133.1 473ZM134.1 467.6L136.4 467L137.4 471.4L135.1 472.1ZM136.4 467L138.8 466.7L139.8 471.2L137.4 471.4ZM138.8 466.7L141.2 466.8L142.2 471.3L139.8 471.2ZM141.2 466.8L143.4 467.4L144.4 471.9L142.2 471.3ZM143.4 467.4L145.3 468.4L146.2 472.9L144.4 471.9Z" fill="#ec963e" stroke="#ec963e" stroke-width="0.6"/>
<path d="M214.2 372.9L214 375.1M213.5 377.1L213.7 374.9M214 375.1L214.4 377.5M213.9 379.5L213.5 377.1M214.4 377.5L215.3 379.9M214.8 382L213.9 379.5M215.3 379.9L216.7 382.3M216.2 384.4L214.8 382M216.7 382.3L218.5 384.6M218 386.6L216.2 384.4M218.5 384.6L220.5 386.5M220 388.5L218 386.6M220.5 386.5L222.6 388.1M222.1 390.1L220 388.5M222.6 388.1L224.6 389.3M224.2 391.3L222.1 390.1M224.6 389.3L226.4 390M226 392L224.2 391.3M226.4 390L227.9 390.3M227.5 392.3L226 392M227.9 390.3L229 390.1M228.6 392.1L227.5 392.3M229 390.1L229.5 389.6M229.1 391.6L228.6 392.1M210.6 389.1L210.3 391.3M209.8 393.3L210.1 391.1M210.3 391.3L210.6 393.6M210.1 395.7L209.8 393.3M210.6 393.6L211.4 396.1M211 398.1L210.1 395.7M211.4 396.1L212.7 398.5M212.3 400.5L211 398.1M212.7 398.5L214.5 400.8M214 402.8L212.3 400.5M214.5 400.8L216.4 402.8M216 404.8L214 402.8M216.4 402.8L218.5 404.5M218.1 406.5L216 404.8M218.5 404.5L220.6 405.7M220.1 407.7L218.1 406.5M220.6 405.7L222.5 406.5M222 408.5L220.1 407.7M222.5 406.5L224 406.9M223.6 408.9L222 408.5M224 406.9L225.2 406.8M224.7 408.8L223.6 408.9M225.2 406.8L225.8 406.3M225.3 408.3L224.7 408.8M207 405.3L206.6 407.5M206.2 409.5L206.6 407.4M206.6 407.5L206.8 409.8M206.4 411.8L206.2 409.5M206.8 409.8L207.6 412.3M207.1 414.3L206.4 411.8M207.6 412.3L208.8 414.7M208.4 416.7L207.1 414.3M208.8 414.7L210.5 417M210 419L208.4 416.7M210.5 417L212.4 419.1M211.9 421.1L210 419M212.4 419.1L214.5 420.8M214 422.8L211.9 421.1M214.5 420.8L216.6 422.1M216.1 424.2L214 422.8M216.6 422.1L218.5 423M218 425L216.1 424.2M218.5 423L220.1 423.4M219.7 425.5L218 425M220.1 423.4L221.3 423.4M220.9 425.4L219.7 425.5M221.3 423.4L222.1 423M221.6 425L220.9 425.4M203 423.7L203.1 426M202.6 428L202.6 425.7M203.1 426L203.7 428.4M203.3 430.4L202.6 428M203.7 428.4L204.9 430.9M204.4 432.9L203.3 430.4M204.9 430.9L206.5 433.2M206 435.2L204.4 432.9M206.5 433.2L208.4 435.3M207.9 437.3L206 435.2M208.4 435.3L210.4 437.1M210 439.1L207.9 437.3M210.4 437.1L212.5 438.5M212.1 440.5L210 439.1M212.5 438.5L214.5 439.5M214 441.5L212.1 440.5M214.5 439.5L216.2 440M215.7 442L214 441.5M216.2 440L217.5 440.1M217 442.1L215.7 442M217.5 440.1L218.3 439.7M217.9 441.7L217 442.1M218.3 439.7L218.6 439M218.1 441.1L217.9 441.7M199.4 439.9L199.3 442.2M198.9 444.2L198.9 441.9M199.3 442.2L199.9 444.6M199.4 446.6L198.9 444.2M199.9 444.6L201 447M200.5 449.1L199.4 446.6M201 447L202.5 449.4M202 451.4L200.5 449.1M202.5 449.4L204.3 451.6M203.9 453.6L202 451.4M204.3 451.6L206.4 453.4M205.9 455.4L203.9 453.6M206.4 453.4L208.5 454.9M208 456.9L205.9 455.4M208.5 454.9L210.5 456M210 458L208 456.9M210.5 456L212.2 456.5M211.8 458.6L210 458M212.2 456.5L213.6 456.7M213.2 458.7L211.8 458.6M213.6 456.7L214.5 456.4M214.1 458.4L213.2 458.7M214.5 456.4L214.9 455.8M214.4 457.8L214.1 458.4M195.8 456.1L195.6 458.3M195.2 460.4L195.3 458.1M195.6 458.3L196.1 460.7M195.6 462.8L195.2 460.4M196.1 460.7L197.1 463.2M196.6 465.2L195.6 462.8M197.1 463.2L198.5 465.6M198.1 467.6L196.6 465.2M198.5 465.6L200.3 467.8M199.9 469.8L198.1 467.6M200.3 467.8L202.3 469.7M201.9 471.7L199.9 469.8M202.3 469.7L204.5 471.3M204 473.3L201.9 471.7M204.5 471.3L206.5 472.4M206 474.4L204 473.3M206.5 472.4L208.3 473.1M207.8 475.1L206 474.4M208.3 473.1L209.7 473.3M209.3 475.3L207.8 475.1M209.7 473.3L210.7 473.1M210.3 475.1L209.3 475.3M210.7 473.1L211.2 472.5M210.7 474.5L210.3 475.1M192.2 472.3L192 474.5M191.5 476.5L191.7 474.4M192 474.5L192.3 476.9M191.9 478.9L191.5 476.5M192.3 476.9L193.2 479.4M192.7 481.4L191.9 478.9M193.2 479.4L194.6 481.8M194.1 483.8L192.7 481.4M194.6 481.8L196.3 484M195.9 486L194.1 483.8M196.3 484L198.3 486M197.9 488L195.9 486M198.3 486L200.4 487.6M200 489.6L197.9 488M200.4 487.6L202.5 488.8M202 490.9L200 489.6M202.5 488.8L204.3 489.6M203.9 491.6L202 490.9M204.3 489.6L205.8 489.9M205.4 491.9L203.9 491.6M205.8 489.9L206.9 489.7M206.5 491.8L205.4 491.9M206.9 489.7L207.5 489.2M207 491.3L206.5 491.8M188.6 488.6L188.3 490.7M187.8 492.7L188.2 490.6M188.3 490.7L188.5 493.1M188.1 495.1L187.8 492.7M188.5 493.1L189.3 495.5M188.9 497.6L188.1 495.1M189.3 495.5L190.6 498M190.2 500L188.9 497.6M190.6 498L192.3 500.2M191.9 502.3L190.2 500M192.3 500.2L194.3 502.3M193.8 504.3L191.9 502.3M194.3 502.3L196.4 504M195.9 506L193.8 504.3M196.4 504L198.4 505.2M198 507.3L195.9 506M198.4 505.2L200.3 506.1M199.9 508.1L198 507.3M200.3 506.1L201.9 506.5M201.5 508.5L199.9 508.1M201.9 506.5L203.1 506.4M202.7 508.4L201.5 508.5M203.1 506.4L203.8 506M203.3 508L202.7 508.4M185.1 504.8L184.6 506.9M184.2 508.9L184.6 506.8M184.6 506.9L184.8 509.2M184.3 511.3L184.2 508.9M184.8 509.2L185.5 511.7M185 513.7L184.3 511.3M185.5 511.7L186.7 514.1M186.2 516.2L185 513.7M186.7 514.1L188.3 516.4M187.9 518.5L186.2 516.2" fill="none" stroke="#5a5a5a" stroke-width="1.1"/>
<path d="M214.2 372.9L214 375.1L213.5 377.1L213.7 374.9ZM214 375.1L214.4 377.5L213.9 379.5L213.5 377.1ZM214.4 377.5L215.3 379.9L214.8 382L213.9 379.5ZM215.3 379.9L216.7 382.3L216.2 384.4L214.8 382ZM216.7 382.3L218.5 384.6L218 386.6L216.2 384.4ZM218.5 384.6L220.5 386.5L220 388.5L218 386.6ZM220.5 386.5L222.6 388.1L222.1 390.1L220 388.5ZM222.6 388.1L224.6 389.3L224.2 391.3L222.1 390.1ZM224.6 389.3L226.4 390L226 392L224.2 391.3ZM226.4 390L227.9 390.3L227.5 392.3L226 392ZM227.9 390.3L229 390.1L228.6 392.1L227.5 392.3ZM229 390.1L229.5 389.6L229.1 391.6L228.6 392.1ZM210.6 389.1L210.3 391.3L209.8 393.3L210.1 391.1ZM210.3 391.3L210.6 393.6L210.1 395.7L209.8 393.3ZM210.6 393.6L211.4 396.1L211 398.1L210.1 395.7ZM211.4 396.1L212.7 398.5L212.3 400.5L211 398.1ZM212.7 398.5L214.5 400.8L214 402.8L212.3 400.5ZM214.5 400.8L216.4 402.8L216 404.8L214 402.8ZM216.4 402.8L218.5 404.5L218.1 406.5L216 404.8ZM218.5 404.5L220.6 405.7L220.1 407.7L218.1 406.5ZM220.6 405.7L222.5 406.5L222 408.5L220.1 407.7ZM222.5 406.5L224 406.9L223.6 408.9L222 408.5ZM224 406.9L225.2 406.8L224.7 408.8L223.6 408.9ZM225.2 406.8L225.8 406.3L225.3 408.3L224.7 408.8ZM207 405.3L206.6 407.5L206.2 409.5L206.6 407.4ZM206.6 407.5L206.8 409.8L206.4 411.8L206.2 409.5ZM206.8 409.8L207.6 412.3L207.1 414.3L206.4 411.8ZM207.6 412.3L208.8 414.7L208.4 416.7L207.1 414.3ZM208.8 414.7L210.5 417L210 419L208.4 416.7ZM210.5 417L212.4 419.1L211.9 421.1L210 419ZM212.4 419.1L214.5 420.8L214 422.8L211.9 421.1ZM214.5 420.8L216.6 422.1L216.1 424.2L214 422.8ZM216.6 422.1L218.5 423L218 425L216.1 424.2ZM218.5 423L220.1 423.4L219.7 425.5L218 425ZM220.1 423.4L221.3 423.4L220.9 425.4L219.7 425.5ZM221.3 423.4L222.1 423L221.6 425L220.9 425.4ZM203 423.7L203.1 426L202.6 428L202.6 425.7ZM203.1 426L203.7 428.4L203.3 430.4L202.6 428ZM203.7 428.4L204.9 430.9L204.4 432.9L203.3 430.4ZM204.9 430.9L206.5 433.2L206 435.2L204.4 432.9ZM206.5 433.2L208.4 435.3L207.9 437.3L206 435.2ZM208.4 435.3L210.4 437.1L210 439.1L207.9 437.3ZM210.4 437.1L212.5 438.5L212.1 440.5L210 439.1ZM212.5 438.5L214.5 439.5L214 441.5L212.1 440.5ZM214.5 439.5L216.2 440L215.7 442L214 441.5ZM216.2 440L217.5 440.1L217 442.1L215.7 442ZM217.5 440.1L218.3 439.7L217.9 441.7L217 442.1ZM218.3 439.7L218.6 439L218.1 441.1L217.9 441.7ZM199.4 439.9L199.3 442.2L198.9 444.2L198.9 441.9ZM199.3 442.2L199.9 444.6L199.4 446.6L198.9 444.2ZM199.9 444.6L201 447L200.5 449.1L199.4 446.6ZM201 447L202.5 449.4L202 451.4L200.5 449.1ZM202.5 449.4L204.3 451.6L203.9 453.6L202 451.4ZM204.3 451.6L206.4 453.4L205.9 455.4L203.9 453.6ZM206.4 453.4L208.5 454.9L208 456.9L205.9 455.4ZM208.5 454.9L210.5 456L210 458L208 456.9ZM210.5 456L212.2 456.5L211.8 458.6L210 458ZM212.2 456.5L213.6 456.7L213.2 458.7L211.8 458.6ZM213.6 456.7L214.5 456.4L214.1 458.4L213.2 458.7ZM214.5 456.4L214.9 455.8L214.4 457.8L214.1 458.4ZM195.8 456.1L195.6 458.3L195.2 460.4L195.3 458.1ZM195.6 458.3L196.1 460.7L195.6 462.8L195.2 460.4ZM196.1 460.7L197.1 463.2L196.6 465.2L195.6 462.8ZM197.1 463.2L198.5 465.6L198.1 467.6L196.6 465.2ZM198.5 465.6L200.3 467.8L199.9 469.8L198.1 467.6ZM200.3 467.8L202.3 469.7L201.9 471.7L199.9 469.8ZM202.3 469.7L204.5 471.3L204 473.3L201.9 471.7ZM204.5 471.3L206.5 472.4L206 474.4L204 473.3ZM206.5 472.4L208.3 473.1L207.8 475.1L206 474.4ZM208.3 473.1L209.7 473.3L209.3 475.3L207.8 475.1ZM209.7 473.3L210.7 473.1L210.3 475.1L209.3 475.3ZM210.7 473.1L211.2 472.5L210.7 474.5L210.3 475.1ZM192.2 472.3L192 474.5L191.5 476.5L191.7 474.4ZM192 474.5L192.3 476.9L191.9 478.9L191.5 476.5ZM192.3 476.9L193.2 479.4L192.7 481.4L191.9 478.9ZM193.2 479.4L194.6 481.8L194.1 483.8L192.7 481.4ZM194.6 481.8L196.3 484L195.9 486L194.1 483.8ZM196.3 484L198.3 486L197.9 488L195.9 486ZM198.3 486L200.4 487.6L200 489.6L197.9 488ZM200.4 487.6L202.5 488.8L202 490.9L200 489.6ZM202.5 488.8L204.3 489.6L203.9 491.6L202 490.9ZM204.3 489.6L205.8 489.9L205.4 491.9L203.9 491.6ZM205.8 489.9L206.9 489.7L206.5 491.8L205.4 491.9ZM206.9 489.7L207.5 489.2L207 491.3L206.5 491.8ZM188.6 488.6L188.3 490.7L187.8 492.7L188.2 490.6ZM188.3 490.7L188.5 493.1L188.1 495.1L187.8 492.7ZM188.5 493.1L189.3 495.5L188.9 497.6L188.1 495.1ZM189.3 495.5L190.6 498L190.2 500L188.9 497.6ZM190.6 498L192.3 500.2L191.9 502.3L190.2 500ZM192.3 500.2L194.3 502.3L193.8 504.3L191.9 502.3ZM194.3 502.3L196.4 504L195.9 506L193.8 504.3ZM196.4 504L198.4 505.2L198 507.3L195.9 506ZM198.4 505.2L200.3 506.1L199.9 508.1L198 507.3ZM200.3 506.1L201.9 506.5L201.5 508.5L199.9 508.1ZM201.9 506.5L203.1 506.4L202.7 508.4L201.5 508.5ZM203.1 506.4L203.8 506L203.3 508L202.7 508.4ZM185.1 504.8L184.6 506.9L184.2 508.9L184.6 506.8ZM184.6 506.9L184.8 509.2L184.3 511.3L184.2 508.9ZM184.8 509.2L185.5 511.7L185 513.7L184.3 511.3ZM185.5 511.7L186.7 514.1L186.2 516.2L185 513.7ZM186.7 514.1L188.3 516.4L187.9 518.5L186.2 516.2Z" fill="#8a8a8a" stroke="#8a8a8a" stroke-width="0.6"/>
<path d="M218.3 367L216.5 368.1M215.5 372.6L217.3 371.5M216.5 368.1L215.2 369.7M214.2 374.2L215.5 372.6M215.2 369.7L214.4 371.6M213.4 376.1L214.2 374.2M229.8 388.4L229.7 387.5M228.7 392L228.8 392.8M229.7 387.5L229.1 386.5M228.1 391L228.7 392M229.1 386.5L227.9 385.4M226.9 389.9L228.1 391M227.9 385.4L226.2 384.4M225.2 388.9L226.9 389.9M226.2 384.4L224.2 383.5M223.2 388L225.2 388.9M224.2 383.5L221.9 382.9M220.9 387.4L223.2 388M221.9 382.9L219.5 382.7M218.5 387.1L220.9 387.4M219.5 382.7L217.1 382.8M216.1 387.3L218.5 387.1M217.1 382.8L215 383.4M214 387.9L216.1 387.3M215 383.4L213.1 384.5M212.1 389L214 387.9M213.1 384.5L211.7 386M210.7 390.5L212.1 389M211.7 386L210.9 387.9M209.9 392.4L210.7 390.5M226.1 405.1L226.1 404.3M225.1 408.8L225.1 409.6M226.1 404.3L225.6 403.3M224.6 407.8L225.1 408.8M225.6 403.3L224.5 402.2M223.5 406.7L224.6 407.8M224.5 402.2L222.9 401.2M221.9 405.7L223.5 406.7M222.9 401.2L220.9 400.3M219.9 404.8L221.9 405.7M220.9 400.3L218.7 399.6M217.7 404.1L219.9 404.8M218.7 399.6L216.3 399.3M215.3 403.8L217.7 404.1M216.3 399.3L213.9 399.4M212.9 403.8L215.3 403.8M213.9 399.4L211.7 399.9M210.7 404.4L212.9 403.8M211.7 399.9L209.8 400.9M208.8 405.4L210.7 404.4M209.8 400.9L208.3 402.3M207.3 406.8L208.8 405.4M208.3 402.3L207.3 404.1M206.3 408.6L207.3 406.8M222.3 421.8L222.5 421.1M221.5 425.5L221.3 426.3M222.5 421.1L222 420.1M221.1 424.6L221.5 425.5M222 420.1L221.1 419M220.1 423.5L221.1 424.6M221.1 419L219.5 418M218.6 422.4L220.1 423.5M219.5 418L217.6 417M216.6 421.5L218.6 422.4M217.6 417L215.4 416.3M214.4 420.8L216.6 421.5M215.4 416.3L213 415.9M212 420.4L214.4 420.8M213 415.9L210.6 415.9M209.6 420.4L212 420.4M210.6 415.9L208.4 416.4M207.4 420.8L209.6 420.4M208.4 416.4L206.4 417.3M205.4 421.8L207.4 420.8M206.4 417.3L204.8 418.6M203.9 423.1L205.4 421.8M204.8 418.6L203.8 420.4M202.8 424.9L203.9 423.1M203.8 420.4L203.3 422.4M202.3 426.9L202.8 424.9M218.8 437.8L218.5 436.9M217.5 441.4L217.8 442.3M218.5 436.9L217.6 435.8M216.6 440.3L217.5 441.4M217.6 435.8L216.2 434.7M215.2 439.2L216.6 440.3M216.2 434.7L214.3 433.8M213.3 438.3L215.2 439.2M214.3 433.8L212.1 433M211.2 437.5L213.3 438.3M212.1 433L209.8 432.5M208.8 437L211.2 437.5M209.8 432.5L207.4 432.5M206.4 437L208.8 437M207.4 432.5L205.1 432.8M204.1 437.3L206.4 437M205.1 432.8L203.1 433.7M202.1 438.2L204.1 437.3M203.1 433.7L201.4 434.9M200.4 439.4L202.1 438.2M201.4 434.9L200.3 436.6M199.3 441.1L200.4 439.4M200.3 436.6L199.6 438.6M198.7 443.1L199.3 441.1M211.5 471.3L211.3 470.4M210.4 474.9L210.5 475.8M211.3 470.4L210.6 469.4M209.7 473.9L210.4 474.9M210.6 469.4L209.4 468.3M208.4 472.8L209.7 473.9M193.3 469.2L192.5 471.1M191.5 475.6L192.3 473.7M207.8 488L207.7 487.2M206.7 491.7L206.8 492.5M207.7 487.2L207.1 486.2M206.2 490.7L206.7 491.7M207.1 486.2L206 485.1M205 489.6L206.2 490.7M206 485.1L204.4 484.1M203.4 488.6L205 489.6M204.4 484.1L202.3 483.2M201.3 487.7L203.4 488.6M202.3 483.2L200.1 482.5M199.1 487L201.3 487.7M200.1 482.5L197.7 482.3M196.7 486.8L199.1 487M197.7 482.3L195.3 482.4M194.3 486.9L196.7 486.8M195.3 482.4L193.1 483M192.1 487.5L194.3 486.9M193.1 483L191.2 484M190.2 488.5L192.1 487.5M191.2 484L189.8 485.5M188.8 490L190.2 488.5M189.8 485.5L188.9 487.3M187.9 491.8L188.8 490M204 504.7L204.1 504M203.1 508.4L203 509.2M204.1 504L203.6 503M202.6 507.5L203.1 508.4M203.6 503L202.6 501.9M201.6 506.4L202.6 507.5M202.6 501.9L201 500.8M200 505.3L201.6 506.4M201 500.8L199 499.9M198.1 504.4L200 505.3M199 499.9L196.8 499.2M195.8 503.7L198.1 504.4M196.8 499.2L194.4 498.9M193.4 503.4L195.8 503.7M194.4 498.9L192 498.9M191 503.4L193.4 503.4M192 498.9L189.8 499.4M188.8 503.9L191 503.4M189.8 499.4L187.9 500.4M186.9 504.9L188.8 503.9M187.9 500.4L186.4 501.8M185.4 506.3L186.9 504.9M186.4 501.8L185.3 503.6M184.4 508.1L185.4 506.3" fill="none" stroke="#5a5a5a" stroke-width="1.1"/>
<path d="M218.3 367L216.5 368.1L215.5 372.6L217.3 371.5ZM216.5 368.1L215.2 369.7L214.2 374.2L215.5 372.6ZM215.2 369.7L214.4 371.6L213.4 376.1L214.2 374.2ZM229.8 388.4L229.7 387.5L228.7 392L228.8 392.8ZM229.7 387.5L229.1 386.5L228.1 391L228.7 392ZM229.1 386.5L227.9 385.4L226.9 389.9L228.1 391ZM227.9 385.4L226.2 384.4L225.2 388.9L226.9 389.9ZM226.2 384.4L224.2 383.5L223.2 388L225.2 388.9ZM224.2 383.5L221.9 382.9L220.9 387.4L223.2 388ZM221.9 382.9L219.5 382.7L218.5 387.1L220.9 387.4ZM219.5 382.7L217.1 382.8L216.1 387.3L218.5 387.1ZM217.1 382.8L215 383.4L214 387.9L216.1 387.3ZM215 383.4L213.1 384.5L212.1 389L214 387.9ZM213.1 384.5L211.7 386L210.7 390.5L212.1 389ZM211.7 386L210.9 387.9L209.9 392.4L210.7 390.5ZM226.1 405.1L226.1 404.3L225.1 408.8L225.1 409.6ZM226.1 404.3L225.6 403.3L224.6 407.8L225.1 408.8ZM225.6 403.3L224.5 402.2L223.5 406.7L224.6 407.8ZM224.5 402.2L222.9 401.2L221.9 405.7L223.5 406.7ZM222.9 401.2L220.9 400.3L219.9 404.8L221.9 405.7ZM220.9 400.3L218.7 399.6L217.7 404.1L219.9 404.8ZM218.7 399.6L216.3 399.3L215.3 403.8L217.7 404.1ZM216.3 399.3L213.9 399.4L212.9 403.8L215.3 403.8ZM213.9 399.4L211.7 399.9L210.7 404.4L212.9 403.8ZM211.7 399.9L209.8 400.9L208.8 405.4L210.7 404.4ZM209.8 400.9L208.3 402.3L207.3 406.8L208.8 405.4ZM208.3 402.3L207.3 404.1L206.3 408.6L207.3 406.8ZM222.3 421.8L222.5 421.1L221.5 425.5L221.3 426.3ZM222.5 421.1L222 420.1L221.1 424.6L221.5 425.5ZM222 420.1L221.1 419L220.1 423.5L221.1 424.6ZM221.1 419L219.5 418L218.6 422.4L220.1 423.5ZM219.5 418L217.6 417L216.6 421.5L218.6 422.4ZM217.6 417L215.4 416.3L214.4 420.8L216.6 421.5ZM215.4 416.3L213 415.9L212 420.4L214.4 420.8ZM213 415.9L210.6 415.9L209.6 420.4L212 420.4ZM210.6 415.9L208.4 416.4L207.4 420.8L209.6 420.4ZM208.4 416.4L206.4 417.3L205.4 421.8L207.4 420.8ZM206.4 417.3L204.8 418.6L203.9 423.1L205.4 421.8ZM204.8 418.6L203.8 420.4L202.8 424.9L203.9 423.1ZM203.8 420.4L203.3 422.4L202.3 426.9L202.8 424.9ZM218.8 437.8L218.5 436.9L217.5 441.4L217.8 442.3ZM218.5 436.9L217.6 435.8L216.6 440.3L217.5 441.4ZM217.6 435.8L216.2 434.7L215.2 439.2L216.6 440.3ZM216.2 434.7L214.3 433.8L213.3 438.3L215.2 439.2ZM214.3 433.8L212.1 433L211.2 437.5L213.3 438.3ZM212.1 433L209.8 432.5L208.8 437L211.2 437.5ZM209.8 432.5L207.4 432.5L206.4 437L208.8 437ZM207.4 432.5L205.1 432.8L204.1 437.3L206.4 437ZM205.1 432.8L203.1 433.7L202.1 438.2L204.1 437.3ZM203.1 433.7L201.4 434.9L200.4 439.4L202.1 438.2ZM201.4 434.9L200.3 436.6L199.3 441.1L200.4 439.4ZM200.3 436.6L199.6 438.6L198.7 443.1L199.3 441.1ZM211.5 471.3L211.3 470.4L210.4 474.9L210.5 475.8ZM211.3 470.4L210.6 469.4L209.7 473.9L210.4 474.9ZM210.6 469.4L209.4 468.3L208.4 472.8L209.7 473.9ZM193.3 469.2L192.5 471.1L191.5 475.6L192.3 473.7ZM207.8 488L207.7 487.2L206.7 491.7L206.8 492.5ZM207.7 487.2L207.1 486.2L206.2 490.7L206.7 491.7ZM207.1 486.2L206 485.1L205 489.6L206.2 490.7ZM206 485.1L204.4 484.1L203.4 488.6L205 489.6ZM204.4 484.1L202.3 483.2L201.3 487.7L203.4 488.6ZM202.3 483.2L200.1 482.5L199.1 487L201.3 487.7ZM200.1 482.5L197.7 482.3L196.7 486.8L199.1 487ZM197.7 482.3L195.3 482.4L194.3 486.9L196.7 486.8ZM195.3 482.4L193.1 483L192.1 487.5L194.3 486.9ZM193.1 483L191.2 484L190.2 488.5L192.1 487.5ZM191.2 484L189.8 485.5L188.8 490L190.2 488.5ZM189.8 485.5L188.9 487.3L187.9 491.8L188.8 490ZM204 504.7L204.1 504L203.1 508.4L203 509.2ZM204.1 504L203.6 503L202.6 507.5L203.1 508.4ZM203.6 503L202.6 501.9L201.6 506.4L202.6 507.5ZM202.6 501.9L201 500.8L200 505.3L201.6 506.4ZM201 500.8L199 499.9L198.1 504.4L200 505.3ZM199 499.9L196.8 499.2L195.8 503.7L198.1 504.4ZM196.8 499.2L194.4 498.9L193.4 503.4L195.8 503.7ZM194.4 498.9L192 498.9L191 503.4L193.4 503.4ZM192 498.9L189.8 499.4L188.8 503.9L191 503.4ZM189.8 499.4L187.9 500.4L186.9 504.9L188.8 503.9ZM187.9 500.4L186.4 501.8L185.4 506.3L186.9 504.9ZM186.4 501.8L185.3 503.6L184.4 508.1L185.4 506.3Z" fill="#b4b4b4" stroke="#b4b4b4" stroke-width="0.6"/>
<path d="M215.2 454.5L214.9 453.7M213.9 458.1L214.2 459M214.9 453.7L214.1 452.6M213.1 457.1L213.9 458.1M214.1 452.6L212.8 451.5M211.8 456L213.1 457.1M212.8 451.5L211 450.5M210 455L211.8 456M211 450.5L208.9 449.7M207.9 454.2L210 455M208.9 449.7L206.5 449.2M205.5 453.7L207.9 454.2M206.5 449.2L204.1 449.1M203.1 453.5L205.5 453.7M204.1 449.1L201.8 449.3M200.8 453.8L203.1 453.5M201.8 449.3L199.7 450.1M198.7 454.6L200.8 453.8M199.7 450.1L198 451.3M197 455.8L198.7 454.6M198 451.3L196.8 452.9M195.8 457.4L197 455.8M196.8 452.9L196 454.9M195.1 459.4L195.8 457.4M209.4 468.3L207.7 467.3M206.7 471.8L208.4 472.8M207.7 467.3L205.6 466.4M204.6 470.9L206.7 471.8M205.6 466.4L203.3 465.9M202.3 470.4L204.6 470.9M203.3 465.9L200.9 465.7M199.9 470.1L202.3 470.4M200.9 465.7L198.5 465.9M197.6 470.4L199.9 470.1M198.5 465.9L196.4 466.5M195.4 471L197.6 470.4M196.4 466.5L194.6 467.6M193.6 472.1L195.4 471M194.6 467.6L193.3 469.2M192.3 473.7L193.6 472.1" fill="none" stroke="#b06a18" stroke-width="1.1"/>
<path d="M215.2 454.5L214.9 453.7L213.9 458.1L214.2 459ZM214.9 453.7L214.1 452.6L213.1 457.1L213.9 458.1ZM214.1 452.6L212.8 451.5L211.8 456L213.1 457.1ZM212.8 451.5L211 450.5L210 455L211.8 456ZM211 450.5L208.9 449.7L207.9 454.2L210 455ZM208.9 449.7L206.5 449.2L205.5 453.7L207.9 454.2ZM206.5 449.2L204.1 449.1L203.1 453.5L205.5 453.7ZM204.1 449.1L201.8 449.3L200.8 453.8L203.1 453.5ZM201.8 449.3L199.7 450.1L198.7 454.6L200.8 453.8ZM199.7 450.1L198 451.3L197 455.8L198.7 454.6ZM198 451.3L196.8 452.9L195.8 457.4L197 455.8ZM196.8 452.9L196 454.9L195.1 459.4L195.8 457.4ZM209.4 468.3L207.7 467.3L206.7 471.8L208.4 472.8ZM207.7 467.3L205.6 466.4L204.6 470.9L206.7 471.8ZM205.6 466.4L203.3 465.9L202.3 470.4L204.6 470.9ZM203.3 465.9L200.9 465.7L199.9 470.1L202.3 470.4ZM200.9 465.7L198.5 465.9L197.6 470.4L199.9 470.1ZM198.5 465.9L196.4 466.5L195.4 471L197.6 470.4ZM196.4 466.5L194.6 467.6L193.6 472.1L195.4 471ZM194.6 467.6L193.3 469.2L192.3 473.7L193.6 472.1Z" fill="#ec963e" stroke="#ec963e" stroke-width="0.6"/>
<path d="M118.8,441.4 L122.3,444.0 L127.5,443.1 L131.0,447.5 L130.1,452.8" stroke="#c0650a" stroke-width="2.1"/>
<path d="M118.8,441.4 L122.3,444.0 L127.5,443.1 L131.0,447.5 L130.1,452.8" stroke="#ee8d2a" stroke-width="1.2"/>
<path d="M134.0,458.0 L136.3,460.7 L138.9,465.0" stroke="#c0650a" stroke-width="2.1"/>
<path d="M134.0,458.0 L136.3,460.7 L138.9,465.0" stroke="#ee8d2a" stroke-width="1.2"/>
<path d="M139.0,469.0 L142.4,472.0" stroke="#c0650a" stroke-width="2.1"/>
<path d="M139.0,469.0 L142.4,472.0" stroke="#ee8d2a" stroke-width="1.2"/>
<path d="M211.5,443.0 L206.4,446.6 L204.0,451.0" stroke="#c0650a" stroke-width="2.1"/>
<path d="M211.5,443.0 L206.4,446.6 L204.0,451.0" stroke="#ee8d2a" stroke-width="1.2"/>
<path d="M202.9,458.0 L197.6,461.5 L196.0,465.0" stroke="#c0650a" stroke-width="2.1"/>
<path d="M202.9,458.0 L197.6,461.5 L196.0,465.0" stroke="#ee8d2a" stroke-width="1.2"/>
<path d="M196.0,470.0 L194.1,472.5" stroke="#c0650a" stroke-width="2.1"/>
<path d="M196.0,470.0 L194.1,472.5" stroke="#ee8d2a" stroke-width="1.2"/>
<path d="M211.5,443.0 L211.2,439.4 L214.5,437.6 L217.9,439.4 L218.2,443.0 L215.0,444.8 L211.5,443.0" stroke="#c0650a" stroke-width="2.1"/>
<path d="M211.5,443.0 L211.2,439.4 L214.5,437.6 L217.9,439.4 L218.2,443.0 L215.0,444.8 L211.5,443.0" stroke="#ee8d2a" stroke-width="1.2"/></g></g>
<g fill="none" stroke-linecap="round" stroke-linejoin="round" transform="translate(1.6,205.8)"><path d="M75.6,330.9 C74.6,330.8 71.5,330.3 69.7,330.3 C67.9,330.3 65.6,330.0 64.5,330.9 C63.4,331.8 63.1,333.4 63.1,335.5 C63.1,337.6 63.6,341.5 64.5,343.4 C65.4,345.3 66.8,346.3 68.4,346.7 C70.0,347.1 72.3,346.6 74.3,346.0 C76.3,345.4 77.5,344.3 80.2,343.4 C82.9,342.5 85.2,340.6 90.7,340.8 C96.2,341.0 108.4,342.9 113.0,344.7 C117.6,346.4 117.6,348.2 118.3,351.3 C119.0,354.4 118.8,360.9 117.0,363.1 C115.2,365.3 111.5,363.8 107.8,364.4 C104.1,365.0 97.1,368.5 94.7,367.0 C92.3,365.5 93.9,359.3 93.4,355.2 C93.0,351.1 92.2,344.3 92.0,342.1" stroke="#939393" stroke-width="3.0"/>
<path d="M75.6,330.9 C74.6,330.8 71.5,330.3 69.7,330.3 C67.9,330.3 65.6,330.0 64.5,330.9 C63.4,331.8 63.1,333.4 63.1,335.5 C63.1,337.6 63.6,341.5 64.5,343.4 C65.4,345.3 66.8,346.3 68.4,346.7 C70.0,347.1 72.3,346.6 74.3,346.0 C76.3,345.4 77.5,344.3 80.2,343.4 C82.9,342.5 85.2,340.6 90.7,340.8 C96.2,341.0 108.4,342.9 113.0,344.7 C117.6,346.4 117.6,348.2 118.3,351.3 C119.0,354.4 118.8,360.9 117.0,363.1 C115.2,365.3 111.5,363.8 107.8,364.4 C104.1,365.0 97.1,368.5 94.7,367.0 C92.3,365.5 93.9,359.3 93.4,355.2 C93.0,351.1 92.2,344.3 92.0,342.1" stroke="#c9c9c9" stroke-width="1.9"/>
<path d="M258.4,330.9 C259.4,330.8 262.4,330.3 264.3,330.3 C266.2,330.3 268.4,330.0 269.5,330.9 C270.6,331.8 270.9,333.4 270.9,335.5 C270.9,337.6 270.4,341.5 269.5,343.4 C268.6,345.3 267.2,346.3 265.6,346.7 C264.0,347.1 261.7,346.6 259.7,346.0 C257.7,345.4 256.5,344.3 253.8,343.4 C251.1,342.5 248.8,340.6 243.3,340.8 C237.8,341.0 225.6,342.9 221.0,344.7 C216.4,346.4 216.4,348.2 215.7,351.3 C215.0,354.4 215.2,360.9 217.0,363.1 C218.8,365.3 222.5,363.8 226.2,364.4 C229.9,365.0 236.9,368.5 239.3,367.0 C241.7,365.5 240.2,359.3 240.6,355.2 C241.0,351.1 241.8,344.3 242.0,342.1" stroke="#939393" stroke-width="3.0"/>
<path d="M258.4,330.9 C259.4,330.8 262.4,330.3 264.3,330.3 C266.2,330.3 268.4,330.0 269.5,330.9 C270.6,331.8 270.9,333.4 270.9,335.5 C270.9,337.6 270.4,341.5 269.5,343.4 C268.6,345.3 267.2,346.3 265.6,346.7 C264.0,347.1 261.7,346.6 259.7,346.0 C257.7,345.4 256.5,344.3 253.8,343.4 C251.1,342.5 248.8,340.6 243.3,340.8 C237.8,341.0 225.6,342.9 221.0,344.7 C216.4,346.4 216.4,348.2 215.7,351.3 C215.0,354.4 215.2,360.9 217.0,363.1 C218.8,365.3 222.5,363.8 226.2,364.4 C229.9,365.0 236.9,368.5 239.3,367.0 C241.7,365.5 240.2,359.3 240.6,355.2 C241.0,351.1 241.8,344.3 242.0,342.1" stroke="#c9c9c9" stroke-width="1.9"/>
<path d="M70.4,331.6 C72.0,332.8 76.8,336.4 80.0,339.0 C83.2,341.6 87.8,345.9 89.4,347.3" stroke="#939393" stroke-width="3.0"/>
<path d="M70.4,331.6 C72.0,332.8 76.8,336.4 80.0,339.0 C83.2,341.6 87.8,345.9 89.4,347.3" stroke="#c9c9c9" stroke-width="1.9"/>
<path d="M263.6,331.6 C262.0,332.8 257.2,336.4 254.0,339.0 C250.8,341.6 246.2,345.9 244.6,347.3" stroke="#939393" stroke-width="3.0"/>
<path d="M263.6,331.6 C262.0,332.8 257.2,336.4 254.0,339.0 C250.8,341.6 246.2,345.9 244.6,347.3" stroke="#c9c9c9" stroke-width="1.9"/>
<path d="M80.2,343.4 C79.1,344.5 76.2,348.5 73.6,350.0 C71.0,351.5 66.5,351.3 64.5,352.6 C62.5,353.9 62.0,357.1 61.5,358.0" stroke="#939393" stroke-width="3.0"/>
<path d="M80.2,343.4 C79.1,344.5 76.2,348.5 73.6,350.0 C71.0,351.5 66.5,351.3 64.5,352.6 C62.5,353.9 62.0,357.1 61.5,358.0" stroke="#c9c9c9" stroke-width="1.9"/>
<path d="M253.8,343.4 C254.9,344.5 257.8,348.5 260.4,350.0 C263.0,351.5 267.5,351.3 269.5,352.6 C271.5,353.9 272.0,357.1 272.5,358.0" stroke="#939393" stroke-width="3.0"/>
<path d="M253.8,343.4 C254.9,344.5 257.8,348.5 260.4,350.0 C263.0,351.5 267.5,351.3 269.5,352.6 C271.5,353.9 272.0,357.1 272.5,358.0" stroke="#c9c9c9" stroke-width="1.9"/>
<path d="M113.0,364.4 C114.3,363.6 118.8,360.0 121.0,359.8 C123.2,359.6 125.1,361.5 126.2,363.1 C127.3,364.8 126.4,368.8 127.5,369.7 C128.6,370.6 131.3,368.4 132.8,368.4 C134.3,368.4 136.3,368.6 136.7,369.7 C137.1,370.8 136.3,374.5 135.4,374.9 C134.5,375.3 132.2,372.7 131.5,372.3" stroke="#939393" stroke-width="3.0"/>
<path d="M113.0,364.4 C114.3,363.6 118.8,360.0 121.0,359.8 C123.2,359.6 125.1,361.5 126.2,363.1 C127.3,364.8 126.4,368.8 127.5,369.7 C128.6,370.6 131.3,368.4 132.8,368.4 C134.3,368.4 136.3,368.6 136.7,369.7 C137.1,370.8 136.3,374.5 135.4,374.9 C134.5,375.3 132.2,372.7 131.5,372.3" stroke="#c9c9c9" stroke-width="1.9"/>
<path d="M221.0,364.4 C219.7,363.6 215.2,360.0 213.0,359.8 C210.8,359.6 208.9,361.5 207.8,363.1 C206.7,364.8 207.6,368.8 206.5,369.7 C205.4,370.6 202.7,368.4 201.2,368.4 C199.7,368.4 197.7,368.6 197.3,369.7 C196.9,370.8 197.7,374.5 198.6,374.9 C199.5,375.3 201.8,372.7 202.5,372.3" stroke="#939393" stroke-width="3.0"/>
<path d="M221.0,364.4 C219.7,363.6 215.2,360.0 213.0,359.8 C210.8,359.6 208.9,361.5 207.8,363.1 C206.7,364.8 207.6,368.8 206.5,369.7 C205.4,370.6 202.7,368.4 201.2,368.4 C199.7,368.4 197.7,368.6 197.3,369.7 C196.9,370.8 197.7,374.5 198.6,374.9 C199.5,375.3 201.8,372.7 202.5,372.3" stroke="#c9c9c9" stroke-width="1.9"/>
<path d="M86.9 352.7L87.4 355.3M87.9 357.3L87.3 354.7M87.4 355.3L87.2 358.1M87.7 360.2L87.9 357.3M87.2 358.1L86.3 361.1M86.8 363.1L87.7 360.2M86.3 361.1L84.7 364M85.2 366L86.8 363.1M84.7 364L82.6 366.8M83 368.8L85.2 366M82.6 366.8L80.1 369.2M80.5 371.3L83 368.8M80.1 369.2L77.4 371.3M77.8 373.3L80.5 371.3M77.4 371.3L74.7 372.8M75.1 374.8L77.8 373.3M74.7 372.8L72.1 373.8M72.6 375.8L75.1 374.8M72.1 373.8L70 374.2M70.4 376.2L72.6 375.8M70 374.2L68.3 374M68.8 376L70.4 376.2M68.3 374L67.3 373.4M67.8 375.4L68.8 376M67.3 373.4L67.1 372.4M67.5 374.4L67.8 375.4M91.1 373.1L91.1 375.9M91.5 377.9L91.6 375.2M91.1 375.9L90.3 378.8M90.7 380.8L91.5 377.9M90.3 378.8L88.8 381.7M89.3 383.7L90.7 380.8M88.8 381.7L86.8 384.5M87.3 386.5L89.3 383.7M86.8 384.5L84.4 386.9M84.9 388.9L87.3 386.5M84.4 386.9L81.8 389M82.3 391L84.9 388.9M81.8 389L79.2 390.6M79.6 392.6L82.3 391M79.2 390.6L76.7 391.7M77.1 393.7L79.6 392.6M76.7 391.7L74.5 392.2M75 394.2L77.1 393.7M74.5 392.2L72.8 392.1M73.3 394.2L75 394.2M72.8 392.1L71.8 391.6M72.2 393.6L73.3 394.2M71.8 391.6L71.4 390.7M71.9 392.7L72.2 393.6M94.8 391L94.8 393.7M95.3 395.7L95.3 393M94.8 393.7L94.2 396.5M94.6 398.5L95.3 395.7M94.2 396.5L92.9 399.4M93.3 401.4L94.6 398.5M92.9 399.4L91 402.1M91.4 404.1L93.3 401.4M91 402.1L88.7 404.6M89.2 406.6L91.4 404.1M88.7 404.6L86.2 406.7M86.7 408.8L89.2 406.6M86.2 406.7L83.6 408.4M84.1 410.4L86.7 408.8M83.6 408.4L81.2 409.6M81.6 411.6L84.1 410.4M81.2 409.6L79 410.2M79.5 412.2L81.6 411.6M79 410.2L77.3 410.2M77.8 412.2L79.5 412.2M77.3 410.2L76.2 409.8M76.7 411.8L77.8 412.2M76.2 409.8L75.8 409M76.2 411L76.7 411.8M98.5 408.9L98.6 411.5M99.1 413.5L98.9 410.9M98.6 411.5L98.1 414.3M98.5 416.3L99.1 413.5M98.1 414.3L96.9 417.1M97.3 419.1L98.5 416.3M96.9 417.1L95.2 419.8M95.6 421.8L97.3 419.1M95.2 419.8L93 422.3M93.5 424.3L95.6 421.8M93 422.3L90.6 424.5M91 426.5L93.5 424.3M90.6 424.5L88.1 426.2M88.6 428.2L91 426.5M88.1 426.2L85.7 427.4M86.1 429.4L88.6 428.2M85.7 427.4L83.6 428.1M84 430.1L86.1 429.4M83.6 428.1L81.8 428.3M82.3 430.3L84 430.1M81.8 428.3L80.7 428M81.1 430L82.3 430.3M80.7 428L80.1 427.3M80.6 429.3L81.1 430M102.1 426.8L102.4 429.3M102.8 431.3L102.6 428.8M102.4 429.3L101.9 432M102.4 434L102.8 431.3M101.9 432L100.9 434.8M101.3 436.8L102.4 434M100.9 434.8L99.3 437.5M99.7 439.5L101.3 436.8M99.3 437.5L97.3 440M97.7 442L99.7 439.5M97.3 440L95 442.2M95.4 444.2L97.7 442M95 442.2L92.5 444M93 446L95.4 444.2M92.5 444L90.2 445.3M90.6 447.3L93 446M90.2 445.3L88.1 446.1M88.5 448.1L90.6 447.3M88.1 446.1L86.3 446.3M86.8 448.4L88.5 448.1M86.3 446.3L85.1 446.1M85.6 448.2L86.8 448.4M85.1 446.1L84.5 445.5M85 447.5L85.6 448.2M105.8 444.7L106.1 447.1M106.6 449.2L106.2 446.8M106.1 447.1L105.8 449.8M106.2 451.8L106.6 449.2M105.8 449.8L104.9 452.5M105.3 454.5L106.2 451.8M104.9 452.5L103.4 455.2M103.8 457.2L105.3 454.5M103.4 455.2L101.5 457.7M101.9 459.7L103.8 457.2M101.5 457.7L99.3 459.9M99.7 461.9L101.9 459.7M99.3 459.9L97 461.7M97.4 463.8L99.7 461.9M97 461.7L94.7 463.1M95.1 465.1L97.4 463.8M94.7 463.1L92.6 464M93 466L95.1 465.1M92.6 464L90.8 464.4M91.3 466.4L93 466M90.8 464.4L89.6 464.3M90 466.3L91.3 466.4M89.6 464.3L88.9 463.8M89.4 465.8L90 466.3M109.4 462.7L109.8 465M110.3 467L109.8 464.7M109.8 465L109.6 467.6M110.1 469.6L110.3 467M109.6 467.6L108.8 470.2M109.3 472.2L110.1 469.6M108.8 470.2L107.5 472.9M107.9 474.9L109.3 472.2M107.5 472.9L105.7 475.4M106.1 477.4L107.9 474.9M105.7 475.4L103.6 477.6M104 479.6L106.1 477.4M103.6 477.6L101.3 479.5M101.8 481.5L104 479.6M101.3 479.5L99.1 480.9M99.6 483L101.8 481.5M99.1 480.9L97.1 481.9M97.5 483.9L99.6 483M97.1 481.9L95.3 482.4M95.8 484.4L97.5 483.9M95.3 482.4L94 482.4M94.5 484.4L95.8 484.4M94 482.4L93.3 482M93.8 484L94.5 484.4M113.5 482.9L113.4 485.4M113.9 487.4L114 484.9M113.4 485.4L112.7 488M113.2 490L113.9 487.4M112.7 488L111.5 490.6M112 492.6L113.2 490M111.5 490.6L109.8 493.1M110.3 495.1L112 492.6M109.8 493.1L107.9 495.3M108.3 497.3L110.3 495.1M107.9 495.3L105.7 497.2M106.2 499.3L108.3 497.3M105.7 497.2L103.6 498.8M104 500.8L106.2 499.3M103.6 498.8L101.5 499.8M102 501.8L104 500.8M101.5 499.8L99.8 500.4M100.3 502.4L102 501.8M99.8 500.4L98.5 500.5M99 502.5L100.3 502.4M98.5 500.5L97.7 500.2M98.2 502.2L99 502.5M97.7 500.2L97.5 499.5M97.9 501.5L98.2 502.2M117.2 500.8L117.2 503.2M117.7 505.2L117.7 502.8M117.2 503.2L116.6 505.7M117.1 507.7L117.7 505.2M116.6 505.7L115.5 508.3M116 510.3L117.1 507.7M115.5 508.3L114 510.8M114.4 512.8L116 510.3M114 510.8L112.1 513M112.6 515.1L114.4 512.8M112.1 513L110.1 515M110.5 517L112.6 515.1M110.1 515L108 516.6M108.4 518.6L110.5 517M108 516.6L106 517.7M106.5 519.7L108.4 518.6M106 517.7L104.3 518.3M104.7 520.4L106.5 519.7M104.3 518.3L103 518.5M103.4 520.6L104.7 520.4M103 518.5L102.1 518.3M102.6 520.3L103.4 520.6" fill="none" stroke="#5a5a5a" stroke-width="1.1"/>
<path d="M86.9 352.7L87.4 355.3L87.9 357.3L87.3 354.7ZM87.4 355.3L87.2 358.1L87.7 360.2L87.9 357.3ZM87.2 358.1L86.3 361.1L86.8 363.1L87.7 360.2ZM86.3 361.1L84.7 364L85.2 366L86.8 363.1ZM84.7 364L82.6 366.8L83 368.8L85.2 366ZM82.6 366.8L80.1 369.2L80.5 371.3L83 368.8ZM80.1 369.2L77.4 371.3L77.8 373.3L80.5 371.3ZM77.4 371.3L74.7 372.8L75.1 374.8L77.8 373.3ZM74.7 372.8L72.1 373.8L72.6 375.8L75.1 374.8ZM72.1 373.8L70 374.2L70.4 376.2L72.6 375.8ZM70 374.2L68.3 374L68.8 376L70.4 376.2ZM68.3 374L67.3 373.4L67.8 375.4L68.8 376ZM67.3 373.4L67.1 372.4L67.5 374.4L67.8 375.4ZM91.1 373.1L91.1 375.9L91.5 377.9L91.6 375.2ZM91.1 375.9L90.3 378.8L90.7 380.8L91.5 377.9ZM90.3 378.8L88.8 381.7L89.3 383.7L90.7 380.8ZM88.8 381.7L86.8 384.5L87.3 386.5L89.3 383.7ZM86.8 384.5L84.4 386.9L84.9 388.9L87.3 386.5ZM84.4 386.9L81.8 389L82.3 391L84.9 388.9ZM81.8 389L79.2 390.6L79.6 392.6L82.3 391ZM79.2 390.6L76.7 391.7L77.1 393.7L79.6 392.6ZM76.7 391.7L74.5 392.2L75 394.2L77.1 393.7ZM74.5 392.2L72.8 392.1L73.3 394.2L75 394.2ZM72.8 392.1L71.8 391.6L72.2 393.6L73.3 394.2ZM71.8 391.6L71.4 390.7L71.9 392.7L72.2 393.6ZM94.8 391L94.8 393.7L95.3 395.7L95.3 393ZM94.8 393.7L94.2 396.5L94.6 398.5L95.3 395.7ZM94.2 396.5L92.9 399.4L93.3 401.4L94.6 398.5ZM92.9 399.4L91 402.1L91.4 404.1L93.3 401.4ZM91 402.1L88.7 404.6L89.2 406.6L91.4 404.1ZM88.7 404.6L86.2 406.7L86.7 408.8L89.2 406.6ZM86.2 406.7L83.6 408.4L84.1 410.4L86.7 408.8ZM83.6 408.4L81.2 409.6L81.6 411.6L84.1 410.4ZM81.2 409.6L79 410.2L79.5 412.2L81.6 411.6ZM79 410.2L77.3 410.2L77.8 412.2L79.5 412.2ZM77.3 410.2L76.2 409.8L76.7 411.8L77.8 412.2ZM76.2 409.8L75.8 409L76.2 411L76.7 411.8ZM98.5 408.9L98.6 411.5L99.1 413.5L98.9 410.9ZM98.6 411.5L98.1 414.3L98.5 416.3L99.1 413.5ZM98.1 414.3L96.9 417.1L97.3 419.1L98.5 416.3ZM96.9 417.1L95.2 419.8L95.6 421.8L97.3 419.1ZM95.2 419.8L93 422.3L93.5 424.3L95.6 421.8ZM93 422.3L90.6 424.5L91 426.5L93.5 424.3ZM90.6 424.5L88.1 426.2L88.6 428.2L91 426.5ZM88.1 426.2L85.7 427.4L86.1 429.4L88.6 428.2ZM85.7 427.4L83.6 428.1L84 430.1L86.1 429.4ZM83.6 428.1L81.8 428.3L82.3 430.3L84 430.1ZM81.8 428.3L80.7 428L81.1 430L82.3 430.3ZM80.7 428L80.1 427.3L80.6 429.3L81.1 430ZM102.1 426.8L102.4 429.3L102.8 431.3L102.6 428.8ZM102.4 429.3L101.9 432L102.4 434L102.8 431.3ZM101.9 432L100.9 434.8L101.3 436.8L102.4 434ZM100.9 434.8L99.3 437.5L99.7 439.5L101.3 436.8ZM99.3 437.5L97.3 440L97.7 442L99.7 439.5ZM97.3 440L95 442.2L95.4 444.2L97.7 442ZM95 442.2L92.5 444L93 446L95.4 444.2ZM92.5 444L90.2 445.3L90.6 447.3L93 446ZM90.2 445.3L88.1 446.1L88.5 448.1L90.6 447.3ZM88.1 446.1L86.3 446.3L86.8 448.4L88.5 448.1ZM86.3 446.3L85.1 446.1L85.6 448.2L86.8 448.4ZM85.1 446.1L84.5 445.5L85 447.5L85.6 448.2ZM105.8 444.7L106.1 447.1L106.6 449.2L106.2 446.8ZM106.1 447.1L105.8 449.8L106.2 451.8L106.6 449.2ZM105.8 449.8L104.9 452.5L105.3 454.5L106.2 451.8ZM104.9 452.5L103.4 455.2L103.8 457.2L105.3 454.5ZM103.4 455.2L101.5 457.7L101.9 459.7L103.8 457.2ZM101.5 457.7L99.3 459.9L99.7 461.9L101.9 459.7ZM99.3 459.9L97 461.7L97.4 463.8L99.7 461.9ZM97 461.7L94.7 463.1L95.1 465.1L97.4 463.8ZM94.7 463.1L92.6 464L93 466L95.1 465.1ZM92.6 464L90.8 464.4L91.3 466.4L93 466ZM90.8 464.4L89.6 464.3L90 466.3L91.3 466.4ZM89.6 464.3L88.9 463.8L89.4 465.8L90 466.3ZM109.4 462.7L109.8 465L110.3 467L109.8 464.7ZM109.8 465L109.6 467.6L110.1 469.6L110.3 467ZM109.6 467.6L108.8 470.2L109.3 472.2L110.1 469.6ZM108.8 470.2L107.5 472.9L107.9 474.9L109.3 472.2ZM107.5 472.9L105.7 475.4L106.1 477.4L107.9 474.9ZM105.7 475.4L103.6 477.6L104 479.6L106.1 477.4ZM103.6 477.6L101.3 479.5L101.8 481.5L104 479.6ZM101.3 479.5L99.1 480.9L99.6 483L101.8 481.5ZM99.1 480.9L97.1 481.9L97.5 483.9L99.6 483ZM97.1 481.9L95.3 482.4L95.8 484.4L97.5 483.9ZM95.3 482.4L94 482.4L94.5 484.4L95.8 484.4ZM94 482.4L93.3 482L93.8 484L94.5 484.4ZM113.5 482.9L113.4 485.4L113.9 487.4L114 484.9ZM113.4 485.4L112.7 488L113.2 490L113.9 487.4ZM112.7 488L111.5 490.6L112 492.6L113.2 490ZM111.5 490.6L109.8 493.1L110.3 495.1L112 492.6ZM109.8 493.1L107.9 495.3L108.3 497.3L110.3 495.1ZM107.9 495.3L105.7 497.2L106.2 499.3L108.3 497.3ZM105.7 497.2L103.6 498.8L104 500.8L106.2 499.3ZM103.6 498.8L101.5 499.8L102 501.8L104 500.8ZM101.5 499.8L99.8 500.4L100.3 502.4L102 501.8ZM99.8 500.4L98.5 500.5L99 502.5L100.3 502.4ZM98.5 500.5L97.7 500.2L98.2 502.2L99 502.5ZM97.7 500.2L97.5 499.5L97.9 501.5L98.2 502.2ZM117.2 500.8L117.2 503.2L117.7 505.2L117.7 502.8ZM117.2 503.2L116.6 505.7L117.1 507.7L117.7 505.2ZM116.6 505.7L115.5 508.3L116 510.3L117.1 507.7ZM115.5 508.3L114 510.8L114.4 512.8L116 510.3ZM114 510.8L112.1 513L112.6 515.1L114.4 512.8ZM112.1 513L110.1 515L110.5 517L112.6 515.1ZM110.1 515L108 516.6L108.4 518.6L110.5 517ZM108 516.6L106 517.7L106.5 519.7L108.4 518.6ZM106 517.7L104.3 518.3L104.7 520.4L106.5 519.7ZM104.3 518.3L103 518.5L103.4 520.6L104.7 520.4ZM103 518.5L102.1 518.3L102.6 520.3L103.4 520.6Z" fill="#8a8a8a" stroke="#8a8a8a" stroke-width="0.6"/>
<path d="M83.4 347.6L85.3 349.3M86.3 353.8L84.4 352.1M85.3 349.3L86.6 351.5M87.6 356L86.3 353.8M66.8 371.1L67.3 369.8M68.3 374.3L67.8 375.6M67.3 369.8L68.5 368.4M69.5 372.9L68.3 374.3M68.5 368.4L70.3 367M71.3 371.5L69.5 372.9M70.3 367L72.7 365.8M73.7 370.3L71.3 371.5M72.7 365.8L75.5 364.8M76.5 369.3L73.7 370.3M75.5 364.8L78.5 364.3M79.5 368.7L76.5 369.3M78.5 364.3L81.5 364.2M82.5 368.7L79.5 368.7M81.5 364.2L84.4 364.7M85.4 369.2L82.5 368.7M84.4 364.7L86.9 365.7M87.9 370.2L85.4 369.2M86.9 365.7L88.8 367.3M89.8 371.8L87.9 370.2M88.8 367.3L90.2 369.4M91.2 373.9L89.8 371.8M90.2 369.4L90.9 371.9M91.9 376.4L91.2 373.9M71.1 389.5L71.5 388.2M72.5 392.7L72.1 393.9M71.5 388.2L72.6 386.9M73.6 391.4L72.5 392.7M72.6 386.9L74.3 385.5M75.3 390L73.6 391.4M74.3 385.5L76.5 384.3M77.5 388.8L75.3 390M76.5 384.3L79.2 383.3M80.2 387.8L77.5 388.8M79.2 383.3L82.1 382.7M83.1 387.2L80.2 387.8M82.1 382.7L85 382.6M86 387.1L83.1 387.2M85 382.6L87.9 383M88.9 387.5L86 387.1M87.9 383L90.3 383.9M91.3 388.4L88.9 387.5M90.3 383.9L92.4 385.4M93.4 389.9L91.3 388.4M92.4 385.4L93.8 387.4M94.8 391.9L93.4 389.9M93.8 387.4L94.5 389.8M95.5 394.3L94.8 391.9M75.5 407.8L75.7 406.6M76.7 411.1L76.5 412.2M75.7 406.6L76.7 405.3M77.7 409.8L76.7 411.1M76.7 405.3L78.3 404M79.3 408.5L77.7 409.8M78.3 404L80.4 402.8M81.4 407.3L79.3 408.5M80.4 402.8L82.9 401.8M83.9 406.3L81.4 407.3M82.9 401.8L85.7 401.1M86.7 405.6L83.9 406.3M85.7 401.1L88.6 401M89.6 405.4L86.7 405.6M88.6 401L91.4 401.3M92.4 405.8L89.6 405.4M91.4 401.3L93.8 402.1M94.8 406.6L92.4 405.8M93.8 402.1L95.9 403.5M96.9 408L94.8 406.6M95.9 403.5L97.4 405.4M98.4 409.9L96.9 408M97.4 405.4L98.2 407.7M99.2 412.2L98.4 409.9M79.9 426L80 425M81 429.5L80.9 430.5M80 425L80.8 423.8M81.8 428.3L81 429.5M80.8 423.8L82.3 422.5M83.3 427L81.8 428.3M82.3 422.5L84.3 421.3M85.3 425.8L83.3 427M84.3 421.3L86.7 420.3M87.7 424.8L85.3 425.8M86.7 420.3L89.4 419.6M90.4 424.1L87.7 424.8M89.4 419.6L92.2 419.3M93.2 423.8L90.4 424.1M92.2 419.3L94.9 419.6M95.9 424.1L93.2 423.8M94.9 419.6L97.3 420.3M98.3 424.8L95.9 424.1M97.3 420.3L99.4 421.6M100.4 426.1L98.3 424.8M99.4 421.6L100.9 423.4M101.9 427.9L100.4 426.1M100.9 423.4L101.9 425.6M102.8 430.1L101.9 427.9M84.2 444.3L84.3 443.3M85.3 447.8L85.2 448.8M84.3 443.3L85 442.2M86 446.7L85.3 447.8M85 442.2L86.3 440.9M87.3 445.4L86 446.7M86.3 440.9L88.2 439.8M89.2 444.2L87.3 445.4M88.2 439.8L90.5 438.8M91.5 443.2L89.2 444.2M90.5 438.8L93.1 438.1M94.1 442.5L91.5 443.2M93.1 438.1L95.8 437.7M96.8 442.2L94.1 442.5M95.8 437.7L98.4 437.9M99.4 442.4L96.8 442.2M98.4 437.9L100.9 438.6M101.9 443.1L99.4 442.4M100.9 438.6L102.9 439.8M103.9 444.2L101.9 443.1M102.9 439.8L104.5 441.4M105.5 445.9L103.9 444.2M104.5 441.4L105.5 443.5M106.5 448L105.5 445.9M88.6 462.5L88.6 461.7M89.6 466.2L89.6 467M88.6 461.7L89.2 460.6M90.2 465.1L89.6 466.2M89.2 460.6L90.4 459.4M91.4 463.9L90.2 465.1M90.4 459.4L92.1 458.2M93.1 462.7L91.4 463.9M92.1 458.2L94.3 457.2M95.3 461.7L93.1 462.7M94.3 457.2L96.8 456.5M97.8 461L95.3 461.7M96.8 456.5L99.4 456.2M100.4 460.7L97.8 461M99.4 456.2L102 456.3M103 460.7L100.4 460.7M102 456.3L104.4 456.8M105.4 461.3L103 460.7M104.4 456.8L106.5 457.9M107.5 462.4L105.4 461.3M106.5 457.9L108.1 459.5M109.1 464L107.5 462.4M108.1 459.5L109.1 461.5M110.1 465.9L109.1 464M93 480.7L92.9 480M93.9 484.5L94 485.2M92.9 480L93.4 479M94.4 483.4L93.9 484.5M93.4 479L94.5 477.8M95.5 482.3L94.4 483.4M94.5 477.8L96.1 476.7M97.1 481.2L95.5 482.3M96.1 476.7L98.1 475.7M99.1 480.2L97.1 481.2M98.1 475.7L100.5 475M101.5 479.5L99.1 480.2M100.5 475L103 474.6M104 479.1L101.5 479.5M103 474.6L105.6 474.6M106.6 479.1L104 479.1M105.6 474.6L107.9 475.1M108.9 479.6L106.6 479.1M107.9 475.1L110 476.1M111 480.6L108.9 479.6M110 476.1L111.6 477.5M112.6 482L111 480.6M111.6 477.5L112.7 479.4M113.7 483.9L112.6 482M112.7 479.4L113.2 481.6M114.2 486.1L113.7 483.9M97.2 498.2L97.6 497.3M98.6 501.8L98.2 502.7M97.6 497.3L98.6 496.3M99.6 500.7L98.6 501.8M98.6 496.3L100.1 495.2M101.1 499.7L99.6 500.7M100.1 495.2L102 494.2M103 498.7L101.1 499.7M102 494.2L104.3 493.4M105.3 497.9L103 498.7M104.3 493.4L106.7 493M107.7 497.5L105.3 497.9M106.7 493L109.2 493M110.2 497.5L107.7 497.5M109.2 493L111.5 493.4M112.5 497.9L110.2 497.5M111.5 493.4L113.5 494.3M114.5 498.8L112.5 497.9M113.5 494.3L115.2 495.6M116.2 500.1L114.5 498.8M115.2 495.6L116.3 497.4M117.3 501.9L116.2 500.1M116.3 497.4L116.9 499.5M117.9 504L117.3 501.9" fill="none" stroke="#5a5a5a" stroke-width="1.1"/>
<path d="M83.4 347.6L85.3 349.3L86.3 353.8L84.4 352.1ZM85.3 349.3L86.6 351.5L87.6 356L86.3 353.8ZM66.8 371.1L67.3 369.8L68.3 374.3L67.8 375.6ZM67.3 369.8L68.5 368.4L69.5 372.9L68.3 374.3ZM68.5 368.4L70.3 367L71.3 371.5L69.5 372.9ZM70.3 367L72.7 365.8L73.7 370.3L71.3 371.5ZM72.7 365.8L75.5 364.8L76.5 369.3L73.7 370.3ZM75.5 364.8L78.5 364.3L79.5 368.7L76.5 369.3ZM78.5 364.3L81.5 364.2L82.5 368.7L79.5 368.7ZM81.5 364.2L84.4 364.7L85.4 369.2L82.5 368.7ZM84.4 364.7L86.9 365.7L87.9 370.2L85.4 369.2ZM86.9 365.7L88.8 367.3L89.8 371.8L87.9 370.2ZM88.8 367.3L90.2 369.4L91.2 373.9L89.8 371.8ZM90.2 369.4L90.9 371.9L91.9 376.4L91.2 373.9ZM71.1 389.5L71.5 388.2L72.5 392.7L72.1 393.9ZM71.5 388.2L72.6 386.9L73.6 391.4L72.5 392.7ZM72.6 386.9L74.3 385.5L75.3 390L73.6 391.4ZM74.3 385.5L76.5 384.3L77.5 388.8L75.3 390ZM76.5 384.3L79.2 383.3L80.2 387.8L77.5 388.8ZM79.2 383.3L82.1 382.7L83.1 387.2L80.2 387.8ZM82.1 382.7L85 382.6L86 387.1L83.1 387.2ZM85 382.6L87.9 383L88.9 387.5L86 387.1ZM87.9 383L90.3 383.9L91.3 388.4L88.9 387.5ZM90.3 383.9L92.4 385.4L93.4 389.9L91.3 388.4ZM92.4 385.4L93.8 387.4L94.8 391.9L93.4 389.9ZM93.8 387.4L94.5 389.8L95.5 394.3L94.8 391.9ZM75.5 407.8L75.7 406.6L76.7 411.1L76.5 412.2ZM75.7 406.6L76.7 405.3L77.7 409.8L76.7 411.1ZM76.7 405.3L78.3 404L79.3 408.5L77.7 409.8ZM78.3 404L80.4 402.8L81.4 407.3L79.3 408.5ZM80.4 402.8L82.9 401.8L83.9 406.3L81.4 407.3ZM82.9 401.8L85.7 401.1L86.7 405.6L83.9 406.3ZM85.7 401.1L88.6 401L89.6 405.4L86.7 405.6ZM88.6 401L91.4 401.3L92.4 405.8L89.6 405.4ZM91.4 401.3L93.8 402.1L94.8 406.6L92.4 405.8ZM93.8 402.1L95.9 403.5L96.9 408L94.8 406.6ZM95.9 403.5L97.4 405.4L98.4 409.9L96.9 408ZM97.4 405.4L98.2 407.7L99.2 412.2L98.4 409.9ZM79.9 426L80 425L81 429.5L80.9 430.5ZM80 425L80.8 423.8L81.8 428.3L81 429.5ZM80.8 423.8L82.3 422.5L83.3 427L81.8 428.3ZM82.3 422.5L84.3 421.3L85.3 425.8L83.3 427ZM84.3 421.3L86.7 420.3L87.7 424.8L85.3 425.8ZM86.7 420.3L89.4 419.6L90.4 424.1L87.7 424.8ZM89.4 419.6L92.2 419.3L93.2 423.8L90.4 424.1ZM92.2 419.3L94.9 419.6L95.9 424.1L93.2 423.8ZM94.9 419.6L97.3 420.3L98.3 424.8L95.9 424.1ZM97.3 420.3L99.4 421.6L100.4 426.1L98.3 424.8ZM99.4 421.6L100.9 423.4L101.9 427.9L100.4 426.1ZM100.9 423.4L101.9 425.6L102.8 430.1L101.9 427.9ZM84.2 444.3L84.3 443.3L85.3 447.8L85.2 448.8ZM84.3 443.3L85 442.2L86 446.7L85.3 447.8ZM85 442.2L86.3 440.9L87.3 445.4L86 446.7ZM86.3 440.9L88.2 439.8L89.2 444.2L87.3 445.4ZM88.2 439.8L90.5 438.8L91.5 443.2L89.2 444.2ZM90.5 438.8L93.1 438.1L94.1 442.5L91.5 443.2ZM93.1 438.1L95.8 437.7L96.8 442.2L94.1 442.5ZM95.8 437.7L98.4 437.9L99.4 442.4L96.8 442.2ZM98.4 437.9L100.9 438.6L101.9 443.1L99.4 442.4ZM100.9 438.6L102.9 439.8L103.9 444.2L101.9 443.1ZM102.9 439.8L104.5 441.4L105.5 445.9L103.9 444.2ZM104.5 441.4L105.5 443.5L106.5 448L105.5 445.9ZM88.6 462.5L88.6 461.7L89.6 466.2L89.6 467ZM88.6 461.7L89.2 460.6L90.2 465.1L89.6 466.2ZM89.2 460.6L90.4 459.4L91.4 463.9L90.2 465.1ZM90.4 459.4L92.1 458.2L93.1 462.7L91.4 463.9ZM92.1 458.2L94.3 457.2L95.3 461.7L93.1 462.7ZM94.3 457.2L96.8 456.5L97.8 461L95.3 461.7ZM96.8 456.5L99.4 456.2L100.4 460.7L97.8 461ZM99.4 456.2L102 456.3L103 460.7L100.4 460.7ZM102 456.3L104.4 456.8L105.4 461.3L103 460.7ZM104.4 456.8L106.5 457.9L107.5 462.4L105.4 461.3ZM106.5 457.9L108.1 459.5L109.1 464L107.5 462.4ZM108.1 459.5L109.1 461.5L110.1 465.9L109.1 464ZM93 480.7L92.9 480L93.9 484.5L94 485.2ZM92.9 480L93.4 479L94.4 483.4L93.9 484.5ZM93.4 479L94.5 477.8L95.5 482.3L94.4 483.4ZM94.5 477.8L96.1 476.7L97.1 481.2L95.5 482.3ZM96.1 476.7L98.1 475.7L99.1 480.2L97.1 481.2ZM98.1 475.7L100.5 475L101.5 479.5L99.1 480.2ZM100.5 475L103 474.6L104 479.1L101.5 479.5ZM103 474.6L105.6 474.6L106.6 479.1L104 479.1ZM105.6 474.6L107.9 475.1L108.9 479.6L106.6 479.1ZM107.9 475.1L110 476.1L111 480.6L108.9 479.6ZM110 476.1L111.6 477.5L112.6 482L111 480.6ZM111.6 477.5L112.7 479.4L113.7 483.9L112.6 482ZM112.7 479.4L113.2 481.6L114.2 486.1L113.7 483.9ZM97.2 498.2L97.6 497.3L98.6 501.8L98.2 502.7ZM97.6 497.3L98.6 496.3L99.6 500.7L98.6 501.8ZM98.6 496.3L100.1 495.2L101.1 499.7L99.6 500.7ZM100.1 495.2L102 494.2L103 498.7L101.1 499.7ZM102 494.2L104.3 493.4L105.3 497.9L103 498.7ZM104.3 493.4L106.7 493L107.7 497.5L105.3 497.9ZM106.7 493L109.2 493L110.2 497.5L107.7 497.5ZM109.2 493L111.5 493.4L112.5 497.9L110.2 497.5ZM111.5 493.4L113.5 494.3L114.5 498.8L112.5 497.9ZM113.5 494.3L115.2 495.6L116.2 500.1L114.5 498.8ZM115.2 495.6L116.3 497.4L117.3 501.9L116.2 500.1ZM116.3 497.4L116.9 499.5L117.9 504L117.3 501.9Z" fill="#b4b4b4" stroke="#b4b4b4" stroke-width="0.6"/>
<path d="M84.4 387.3L84.5 386.8M85.7 388.4L85.7 389M84.5 386.8L85.1 386M86.4 387.7L85.7 388.4M85.1 386L86.4 385.2M87.6 386.8L86.4 387.7M86.4 385.2L88.2 384.2M89.5 385.9L87.6 386.8M88.2 384.2L90.5 383.4M91.8 385.1L89.5 385.9M90.5 383.4L93.2 382.7M94.4 384.4L91.8 385.1M93.2 382.7L96 382.2M97.2 383.9L94.4 384.4M96 382.2L98.9 382.1M100.1 383.7L97.2 383.9M98.9 382.1L101.6 382.2M102.8 383.9L100.1 383.7M101.6 382.2L104 382.8M105.3 384.4L102.8 383.9M104 382.8L106 383.7M107.3 385.3L105.3 384.4M106 383.7L107.5 384.9M108.8 386.6L107.3 385.3M94.2 400.4L94 400M95.2 401.7L95.5 402.1M94 400L94.4 399.4M95.6 401L95.2 401.7M94.4 399.4L95.4 398.5M96.6 400.2L95.6 401M95.4 398.5L97 397.6M98.2 399.3L96.6 400.2M97 397.6L99.1 396.8M100.3 398.4L98.2 399.3M99.1 396.8L101.6 396M102.8 397.6L100.3 398.4M101.6 396L104.4 395.4M105.6 397.1L102.8 397.6M104.4 395.4L107.2 395.1M108.5 396.8L105.6 397.1M107.2 395.1L110 395.1M111.3 396.8L108.5 396.8M110 395.1L112.6 395.5M113.8 397.2L111.3 396.8M112.6 395.5L114.8 396.2M116.1 397.9L113.8 397.2M114.8 396.2L116.6 397.3M117.8 399L116.1 397.9M116.6 397.3L117.7 398.8M119 400.4L117.8 399M103.7 413.3L103.8 412.7M105 414.4L104.9 414.9M103.8 412.7L104.5 411.9M105.7 413.6L105 414.4M104.5 411.9L105.8 411M107.1 412.7L105.7 413.6M105.8 411L107.7 410.1M109 411.8L107.1 412.7M107.7 410.1L110.1 409.3M111.3 411L109 411.8M110.1 409.3L112.7 408.6M114 410.3L111.3 411M112.7 408.6L115.6 408.2M116.8 409.9L114 410.3M115.6 408.2L118.4 408.1M119.7 409.7L116.8 409.9M118.4 408.1L121.1 408.3M122.4 409.9L119.7 409.7M121.1 408.3L123.5 408.9M124.8 410.5L122.4 409.9M123.5 408.9L125.5 409.8M126.7 411.5L124.8 410.5M125.5 409.8L126.9 411.1M128.2 412.8L126.7 411.5M113.4 426.4L113.3 426M114.5 427.6L114.7 428.1M113.3 426L113.7 425.3M114.9 426.9L114.5 427.6M113.7 425.3L114.8 424.4M116 426.1L114.9 426.9M114.8 424.4L116.5 423.5M117.7 425.2L116 426.1M116.5 423.5L118.6 422.7M119.8 424.3L117.7 425.2M118.6 422.7L121.2 421.9M122.4 423.6L119.8 424.3M121.2 421.9L123.9 421.4M125.2 423L122.4 423.6M123.9 421.4L126.8 421.1M128 422.7L125.2 423M126.8 421.1L129.6 421.1M130.8 422.8L128 422.7M129.6 421.1L132.1 421.6M133.4 423.2L130.8 422.8" fill="none" stroke="#5a5a5a" stroke-width="1.1"/>
<path d="M84.4 387.3L84.5 386.8L85.7 388.4L85.7 389ZM84.5 386.8L85.1 386L86.4 387.7L85.7 388.4ZM85.1 386L86.4 385.2L87.6 386.8L86.4 387.7ZM86.4 385.2L88.2 384.2L89.5 385.9L87.6 386.8ZM88.2 384.2L90.5 383.4L91.8 385.1L89.5 385.9ZM90.5 383.4L93.2 382.7L94.4 384.4L91.8 385.1ZM93.2 382.7L96 382.2L97.2 383.9L94.4 384.4ZM96 382.2L98.9 382.1L100.1 383.7L97.2 383.9ZM98.9 382.1L101.6 382.2L102.8 383.9L100.1 383.7ZM101.6 382.2L104 382.8L105.3 384.4L102.8 383.9ZM104 382.8L106 383.7L107.3 385.3L105.3 384.4ZM106 383.7L107.5 384.9L108.8 386.6L107.3 385.3ZM94.2 400.4L94 400L95.2 401.7L95.5 402.1ZM94 400L94.4 399.4L95.6 401L95.2 401.7ZM94.4 399.4L95.4 398.5L96.6 400.2L95.6 401ZM95.4 398.5L97 397.6L98.2 399.3L96.6 400.2ZM97 397.6L99.1 396.8L100.3 398.4L98.2 399.3ZM99.1 396.8L101.6 396L102.8 397.6L100.3 398.4ZM101.6 396L104.4 395.4L105.6 397.1L102.8 397.6ZM104.4 395.4L107.2 395.1L108.5 396.8L105.6 397.1ZM107.2 395.1L110 395.1L111.3 396.8L108.5 396.8ZM110 395.1L112.6 395.5L113.8 397.2L111.3 396.8ZM112.6 395.5L114.8 396.2L116.1 397.9L113.8 397.2ZM114.8 396.2L116.6 397.3L117.8 399L116.1 397.9ZM116.6 397.3L117.7 398.8L119 400.4L117.8 399ZM103.7 413.3L103.8 412.7L105 414.4L104.9 414.9ZM103.8 412.7L104.5 411.9L105.7 413.6L105 414.4ZM104.5 411.9L105.8 411L107.1 412.7L105.7 413.6ZM105.8 411L107.7 410.1L109 411.8L107.1 412.7ZM107.7 410.1L110.1 409.3L111.3 411L109 411.8ZM110.1 409.3L112.7 408.6L114 410.3L111.3 411ZM112.7 408.6L115.6 408.2L116.8 409.9L114 410.3ZM115.6 408.2L118.4 408.1L119.7 409.7L116.8 409.9ZM118.4 408.1L121.1 408.3L122.4 409.9L119.7 409.7ZM121.1 408.3L123.5 408.9L124.8 410.5L122.4 409.9ZM123.5 408.9L125.5 409.8L126.7 411.5L124.8 410.5ZM125.5 409.8L126.9 411.1L128.2 412.8L126.7 411.5ZM113.4 426.4L113.3 426L114.5 427.6L114.7 428.1ZM113.3 426L113.7 425.3L114.9 426.9L114.5 427.6ZM113.7 425.3L114.8 424.4L116 426.1L114.9 426.9ZM114.8 424.4L116.5 423.5L117.7 425.2L116 426.1ZM116.5 423.5L118.6 422.7L119.8 424.3L117.7 425.2ZM118.6 422.7L121.2 421.9L122.4 423.6L119.8 424.3ZM121.2 421.9L123.9 421.4L125.2 423L122.4 423.6ZM123.9 421.4L126.8 421.1L128 422.7L125.2 423ZM126.8 421.1L129.6 421.1L130.8 422.8L128 422.7ZM129.6 421.1L132.1 421.6L133.4 423.2L130.8 422.8Z" fill="#8a8a8a" stroke="#8a8a8a" stroke-width="0.6"/>
<path d="M98.3 373.2L98.3 375M101 378.7L101 376.9M98.3 375L97.6 377M100.4 380.7L101 378.7M97.6 377L96.5 379M99.2 382.7L100.4 380.7M96.5 379L94.9 380.8M97.6 384.5L99.2 382.7M94.9 380.8L93 382.6M95.7 386.3L97.6 384.5M93 382.6L90.9 384M93.7 387.7L95.7 386.3M90.9 384L88.9 385.2M91.6 388.9L93.7 387.7M88.9 385.2L87 386M89.7 389.7L91.6 388.9M87 386L85.4 386.5M88.1 390.2L89.7 389.7M85.4 386.5L84.3 386.5M87 390.2L88.1 390.2M84.3 386.5L83.7 386.3M86.4 390L87 390.2M106.8 383.9L107.7 385.4M110.4 389.1L109.5 387.6M107.7 385.4L108 387.2M110.7 390.9L110.4 389.1M108 387.2L107.6 389.1M110.3 392.8L110.7 390.9M107.6 389.1L106.7 391.1M109.4 394.8L110.3 392.8M106.7 391.1L105.3 393M108 396.7L109.4 394.8M105.3 393L103.5 394.8M106.2 398.5L108 396.7M103.5 394.8L101.5 396.4M104.2 400.1L106.2 398.5M101.5 396.4L99.4 397.7M102.1 401.4L104.2 400.1M99.4 397.7L97.4 398.7M100.1 402.4L102.1 401.4M97.4 398.7L95.7 399.3M98.4 403L100.1 402.4M95.7 399.3L94.3 399.5M97.1 403.2L98.4 403M94.3 399.5L93.5 399.4M96.2 403.1L97.1 403.2M117 397.7L117.5 399.4M120.3 403.1L119.7 401.4M117.5 399.4L117.5 401.3M120.2 405L120.3 403.1M117.5 401.3L116.8 403.2M119.5 406.9L120.2 405M116.8 403.2L115.6 405.2M118.3 408.9L119.5 406.9M115.6 405.2L113.9 407.1M116.7 410.8L118.3 408.9M113.9 407.1L112 408.8M114.7 412.4L116.7 410.8M112 408.8L109.9 410.2M112.7 413.9L114.7 412.4M109.9 410.2L107.9 411.3M110.6 415L112.7 413.9M107.9 411.3L106 412.1M108.7 415.8L110.6 415M106 412.1L104.5 412.5M107.2 416.2L108.7 415.8M104.5 412.5L103.4 412.5M106.2 416.2L107.2 416.2M103.4 412.5L102.9 412.2M105.6 415.9L106.2 416.2M126.2 410.1L127 411.6M129.7 415.3L128.9 413.8M127 411.6L127.2 413.4M129.9 417.1L129.7 415.3M127.2 413.4L126.8 415.4M129.5 419.1L129.9 417.1M126.8 415.4L125.8 417.3M128.5 421L129.5 419.1M125.8 417.3L124.3 419.3M127 423L128.5 421M124.3 419.3L122.5 421M125.2 424.7L127 423M122.5 421L120.5 422.6M123.2 426.3L125.2 424.7M120.5 422.6L118.4 423.9M121.1 427.6L123.2 426.3M118.4 423.9L116.4 424.8M119.2 428.5L121.1 427.6M116.4 424.8L114.7 425.4M117.5 429L119.2 428.5M114.7 425.4L113.4 425.5M116.2 429.2L117.5 429M113.4 425.5L112.7 425.4M115.4 429.1L116.2 429.2" fill="none" stroke="#5a5a5a" stroke-width="1.1"/>
<path d="M98.3 373.2L98.3 375L101 378.7L101 376.9ZM98.3 375L97.6 377L100.4 380.7L101 378.7ZM97.6 377L96.5 379L99.2 382.7L100.4 380.7ZM96.5 379L94.9 380.8L97.6 384.5L99.2 382.7ZM94.9 380.8L93 382.6L95.7 386.3L97.6 384.5ZM93 382.6L90.9 384L93.7 387.7L95.7 386.3ZM90.9 384L88.9 385.2L91.6 388.9L93.7 387.7ZM88.9 385.2L87 386L89.7 389.7L91.6 388.9ZM87 386L85.4 386.5L88.1 390.2L89.7 389.7ZM85.4 386.5L84.3 386.5L87 390.2L88.1 390.2ZM84.3 386.5L83.7 386.3L86.4 390L87 390.2ZM106.8 383.9L107.7 385.4L110.4 389.1L109.5 387.6ZM107.7 385.4L108 387.2L110.7 390.9L110.4 389.1ZM108 387.2L107.6 389.1L110.3 392.8L110.7 390.9ZM107.6 389.1L106.7 391.1L109.4 394.8L110.3 392.8ZM106.7 391.1L105.3 393L108 396.7L109.4 394.8ZM105.3 393L103.5 394.8L106.2 398.5L108 396.7ZM103.5 394.8L101.5 396.4L104.2 400.1L106.2 398.5ZM101.5 396.4L99.4 397.7L102.1 401.4L104.2 400.1ZM99.4 397.7L97.4 398.7L100.1 402.4L102.1 401.4ZM97.4 398.7L95.7 399.3L98.4 403L100.1 402.4ZM95.7 399.3L94.3 399.5L97.1 403.2L98.4 403ZM94.3 399.5L93.5 399.4L96.2 403.1L97.1 403.2ZM117 397.7L117.5 399.4L120.3 403.1L119.7 401.4ZM117.5 399.4L117.5 401.3L120.2 405L120.3 403.1ZM117.5 401.3L116.8 403.2L119.5 406.9L120.2 405ZM116.8 403.2L115.6 405.2L118.3 408.9L119.5 406.9ZM115.6 405.2L113.9 407.1L116.7 410.8L118.3 408.9ZM113.9 407.1L112 408.8L114.7 412.4L116.7 410.8ZM112 408.8L109.9 410.2L112.7 413.9L114.7 412.4ZM109.9 410.2L107.9 411.3L110.6 415L112.7 413.9ZM107.9 411.3L106 412.1L108.7 415.8L110.6 415ZM106 412.1L104.5 412.5L107.2 416.2L108.7 415.8ZM104.5 412.5L103.4 412.5L106.2 416.2L107.2 416.2ZM103.4 412.5L102.9 412.2L105.6 415.9L106.2 416.2ZM126.2 410.1L127 411.6L129.7 415.3L128.9 413.8ZM127 411.6L127.2 413.4L129.9 417.1L129.7 415.3ZM127.2 413.4L126.8 415.4L129.5 419.1L129.9 417.1ZM126.8 415.4L125.8 417.3L128.5 421L129.5 419.1ZM125.8 417.3L124.3 419.3L127 423L128.5 421ZM124.3 419.3L122.5 421L125.2 424.7L127 423ZM122.5 421L120.5 422.6L123.2 426.3L125.2 424.7ZM120.5 422.6L118.4 423.9L121.1 427.6L123.2 426.3ZM118.4 423.9L116.4 424.8L119.2 428.5L121.1 427.6ZM116.4 424.8L114.7 425.4L117.5 429L119.2 428.5ZM114.7 425.4L113.4 425.5L116.2 429.2L117.5 429ZM113.4 425.5L112.7 425.4L115.4 429.1L116.2 429.2Z" fill="#b4b4b4" stroke="#b4b4b4" stroke-width="0.6"/>
<path d="M125.8 373L126.2 375.1M126.7 377.1L126.2 375M126.2 375.1L126.1 377.4M126.6 379.4L126.7 377.1M126.1 377.4L125.4 379.9M125.9 381.9L126.6 379.4M125.4 379.9L124.2 382.3M124.6 384.3L125.9 381.9M124.2 382.3L122.6 384.6M123 386.6L124.6 384.3M122.6 384.6L120.7 386.7M121.1 388.7L123 386.6M120.7 386.7L118.6 388.5M119 390.5L121.1 388.7M118.6 388.5L116.5 389.8M116.9 391.9L119 390.5M116.5 389.8L114.5 390.8M115 392.8L116.9 391.9M114.5 390.8L112.9 391.2M113.3 393.2L115 392.8M112.9 391.2L111.6 391.2M112.1 393.3L113.3 393.2M111.6 391.2L110.9 390.9M111.3 392.9L112.1 393.3M110.9 390.9L110.7 390.1M111.1 392.2L111.3 392.9M129.9 391.4L129.8 393.7M130.3 395.7L130.3 393.4M129.8 393.7L129.2 396.1M129.6 398.1L130.3 395.7M129.2 396.1L128.1 398.6M128.5 400.6L129.6 398.1M128.1 398.6L126.5 400.9M126.9 402.9L128.5 400.6M126.5 400.9L124.6 403M125 405.1L126.9 402.9M124.6 403L122.5 404.9M123 406.9L125 405.1M122.5 404.9L120.4 406.3M120.9 408.3L123 406.9M120.4 406.3L118.4 407.3M118.9 409.3L120.9 408.3M118.4 407.3L116.7 407.8M117.2 409.8L118.9 409.3M116.7 407.8L115.4 407.9M115.9 409.9L117.2 409.8M115.4 407.9L114.6 407.5M115 409.5L115.9 409.9M114.6 407.5L114.3 406.9M114.8 408.9L115 409.5M133.5 407.7L133.5 410M134 412L133.9 409.7M133.5 410L133 412.4M133.4 414.4L134 412M133 412.4L131.9 414.8M132.3 416.9L133.4 414.4M131.9 414.8L130.4 417.2M130.8 419.2L132.3 416.9M130.4 417.2L128.5 419.4M129 421.4L130.8 419.2M128.5 419.4L126.5 421.2M126.9 423.3L129 421.4M126.5 421.2L124.4 422.7M124.8 424.7L126.9 423.3M124.4 422.7L122.4 423.8M122.8 425.8L124.8 424.7M122.4 423.8L120.6 424.3M121 426.4L122.8 425.8M120.6 424.3L119.2 424.5M119.7 426.5L121 426.4M119.2 424.5L118.3 424.2M118.8 426.2L119.7 426.5M118.3 424.2L118 423.6M118.4 425.6L118.8 426.2M137.1 424L137.2 426.2M137.7 428.3L137.6 426M137.2 426.2L136.7 428.7M137.2 430.7L137.7 428.3M136.7 428.7L135.7 431.1M136.2 433.1L137.2 430.7M135.7 431.1L134.3 433.5M134.7 435.5L136.2 433.1M134.3 433.5L132.4 435.7M132.9 437.7L134.7 435.5M132.4 435.7L130.4 437.6M130.8 439.6L132.9 437.7M130.4 437.6L128.3 439.1M128.7 441.2L130.8 439.6M128.3 439.1L126.3 440.2M126.7 442.3L128.7 441.2M126.3 440.2L124.5 440.9M124.9 442.9L126.7 442.3M124.5 440.9L123 441.1M123.5 443.1L124.9 442.9M123 441.1L122.1 440.9M122.5 442.9L123.5 443.1M122.1 440.9L121.7 440.3M122.1 442.3L122.5 442.9M140.7 440.3L140.9 442.5M141.3 444.5L141.2 442.3M140.9 442.5L140.5 444.9M140.9 446.9L141.3 444.5M140.5 444.9L139.6 447.4M140 449.4L140.9 446.9M139.6 447.4L138.1 449.8M138.6 451.8L140 449.4M138.1 449.8L136.4 452M136.8 454L138.6 451.8M136.4 452L134.3 454M134.8 456L136.8 454M134.3 454L132.2 455.6M132.7 457.6L134.8 456M132.2 455.6L130.2 456.7M130.6 458.7L132.7 457.6M130.2 456.7L128.4 457.4M128.8 459.5L130.6 458.7M128.4 457.4L126.9 457.7M127.3 459.7L128.8 459.5M126.9 457.7L125.8 457.5M126.3 459.5L127.3 459.7M125.8 457.5L125.3 457M125.8 459L126.3 459.5M144.3 456.6L144.6 458.8M145 460.8L144.7 458.6M144.6 458.8L144.2 461.2M144.7 463.2L145 460.8M144.2 461.2L143.4 463.7M143.8 465.7L144.7 463.2M143.4 463.7L142 466.1M142.5 468.1L143.8 465.7M142 466.1L140.3 468.3M140.7 470.4L142.5 468.1M140.3 468.3L138.3 470.3M138.7 472.3L140.7 470.4M138.3 470.3L136.2 472M136.6 474L138.7 472.3M136.2 472L134.1 473.2M134.6 475.2L136.6 474M134.1 473.2L132.3 474M132.7 476L134.6 475.2M132.3 474L130.7 474.3M131.2 476.3L132.7 476M130.7 474.3L129.6 474.2M130.1 476.2L131.2 476.3M129.6 474.2L129 473.7M129.5 475.7L130.1 476.2M147.9 472.9L148.2 475.1M148.7 477.1L148.3 475M148.2 475.1L148 477.5M148.4 479.5L148.7 477.1M148 477.5L147.2 479.9M147.6 481.9L148.4 479.5M147.2 479.9L145.9 482.4M146.3 484.4L147.6 481.9M145.9 482.4L144.2 484.6M144.6 486.7L146.3 484.4M144.2 484.6L142.2 486.7M142.7 488.7L144.6 486.7M142.2 486.7L140.1 488.4M140.6 490.4L142.7 488.7M140.1 488.4L138.1 489.7M138.5 491.7L140.6 490.4M138.1 489.7L136.2 490.5M136.6 492.5L138.5 491.7M136.2 490.5L134.6 490.9M135 492.9L136.6 492.5M134.6 490.9L133.4 490.8M133.8 492.8L135 492.9M133.4 490.8L132.7 490.3M133.2 492.4L133.8 492.8M151.4 489.3L151.9 491.4M152.3 493.4L151.9 491.3M151.9 491.4L151.7 493.7M152.2 495.8L152.3 493.4M151.7 493.7L151 496.2M151.4 498.2L152.2 495.8M151 496.2L149.7 498.6M150.2 500.7L151.4 498.2M149.7 498.6L148.1 500.9M148.5 503L150.2 500.7M148.1 500.9L146.2 503M146.6 505L148.5 503M146.2 503L144.1 504.8M144.5 506.8L146.6 505M144.1 504.8L142 506.1M142.4 508.1L144.5 506.8M142 506.1L140.1 507M140.5 509L142.4 508.1M140.1 507L138.4 507.4M138.9 509.5L140.5 509M138.4 507.4L137.2 507.4M137.6 509.4L138.9 509.5M137.2 507.4L136.5 507M136.9 509L137.6 509.4M155.5 507.7L155.4 510M155.9 512L156 509.7M155.4 510L154.8 512.5M155.2 514.5L155.9 512M154.8 512.5L153.6 514.9M154 516.9L155.2 514.5M153.6 514.9L152 517.2M152.5 519.3L154 516.9M152 517.2L150.1 519.4M150.5 521.4L152.5 519.3M150.1 519.4L148 521.1M148.5 523.2L150.5 521.4M148 521.1L145.9 522.5M146.4 524.6L148.5 523.2" fill="none" stroke="#5a5a5a" stroke-width="1.1"/>
<path d="M125.8 373L126.2 375.1L126.7 377.1L126.2 375ZM126.2 375.1L126.1 377.4L126.6 379.4L126.7 377.1ZM126.1 377.4L125.4 379.9L125.9 381.9L126.6 379.4ZM125.4 379.9L124.2 382.3L124.6 384.3L125.9 381.9ZM124.2 382.3L122.6 384.6L123 386.6L124.6 384.3ZM122.6 384.6L120.7 386.7L121.1 388.7L123 386.6ZM120.7 386.7L118.6 388.5L119 390.5L121.1 388.7ZM118.6 388.5L116.5 389.8L116.9 391.9L119 390.5ZM116.5 389.8L114.5 390.8L115 392.8L116.9 391.9ZM114.5 390.8L112.9 391.2L113.3 393.2L115 392.8ZM112.9 391.2L111.6 391.2L112.1 393.3L113.3 393.2ZM111.6 391.2L110.9 390.9L111.3 392.9L112.1 393.3ZM110.9 390.9L110.7 390.1L111.1 392.2L111.3 392.9ZM129.9 391.4L129.8 393.7L130.3 395.7L130.3 393.4ZM129.8 393.7L129.2 396.1L129.6 398.1L130.3 395.7ZM129.2 396.1L128.1 398.6L128.5 400.6L129.6 398.1ZM128.1 398.6L126.5 400.9L126.9 402.9L128.5 400.6ZM126.5 400.9L124.6 403L125 405.1L126.9 402.9ZM124.6 403L122.5 404.9L123 406.9L125 405.1ZM122.5 404.9L120.4 406.3L120.9 408.3L123 406.9ZM120.4 406.3L118.4 407.3L118.9 409.3L120.9 408.3ZM118.4 407.3L116.7 407.8L117.2 409.8L118.9 409.3ZM116.7 407.8L115.4 407.9L115.9 409.9L117.2 409.8ZM115.4 407.9L114.6 407.5L115 409.5L115.9 409.9ZM114.6 407.5L114.3 406.9L114.8 408.9L115 409.5ZM133.5 407.7L133.5 410L134 412L133.9 409.7ZM133.5 410L133 412.4L133.4 414.4L134 412ZM133 412.4L131.9 414.8L132.3 416.9L133.4 414.4ZM131.9 414.8L130.4 417.2L130.8 419.2L132.3 416.9ZM130.4 417.2L128.5 419.4L129 421.4L130.8 419.2ZM128.5 419.4L126.5 421.2L126.9 423.3L129 421.4ZM126.5 421.2L124.4 422.7L124.8 424.7L126.9 423.3ZM124.4 422.7L122.4 423.8L122.8 425.8L124.8 424.7ZM122.4 423.8L120.6 424.3L121 426.4L122.8 425.8ZM120.6 424.3L119.2 424.5L119.7 426.5L121 426.4ZM119.2 424.5L118.3 424.2L118.8 426.2L119.7 426.5ZM118.3 424.2L118 423.6L118.4 425.6L118.8 426.2ZM137.1 424L137.2 426.2L137.7 428.3L137.6 426ZM137.2 426.2L136.7 428.7L137.2 430.7L137.7 428.3ZM136.7 428.7L135.7 431.1L136.2 433.1L137.2 430.7ZM135.7 431.1L134.3 433.5L134.7 435.5L136.2 433.1ZM134.3 433.5L132.4 435.7L132.9 437.7L134.7 435.5ZM132.4 435.7L130.4 437.6L130.8 439.6L132.9 437.7ZM130.4 437.6L128.3 439.1L128.7 441.2L130.8 439.6ZM128.3 439.1L126.3 440.2L126.7 442.3L128.7 441.2ZM126.3 440.2L124.5 440.9L124.9 442.9L126.7 442.3ZM124.5 440.9L123 441.1L123.5 443.1L124.9 442.9ZM123 441.1L122.1 440.9L122.5 442.9L123.5 443.1ZM122.1 440.9L121.7 440.3L122.1 442.3L122.5 442.9ZM140.7 440.3L140.9 442.5L141.3 444.5L141.2 442.3ZM140.9 442.5L140.5 444.9L140.9 446.9L141.3 444.5ZM140.5 444.9L139.6 447.4L140 449.4L140.9 446.9ZM139.6 447.4L138.1 449.8L138.6 451.8L140 449.4ZM138.1 449.8L136.4 452L136.8 454L138.6 451.8ZM136.4 452L134.3 454L134.8 456L136.8 454ZM134.3 454L132.2 455.6L132.7 457.6L134.8 456ZM132.2 455.6L130.2 456.7L130.6 458.7L132.7 457.6ZM130.2 456.7L128.4 457.4L128.8 459.5L130.6 458.7ZM128.4 457.4L126.9 457.7L127.3 459.7L128.8 459.5ZM126.9 457.7L125.8 457.5L126.3 459.5L127.3 459.7ZM125.8 457.5L125.3 457L125.8 459L126.3 459.5ZM144.3 456.6L144.6 458.8L145 460.8L144.7 458.6ZM144.6 458.8L144.2 461.2L144.7 463.2L145 460.8ZM144.2 461.2L143.4 463.7L143.8 465.7L144.7 463.2ZM143.4 463.7L142 466.1L142.5 468.1L143.8 465.7ZM142 466.1L140.3 468.3L140.7 470.4L142.5 468.1ZM140.3 468.3L138.3 470.3L138.7 472.3L140.7 470.4ZM138.3 470.3L136.2 472L136.6 474L138.7 472.3ZM136.2 472L134.1 473.2L134.6 475.2L136.6 474ZM134.1 473.2L132.3 474L132.7 476L134.6 475.2ZM132.3 474L130.7 474.3L131.2 476.3L132.7 476ZM130.7 474.3L129.6 474.2L130.1 476.2L131.2 476.3ZM129.6 474.2L129 473.7L129.5 475.7L130.1 476.2ZM147.9 472.9L148.2 475.1L148.7 477.1L148.3 475ZM148.2 475.1L148 477.5L148.4 479.5L148.7 477.1ZM148 477.5L147.2 479.9L147.6 481.9L148.4 479.5ZM147.2 479.9L145.9 482.4L146.3 484.4L147.6 481.9ZM145.9 482.4L144.2 484.6L144.6 486.7L146.3 484.4ZM144.2 484.6L142.2 486.7L142.7 488.7L144.6 486.7ZM142.2 486.7L140.1 488.4L140.6 490.4L142.7 488.7ZM140.1 488.4L138.1 489.7L138.5 491.7L140.6 490.4ZM138.1 489.7L136.2 490.5L136.6 492.5L138.5 491.7ZM136.2 490.5L134.6 490.9L135 492.9L136.6 492.5ZM134.6 490.9L133.4 490.8L133.8 492.8L135 492.9ZM133.4 490.8L132.7 490.3L133.2 492.4L133.8 492.8ZM151.4 489.3L151.9 491.4L152.3 493.4L151.9 491.3ZM151.9 491.4L151.7 493.7L152.2 495.8L152.3 493.4ZM151.7 493.7L151 496.2L151.4 498.2L152.2 495.8ZM151 496.2L149.7 498.6L150.2 500.7L151.4 498.2ZM149.7 498.6L148.1 500.9L148.5 503L150.2 500.7ZM148.1 500.9L146.2 503L146.6 505L148.5 503ZM146.2 503L144.1 504.8L144.5 506.8L146.6 505ZM144.1 504.8L142 506.1L142.4 508.1L144.5 506.8ZM142 506.1L140.1 507L140.5 509L142.4 508.1ZM140.1 507L138.4 507.4L138.9 509.5L140.5 509ZM138.4 507.4L137.2 507.4L137.6 509.4L138.9 509.5ZM137.2 507.4L136.5 507L136.9 509L137.6 509.4ZM155.5 507.7L155.4 510L155.9 512L156 509.7ZM155.4 510L154.8 512.5L155.2 514.5L155.9 512ZM154.8 512.5L153.6 514.9L154 516.9L155.2 514.5ZM153.6 514.9L152 517.2L152.5 519.3L154 516.9ZM152 517.2L150.1 519.4L150.5 521.4L152.5 519.3ZM150.1 519.4L148 521.1L148.5 523.2L150.5 521.4ZM148 521.1L145.9 522.5L146.4 524.6L148.5 523.2Z" fill="#8a8a8a" stroke="#8a8a8a" stroke-width="0.6"/>
<path d="M118.8 367.1L121 367.6M122 372.1L119.8 371.6M121 367.6L123 368.6M123.9 373.1L122 372.1M123 368.6L124.5 369.9M125.5 374.4L123.9 373.1M124.5 369.9L125.5 371.7M126.5 376.2L125.5 374.4M110.4 388.9L110.8 388M111.8 392.5L111.4 393.4M110.8 388L111.7 386.9M112.7 391.4L111.8 392.5M111.7 386.9L113.2 385.8M114.2 390.3L112.7 391.4M113.2 385.8L115.1 384.9M116.1 389.4L114.2 390.3M115.1 384.9L117.3 384.1M118.3 388.6L116.1 389.4M117.3 384.1L119.7 383.7M120.7 388.2L118.3 388.6M119.7 383.7L122.1 383.7M123.1 388.2L120.7 388.2M122.1 383.7L124.4 384.1M125.4 388.6L123.1 388.2M124.4 384.1L126.4 385M127.4 389.5L125.4 388.6M126.4 385L128 386.3M129 390.8L127.4 389.5M128 386.3L129.1 388.1M130.1 392.6L129 390.8M129.1 388.1L129.6 390.1M130.6 394.6L130.1 392.6M114 405.6L114.4 404.7M115.3 409.2L115 410.1M114.4 404.7L115.2 403.6M116.2 408.1L115.3 409.2M115.2 403.6L116.7 402.6M117.6 407.1L116.2 408.1M116.7 402.6L118.5 401.6M119.5 406.1L117.6 407.1M118.5 401.6L120.7 400.8M121.7 405.3L119.5 406.1M120.7 400.8L123.1 400.3M124 404.8L121.7 405.3M123.1 400.3L125.5 400.3M126.5 404.8L124 404.8M125.5 400.3L127.8 400.6M128.7 405.1L126.5 404.8M127.8 400.6L129.8 401.5M130.8 406L128.7 405.1M129.8 401.5L131.4 402.7M132.4 407.2L130.8 406M131.4 402.7L132.6 404.4M133.6 408.9L132.4 407.2M132.6 404.4L133.2 406.4M134.2 410.9L133.6 408.9M117.7 422.3L117.9 421.4M118.9 425.9L118.7 426.8M117.9 421.4L118.8 420.4M119.7 424.9L118.9 425.9M118.8 420.4L120.1 419.3M121.1 423.8L119.7 424.9M120.1 419.3L121.9 418.3M122.9 422.8L121.1 423.8M121.9 418.3L124 417.5M125 422L122.9 422.8M124 417.5L126.4 417M127.4 421.5L125 422M126.4 417L128.8 416.9M129.8 421.4L127.4 421.5M128.8 416.9L131.1 417.2M132.1 421.7L129.8 421.4M131.1 417.2L133.2 417.9M134.2 422.4L132.1 421.7M133.2 417.9L134.9 419.1M135.9 423.6L134.2 422.4M134.9 419.1L136.1 420.8M137.1 425.3L135.9 423.6M136.1 420.8L136.8 422.8M137.8 427.2L137.1 425.3M121.4 439L121.5 438.2M122.5 442.7L122.4 443.5M121.5 438.2L122.3 437.1M123.3 441.6L122.5 442.7M122.3 437.1L123.6 436M124.5 440.5L123.3 441.6M123.6 436L125.3 435M126.3 439.5L124.5 440.5M125.3 435L127.4 434.2M128.4 438.7L126.3 439.5M127.4 434.2L129.7 433.6M130.7 438.1L128.4 438.7M129.7 433.6L132.1 433.5M133.1 437.9L130.7 438.1M132.1 433.5L134.5 433.7M135.5 438.2L133.1 437.9M134.5 433.7L136.6 434.4M137.6 438.9L135.5 438.2M136.6 434.4L138.4 435.5M139.4 440L137.6 438.9M138.4 435.5L139.7 437.1M140.7 441.6L139.4 440M139.7 437.1L140.4 439.1M141.4 443.6L140.7 441.6M125.1 455.7L125.1 454.9M126.1 459.4L126.1 460.2M128.8 472.4L128.8 471.6M129.7 476.1L129.8 476.9M128.8 471.6L129.3 470.6M130.3 475.1L129.7 476.1M129.3 470.6L130.5 469.5M131.5 474L130.3 475.1M130.5 469.5L132.1 468.5M133.1 473L131.5 474M145.3 468.4L146.7 469.9M147.7 474.4L146.2 472.9M146.7 469.9L147.6 471.7M148.6 476.2L147.7 474.4M132.5 489.1L132.4 488.3M133.4 492.8L133.5 493.6M132.4 488.3L132.9 487.4M133.9 491.9L133.4 492.8M132.9 487.4L134 486.3M134.9 490.8L133.9 491.9M134 486.3L135.5 485.2M136.5 489.7L134.9 490.8M135.5 485.2L137.5 484.3M138.5 488.8L136.5 489.7M137.5 484.3L139.8 483.6M140.7 488.1L138.5 488.8M139.8 483.6L142.2 483.3M143.1 487.8L140.7 488.1M142.2 483.3L144.5 483.3M145.5 487.8L143.1 487.8M144.5 483.3L146.8 483.9M147.8 488.3L145.5 487.8M146.8 483.9L148.7 484.8M149.7 489.3L147.8 488.3M148.7 484.8L150.2 486.2M151.2 490.7L149.7 489.3M150.2 486.2L151.2 488M152.2 492.5L151.2 490.7M136.2 505.8L136 505.1M137 509.5L137.2 510.3M136 505.1L136.5 504.1M137.4 508.6L137 509.5M136.5 504.1L137.4 503M138.4 507.5L137.4 508.6M137.4 503L139 502M139.9 506.5L138.4 507.5M139 502L140.9 501M141.9 505.5L139.9 506.5M140.9 501L143.1 500.3M144.1 504.8L141.9 505.5M143.1 500.3L145.5 499.9M146.5 504.4L144.1 504.8M145.5 499.9L147.9 499.9M148.9 504.4L146.5 504.4M147.9 499.9L150.1 500.4M151.1 504.9L148.9 504.4M150.1 500.4L152.1 501.3M153.1 505.8L151.1 504.9M152.1 501.3L153.7 502.6M154.7 507.1L153.1 505.8M153.7 502.6L154.7 504.4M155.7 508.9L154.7 507.1M154.7 504.4L155.2 506.5M156.2 511L155.7 508.9" fill="none" stroke="#5a5a5a" stroke-width="1.1"/>
<path d="M118.8 367.1L121 367.6L122 372.1L119.8 371.6ZM121 367.6L123 368.6L123.9 373.1L122 372.1ZM123 368.6L124.5 369.9L125.5 374.4L123.9 373.1ZM124.5 369.9L125.5 371.7L126.5 376.2L125.5 374.4ZM110.4 388.9L110.8 388L111.8 392.5L111.4 393.4ZM110.8 388L111.7 386.9L112.7 391.4L111.8 392.5ZM111.7 386.9L113.2 385.8L114.2 390.3L112.7 391.4ZM113.2 385.8L115.1 384.9L116.1 389.4L114.2 390.3ZM115.1 384.9L117.3 384.1L118.3 388.6L116.1 389.4ZM117.3 384.1L119.7 383.7L120.7 388.2L118.3 388.6ZM119.7 383.7L122.1 383.7L123.1 388.2L120.7 388.2ZM122.1 383.7L124.4 384.1L125.4 388.6L123.1 388.2ZM124.4 384.1L126.4 385L127.4 389.5L125.4 388.6ZM126.4 385L128 386.3L129 390.8L127.4 389.5ZM128 386.3L129.1 388.1L130.1 392.6L129 390.8ZM129.1 388.1L129.6 390.1L130.6 394.6L130.1 392.6ZM114 405.6L114.4 404.7L115.3 409.2L115 410.1ZM114.4 404.7L115.2 403.6L116.2 408.1L115.3 409.2ZM115.2 403.6L116.7 402.6L117.6 407.1L116.2 408.1ZM116.7 402.6L118.5 401.6L119.5 406.1L117.6 407.1ZM118.5 401.6L120.7 400.8L121.7 405.3L119.5 406.1ZM120.7 400.8L123.1 400.3L124 404.8L121.7 405.3ZM123.1 400.3L125.5 400.3L126.5 404.8L124 404.8ZM125.5 400.3L127.8 400.6L128.7 405.1L126.5 404.8ZM127.8 400.6L129.8 401.5L130.8 406L128.7 405.1ZM129.8 401.5L131.4 402.7L132.4 407.2L130.8 406ZM131.4 402.7L132.6 404.4L133.6 408.9L132.4 407.2ZM132.6 404.4L133.2 406.4L134.2 410.9L133.6 408.9ZM117.7 422.3L117.9 421.4L118.9 425.9L118.7 426.8ZM117.9 421.4L118.8 420.4L119.7 424.9L118.9 425.9ZM118.8 420.4L120.1 419.3L121.1 423.8L119.7 424.9ZM120.1 419.3L121.9 418.3L122.9 422.8L121.1 423.8ZM121.9 418.3L124 417.5L125 422L122.9 422.8ZM124 417.5L126.4 417L127.4 421.5L125 422ZM126.4 417L128.8 416.9L129.8 421.4L127.4 421.5ZM128.8 416.9L131.1 417.2L132.1 421.7L129.8 421.4ZM131.1 417.2L133.2 417.9L134.2 422.4L132.1 421.7ZM133.2 417.9L134.9 419.1L135.9 423.6L134.2 422.4ZM134.9 419.1L136.1 420.8L137.1 425.3L135.9 423.6ZM136.1 420.8L136.8 422.8L137.8 427.2L137.1 425.3ZM121.4 439L121.5 438.2L122.5 442.7L122.4 443.5ZM121.5 438.2L122.3 437.1L123.3 441.6L122.5 442.7ZM122.3 437.1L123.6 436L124.5 440.5L123.3 441.6ZM123.6 436L125.3 435L126.3 439.5L124.5 440.5ZM125.3 435L127.4 434.2L128.4 438.7L126.3 439.5ZM127.4 434.2L129.7 433.6L130.7 438.1L128.4 438.7ZM129.7 433.6L132.1 433.5L133.1 437.9L130.7 438.1ZM132.1 433.5L134.5 433.7L135.5 438.2L133.1 437.9ZM134.5 433.7L136.6 434.4L137.6 438.9L135.5 438.2ZM136.6 434.4L138.4 435.5L139.4 440L137.6 438.9ZM138.4 435.5L139.7 437.1L140.7 441.6L139.4 440ZM139.7 437.1L140.4 439.1L141.4 443.6L140.7 441.6ZM125.1 455.7L125.1 454.9L126.1 459.4L126.1 460.2ZM128.8 472.4L128.8 471.6L129.7 476.1L129.8 476.9ZM128.8 471.6L129.3 470.6L130.3 475.1L129.7 476.1ZM129.3 470.6L130.5 469.5L131.5 474L130.3 475.1ZM130.5 469.5L132.1 468.5L133.1 473L131.5 474ZM145.3 468.4L146.7 469.9L147.7 474.4L146.2 472.9ZM146.7 469.9L147.6 471.7L148.6 476.2L147.7 474.4ZM132.5 489.1L132.4 488.3L133.4 492.8L133.5 493.6ZM132.4 488.3L132.9 487.4L133.9 491.9L133.4 492.8ZM132.9 487.4L134 486.3L134.9 490.8L133.9 491.9ZM134 486.3L135.5 485.2L136.5 489.7L134.9 490.8ZM135.5 485.2L137.5 484.3L138.5 488.8L136.5 489.7ZM137.5 484.3L139.8 483.6L140.7 488.1L138.5 488.8ZM139.8 483.6L142.2 483.3L143.1 487.8L140.7 488.1ZM142.2 483.3L144.5 483.3L145.5 487.8L143.1 487.8ZM144.5 483.3L146.8 483.9L147.8 488.3L145.5 487.8ZM146.8 483.9L148.7 484.8L149.7 489.3L147.8 488.3ZM148.7 484.8L150.2 486.2L151.2 490.7L149.7 489.3ZM150.2 486.2L151.2 488L152.2 492.5L151.2 490.7ZM136.2 505.8L136 505.1L137 509.5L137.2 510.3ZM136 505.1L136.5 504.1L137.4 508.6L137 509.5ZM136.5 504.1L137.4 503L138.4 507.5L137.4 508.6ZM137.4 503L139 502L139.9 506.5L138.4 507.5ZM139 502L140.9 501L141.9 505.5L139.9 506.5ZM140.9 501L143.1 500.3L144.1 504.8L141.9 505.5ZM143.1 500.3L145.5 499.9L146.5 504.4L144.1 504.8ZM145.5 499.9L147.9 499.9L148.9 504.4L146.5 504.4ZM147.9 499.9L150.1 500.4L151.1 504.9L148.9 504.4ZM150.1 500.4L152.1 501.3L153.1 505.8L151.1 504.9ZM152.1 501.3L153.7 502.6L154.7 507.1L153.1 505.8ZM153.7 502.6L154.7 504.4L155.7 508.9L154.7 507.1ZM154.7 504.4L155.2 506.5L156.2 511L155.7 508.9Z" fill="#b4b4b4" stroke="#b4b4b4" stroke-width="0.6"/>
<path d="M125.1 454.9L125.8 453.9M126.8 458.4L126.1 459.4M125.8 453.9L127 452.8M128 457.3L126.8 458.4M127 452.8L128.7 451.8M129.7 456.2L128 457.3M128.7 451.8L130.8 450.9M131.8 455.4L129.7 456.2M130.8 450.9L133.1 450.3M134.1 454.8L131.8 455.4M133.1 450.3L135.5 450.1M136.5 454.5L134.1 454.8M135.5 450.1L137.8 450.2M138.8 454.7L136.5 454.5M137.8 450.2L140 450.9M141 455.4L138.8 454.7M140 450.9L141.8 452M142.8 456.5L141 455.4M141.8 452L143.2 453.5M144.2 458L142.8 456.5M143.2 453.5L144 455.4M145 459.9L144.2 458M132.1 468.5L134.1 467.6M135.1 472.1L133.1 473M134.1 467.6L136.4 467M137.4 471.4L135.1 472.1M136.4 467L138.8 466.7M139.8 471.2L137.4 471.4M138.8 466.7L141.2 466.8M142.2 471.3L139.8 471.2M141.2 466.8L143.4 467.4M144.4 471.9L142.2 471.3M143.4 467.4L145.3 468.4M146.2 472.9L144.4 471.9" fill="none" stroke="#b06a18" stroke-width="1.1"/>
<path d="M125.1 454.9L125.8 453.9L126.8 458.4L126.1 459.4ZM125.8 453.9L127 452.8L128 457.3L126.8 458.4ZM127 452.8L128.7 451.8L129.7 456.2L128 457.3ZM128.7 451.8L130.8 450.9L131.8 455.4L129.7 456.2ZM130.8 450.9L133.1 450.3L134.1 454.8L131.8 455.4ZM133.1 450.3L135.5 450.1L136.5 454.5L134.1 454.8ZM135.5 450.1L137.8 450.2L138.8 454.7L136.5 454.5ZM137.8 450.2L140 450.9L141 455.4L138.8 454.7ZM140 450.9L141.8 452L142.8 456.5L141 455.4ZM141.8 452L143.2 453.5L144.2 458L142.8 456.5ZM143.2 453.5L144 455.4L145 459.9L144.2 458ZM132.1 468.5L134.1 467.6L135.1 472.1L133.1 473ZM134.1 467.6L136.4 467L137.4 471.4L135.1 472.1ZM136.4 467L138.8 466.7L139.8 471.2L137.4 471.4ZM138.8 466.7L141.2 466.8L142.2 471.3L139.8 471.2ZM141.2 466.8L143.4 467.4L144.4 471.9L142.2 471.3ZM143.4 467.4L145.3 468.4L146.2 472.9L144.4 471.9Z" fill="#ec963e" stroke="#ec963e" stroke-width="0.6"/>
<path d="M244.5 350.1L244.2 352.7M243.9 354.7L244.2 352.1M244.2 352.7L244.6 355.5M244.3 357.6L243.9 354.7M244.6 355.5L245.8 358.4M245.5 360.4L244.3 357.6M245.8 358.4L247.6 361.2M247.3 363.3L245.5 360.4M247.6 361.2L250 363.8M249.7 365.8L247.3 363.3M250 363.8L252.7 366M252.4 368.1L249.7 365.8M252.7 366L255.5 367.8M255.2 369.9L252.4 368.1M255.5 367.8L258.4 369.1M258.1 371.2L255.2 369.9M258.4 369.1L260.9 369.9M260.6 372L258.1 371.2M260.9 369.9L263.1 370.1M262.8 372.2L260.6 372M263.1 370.1L264.7 369.8M264.4 371.9L262.8 372.2M264.7 369.8L265.6 369.1M265.3 371.2L264.4 371.9M265.6 369.1L265.8 368.1M265.5 370.1L265.3 371.2M241.8 370.7L242.1 373.5M241.9 375.5L241.5 372.8M242.1 373.5L243.2 376.3M242.9 378.4L241.9 375.5M243.2 376.3L244.9 379.1M244.6 381.2L242.9 378.4M244.9 379.1L247.1 381.7M246.8 383.8L244.6 381.2M247.1 381.7L249.7 384M249.4 386L246.8 383.8M249.7 384L252.5 385.8M252.2 387.9L249.4 386M252.5 385.8L255.2 387.2M254.9 389.3L252.2 387.9M255.2 387.2L257.8 388.1M257.5 390.1L254.9 389.3M257.8 388.1L260 388.4M259.7 390.4L257.5 390.1M260 388.4L261.6 388.2M261.3 390.2L259.7 390.4M261.6 388.2L262.6 387.6M262.3 389.6L261.3 390.2M262.6 387.6L262.8 386.6M262.5 388.6L262.3 389.6M239.5 388.8L239.7 391.5M239.4 393.6L239.2 390.9M239.7 391.5L240.6 394.3M240.3 396.3L239.4 393.6M240.6 394.3L242.2 397M241.9 399.1L240.3 396.3M242.2 397L244.3 399.6M244 401.7L241.9 399.1M244.3 399.6L246.7 401.9M246.4 404L244 401.7M246.7 401.9L249.4 403.8M249.1 405.9L246.4 404M249.4 403.8L252.1 405.3M251.8 407.3L249.1 405.9M252.1 405.3L254.6 406.2M254.3 408.2L251.8 407.3M254.6 406.2L256.8 406.6M256.5 408.6L254.3 408.2M256.8 406.6L258.5 406.5M258.2 408.5L256.5 408.6M258.5 406.5L259.5 406M259.2 408L258.2 408.5M259.5 406L259.8 405.1M259.5 407.1L259.2 408M237.2 406.9L237.3 409.5M237 411.6L236.9 409M237.3 409.5L238.1 412.2M237.8 414.3L237 411.6M238.1 412.2L239.5 415M239.2 417L237.8 414.3M239.5 415L241.5 417.5M241.2 419.6L239.2 417M241.5 417.5L243.8 419.8M243.5 421.9L241.2 419.6M243.8 419.8L246.4 421.8M246.1 423.8L243.5 421.9M246.4 421.8L249 423.3M248.7 425.3L246.1 423.8M249 423.3L251.5 424.3M251.2 426.3L248.7 425.3M251.5 424.3L253.6 424.8M253.3 426.8L251.2 426.3M253.6 424.8L255.3 424.8M255 426.9L253.3 426.8M255.3 424.8L256.4 424.4M256.1 426.4L255 426.9M256.4 424.4L256.8 423.6M256.5 425.6L256.1 426.4M234.8 425L234.8 427.6M234.5 429.6L234.5 427.1M234.8 427.6L235.5 430.2M235.2 432.3L234.5 429.6M235.5 430.2L236.8 432.9M236.5 434.9L235.2 432.3M236.8 432.9L238.7 435.5M238.4 437.5L236.5 434.9M238.7 435.5L240.9 437.8M240.6 439.8L238.4 437.5M240.9 437.8L243.4 439.8M243.1 441.8L240.6 439.8M243.4 439.8L245.9 441.3M245.6 443.4L243.1 441.8M245.9 441.3L248.4 442.4M248.1 444.5L245.6 443.4M248.4 442.4L250.5 443M250.2 445L248.1 444.5M250.5 443L252.2 443.1M251.9 445.1L250.2 445M252.2 443.1L253.3 442.8M253 444.8L251.9 445.1M253.3 442.8L253.8 442.1M253.5 444.1L253 444.8M232.5 443.2L232.4 445.6M232.1 447.7L232.2 445.2M232.4 445.6L233 448.2M232.7 450.3L232.1 447.7M233 448.2L234.2 450.8M233.9 452.9L232.7 450.3M234.2 450.8L235.9 453.4M235.6 455.4L233.9 452.9M235.9 453.4L238 455.7M237.8 457.8L235.6 455.4M238 455.7L240.4 457.7M240.1 459.8L237.8 457.8M240.4 457.7L242.9 459.3M242.6 461.4L240.1 459.8M242.9 459.3L245.2 460.5M244.9 462.5L242.6 461.4M245.2 460.5L247.4 461.2M247.1 463.2L244.9 462.5M247.4 461.2L249.1 461.4M248.8 463.4L247.1 463.2M249.1 461.4L250.2 461.1M249.9 463.2L248.8 463.4M250.2 461.1L250.8 460.5M250.5 462.6L249.9 463.2M230.2 461.3L230.1 463.7M229.8 465.7L229.9 463.4M230.1 463.7L230.5 466.2M230.2 468.3L229.8 465.7M230.5 466.2L231.6 468.8M231.3 470.9L230.2 468.3M231.6 468.8L233.2 471.3M232.9 473.4L231.3 470.9M233.2 471.3L235.2 473.7M234.9 475.7L232.9 473.4M235.2 473.7L237.5 475.7M237.2 477.7L234.9 475.7M237.5 475.7L239.8 477.4M239.5 479.4L237.2 477.7M239.8 477.4L242.1 478.6M241.9 480.6L239.5 479.4M242.1 478.6L244.2 479.3M243.9 481.4L241.9 480.6M244.2 479.3L245.9 479.6M245.6 481.7L243.9 481.4M245.9 479.6L247.2 479.5M246.9 481.5L245.6 481.7M247.2 479.5L247.8 479M247.5 481L246.9 481.5M228 479.5L227.7 481.8M227.4 483.8L227.7 481.5M227.7 481.8L228.1 484.2M227.8 486.3L227.4 483.8M228.1 484.2L229 486.8M228.7 488.8L227.8 486.3M229 486.8L230.5 489.3M230.2 491.3L228.7 488.8M230.5 489.3L232.4 491.6M232.1 493.6L230.2 491.3M232.4 491.6L234.5 493.7M234.2 495.7L232.1 493.6M234.5 493.7L236.8 495.4M236.5 497.4L234.2 495.7M236.8 495.4L239.1 496.6M238.8 498.7L236.5 497.4M239.1 496.6L241.1 497.5M240.8 499.5L238.8 498.7M241.1 497.5L242.8 497.9M242.5 499.9L240.8 499.5M242.8 497.9L244.1 497.8M243.8 499.8L242.5 499.9M244.1 497.8L244.7 497.4M244.4 499.4L243.8 499.8M225.3 499.9L225.6 502.3M225.3 504.3L225 501.9M225.6 502.3L226.4 504.8M226.2 506.8L225.3 504.3M226.4 504.8L227.8 507.2M227.5 509.3L226.2 506.8M227.8 507.2L229.6 509.5M229.3 511.6L227.5 509.3M229.6 509.5L231.6 511.6M231.3 513.7L229.3 511.6M231.6 511.6L233.8 513.4M233.5 515.4L231.3 513.7M233.8 513.4L236 514.7M235.7 516.7L233.5 515.4M236 514.7L238 515.6M237.7 517.7L235.7 516.7" fill="none" stroke="#5a5a5a" stroke-width="1.1"/>
<path d="M244.5 350.1L244.2 352.7L243.9 354.7L244.2 352.1ZM244.2 352.7L244.6 355.5L244.3 357.6L243.9 354.7ZM244.6 355.5L245.8 358.4L245.5 360.4L244.3 357.6ZM245.8 358.4L247.6 361.2L247.3 363.3L245.5 360.4ZM247.6 361.2L250 363.8L249.7 365.8L247.3 363.3ZM250 363.8L252.7 366L252.4 368.1L249.7 365.8ZM252.7 366L255.5 367.8L255.2 369.9L252.4 368.1ZM255.5 367.8L258.4 369.1L258.1 371.2L255.2 369.9ZM258.4 369.1L260.9 369.9L260.6 372L258.1 371.2ZM260.9 369.9L263.1 370.1L262.8 372.2L260.6 372ZM263.1 370.1L264.7 369.8L264.4 371.9L262.8 372.2ZM264.7 369.8L265.6 369.1L265.3 371.2L264.4 371.9ZM265.6 369.1L265.8 368.1L265.5 370.1L265.3 371.2ZM241.8 370.7L242.1 373.5L241.9 375.5L241.5 372.8ZM242.1 373.5L243.2 376.3L242.9 378.4L241.9 375.5ZM243.2 376.3L244.9 379.1L244.6 381.2L242.9 378.4ZM244.9 379.1L247.1 381.7L246.8 383.8L244.6 381.2ZM247.1 381.7L249.7 384L249.4 386L246.8 383.8ZM249.7 384L252.5 385.8L252.2 387.9L249.4 386ZM252.5 385.8L255.2 387.2L254.9 389.3L252.2 387.9ZM255.2 387.2L257.8 388.1L257.5 390.1L254.9 389.3ZM257.8 388.1L260 388.4L259.7 390.4L257.5 390.1ZM260 388.4L261.6 388.2L261.3 390.2L259.7 390.4ZM261.6 388.2L262.6 387.6L262.3 389.6L261.3 390.2ZM262.6 387.6L262.8 386.6L262.5 388.6L262.3 389.6ZM239.5 388.8L239.7 391.5L239.4 393.6L239.2 390.9ZM239.7 391.5L240.6 394.3L240.3 396.3L239.4 393.6ZM240.6 394.3L242.2 397L241.9 399.1L240.3 396.3ZM242.2 397L244.3 399.6L244 401.7L241.9 399.1ZM244.3 399.6L246.7 401.9L246.4 404L244 401.7ZM246.7 401.9L249.4 403.8L249.1 405.9L246.4 404ZM249.4 403.8L252.1 405.3L251.8 407.3L249.1 405.9ZM252.1 405.3L254.6 406.2L254.3 408.2L251.8 407.3ZM254.6 406.2L256.8 406.6L256.5 408.6L254.3 408.2ZM256.8 406.6L258.5 406.5L258.2 408.5L256.5 408.6ZM258.5 406.5L259.5 406L259.2 408L258.2 408.5ZM259.5 406L259.8 405.1L259.5 407.1L259.2 408ZM237.2 406.9L237.3 409.5L237 411.6L236.9 409ZM237.3 409.5L238.1 412.2L237.8 414.3L237 411.6ZM238.1 412.2L239.5 415L239.2 417L237.8 414.3ZM239.5 415L241.5 417.5L241.2 419.6L239.2 417ZM241.5 417.5L243.8 419.8L243.5 421.9L241.2 419.6ZM243.8 419.8L246.4 421.8L246.1 423.8L243.5 421.9ZM246.4 421.8L249 423.3L248.7 425.3L246.1 423.8ZM249 423.3L251.5 424.3L251.2 426.3L248.7 425.3ZM251.5 424.3L253.6 424.8L253.3 426.8L251.2 426.3ZM253.6 424.8L255.3 424.8L255 426.9L253.3 426.8ZM255.3 424.8L256.4 424.4L256.1 426.4L255 426.9ZM256.4 424.4L256.8 423.6L256.5 425.6L256.1 426.4ZM234.8 425L234.8 427.6L234.5 429.6L234.5 427.1ZM234.8 427.6L235.5 430.2L235.2 432.3L234.5 429.6ZM235.5 430.2L236.8 432.9L236.5 434.9L235.2 432.3ZM236.8 432.9L238.7 435.5L238.4 437.5L236.5 434.9ZM238.7 435.5L240.9 437.8L240.6 439.8L238.4 437.5ZM240.9 437.8L243.4 439.8L243.1 441.8L240.6 439.8ZM243.4 439.8L245.9 441.3L245.6 443.4L243.1 441.8ZM245.9 441.3L248.4 442.4L248.1 444.5L245.6 443.4ZM248.4 442.4L250.5 443L250.2 445L248.1 444.5ZM250.5 443L252.2 443.1L251.9 445.1L250.2 445ZM252.2 443.1L253.3 442.8L253 444.8L251.9 445.1ZM253.3 442.8L253.8 442.1L253.5 444.1L253 444.8ZM232.5 443.2L232.4 445.6L232.1 447.7L232.2 445.2ZM232.4 445.6L233 448.2L232.7 450.3L232.1 447.7ZM233 448.2L234.2 450.8L233.9 452.9L232.7 450.3ZM234.2 450.8L235.9 453.4L235.6 455.4L233.9 452.9ZM235.9 453.4L238 455.7L237.8 457.8L235.6 455.4ZM238 455.7L240.4 457.7L240.1 459.8L237.8 457.8ZM240.4 457.7L242.9 459.3L242.6 461.4L240.1 459.8ZM242.9 459.3L245.2 460.5L244.9 462.5L242.6 461.4ZM245.2 460.5L247.4 461.2L247.1 463.2L244.9 462.5ZM247.4 461.2L249.1 461.4L248.8 463.4L247.1 463.2ZM249.1 461.4L250.2 461.1L249.9 463.2L248.8 463.4ZM250.2 461.1L250.8 460.5L250.5 462.6L249.9 463.2ZM230.2 461.3L230.1 463.7L229.8 465.7L229.9 463.4ZM230.1 463.7L230.5 466.2L230.2 468.3L229.8 465.7ZM230.5 466.2L231.6 468.8L231.3 470.9L230.2 468.3ZM231.6 468.8L233.2 471.3L232.9 473.4L231.3 470.9ZM233.2 471.3L235.2 473.7L234.9 475.7L232.9 473.4ZM235.2 473.7L237.5 475.7L237.2 477.7L234.9 475.7ZM237.5 475.7L239.8 477.4L239.5 479.4L237.2 477.7ZM239.8 477.4L242.1 478.6L241.9 480.6L239.5 479.4ZM242.1 478.6L244.2 479.3L243.9 481.4L241.9 480.6ZM244.2 479.3L245.9 479.6L245.6 481.7L243.9 481.4ZM245.9 479.6L247.2 479.5L246.9 481.5L245.6 481.7ZM247.2 479.5L247.8 479L247.5 481L246.9 481.5ZM228 479.5L227.7 481.8L227.4 483.8L227.7 481.5ZM227.7 481.8L228.1 484.2L227.8 486.3L227.4 483.8ZM228.1 484.2L229 486.8L228.7 488.8L227.8 486.3ZM229 486.8L230.5 489.3L230.2 491.3L228.7 488.8ZM230.5 489.3L232.4 491.6L232.1 493.6L230.2 491.3ZM232.4 491.6L234.5 493.7L234.2 495.7L232.1 493.6ZM234.5 493.7L236.8 495.4L236.5 497.4L234.2 495.7ZM236.8 495.4L239.1 496.6L238.8 498.7L236.5 497.4ZM239.1 496.6L241.1 497.5L240.8 499.5L238.8 498.7ZM241.1 497.5L242.8 497.9L242.5 499.9L240.8 499.5ZM242.8 497.9L244.1 497.8L243.8 499.8L242.5 499.9ZM244.1 497.8L244.7 497.4L244.4 499.4L243.8 499.8ZM225.3 499.9L225.6 502.3L225.3 504.3L225 501.9ZM225.6 502.3L226.4 504.8L226.2 506.8L225.3 504.3ZM226.4 504.8L227.8 507.2L227.5 509.3L226.2 506.8ZM227.8 507.2L229.6 509.5L229.3 511.6L227.5 509.3ZM229.6 509.5L231.6 511.6L231.3 513.7L229.3 511.6ZM231.6 511.6L233.8 513.4L233.5 515.4L231.3 513.7ZM233.8 513.4L236 514.7L235.7 516.7L233.5 515.4ZM236 514.7L238 515.6L237.7 517.7L235.7 516.7Z" fill="#8a8a8a" stroke="#8a8a8a" stroke-width="0.6"/>
<path d="M266 366.8L265.4 365.5M264.7 370.1L265.3 371.4M265.4 365.5L264.1 364.2M263.4 368.8L264.7 370.1M264.1 364.2L262.1 362.9M261.4 367.5L263.4 368.8M262.1 362.9L259.6 361.9M258.9 366.4L261.4 367.5M259.6 361.9L256.7 361.1M256 365.7L258.9 366.4M256.7 361.1L253.7 360.8M253 365.4L256 365.7M253.7 360.8L250.7 361M250 365.6L253 365.4M250.7 361L247.9 361.7M247.2 366.3L250 365.6M247.9 361.7L245.5 363M244.8 367.6L247.2 366.3M245.5 363L243.6 364.8M243 369.3L244.8 367.6M243.6 364.8L242.4 367M241.8 371.5L243 369.3M242.4 367L242 369.5M241.3 374L241.8 371.5M263 385.3L262.5 384.1M261.9 388.7L262.4 389.9M262.5 384.1L261.3 382.9M260.7 387.4L261.9 388.7M261.3 382.9L259.5 381.6M258.8 386.2L260.7 387.4M259.5 381.6L257.1 380.6M256.4 385.1L258.8 386.2M257.1 380.6L254.3 379.8M253.7 384.3L256.4 385.1M254.3 379.8L251.4 379.4M250.7 384L253.7 384.3M251.4 379.4L248.5 379.6M247.8 384.1L250.7 384M248.5 379.6L245.7 380.2M245 384.7L247.8 384.1M245.7 380.2L243.3 381.4M242.6 385.9L245 384.7M243.3 381.4L241.4 383M240.8 387.6L242.6 385.9M241.4 383L240.2 385.1M239.5 389.7L240.8 387.6M240.2 385.1L239.7 387.6M239 392.1L239.5 389.7M260 403.8L259.7 402.7M259 407.3L259.4 408.4M259.7 402.7L258.6 401.5M257.9 406L259 407.3M258.6 401.5L256.8 400.3M256.2 404.8L257.9 406M256.8 400.3L254.6 399.2M253.9 403.8L256.2 404.8M254.6 399.2L252 398.5M251.3 403L253.9 403.8M252 398.5L249.1 398.1M248.5 402.6L251.3 403M249.1 398.1L246.2 398.1M245.6 402.7L248.5 402.6M246.2 398.1L243.5 398.7M242.9 403.2L245.6 402.7M243.5 398.7L241.1 399.7M240.5 404.3L242.9 403.2M241.1 399.7L239.2 401.3M238.6 405.9L240.5 404.3M239.2 401.3L238 403.3M237.3 407.9L238.6 405.9M238 403.3L237.3 405.7M236.7 410.2L237.3 407.9M257 422.3L256.8 421.3M256.1 425.8L256.4 426.9M256.8 421.3L255.8 420.1M255.1 424.7L256.1 425.8M255.8 420.1L254.2 418.9M253.5 423.5L255.1 424.7M254.2 418.9L252.1 417.9M251.4 422.5L253.5 423.5M252.1 417.9L249.6 417.1M248.9 421.7L251.4 422.5M249.6 417.1L246.8 416.7M246.1 421.2L248.9 421.7M246.8 416.7L244 416.7M243.3 421.2L246.1 421.2M244 416.7L241.3 417.1M240.7 421.7L243.3 421.2M241.3 417.1L239 418.1M238.3 422.7L240.7 421.7M239 418.1L237.1 419.6M236.4 424.2L238.3 422.7M237.1 419.6L235.7 421.5M235.1 426.1L236.4 424.2M235.7 421.5L235 423.8M234.4 428.3L235.1 426.1M254 440.8L253.8 439.8M253.2 444.4L253.4 445.4M253.8 439.8L253 438.7M252.3 443.3L253.2 444.4M253 438.7L251.5 437.6M250.9 442.2L252.3 443.3M251.5 437.6L249.5 436.6M248.9 441.1L250.9 442.2M249.5 436.6L247.1 435.8M246.5 440.3L248.9 441.1M247.1 435.8L244.5 435.3M243.8 439.8L246.5 440.3M244.5 435.3L241.8 435.2M241.1 439.8L243.8 439.8M241.8 435.2L239.1 435.6M238.5 440.2L241.1 439.8M239.1 435.6L236.8 436.5M236.1 441.1L238.5 440.2M236.8 436.5L234.9 437.9M234.2 442.5L236.1 441.1M234.9 437.9L233.5 439.7M232.8 444.3L234.2 442.5M233.5 439.7L232.7 441.9M232.1 446.5L232.8 444.3M251 459.3L250.9 458.4M250.2 462.9L250.3 463.8M250.9 458.4L250.2 457.3M249.5 461.9L250.2 462.9M250.2 457.3L248.8 456.2M248.2 460.8L249.5 461.9M248.8 456.2L246.9 455.2M246.3 459.8L248.2 460.8M246.9 455.2L244.7 454.4M244 459L246.3 459.8M244.7 454.4L242.1 453.9M241.4 458.5L244 459M242.1 453.9L239.5 453.8M238.8 458.4L241.4 458.5M239.5 453.8L236.9 454.2M236.3 458.7L238.8 458.4M236.9 454.2L234.6 455M233.9 459.5L236.3 458.7M234.6 455L232.7 456.2M232 460.8L233.9 459.5M232.7 456.2L231.2 458M230.6 462.5L232 460.8M231.2 458L230.4 460.1M229.8 464.6L230.6 462.5M248 477.7L248 476.9M247.3 481.4L247.3 482.3M248 476.9L247.3 475.9M246.7 480.5L247.3 481.4M247.3 475.9L246.1 474.9M245.4 479.4L246.7 480.5M246.1 474.9L244.3 473.9M243.7 478.4L245.4 479.4M244.3 473.9L242.2 473.1M241.5 477.6L243.7 478.4M242.2 473.1L239.7 472.6M239.1 477.1L241.5 477.6M239.7 472.6L237.2 472.4M236.5 477L239.1 477.1M237.2 472.4L234.7 472.7M234 477.2L236.5 477M234.7 472.7L232.4 473.4M231.7 478L234 477.2M232.4 473.4L230.5 474.6M229.8 479.2L231.7 478M230.5 474.6L229 476.2M228.4 480.8L229.8 479.2M229 476.2L228.1 478.2M227.5 482.8L228.4 480.8M244.9 496.1L245 495.4M244.3 500L244.3 500.7M245 495.4L244.5 494.5M243.8 499L244.3 500M244.5 494.5L243.3 493.5M242.7 498L243.8 499M243.3 493.5L241.7 492.5M241 497.1L242.7 498M241.7 492.5L239.7 491.7M239 496.3L241 497.1M239.7 491.7L237.3 491.2M236.7 495.7L239 496.3M237.3 491.2L234.9 491M234.2 495.5L236.7 495.7M234.9 491L232.4 491.2M231.8 495.8L234.2 495.5M232.4 491.2L230.2 491.9M229.5 496.4L231.8 495.8M230.2 491.9L228.3 493M227.6 497.5L229.5 496.4M228.3 493L226.8 494.5M226.1 499.1L227.6 497.5M226.8 494.5L225.9 496.4M225.2 501L226.1 499.1M225.9 496.4L225.5 498.6M224.9 503.2L225.2 501" fill="none" stroke="#5a5a5a" stroke-width="1.1"/>
<path d="M266 366.8L265.4 365.5L264.7 370.1L265.3 371.4ZM265.4 365.5L264.1 364.2L263.4 368.8L264.7 370.1ZM264.1 364.2L262.1 362.9L261.4 367.5L263.4 368.8ZM262.1 362.9L259.6 361.9L258.9 366.4L261.4 367.5ZM259.6 361.9L256.7 361.1L256 365.7L258.9 366.4ZM256.7 361.1L253.7 360.8L253 365.4L256 365.7ZM253.7 360.8L250.7 361L250 365.6L253 365.4ZM250.7 361L247.9 361.7L247.2 366.3L250 365.6ZM247.9 361.7L245.5 363L244.8 367.6L247.2 366.3ZM245.5 363L243.6 364.8L243 369.3L244.8 367.6ZM243.6 364.8L242.4 367L241.8 371.5L243 369.3ZM242.4 367L242 369.5L241.3 374L241.8 371.5ZM263 385.3L262.5 384.1L261.9 388.7L262.4 389.9ZM262.5 384.1L261.3 382.9L260.7 387.4L261.9 388.7ZM261.3 382.9L259.5 381.6L258.8 386.2L260.7 387.4ZM259.5 381.6L257.1 380.6L256.4 385.1L258.8 386.2ZM257.1 380.6L254.3 379.8L253.7 384.3L256.4 385.1ZM254.3 379.8L251.4 379.4L250.7 384L253.7 384.3ZM251.4 379.4L248.5 379.6L247.8 384.1L250.7 384ZM248.5 379.6L245.7 380.2L245 384.7L247.8 384.1ZM245.7 380.2L243.3 381.4L242.6 385.9L245 384.7ZM243.3 381.4L241.4 383L240.8 387.6L242.6 385.9ZM241.4 383L240.2 385.1L239.5 389.7L240.8 387.6ZM240.2 385.1L239.7 387.6L239 392.1L239.5 389.7ZM260 403.8L259.7 402.7L259 407.3L259.4 408.4ZM259.7 402.7L258.6 401.5L257.9 406L259 407.3ZM258.6 401.5L256.8 400.3L256.2 404.8L257.9 406ZM256.8 400.3L254.6 399.2L253.9 403.8L256.2 404.8ZM254.6 399.2L252 398.5L251.3 403L253.9 403.8ZM252 398.5L249.1 398.1L248.5 402.6L251.3 403ZM249.1 398.1L246.2 398.1L245.6 402.7L248.5 402.6ZM246.2 398.1L243.5 398.7L242.9 403.2L245.6 402.7ZM243.5 398.7L241.1 399.7L240.5 404.3L242.9 403.2ZM241.1 399.7L239.2 401.3L238.6 405.9L240.5 404.3ZM239.2 401.3L238 403.3L237.3 407.9L238.6 405.9ZM238 403.3L237.3 405.7L236.7 410.2L237.3 407.9ZM257 422.3L256.8 421.3L256.1 425.8L256.4 426.9ZM256.8 421.3L255.8 420.1L255.1 424.7L256.1 425.8ZM255.8 420.1L254.2 418.9L253.5 423.5L255.1 424.7ZM254.2 418.9L252.1 417.9L251.4 422.5L253.5 423.5ZM252.1 417.9L249.6 417.1L248.9 421.7L251.4 422.5ZM249.6 417.1L246.8 416.7L246.1 421.2L248.9 421.7ZM246.8 416.7L244 416.7L243.3 421.2L246.1 421.2ZM244 416.7L241.3 417.1L240.7 421.7L243.3 421.2ZM241.3 417.1L239 418.1L238.3 422.7L240.7 421.7ZM239 418.1L237.1 419.6L236.4 424.2L238.3 422.7ZM237.1 419.6L235.7 421.5L235.1 426.1L236.4 424.2ZM235.7 421.5L235 423.8L234.4 428.3L235.1 426.1ZM254 440.8L253.8 439.8L253.2 444.4L253.4 445.4ZM253.8 439.8L253 438.7L252.3 443.3L253.2 444.4ZM253 438.7L251.5 437.6L250.9 442.2L252.3 443.3ZM251.5 437.6L249.5 436.6L248.9 441.1L250.9 442.2ZM249.5 436.6L247.1 435.8L246.5 440.3L248.9 441.1ZM247.1 435.8L244.5 435.3L243.8 439.8L246.5 440.3ZM244.5 435.3L241.8 435.2L241.1 439.8L243.8 439.8ZM241.8 435.2L239.1 435.6L238.5 440.2L241.1 439.8ZM239.1 435.6L236.8 436.5L236.1 441.1L238.5 440.2ZM236.8 436.5L234.9 437.9L234.2 442.5L236.1 441.1ZM234.9 437.9L233.5 439.7L232.8 444.3L234.2 442.5ZM233.5 439.7L232.7 441.9L232.1 446.5L232.8 444.3ZM251 459.3L250.9 458.4L250.2 462.9L250.3 463.8ZM250.9 458.4L250.2 457.3L249.5 461.9L250.2 462.9ZM250.2 457.3L248.8 456.2L248.2 460.8L249.5 461.9ZM248.8 456.2L246.9 455.2L246.3 459.8L248.2 460.8ZM246.9 455.2L244.7 454.4L244 459L246.3 459.8ZM244.7 454.4L242.1 453.9L241.4 458.5L244 459ZM242.1 453.9L239.5 453.8L238.8 458.4L241.4 458.5ZM239.5 453.8L236.9 454.2L236.3 458.7L238.8 458.4ZM236.9 454.2L234.6 455L233.9 459.5L236.3 458.7ZM234.6 455L232.7 456.2L232 460.8L233.9 459.5ZM232.7 456.2L231.2 458L230.6 462.5L232 460.8ZM231.2 458L230.4 460.1L229.8 464.6L230.6 462.5ZM248 477.7L248 476.9L247.3 481.4L247.3 482.3ZM248 476.9L247.3 475.9L246.7 480.5L247.3 481.4ZM247.3 475.9L246.1 474.9L245.4 479.4L246.7 480.5ZM246.1 474.9L244.3 473.9L243.7 478.4L245.4 479.4ZM244.3 473.9L242.2 473.1L241.5 477.6L243.7 478.4ZM242.2 473.1L239.7 472.6L239.1 477.1L241.5 477.6ZM239.7 472.6L237.2 472.4L236.5 477L239.1 477.1ZM237.2 472.4L234.7 472.7L234 477.2L236.5 477ZM234.7 472.7L232.4 473.4L231.7 478L234 477.2ZM232.4 473.4L230.5 474.6L229.8 479.2L231.7 478ZM230.5 474.6L229 476.2L228.4 480.8L229.8 479.2ZM229 476.2L228.1 478.2L227.5 482.8L228.4 480.8ZM244.9 496.1L245 495.4L244.3 500L244.3 500.7ZM245 495.4L244.5 494.5L243.8 499L244.3 500ZM244.5 494.5L243.3 493.5L242.7 498L243.8 499ZM243.3 493.5L241.7 492.5L241 497.1L242.7 498ZM241.7 492.5L239.7 491.7L239 496.3L241 497.1ZM239.7 491.7L237.3 491.2L236.7 495.7L239 496.3ZM237.3 491.2L234.9 491L234.2 495.5L236.7 495.7ZM234.9 491L232.4 491.2L231.8 495.8L234.2 495.5ZM232.4 491.2L230.2 491.9L229.5 496.4L231.8 495.8ZM230.2 491.9L228.3 493L227.6 497.5L229.5 496.4ZM228.3 493L226.8 494.5L226.1 499.1L227.6 497.5ZM226.8 494.5L225.9 496.4L225.2 501L226.1 499.1ZM225.9 496.4L225.5 498.6L224.9 503.2L225.2 501Z" fill="#b4b4b4" stroke="#b4b4b4" stroke-width="0.6"/>
<path d="M255.6 387.3L255.5 386.8M254.3 388.4L254.3 389M255.5 386.8L254.9 386M253.6 387.7L254.3 388.4M254.9 386L253.6 385.2M252.4 386.8L253.6 387.7M253.6 385.2L251.8 384.2M250.5 385.9L252.4 386.8M251.8 384.2L249.5 383.4M248.2 385.1L250.5 385.9M249.5 383.4L246.8 382.7M245.6 384.4L248.2 385.1M246.8 382.7L244 382.2M242.8 383.9L245.6 384.4M244 382.2L241.1 382.1M239.9 383.7L242.8 383.9M241.1 382.1L238.4 382.2M237.2 383.9L239.9 383.7M238.4 382.2L236 382.8M234.7 384.4L237.2 383.9M236 382.8L234 383.7M232.7 385.3L234.7 384.4M234 383.7L232.5 384.9M231.2 386.6L232.7 385.3M245.8 400.4L246 400M244.8 401.7L244.5 402.1M246 400L245.6 399.4M244.4 401L244.8 401.7M245.6 399.4L244.6 398.5M243.4 400.2L244.4 401M244.6 398.5L243 397.6M241.8 399.3L243.4 400.2M243 397.6L240.9 396.8M239.7 398.4L241.8 399.3M240.9 396.8L238.4 396M237.2 397.6L239.7 398.4M238.4 396L235.6 395.4M234.4 397.1L237.2 397.6M235.6 395.4L232.8 395.1M231.5 396.8L234.4 397.1M232.8 395.1L230 395.1M228.7 396.8L231.5 396.8M230 395.1L227.4 395.5M226.2 397.2L228.7 396.8M227.4 395.5L225.2 396.2M223.9 397.9L226.2 397.2M225.2 396.2L223.4 397.3M222.2 399L223.9 397.9M223.4 397.3L222.3 398.8M221 400.4L222.2 399M236.3 413.3L236.2 412.7M235 414.4L235.1 414.9M236.2 412.7L235.5 411.9M234.3 413.6L235 414.4M235.5 411.9L234.2 411M232.9 412.7L234.3 413.6M234.2 411L232.3 410.1M231 411.8L232.9 412.7M232.3 410.1L229.9 409.3M228.7 411L231 411.8M229.9 409.3L227.3 408.6M226 410.3L228.7 411M227.3 408.6L224.4 408.2M223.2 409.9L226 410.3M224.4 408.2L221.6 408.1M220.3 409.7L223.2 409.9M221.6 408.1L218.9 408.3M217.6 409.9L220.3 409.7M218.9 408.3L216.5 408.9M215.2 410.5L217.6 409.9M216.5 408.9L214.5 409.8M213.3 411.5L215.2 410.5M214.5 409.8L213.1 411.1M211.8 412.8L213.3 411.5M226.6 426.4L226.7 426M225.5 427.6L225.3 428.1M226.7 426L226.3 425.3M225.1 426.9L225.5 427.6M226.3 425.3L225.2 424.4M224 426.1L225.1 426.9M225.2 424.4L223.5 423.5M222.3 425.2L224 426.1M223.5 423.5L221.4 422.7M220.2 424.3L222.3 425.2M221.4 422.7L218.8 421.9M217.6 423.6L220.2 424.3M218.8 421.9L216.1 421.4M214.8 423L217.6 423.6M216.1 421.4L213.2 421.1M212 422.7L214.8 423M213.2 421.1L210.4 421.1M209.2 422.8L212 422.7M210.4 421.1L207.9 421.6M206.6 423.2L209.2 422.8" fill="none" stroke="#5a5a5a" stroke-width="1.1"/>
<path d="M255.6 387.3L255.5 386.8L254.3 388.4L254.3 389ZM255.5 386.8L254.9 386L253.6 387.7L254.3 388.4ZM254.9 386L253.6 385.2L252.4 386.8L253.6 387.7ZM253.6 385.2L251.8 384.2L250.5 385.9L252.4 386.8ZM251.8 384.2L249.5 383.4L248.2 385.1L250.5 385.9ZM249.5 383.4L246.8 382.7L245.6 384.4L248.2 385.1ZM246.8 382.7L244 382.2L242.8 383.9L245.6 384.4ZM244 382.2L241.1 382.1L239.9 383.7L242.8 383.9ZM241.1 382.1L238.4 382.2L237.2 383.9L239.9 383.7ZM238.4 382.2L236 382.8L234.7 384.4L237.2 383.9ZM236 382.8L234 383.7L232.7 385.3L234.7 384.4ZM234 383.7L232.5 384.9L231.2 386.6L232.7 385.3ZM245.8 400.4L246 400L244.8 401.7L244.5 402.1ZM246 400L245.6 399.4L244.4 401L244.8 401.7ZM245.6 399.4L244.6 398.5L243.4 400.2L244.4 401ZM244.6 398.5L243 397.6L241.8 399.3L243.4 400.2ZM243 397.6L240.9 396.8L239.7 398.4L241.8 399.3ZM240.9 396.8L238.4 396L237.2 397.6L239.7 398.4ZM238.4 396L235.6 395.4L234.4 397.1L237.2 397.6ZM235.6 395.4L232.8 395.1L231.5 396.8L234.4 397.1ZM232.8 395.1L230 395.1L228.7 396.8L231.5 396.8ZM230 395.1L227.4 395.5L226.2 397.2L228.7 396.8ZM227.4 395.5L225.2 396.2L223.9 397.9L226.2 397.2ZM225.2 396.2L223.4 397.3L222.2 399L223.9 397.9ZM223.4 397.3L222.3 398.8L221 400.4L222.2 399ZM236.3 413.3L236.2 412.7L235 414.4L235.1 414.9ZM236.2 412.7L235.5 411.9L234.3 413.6L235 414.4ZM235.5 411.9L234.2 411L232.9 412.7L234.3 413.6ZM234.2 411L232.3 410.1L231 411.8L232.9 412.7ZM232.3 410.1L229.9 409.3L228.7 411L231 411.8ZM229.9 409.3L227.3 408.6L226 410.3L228.7 411ZM227.3 408.6L224.4 408.2L223.2 409.9L226 410.3ZM224.4 408.2L221.6 408.1L220.3 409.7L223.2 409.9ZM221.6 408.1L218.9 408.3L217.6 409.9L220.3 409.7ZM218.9 408.3L216.5 408.9L215.2 410.5L217.6 409.9ZM216.5 408.9L214.5 409.8L213.3 411.5L215.2 410.5ZM214.5 409.8L213.1 411.1L211.8 412.8L213.3 411.5ZM226.6 426.4L226.7 426L225.5 427.6L225.3 428.1ZM226.7 426L226.3 425.3L225.1 426.9L225.5 427.6ZM226.3 425.3L225.2 424.4L224 426.1L225.1 426.9ZM225.2 424.4L223.5 423.5L222.3 425.2L224 426.1ZM223.5 423.5L221.4 422.7L220.2 424.3L222.3 425.2ZM221.4 422.7L218.8 421.9L217.6 423.6L220.2 424.3ZM218.8 421.9L216.1 421.4L214.8 423L217.6 423.6ZM216.1 421.4L213.2 421.1L212 422.7L214.8 423ZM213.2 421.1L210.4 421.1L209.2 422.8L212 422.7ZM210.4 421.1L207.9 421.6L206.6 423.2L209.2 422.8Z" fill="#8a8a8a" stroke="#8a8a8a" stroke-width="0.6"/>
<path d="M241.7 373.2L241.7 375M239 378.7L239 376.9M241.7 375L242.4 377M239.6 380.7L239 378.7M242.4 377L243.5 379M240.8 382.7L239.6 380.7M243.5 379L245.1 380.8M242.4 384.5L240.8 382.7M245.1 380.8L247 382.6M244.3 386.3L242.4 384.5M247 382.6L249.1 384M246.3 387.7L244.3 386.3M249.1 384L251.1 385.2M248.4 388.9L246.3 387.7M251.1 385.2L253 386M250.3 389.7L248.4 388.9M253 386L254.6 386.5M251.9 390.2L250.3 389.7M254.6 386.5L255.7 386.5M253 390.2L251.9 390.2M255.7 386.5L256.3 386.3M253.6 390L253 390.2M233.2 383.9L232.3 385.4M229.6 389.1L230.5 387.6M232.3 385.4L232 387.2M229.3 390.9L229.6 389.1M232 387.2L232.4 389.1M229.7 392.8L229.3 390.9M232.4 389.1L233.3 391.1M230.6 394.8L229.7 392.8M233.3 391.1L234.7 393M232 396.7L230.6 394.8M234.7 393L236.5 394.8M233.8 398.5L232 396.7M236.5 394.8L238.5 396.4M235.8 400.1L233.8 398.5M238.5 396.4L240.6 397.7M237.9 401.4L235.8 400.1M240.6 397.7L242.6 398.7M239.9 402.4L237.9 401.4M242.6 398.7L244.3 399.3M241.6 403L239.9 402.4M244.3 399.3L245.7 399.5M242.9 403.2L241.6 403M245.7 399.5L246.5 399.4M243.8 403.1L242.9 403.2M223 397.7L222.5 399.4M219.7 403.1L220.3 401.4M222.5 399.4L222.5 401.3M219.8 405L219.7 403.1M222.5 401.3L223.2 403.2M220.5 406.9L219.8 405M223.2 403.2L224.4 405.2M221.7 408.9L220.5 406.9M224.4 405.2L226.1 407.1M223.3 410.8L221.7 408.9M226.1 407.1L228 408.8M225.3 412.4L223.3 410.8M228 408.8L230.1 410.2M227.3 413.9L225.3 412.4M230.1 410.2L232.1 411.3M229.4 415L227.3 413.9M232.1 411.3L234 412.1M231.3 415.8L229.4 415M234 412.1L235.5 412.5M232.8 416.2L231.3 415.8M235.5 412.5L236.6 412.5M233.8 416.2L232.8 416.2M236.6 412.5L237.1 412.2M234.4 415.9L233.8 416.2M213.8 410.1L213 411.6M210.3 415.3L211.1 413.8M213 411.6L212.8 413.4M210.1 417.1L210.3 415.3M212.8 413.4L213.2 415.4M210.5 419.1L210.1 417.1M213.2 415.4L214.2 417.3M211.5 421L210.5 419.1M214.2 417.3L215.7 419.3M213 423L211.5 421M215.7 419.3L217.5 421M214.8 424.7L213 423M217.5 421L219.5 422.6M216.8 426.3L214.8 424.7M219.5 422.6L221.6 423.9M218.9 427.6L216.8 426.3M221.6 423.9L223.6 424.8M220.8 428.5L218.9 427.6M223.6 424.8L225.3 425.4M222.5 429L220.8 428.5M225.3 425.4L226.6 425.5M223.8 429.2L222.5 429M226.6 425.5L227.3 425.4M224.6 429.1L223.8 429.2" fill="none" stroke="#5a5a5a" stroke-width="1.1"/>
<path d="M241.7 373.2L241.7 375L239 378.7L239 376.9ZM241.7 375L242.4 377L239.6 380.7L239 378.7ZM242.4 377L243.5 379L240.8 382.7L239.6 380.7ZM243.5 379L245.1 380.8L242.4 384.5L240.8 382.7ZM245.1 380.8L247 382.6L244.3 386.3L242.4 384.5ZM247 382.6L249.1 384L246.3 387.7L244.3 386.3ZM249.1 384L251.1 385.2L248.4 388.9L246.3 387.7ZM251.1 385.2L253 386L250.3 389.7L248.4 388.9ZM253 386L254.6 386.5L251.9 390.2L250.3 389.7ZM254.6 386.5L255.7 386.5L253 390.2L251.9 390.2ZM255.7 386.5L256.3 386.3L253.6 390L253 390.2ZM233.2 383.9L232.3 385.4L229.6 389.1L230.5 387.6ZM232.3 385.4L232 387.2L229.3 390.9L229.6 389.1ZM232 387.2L232.4 389.1L229.7 392.8L229.3 390.9ZM232.4 389.1L233.3 391.1L230.6 394.8L229.7 392.8ZM233.3 391.1L234.7 393L232 396.7L230.6 394.8ZM234.7 393L236.5 394.8L233.8 398.5L232 396.7ZM236.5 394.8L238.5 396.4L235.8 400.1L233.8 398.5ZM238.5 396.4L240.6 397.7L237.9 401.4L235.8 400.1ZM240.6 397.7L242.6 398.7L239.9 402.4L237.9 401.4ZM242.6 398.7L244.3 399.3L241.6 403L239.9 402.4ZM244.3 399.3L245.7 399.5L242.9 403.2L241.6 403ZM245.7 399.5L246.5 399.4L243.8 403.1L242.9 403.2ZM223 397.7L222.5 399.4L219.7 403.1L220.3 401.4ZM222.5 399.4L222.5 401.3L219.8 405L219.7 403.1ZM222.5 401.3L223.2 403.2L220.5 406.9L219.8 405ZM223.2 403.2L224.4 405.2L221.7 408.9L220.5 406.9ZM224.4 405.2L226.1 407.1L223.3 410.8L221.7 408.9ZM226.1 407.1L228 408.8L225.3 412.4L223.3 410.8ZM228 408.8L230.1 410.2L227.3 413.9L225.3 412.4ZM230.1 410.2L232.1 411.3L229.4 415L227.3 413.9ZM232.1 411.3L234 412.1L231.3 415.8L229.4 415ZM234 412.1L235.5 412.5L232.8 416.2L231.3 415.8ZM235.5 412.5L236.6 412.5L233.8 416.2L232.8 416.2ZM236.6 412.5L237.1 412.2L234.4 415.9L233.8 416.2ZM213.8 410.1L213 411.6L210.3 415.3L211.1 413.8ZM213 411.6L212.8 413.4L210.1 417.1L210.3 415.3ZM212.8 413.4L213.2 415.4L210.5 419.1L210.1 417.1ZM213.2 415.4L214.2 417.3L211.5 421L210.5 419.1ZM214.2 417.3L215.7 419.3L213 423L211.5 421ZM215.7 419.3L217.5 421L214.8 424.7L213 423ZM217.5 421L219.5 422.6L216.8 426.3L214.8 424.7ZM219.5 422.6L221.6 423.9L218.9 427.6L216.8 426.3ZM221.6 423.9L223.6 424.8L220.8 428.5L218.9 427.6ZM223.6 424.8L225.3 425.4L222.5 429L220.8 428.5ZM225.3 425.4L226.6 425.5L223.8 429.2L222.5 429ZM226.6 425.5L227.3 425.4L224.6 429.1L223.8 429.2Z" fill="#b4b4b4" stroke="#b4b4b4" stroke-width="0.6"/>
<path d="M214.2 372.9L214 375.1M213.5 377.1L213.7 374.9M214 375.1L214.4 377.5M213.9 379.5L213.5 377.1M214.4 377.5L215.3 379.9M214.8 382L213.9 379.5M215.3 379.9L216.7 382.3M216.2 384.4L214.8 382M216.7 382.3L218.5 384.6M218 386.6L216.2 384.4M218.5 384.6L220.5 386.5M220 388.5L218 386.6M220.5 386.5L222.6 388.1M222.1 390.1L220 388.5M222.6 388.1L224.6 389.3M224.2 391.3L222.1 390.1M224.6 389.3L226.4 390M226 392L224.2 391.3M226.4 390L227.9 390.3M227.5 392.3L226 392M227.9 390.3L229 390.1M228.6 392.1L227.5 392.3M229 390.1L229.5 389.6M229.1 391.6L228.6 392.1M210.6 389.1L210.3 391.3M209.8 393.3L210.1 391.1M210.3 391.3L210.6 393.6M210.1 395.7L209.8 393.3M210.6 393.6L211.4 396.1M211 398.1L210.1 395.7M211.4 396.1L212.7 398.5M212.3 400.5L211 398.1M212.7 398.5L214.5 400.8M214 402.8L212.3 400.5M214.5 400.8L216.4 402.8M216 404.8L214 402.8M216.4 402.8L218.5 404.5M218.1 406.5L216 404.8M218.5 404.5L220.6 405.7M220.1 407.7L218.1 406.5M220.6 405.7L222.5 406.5M222 408.5L220.1 407.7M222.5 406.5L224 406.9M223.6 408.9L222 408.5M224 406.9L225.2 406.8M224.7 408.8L223.6 408.9M225.2 406.8L225.8 406.3M225.3 408.3L224.7 408.8M207 405.3L206.6 407.5M206.2 409.5L206.6 407.4M206.6 407.5L206.8 409.8M206.4 411.8L206.2 409.5M206.8 409.8L207.6 412.3M207.1 414.3L206.4 411.8M207.6 412.3L208.8 414.7M208.4 416.7L207.1 414.3M208.8 414.7L210.5 417M210 419L208.4 416.7M210.5 417L212.4 419.1M211.9 421.1L210 419M212.4 419.1L214.5 420.8M214 422.8L211.9 421.1M214.5 420.8L216.6 422.1M216.1 424.2L214 422.8M216.6 422.1L218.5 423M218 425L216.1 424.2M218.5 423L220.1 423.4M219.7 425.5L218 425M220.1 423.4L221.3 423.4M220.9 425.4L219.7 425.5M221.3 423.4L222.1 423M221.6 425L220.9 425.4M203 423.7L203.1 426M202.6 428L202.6 425.7M203.1 426L203.7 428.4M203.3 430.4L202.6 428M203.7 428.4L204.9 430.9M204.4 432.9L203.3 430.4M204.9 430.9L206.5 433.2M206 435.2L204.4 432.9M206.5 433.2L208.4 435.3M207.9 437.3L206 435.2M208.4 435.3L210.4 437.1M210 439.1L207.9 437.3M210.4 437.1L212.5 438.5M212.1 440.5L210 439.1M212.5 438.5L214.5 439.5M214 441.5L212.1 440.5M214.5 439.5L216.2 440M215.7 442L214 441.5M216.2 440L217.5 440.1M217 442.1L215.7 442M217.5 440.1L218.3 439.7M217.9 441.7L217 442.1M218.3 439.7L218.6 439M218.1 441.1L217.9 441.7M199.4 439.9L199.3 442.2M198.9 444.2L198.9 441.9M199.3 442.2L199.9 444.6M199.4 446.6L198.9 444.2M199.9 444.6L201 447M200.5 449.1L199.4 446.6M201 447L202.5 449.4M202 451.4L200.5 449.1M202.5 449.4L204.3 451.6M203.9 453.6L202 451.4M204.3 451.6L206.4 453.4M205.9 455.4L203.9 453.6M206.4 453.4L208.5 454.9M208 456.9L205.9 455.4M208.5 454.9L210.5 456M210 458L208 456.9M210.5 456L212.2 456.5M211.8 458.6L210 458M212.2 456.5L213.6 456.7M213.2 458.7L211.8 458.6M213.6 456.7L214.5 456.4M214.1 458.4L213.2 458.7M214.5 456.4L214.9 455.8M214.4 457.8L214.1 458.4M195.8 456.1L195.6 458.3M195.2 460.4L195.3 458.1M195.6 458.3L196.1 460.7M195.6 462.8L195.2 460.4M196.1 460.7L197.1 463.2M196.6 465.2L195.6 462.8M197.1 463.2L198.5 465.6M198.1 467.6L196.6 465.2M198.5 465.6L200.3 467.8M199.9 469.8L198.1 467.6M200.3 467.8L202.3 469.7M201.9 471.7L199.9 469.8M202.3 469.7L204.5 471.3M204 473.3L201.9 471.7M204.5 471.3L206.5 472.4M206 474.4L204 473.3M206.5 472.4L208.3 473.1M207.8 475.1L206 474.4M208.3 473.1L209.7 473.3M209.3 475.3L207.8 475.1M209.7 473.3L210.7 473.1M210.3 475.1L209.3 475.3M210.7 473.1L211.2 472.5M210.7 474.5L210.3 475.1M192.2 472.3L192 474.5M191.5 476.5L191.7 474.4M192 474.5L192.3 476.9M191.9 478.9L191.5 476.5M192.3 476.9L193.2 479.4M192.7 481.4L191.9 478.9M193.2 479.4L194.6 481.8M194.1 483.8L192.7 481.4M194.6 481.8L196.3 484M195.9 486L194.1 483.8M196.3 484L198.3 486M197.9 488L195.9 486M198.3 486L200.4 487.6M200 489.6L197.9 488M200.4 487.6L202.5 488.8M202 490.9L200 489.6M202.5 488.8L204.3 489.6M203.9 491.6L202 490.9M204.3 489.6L205.8 489.9M205.4 491.9L203.9 491.6M205.8 489.9L206.9 489.7M206.5 491.8L205.4 491.9M206.9 489.7L207.5 489.2M207 491.3L206.5 491.8M188.6 488.6L188.3 490.7M187.8 492.7L188.2 490.6M188.3 490.7L188.5 493.1M188.1 495.1L187.8 492.7M188.5 493.1L189.3 495.5M188.9 497.6L188.1 495.1M189.3 495.5L190.6 498M190.2 500L188.9 497.6M190.6 498L192.3 500.2M191.9 502.3L190.2 500M192.3 500.2L194.3 502.3M193.8 504.3L191.9 502.3M194.3 502.3L196.4 504M195.9 506L193.8 504.3M196.4 504L198.4 505.2M198 507.3L195.9 506M198.4 505.2L200.3 506.1M199.9 508.1L198 507.3M200.3 506.1L201.9 506.5M201.5 508.5L199.9 508.1M201.9 506.5L203.1 506.4M202.7 508.4L201.5 508.5M203.1 506.4L203.8 506M203.3 508L202.7 508.4M185.1 504.8L184.6 506.9M184.2 508.9L184.6 506.8M184.6 506.9L184.8 509.2M184.3 511.3L184.2 508.9M184.8 509.2L185.5 511.7M185 513.7L184.3 511.3M185.5 511.7L186.7 514.1M186.2 516.2L185 513.7M186.7 514.1L188.3 516.4M187.9 518.5L186.2 516.2" fill="none" stroke="#5a5a5a" stroke-width="1.1"/>
<path d="M214.2 372.9L214 375.1L213.5 377.1L213.7 374.9ZM214 375.1L214.4 377.5L213.9 379.5L213.5 377.1ZM214.4 377.5L215.3 379.9L214.8 382L213.9 379.5ZM215.3 379.9L216.7 382.3L216.2 384.4L214.8 382ZM216.7 382.3L218.5 384.6L218 386.6L216.2 384.4ZM218.5 384.6L220.5 386.5L220 388.5L218 386.6ZM220.5 386.5L222.6 388.1L222.1 390.1L220 388.5ZM222.6 388.1L224.6 389.3L224.2 391.3L222.1 390.1ZM224.6 389.3L226.4 390L226 392L224.2 391.3ZM226.4 390L227.9 390.3L227.5 392.3L226 392ZM227.9 390.3L229 390.1L228.6 392.1L227.5 392.3ZM229 390.1L229.5 389.6L229.1 391.6L228.6 392.1ZM210.6 389.1L210.3 391.3L209.8 393.3L210.1 391.1ZM210.3 391.3L210.6 393.6L210.1 395.7L209.8 393.3ZM210.6 393.6L211.4 396.1L211 398.1L210.1 395.7ZM211.4 396.1L212.7 398.5L212.3 400.5L211 398.1ZM212.7 398.5L214.5 400.8L214 402.8L212.3 400.5ZM214.5 400.8L216.4 402.8L216 404.8L214 402.8ZM216.4 402.8L218.5 404.5L218.1 406.5L216 404.8ZM218.5 404.5L220.6 405.7L220.1 407.7L218.1 406.5ZM220.6 405.7L222.5 406.5L222 408.5L220.1 407.7ZM222.5 406.5L224 406.9L223.6 408.9L222 408.5ZM224 406.9L225.2 406.8L224.7 408.8L223.6 408.9ZM225.2 406.8L225.8 406.3L225.3 408.3L224.7 408.8ZM207 405.3L206.6 407.5L206.2 409.5L206.6 407.4ZM206.6 407.5L206.8 409.8L206.4 411.8L206.2 409.5ZM206.8 409.8L207.6 412.3L207.1 414.3L206.4 411.8ZM207.6 412.3L208.8 414.7L208.4 416.7L207.1 414.3ZM208.8 414.7L210.5 417L210 419L208.4 416.7ZM210.5 417L212.4 419.1L211.9 421.1L210 419ZM212.4 419.1L214.5 420.8L214 422.8L211.9 421.1ZM214.5 420.8L216.6 422.1L216.1 424.2L214 422.8ZM216.6 422.1L218.5 423L218 425L216.1 424.2ZM218.5 423L220.1 423.4L219.7 425.5L218 425ZM220.1 423.4L221.3 423.4L220.9 425.4L219.7 425.5ZM221.3 423.4L222.1 423L221.6 425L220.9 425.4ZM203 423.7L203.1 426L202.6 428L202.6 425.7ZM203.1 426L203.7 428.4L203.3 430.4L202.6 428ZM203.7 428.4L204.9 430.9L204.4 432.9L203.3 430.4ZM204.9 430.9L206.5 433.2L206 435.2L204.4 432.9ZM206.5 433.2L208.4 435.3L207.9 437.3L206 435.2ZM208.4 435.3L210.4 437.1L210 439.1L207.9 437.3ZM210.4 437.1L212.5 438.5L212.1 440.5L210 439.1ZM212.5 438.5L214.5 439.5L214 441.5L212.1 440.5ZM214.5 439.5L216.2 440L215.7 442L214 441.5ZM216.2 440L217.5 440.1L217 442.1L215.7 442ZM217.5 440.1L218.3 439.7L217.9 441.7L217 442.1ZM218.3 439.7L218.6 439L218.1 441.1L217.9 441.7ZM199.4 439.9L199.3 442.2L198.9 444.2L198.9 441.9ZM199.3 442.2L199.9 444.6L199.4 446.6L198.9 444.2ZM199.9 444.6L201 447L200.5 449.1L199.4 446.6ZM201 447L202.5 449.4L202 451.4L200.5 449.1ZM202.5 449.4L204.3 451.6L203.9 453.6L202 451.4ZM204.3 451.6L206.4 453.4L205.9 455.4L203.9 453.6ZM206.4 453.4L208.5 454.9L208 456.9L205.9 455.4ZM208.5 454.9L210.5 456L210 458L208 456.9ZM210.5 456L212.2 456.5L211.8 458.6L210 458ZM212.2 456.5L213.6 456.7L213.2 458.7L211.8 458.6ZM213.6 456.7L214.5 456.4L214.1 458.4L213.2 458.7ZM214.5 456.4L214.9 455.8L214.4 457.8L214.1 458.4ZM195.8 456.1L195.6 458.3L195.2 460.4L195.3 458.1ZM195.6 458.3L196.1 460.7L195.6 462.8L195.2 460.4ZM196.1 460.7L197.1 463.2L196.6 465.2L195.6 462.8ZM197.1 463.2L198.5 465.6L198.1 467.6L196.6 465.2ZM198.5 465.6L200.3 467.8L199.9 469.8L198.1 467.6ZM200.3 467.8L202.3 469.7L201.9 471.7L199.9 469.8ZM202.3 469.7L204.5 471.3L204 473.3L201.9 471.7ZM204.5 471.3L206.5 472.4L206 474.4L204 473.3ZM206.5 472.4L208.3 473.1L207.8 475.1L206 474.4ZM208.3 473.1L209.7 473.3L209.3 475.3L207.8 475.1ZM209.7 473.3L210.7 473.1L210.3 475.1L209.3 475.3ZM210.7 473.1L211.2 472.5L210.7 474.5L210.3 475.1ZM192.2 472.3L192 474.5L191.5 476.5L191.7 474.4ZM192 474.5L192.3 476.9L191.9 478.9L191.5 476.5ZM192.3 476.9L193.2 479.4L192.7 481.4L191.9 478.9ZM193.2 479.4L194.6 481.8L194.1 483.8L192.7 481.4ZM194.6 481.8L196.3 484L195.9 486L194.1 483.8ZM196.3 484L198.3 486L197.9 488L195.9 486ZM198.3 486L200.4 487.6L200 489.6L197.9 488ZM200.4 487.6L202.5 488.8L202 490.9L200 489.6ZM202.5 488.8L204.3 489.6L203.9 491.6L202 490.9ZM204.3 489.6L205.8 489.9L205.4 491.9L203.9 491.6ZM205.8 489.9L206.9 489.7L206.5 491.8L205.4 491.9ZM206.9 489.7L207.5 489.2L207 491.3L206.5 491.8ZM188.6 488.6L188.3 490.7L187.8 492.7L188.2 490.6ZM188.3 490.7L188.5 493.1L188.1 495.1L187.8 492.7ZM188.5 493.1L189.3 495.5L188.9 497.6L188.1 495.1ZM189.3 495.5L190.6 498L190.2 500L188.9 497.6ZM190.6 498L192.3 500.2L191.9 502.3L190.2 500ZM192.3 500.2L194.3 502.3L193.8 504.3L191.9 502.3ZM194.3 502.3L196.4 504L195.9 506L193.8 504.3ZM196.4 504L198.4 505.2L198 507.3L195.9 506ZM198.4 505.2L200.3 506.1L199.9 508.1L198 507.3ZM200.3 506.1L201.9 506.5L201.5 508.5L199.9 508.1ZM201.9 506.5L203.1 506.4L202.7 508.4L201.5 508.5ZM203.1 506.4L203.8 506L203.3 508L202.7 508.4ZM185.1 504.8L184.6 506.9L184.2 508.9L184.6 506.8ZM184.6 506.9L184.8 509.2L184.3 511.3L184.2 508.9ZM184.8 509.2L185.5 511.7L185 513.7L184.3 511.3ZM185.5 511.7L186.7 514.1L186.2 516.2L185 513.7ZM186.7 514.1L188.3 516.4L187.9 518.5L186.2 516.2Z" fill="#8a8a8a" stroke="#8a8a8a" stroke-width="0.6"/>
<path d="M218.3 367L216.5 368.1M215.5 372.6L217.3 371.5M216.5 368.1L215.2 369.7M214.2 374.2L215.5 372.6M215.2 369.7L214.4 371.6M213.4 376.1L214.2 374.2M229.8 388.4L229.7 387.5M228.7 392L228.8 392.8M229.7 387.5L229.1 386.5M228.1 391L228.7 392M229.1 386.5L227.9 385.4M226.9 389.9L228.1 391M227.9 385.4L226.2 384.4M225.2 388.9L226.9 389.9M226.2 384.4L224.2 383.5M223.2 388L225.2 388.9M224.2 383.5L221.9 382.9M220.9 387.4L223.2 388M221.9 382.9L219.5 382.7M218.5 387.1L220.9 387.4M219.5 382.7L217.1 382.8M216.1 387.3L218.5 387.1M217.1 382.8L215 383.4M214 387.9L216.1 387.3M215 383.4L213.1 384.5M212.1 389L214 387.9M213.1 384.5L211.7 386M210.7 390.5L212.1 389M211.7 386L210.9 387.9M209.9 392.4L210.7 390.5M226.1 405.1L226.1 404.3M225.1 408.8L225.1 409.6M226.1 404.3L225.6 403.3M224.6 407.8L225.1 408.8M225.6 403.3L224.5 402.2M223.5 406.7L224.6 407.8M224.5 402.2L222.9 401.2M221.9 405.7L223.5 406.7M222.9 401.2L220.9 400.3M219.9 404.8L221.9 405.7M220.9 400.3L218.7 399.6M217.7 404.1L219.9 404.8M218.7 399.6L216.3 399.3M215.3 403.8L217.7 404.1M216.3 399.3L213.9 399.4M212.9 403.8L215.3 403.8M213.9 399.4L211.7 399.9M210.7 404.4L212.9 403.8M211.7 399.9L209.8 400.9M208.8 405.4L210.7 404.4M209.8 400.9L208.3 402.3M207.3 406.8L208.8 405.4M208.3 402.3L207.3 404.1M206.3 408.6L207.3 406.8M222.3 421.8L222.5 421.1M221.5 425.5L221.3 426.3M222.5 421.1L222 420.1M221.1 424.6L221.5 425.5M222 420.1L221.1 419M220.1 423.5L221.1 424.6M221.1 419L219.5 418M218.6 422.4L220.1 423.5M219.5 418L217.6 417M216.6 421.5L218.6 422.4M217.6 417L215.4 416.3M214.4 420.8L216.6 421.5M215.4 416.3L213 415.9M212 420.4L214.4 420.8M213 415.9L210.6 415.9M209.6 420.4L212 420.4M210.6 415.9L208.4 416.4M207.4 420.8L209.6 420.4M208.4 416.4L206.4 417.3M205.4 421.8L207.4 420.8M206.4 417.3L204.8 418.6M203.9 423.1L205.4 421.8M204.8 418.6L203.8 420.4M202.8 424.9L203.9 423.1M203.8 420.4L203.3 422.4M202.3 426.9L202.8 424.9M218.8 437.8L218.5 436.9M217.5 441.4L217.8 442.3M218.5 436.9L217.6 435.8M216.6 440.3L217.5 441.4M217.6 435.8L216.2 434.7M215.2 439.2L216.6 440.3M216.2 434.7L214.3 433.8M213.3 438.3L215.2 439.2M214.3 433.8L212.1 433M211.2 437.5L213.3 438.3M212.1 433L209.8 432.5M208.8 437L211.2 437.5M209.8 432.5L207.4 432.5M206.4 437L208.8 437M207.4 432.5L205.1 432.8M204.1 437.3L206.4 437M205.1 432.8L203.1 433.7M202.1 438.2L204.1 437.3M203.1 433.7L201.4 434.9M200.4 439.4L202.1 438.2M201.4 434.9L200.3 436.6M199.3 441.1L200.4 439.4M200.3 436.6L199.6 438.6M198.7 443.1L199.3 441.1M211.5 471.3L211.3 470.4M210.4 474.9L210.5 475.8M211.3 470.4L210.6 469.4M209.7 473.9L210.4 474.9M210.6 469.4L209.4 468.3M208.4 472.8L209.7 473.9M193.3 469.2L192.5 471.1M191.5 475.6L192.3 473.7M207.8 488L207.7 487.2M206.7 491.7L206.8 492.5M207.7 487.2L207.1 486.2M206.2 490.7L206.7 491.7M207.1 486.2L206 485.1M205 489.6L206.2 490.7M206 485.1L204.4 484.1M203.4 488.6L205 489.6M204.4 484.1L202.3 483.2M201.3 487.7L203.4 488.6M202.3 483.2L200.1 482.5M199.1 487L201.3 487.7M200.1 482.5L197.7 482.3M196.7 486.8L199.1 487M197.7 482.3L195.3 482.4M194.3 486.9L196.7 486.8M195.3 482.4L193.1 483M192.1 487.5L194.3 486.9M193.1 483L191.2 484M190.2 488.5L192.1 487.5M191.2 484L189.8 485.5M188.8 490L190.2 488.5M189.8 485.5L188.9 487.3M187.9 491.8L188.8 490M204 504.7L204.1 504M203.1 508.4L203 509.2M204.1 504L203.6 503M202.6 507.5L203.1 508.4M203.6 503L202.6 501.9M201.6 506.4L202.6 507.5M202.6 501.9L201 500.8M200 505.3L201.6 506.4M201 500.8L199 499.9M198.1 504.4L200 505.3M199 499.9L196.8 499.2M195.8 503.7L198.1 504.4M196.8 499.2L194.4 498.9M193.4 503.4L195.8 503.7M194.4 498.9L192 498.9M191 503.4L193.4 503.4M192 498.9L189.8 499.4M188.8 503.9L191 503.4M189.8 499.4L187.9 500.4M186.9 504.9L188.8 503.9M187.9 500.4L186.4 501.8M185.4 506.3L186.9 504.9M186.4 501.8L185.3 503.6M184.4 508.1L185.4 506.3" fill="none" stroke="#5a5a5a" stroke-width="1.1"/>
<path d="M218.3 367L216.5 368.1L215.5 372.6L217.3 371.5ZM216.5 368.1L215.2 369.7L214.2 374.2L215.5 372.6ZM215.2 369.7L214.4 371.6L213.4 376.1L214.2 374.2ZM229.8 388.4L229.7 387.5L228.7 392L228.8 392.8ZM229.7 387.5L229.1 386.5L228.1 391L228.7 392ZM229.1 386.5L227.9 385.4L226.9 389.9L228.1 391ZM227.9 385.4L226.2 384.4L225.2 388.9L226.9 389.9ZM226.2 384.4L224.2 383.5L223.2 388L225.2 388.9ZM224.2 383.5L221.9 382.9L220.9 387.4L223.2 388ZM221.9 382.9L219.5 382.7L218.5 387.1L220.9 387.4ZM219.5 382.7L217.1 382.8L216.1 387.3L218.5 387.1ZM217.1 382.8L215 383.4L214 387.9L216.1 387.3ZM215 383.4L213.1 384.5L212.1 389L214 387.9ZM213.1 384.5L211.7 386L210.7 390.5L212.1 389ZM211.7 386L210.9 387.9L209.9 392.4L210.7 390.5ZM226.1 405.1L226.1 404.3L225.1 408.8L225.1 409.6ZM226.1 404.3L225.6 403.3L224.6 407.8L225.1 408.8ZM225.6 403.3L224.5 402.2L223.5 406.7L224.6 407.8ZM224.5 402.2L222.9 401.2L221.9 405.7L223.5 406.7ZM222.9 401.2L220.9 400.3L219.9 404.8L221.9 405.7ZM220.9 400.3L218.7 399.6L217.7 404.1L219.9 404.8ZM218.7 399.6L216.3 399.3L215.3 403.8L217.7 404.1ZM216.3 399.3L213.9 399.4L212.9 403.8L215.3 403.8ZM213.9 399.4L211.7 399.9L210.7 404.4L212.9 403.8ZM211.7 399.9L209.8 400.9L208.8 405.4L210.7 404.4ZM209.8 400.9L208.3 402.3L207.3 406.8L208.8 405.4ZM208.3 402.3L207.3 404.1L206.3 408.6L207.3 406.8ZM222.3 421.8L222.5 421.1L221.5 425.5L221.3 426.3ZM222.5 421.1L222 420.1L221.1 424.6L221.5 425.5ZM222 420.1L221.1 419L220.1 423.5L221.1 424.6ZM221.1 419L219.5 418L218.6 422.4L220.1 423.5ZM219.5 418L217.6 417L216.6 421.5L218.6 422.4ZM217.6 417L215.4 416.3L214.4 420.8L216.6 421.5ZM215.4 416.3L213 415.9L212 420.4L214.4 420.8ZM213 415.9L210.6 415.9L209.6 420.4L212 420.4ZM210.6 415.9L208.4 416.4L207.4 420.8L209.6 420.4ZM208.4 416.4L206.4 417.3L205.4 421.8L207.4 420.8ZM206.4 417.3L204.8 418.6L203.9 423.1L205.4 421.8ZM204.8 418.6L203.8 420.4L202.8 424.9L203.9 423.1ZM203.8 420.4L203.3 422.4L202.3 426.9L202.8 424.9ZM218.8 437.8L218.5 436.9L217.5 441.4L217.8 442.3ZM218.5 436.9L217.6 435.8L216.6 440.3L217.5 441.4ZM217.6 435.8L216.2 434.7L215.2 439.2L216.6 440.3ZM216.2 434.7L214.3 433.8L213.3 438.3L215.2 439.2ZM214.3 433.8L212.1 433L211.2 437.5L213.3 438.3ZM212.1 433L209.8 432.5L208.8 437L211.2 437.5ZM209.8 432.5L207.4 432.5L206.4 437L208.8 437ZM207.4 432.5L205.1 432.8L204.1 437.3L206.4 437ZM205.1 432.8L203.1 433.7L202.1 438.2L204.1 437.3ZM203.1 433.7L201.4 434.9L200.4 439.4L202.1 438.2ZM201.4 434.9L200.3 436.6L199.3 441.1L200.4 439.4ZM200.3 436.6L199.6 438.6L198.7 443.1L199.3 441.1ZM211.5 471.3L211.3 470.4L210.4 474.9L210.5 475.8ZM211.3 470.4L210.6 469.4L209.7 473.9L210.4 474.9ZM210.6 469.4L209.4 468.3L208.4 472.8L209.7 473.9ZM193.3 469.2L192.5 471.1L191.5 475.6L192.3 473.7ZM207.8 488L207.7 487.2L206.7 491.7L206.8 492.5ZM207.7 487.2L207.1 486.2L206.2 490.7L206.7 491.7ZM207.1 486.2L206 485.1L205 489.6L206.2 490.7ZM206 485.1L204.4 484.1L203.4 488.6L205 489.6ZM204.4 484.1L202.3 483.2L201.3 487.7L203.4 488.6ZM202.3 483.2L200.1 482.5L199.1 487L201.3 487.7ZM200.1 482.5L197.7 482.3L196.7 486.8L199.1 487ZM197.7 482.3L195.3 482.4L194.3 486.9L196.7 486.8ZM195.3 482.4L193.1 483L192.1 487.5L194.3 486.9ZM193.1 483L191.2 484L190.2 488.5L192.1 487.5ZM191.2 484L189.8 485.5L188.8 490L190.2 488.5ZM189.8 485.5L188.9 487.3L187.9 491.8L188.8 490ZM204 504.7L204.1 504L203.1 508.4L203 509.2ZM204.1 504L203.6 503L202.6 507.5L203.1 508.4ZM203.6 503L202.6 501.9L201.6 506.4L202.6 507.5ZM202.6 501.9L201 500.8L200 505.3L201.6 506.4ZM201 500.8L199 499.9L198.1 504.4L200 505.3ZM199 499.9L196.8 499.2L195.8 503.7L198.1 504.4ZM196.8 499.2L194.4 498.9L193.4 503.4L195.8 503.7ZM194.4 498.9L192 498.9L191 503.4L193.4 503.4ZM192 498.9L189.8 499.4L188.8 503.9L191 503.4ZM189.8 499.4L187.9 500.4L186.9 504.9L188.8 503.9ZM187.9 500.4L186.4 501.8L185.4 506.3L186.9 504.9ZM186.4 501.8L185.3 503.6L184.4 508.1L185.4 506.3Z" fill="#b4b4b4" stroke="#b4b4b4" stroke-width="0.6"/>
<path d="M215.2 454.5L214.9 453.7M213.9 458.1L214.2 459M214.9 453.7L214.1 452.6M213.1 457.1L213.9 458.1M214.1 452.6L212.8 451.5M211.8 456L213.1 457.1M212.8 451.5L211 450.5M210 455L211.8 456M211 450.5L208.9 449.7M207.9 454.2L210 455M208.9 449.7L206.5 449.2M205.5 453.7L207.9 454.2M206.5 449.2L204.1 449.1M203.1 453.5L205.5 453.7M204.1 449.1L201.8 449.3M200.8 453.8L203.1 453.5M201.8 449.3L199.7 450.1M198.7 454.6L200.8 453.8M199.7 450.1L198 451.3M197 455.8L198.7 454.6M198 451.3L196.8 452.9M195.8 457.4L197 455.8M196.8 452.9L196 454.9M195.1 459.4L195.8 457.4M209.4 468.3L207.7 467.3M206.7 471.8L208.4 472.8M207.7 467.3L205.6 466.4M204.6 470.9L206.7 471.8M205.6 466.4L203.3 465.9M202.3 470.4L204.6 470.9M203.3 465.9L200.9 465.7M199.9 470.1L202.3 470.4M200.9 465.7L198.5 465.9M197.6 470.4L199.9 470.1M198.5 465.9L196.4 466.5M195.4 471L197.6 470.4M196.4 466.5L194.6 467.6M193.6 472.1L195.4 471M194.6 467.6L193.3 469.2M192.3 473.7L193.6 472.1" fill="none" stroke="#b06a18" stroke-width="1.1"/>
<path d="M215.2 454.5L214.9 453.7L213.9 458.1L214.2 459ZM214.9 453.7L214.1 452.6L213.1 457.1L213.9 458.1ZM214.1 452.6L212.8 451.5L211.8 456L213.1 457.1ZM212.8 451.5L211 450.5L210 455L211.8 456ZM211 450.5L208.9 449.7L207.9 454.2L210 455ZM208.9 449.7L206.5 449.2L205.5 453.7L207.9 454.2ZM206.5 449.2L204.1 449.1L203.1 453.5L205.5 453.7ZM204.1 449.1L201.8 449.3L200.8 453.8L203.1 453.5ZM201.8 449.3L199.7 450.1L198.7 454.6L200.8 453.8ZM199.7 450.1L198 451.3L197 455.8L198.7 454.6ZM198 451.3L196.8 452.9L195.8 457.4L197 455.8ZM196.8 452.9L196 454.9L195.1 459.4L195.8 457.4ZM209.4 468.3L207.7 467.3L206.7 471.8L208.4 472.8ZM207.7 467.3L205.6 466.4L204.6 470.9L206.7 471.8ZM205.6 466.4L203.3 465.9L202.3 470.4L204.6 470.9ZM203.3 465.9L200.9 465.7L199.9 470.1L202.3 470.4ZM200.9 465.7L198.5 465.9L197.6 470.4L199.9 470.1ZM198.5 465.9L196.4 466.5L195.4 471L197.6 470.4ZM196.4 466.5L194.6 467.6L193.6 472.1L195.4 471ZM194.6 467.6L193.3 469.2L192.3 473.7L193.6 472.1Z" fill="#ec963e" stroke="#ec963e" stroke-width="0.6"/>
<path d="M118.8,441.4 L122.3,444.0 L127.5,443.1 L131.0,447.5 L130.1,452.8" stroke="#c0650a" stroke-width="2.1"/>
<path d="M118.8,441.4 L122.3,444.0 L127.5,443.1 L131.0,447.5 L130.1,452.8" stroke="#ee8d2a" stroke-width="1.2"/>
<path d="M134.0,458.0 L136.3,460.7 L138.9,465.0" stroke="#c0650a" stroke-width="2.1"/>
<path d="M134.0,458.0 L136.3,460.7 L138.9,465.0" stroke="#ee8d2a" stroke-width="1.2"/>
<path d="M139.0,469.0 L142.4,472.0" stroke="#c0650a" stroke-width="2.1"/>
<path d="M139.0,469.0 L142.4,472.0" stroke="#ee8d2a" stroke-width="1.2"/>
<path d="M211.5,443.0 L206.4,446.6 L204.0,451.0" stroke="#c0650a" stroke-width="2.1"/>
<path d="M211.5,443.0 L206.4,446.6 L204.0,451.0" stroke="#ee8d2a" stroke-width="1.2"/>
<path d="M202.9,458.0 L197.6,461.5 L196.0,465.0" stroke="#c0650a" stroke-width="2.1"/>
<path d="M202.9,458.0 L197.6,461.5 L196.0,465.0" stroke="#ee8d2a" stroke-width="1.2"/>
<path d="M196.0,470.0 L194.1,472.5" stroke="#c0650a" stroke-width="2.1"/>
<path d="M196.0,470.0 L194.1,472.5" stroke="#ee8d2a" stroke-width="1.2"/>
<path d="M211.5,443.0 L211.2,439.4 L214.5,437.6 L217.9,439.4 L218.2,443.0 L215.0,444.8 L211.5,443.0" stroke="#c0650a" stroke-width="2.1"/>
<path d="M211.5,443.0 L211.2,439.4 L214.5,437.6 L217.9,439.4 L218.2,443.0 L215.0,444.8 L211.5,443.0" stroke="#ee8d2a" stroke-width="1.2"/></g>
<g filter="url(#blur3)" opacity="0.45"><path d="M132.4,588.9 A36.7,10.9 0 0 1 205.8,588.9 L205.8,711.0 A36.7,10.3 0 0 1 132.4,711.0 Z" fill="#555"/></g>
<path d="M134.4,588.9 A34.7,8.9 0 0 1 203.8,588.9 L203.8,711.0 A34.7,8.3 0 0 1 134.4,711.0 Z" fill="#d2d2d2" stroke="#111" stroke-width="1.3"/>
<ellipse cx="169.10000000000002" cy="588.9" rx="34.7" ry="8.9" fill="none" stroke="#111" stroke-width="1.3"/>
<g fill="none" stroke-linecap="round" stroke-linejoin="round" transform="translate(1.6,205.5)"><path d="M139.0,380.4 L146.3,385.5 L147.0,389.2 L146.6,400.9 L149.9,403.8 L149.2,409.6 L148.8,413.0 L149.2,415.5 L145.5,421.3 L139.0,427.2" stroke="#bf8fb2" stroke-width="2.7"/>
<path d="M139.0,380.4 L146.3,385.5 L147.0,389.2 L146.6,400.9 L149.9,403.8 L149.2,409.6 L148.8,413.0 L149.2,415.5 L145.5,421.3 L139.0,427.2" stroke="#f0b6e2" stroke-width="1.7"/>
<path d="M195.6,380.4 L188.3,385.5 L187.6,389.2 L188.0,400.9 L184.7,403.8 L185.4,409.6 L185.8,413.0 L185.4,415.5 L189.1,421.3 L195.6,427.2" stroke="#bf8fb2" stroke-width="2.7"/>
<path d="M195.6,380.4 L188.3,385.5 L187.6,389.2 L188.0,400.9 L184.7,403.8 L185.4,409.6 L185.8,413.0 L185.4,415.5 L189.1,421.3 L195.6,427.2" stroke="#f0b6e2" stroke-width="1.7"/>
<path d="M146.3,385.5 L152.8,389.2 L158.0,385.5 L158.2,381.9" stroke="#bf8fb2" stroke-width="2.7"/>
<path d="M146.3,385.5 L152.8,389.2 L158.0,385.5 L158.2,381.9" stroke="#f0b6e2" stroke-width="1.7"/>
<path d="M188.3,385.5 L181.8,389.2 L176.6,385.5 L176.4,381.9" stroke="#bf8fb2" stroke-width="2.7"/>
<path d="M188.3,385.5 L181.8,389.2 L176.6,385.5 L176.4,381.9" stroke="#f0b6e2" stroke-width="1.7"/>
<path d="M158.0,385.5 L162.3,389.9" stroke="#bf8fb2" stroke-width="2.7"/>
<path d="M158.0,385.5 L162.3,389.9" stroke="#f0b6e2" stroke-width="1.7"/>
<path d="M176.6,385.5 L172.3,389.9" stroke="#bf8fb2" stroke-width="2.7"/>
<path d="M176.6,385.5 L172.3,389.9" stroke="#f0b6e2" stroke-width="1.7"/>
<path d="M149.9,403.8 L151.4,402.3 L155.0,401.6" stroke="#bf8fb2" stroke-width="2.7"/>
<path d="M149.9,403.8 L151.4,402.3 L155.0,401.6" stroke="#f0b6e2" stroke-width="1.7"/>
<path d="M184.7,403.8 L183.2,402.3 L179.6,401.6" stroke="#bf8fb2" stroke-width="2.7"/>
<path d="M184.7,403.8 L183.2,402.3 L179.6,401.6" stroke="#f0b6e2" stroke-width="1.7"/>
<path d="M149.2,415.5 L153.6,416.9" stroke="#bf8fb2" stroke-width="2.7"/>
<path d="M149.2,415.5 L153.6,416.9" stroke="#f0b6e2" stroke-width="1.7"/>
<path d="M185.4,415.5 L181.0,416.9" stroke="#bf8fb2" stroke-width="2.7"/>
<path d="M185.4,415.5 L181.0,416.9" stroke="#f0b6e2" stroke-width="1.7"/>
<path d="M145.5,421.3 L149.0,424.5 L151.4,427.2" stroke="#bf8fb2" stroke-width="2.7"/>
<path d="M145.5,421.3 L149.0,424.5 L151.4,427.2" stroke="#f0b6e2" stroke-width="1.7"/>
<path d="M189.1,421.3 L185.6,424.5 L183.2,427.2" stroke="#bf8fb2" stroke-width="2.7"/>
<path d="M189.1,421.3 L185.6,424.5 L183.2,427.2" stroke="#f0b6e2" stroke-width="1.7"/>
<path d="M139.0,427.2 L134.6,427.2" stroke="#bf8fb2" stroke-width="2.7"/>
<path d="M139.0,427.2 L134.6,427.2" stroke="#f0b6e2" stroke-width="1.7"/>
<path d="M195.6,427.2 L200.0,427.2" stroke="#bf8fb2" stroke-width="2.7"/>
<path d="M195.6,427.2 L200.0,427.2" stroke="#f0b6e2" stroke-width="1.7"/>
<path d="M146.6,400.9 L143.0,405.0 L141.0,408.0" stroke="#bf8fb2" stroke-width="2.7"/>
<path d="M146.6,400.9 L143.0,405.0 L141.0,408.0" stroke="#f0b6e2" stroke-width="1.7"/>
<path d="M188.0,400.9 L191.6,405.0 L193.6,408.0" stroke="#bf8fb2" stroke-width="2.7"/>
<path d="M188.0,400.9 L191.6,405.0 L193.6,408.0" stroke="#f0b6e2" stroke-width="1.7"/>
<circle cx="147.0" cy="402.3" r="1.3" fill="#1f1fff" fill-opacity="0.9"/>
<circle cx="187.6" cy="402.3" r="1.3" fill="#1f1fff" fill-opacity="0.9"/>
<circle cx="155.0" cy="401.6" r="1.3" fill="#ee2a2a" fill-opacity="0.9"/>
<circle cx="179.6" cy="401.6" r="1.3" fill="#ee2a2a" fill-opacity="0.9"/>
<circle cx="148.5" cy="412.6" r="1.3" fill="#1f1fff" fill-opacity="0.9"/>
<circle cx="186.1" cy="412.6" r="1.3" fill="#1f1fff" fill-opacity="0.9"/>
<circle cx="153.6" cy="416.9" r="1.3" fill="#ee2a2a" fill-opacity="0.9"/>
<circle cx="181.0" cy="416.9" r="1.3" fill="#ee2a2a" fill-opacity="0.9"/>
<circle cx="142.6" cy="422.8" r="1.3" fill="#1f1fff" fill-opacity="0.9"/>
<circle cx="192.0" cy="422.8" r="1.3" fill="#1f1fff" fill-opacity="0.9"/>
<circle cx="134.6" cy="427.2" r="1.3" fill="#1f1fff" fill-opacity="0.9"/>
<circle cx="200.0" cy="427.2" r="1.3" fill="#1f1fff" fill-opacity="0.9"/>
<circle cx="151.4" cy="427.2" r="1.3" fill="#ee2a2a" fill-opacity="0.9"/>
<circle cx="183.2" cy="427.2" r="1.3" fill="#ee2a2a" fill-opacity="0.9"/>
<circle cx="158.2" cy="381.9" r="1.3" fill="#ee2a2a" fill-opacity="0.9"/>
<circle cx="176.4" cy="381.9" r="1.3" fill="#ee2a2a" fill-opacity="0.9"/>
<circle cx="162.3" cy="389.9" r="1.3" fill="#ee2a2a" fill-opacity="0.9"/>
<circle cx="172.3" cy="389.9" r="1.3" fill="#ee2a2a" fill-opacity="0.9"/>
<circle cx="141.0" cy="408.0" r="1.3" fill="#7a5a7a" fill-opacity="0.9"/>
<circle cx="193.6" cy="408.0" r="1.3" fill="#7a5a7a" fill-opacity="0.9"/>
<circle cx="147.0" cy="389.2" r="1.3" fill="#1f1fff" fill-opacity="0.9"/>
<circle cx="187.6" cy="389.2" r="1.3" fill="#1f1fff" fill-opacity="0.9"/></g>
<g clip-path="url(#clipLow)"><g fill="none" stroke-linecap="round" stroke-linejoin="round" transform="translate(1.6,205.8)"><path d="M125.8 373L126.2 375.1M126.7 377.1L126.2 375M126.2 375.1L126.1 377.4M126.6 379.4L126.7 377.1M126.1 377.4L125.4 379.9M125.9 381.9L126.6 379.4M125.4 379.9L124.2 382.3M124.6 384.3L125.9 381.9M124.2 382.3L122.6 384.6M123 386.6L124.6 384.3M122.6 384.6L120.7 386.7M121.1 388.7L123 386.6M120.7 386.7L118.6 388.5M119 390.5L121.1 388.7M118.6 388.5L116.5 389.8M116.9 391.9L119 390.5M116.5 389.8L114.5 390.8M115 392.8L116.9 391.9M114.5 390.8L112.9 391.2M113.3 393.2L115 392.8M112.9 391.2L111.6 391.2M112.1 393.3L113.3 393.2M111.6 391.2L110.9 390.9M111.3 392.9L112.1 393.3M110.9 390.9L110.7 390.1M111.1 392.2L111.3 392.9M129.9 391.4L129.8 393.7M130.3 395.7L130.3 393.4M129.8 393.7L129.2 396.1M129.6 398.1L130.3 395.7M129.2 396.1L128.1 398.6M128.5 400.6L129.6 398.1M128.1 398.6L126.5 400.9M126.9 402.9L128.5 400.6M126.5 400.9L124.6 403M125 405.1L126.9 402.9M124.6 403L122.5 404.9M123 406.9L125 405.1M122.5 404.9L120.4 406.3M120.9 408.3L123 406.9M120.4 406.3L118.4 407.3M118.9 409.3L120.9 408.3M118.4 407.3L116.7 407.8M117.2 409.8L118.9 409.3M116.7 407.8L115.4 407.9M115.9 409.9L117.2 409.8M115.4 407.9L114.6 407.5M115 409.5L115.9 409.9M114.6 407.5L114.3 406.9M114.8 408.9L115 409.5M133.5 407.7L133.5 410M134 412L133.9 409.7M133.5 410L133 412.4M133.4 414.4L134 412M133 412.4L131.9 414.8M132.3 416.9L133.4 414.4M131.9 414.8L130.4 417.2M130.8 419.2L132.3 416.9M130.4 417.2L128.5 419.4M129 421.4L130.8 419.2M128.5 419.4L126.5 421.2M126.9 423.3L129 421.4M126.5 421.2L124.4 422.7M124.8 424.7L126.9 423.3M124.4 422.7L122.4 423.8M122.8 425.8L124.8 424.7M122.4 423.8L120.6 424.3M121 426.4L122.8 425.8M120.6 424.3L119.2 424.5M119.7 426.5L121 426.4M119.2 424.5L118.3 424.2M118.8 426.2L119.7 426.5M118.3 424.2L118 423.6M118.4 425.6L118.8 426.2M137.1 424L137.2 426.2M137.7 428.3L137.6 426M137.2 426.2L136.7 428.7M137.2 430.7L137.7 428.3M136.7 428.7L135.7 431.1M136.2 433.1L137.2 430.7M135.7 431.1L134.3 433.5M134.7 435.5L136.2 433.1M134.3 433.5L132.4 435.7M132.9 437.7L134.7 435.5M132.4 435.7L130.4 437.6M130.8 439.6L132.9 437.7M130.4 437.6L128.3 439.1M128.7 441.2L130.8 439.6M128.3 439.1L126.3 440.2M126.7 442.3L128.7 441.2M126.3 440.2L124.5 440.9M124.9 442.9L126.7 442.3M124.5 440.9L123 441.1M123.5 443.1L124.9 442.9M123 441.1L122.1 440.9M122.5 442.9L123.5 443.1M122.1 440.9L121.7 440.3M122.1 442.3L122.5 442.9M140.7 440.3L140.9 442.5M141.3 444.5L141.2 442.3M140.9 442.5L140.5 444.9M140.9 446.9L141.3 444.5M140.5 444.9L139.6 447.4M140 449.4L140.9 446.9M139.6 447.4L138.1 449.8M138.6 451.8L140 449.4M138.1 449.8L136.4 452M136.8 454L138.6 451.8M136.4 452L134.3 454M134.8 456L136.8 454M134.3 454L132.2 455.6M132.7 457.6L134.8 456M132.2 455.6L130.2 456.7M130.6 458.7L132.7 457.6M130.2 456.7L128.4 457.4M128.8 459.5L130.6 458.7M128.4 457.4L126.9 457.7M127.3 459.7L128.8 459.5M126.9 457.7L125.8 457.5M126.3 459.5L127.3 459.7M125.8 457.5L125.3 457M125.8 459L126.3 459.5M144.3 456.6L144.6 458.8M145 460.8L144.7 458.6M144.6 458.8L144.2 461.2M144.7 463.2L145 460.8M144.2 461.2L143.4 463.7M143.8 465.7L144.7 463.2M143.4 463.7L142 466.1M142.5 468.1L143.8 465.7M142 466.1L140.3 468.3M140.7 470.4L142.5 468.1M140.3 468.3L138.3 470.3M138.7 472.3L140.7 470.4M138.3 470.3L136.2 472M136.6 474L138.7 472.3M136.2 472L134.1 473.2M134.6 475.2L136.6 474M134.1 473.2L132.3 474M132.7 476L134.6 475.2M132.3 474L130.7 474.3M131.2 476.3L132.7 476M130.7 474.3L129.6 474.2M130.1 476.2L131.2 476.3M129.6 474.2L129 473.7M129.5 475.7L130.1 476.2M147.9 472.9L148.2 475.1M148.7 477.1L148.3 475M148.2 475.1L148 477.5M148.4 479.5L148.7 477.1M148 477.5L147.2 479.9M147.6 481.9L148.4 479.5M147.2 479.9L145.9 482.4M146.3 484.4L147.6 481.9M145.9 482.4L144.2 484.6M144.6 486.7L146.3 484.4M144.2 484.6L142.2 486.7M142.7 488.7L144.6 486.7M142.2 486.7L140.1 488.4M140.6 490.4L142.7 488.7M140.1 488.4L138.1 489.7M138.5 491.7L140.6 490.4M138.1 489.7L136.2 490.5M136.6 492.5L138.5 491.7M136.2 490.5L134.6 490.9M135 492.9L136.6 492.5M134.6 490.9L133.4 490.8M133.8 492.8L135 492.9M133.4 490.8L132.7 490.3M133.2 492.4L133.8 492.8M151.4 489.3L151.9 491.4M152.3 493.4L151.9 491.3M151.9 491.4L151.7 493.7M152.2 495.8L152.3 493.4M151.7 493.7L151 496.2M151.4 498.2L152.2 495.8M151 496.2L149.7 498.6M150.2 500.7L151.4 498.2M149.7 498.6L148.1 500.9M148.5 503L150.2 500.7M148.1 500.9L146.2 503M146.6 505L148.5 503M146.2 503L144.1 504.8M144.5 506.8L146.6 505M144.1 504.8L142 506.1M142.4 508.1L144.5 506.8M142 506.1L140.1 507M140.5 509L142.4 508.1M140.1 507L138.4 507.4M138.9 509.5L140.5 509M138.4 507.4L137.2 507.4M137.6 509.4L138.9 509.5M137.2 507.4L136.5 507M136.9 509L137.6 509.4M155.5 507.7L155.4 510M155.9 512L156 509.7M155.4 510L154.8 512.5M155.2 514.5L155.9 512M154.8 512.5L153.6 514.9M154 516.9L155.2 514.5M153.6 514.9L152 517.2M152.5 519.3L154 516.9M152 517.2L150.1 519.4M150.5 521.4L152.5 519.3M150.1 519.4L148 521.1M148.5 523.2L150.5 521.4M148 521.1L145.9 522.5M146.4 524.6L148.5 523.2" fill="none" stroke="#5a5a5a" stroke-width="1.1"/>
<path d="M125.8 373L126.2 375.1L126.7 377.1L126.2 375ZM126.2 375.1L126.1 377.4L126.6 379.4L126.7 377.1ZM126.1 377.4L125.4 379.9L125.9 381.9L126.6 379.4ZM125.4 379.9L124.2 382.3L124.6 384.3L125.9 381.9ZM124.2 382.3L122.6 384.6L123 386.6L124.6 384.3ZM122.6 384.6L120.7 386.7L121.1 388.7L123 386.6ZM120.7 386.7L118.6 388.5L119 390.5L121.1 388.7ZM118.6 388.5L116.5 389.8L116.9 391.9L119 390.5ZM116.5 389.8L114.5 390.8L115 392.8L116.9 391.9ZM114.5 390.8L112.9 391.2L113.3 393.2L115 392.8ZM112.9 391.2L111.6 391.2L112.1 393.3L113.3 393.2ZM111.6 391.2L110.9 390.9L111.3 392.9L112.1 393.3ZM110.9 390.9L110.7 390.1L111.1 392.2L111.3 392.9ZM129.9 391.4L129.8 393.7L130.3 395.7L130.3 393.4ZM129.8 393.7L129.2 396.1L129.6 398.1L130.3 395.7ZM129.2 396.1L128.1 398.6L128.5 400.6L129.6 398.1ZM128.1 398.6L126.5 400.9L126.9 402.9L128.5 400.6ZM126.5 400.9L124.6 403L125 405.1L126.9 402.9ZM124.6 403L122.5 404.9L123 406.9L125 405.1ZM122.5 404.9L120.4 406.3L120.9 408.3L123 406.9ZM120.4 406.3L118.4 407.3L118.9 409.3L120.9 408.3ZM118.4 407.3L116.7 407.8L117.2 409.8L118.9 409.3ZM116.7 407.8L115.4 407.9L115.9 409.9L117.2 409.8ZM115.4 407.9L114.6 407.5L115 409.5L115.9 409.9ZM114.6 407.5L114.3 406.9L114.8 408.9L115 409.5ZM133.5 407.7L133.5 410L134 412L133.9 409.7ZM133.5 410L133 412.4L133.4 414.4L134 412ZM133 412.4L131.9 414.8L132.3 416.9L133.4 414.4ZM131.9 414.8L130.4 417.2L130.8 419.2L132.3 416.9ZM130.4 417.2L128.5 419.4L129 421.4L130.8 419.2ZM128.5 419.4L126.5 421.2L126.9 423.3L129 421.4ZM126.5 421.2L124.4 422.7L124.8 424.7L126.9 423.3ZM124.4 422.7L122.4 423.8L122.8 425.8L124.8 424.7ZM122.4 423.8L120.6 424.3L121 426.4L122.8 425.8ZM120.6 424.3L119.2 424.5L119.7 426.5L121 426.4ZM119.2 424.5L118.3 424.2L118.8 426.2L119.7 426.5ZM118.3 424.2L118 423.6L118.4 425.6L118.8 426.2ZM137.1 424L137.2 426.2L137.7 428.3L137.6 426ZM137.2 426.2L136.7 428.7L137.2 430.7L137.7 428.3ZM136.7 428.7L135.7 431.1L136.2 433.1L137.2 430.7ZM135.7 431.1L134.3 433.5L134.7 435.5L136.2 433.1ZM134.3 433.5L132.4 435.7L132.9 437.7L134.7 435.5ZM132.4 435.7L130.4 437.6L130.8 439.6L132.9 437.7ZM130.4 437.6L128.3 439.1L128.7 441.2L130.8 439.6ZM128.3 439.1L126.3 440.2L126.7 442.3L128.7 441.2ZM126.3 440.2L124.5 440.9L124.9 442.9L126.7 442.3ZM124.5 440.9L123 441.1L123.5 443.1L124.9 442.9ZM123 441.1L122.1 440.9L122.5 442.9L123.5 443.1ZM122.1 440.9L121.7 440.3L122.1 442.3L122.5 442.9ZM140.7 440.3L140.9 442.5L141.3 444.5L141.2 442.3ZM140.9 442.5L140.5 444.9L140.9 446.9L141.3 444.5ZM140.5 444.9L139.6 447.4L140 449.4L140.9 446.9ZM139.6 447.4L138.1 449.8L138.6 451.8L140 449.4ZM138.1 449.8L136.4 452L136.8 454L138.6 451.8ZM136.4 452L134.3 454L134.8 456L136.8 454ZM134.3 454L132.2 455.6L132.7 457.6L134.8 456ZM132.2 455.6L130.2 456.7L130.6 458.7L132.7 457.6ZM130.2 456.7L128.4 457.4L128.8 459.5L130.6 458.7ZM128.4 457.4L126.9 457.7L127.3 459.7L128.8 459.5ZM126.9 457.7L125.8 457.5L126.3 459.5L127.3 459.7ZM125.8 457.5L125.3 457L125.8 459L126.3 459.5ZM144.3 456.6L144.6 458.8L145 460.8L144.7 458.6ZM144.6 458.8L144.2 461.2L144.7 463.2L145 460.8ZM144.2 461.2L143.4 463.7L143.8 465.7L144.7 463.2ZM143.4 463.7L142 466.1L142.5 468.1L143.8 465.7ZM142 466.1L140.3 468.3L140.7 470.4L142.5 468.1ZM140.3 468.3L138.3 470.3L138.7 472.3L140.7 470.4ZM138.3 470.3L136.2 472L136.6 474L138.7 472.3ZM136.2 472L134.1 473.2L134.6 475.2L136.6 474ZM134.1 473.2L132.3 474L132.7 476L134.6 475.2ZM132.3 474L130.7 474.3L131.2 476.3L132.7 476ZM130.7 474.3L129.6 474.2L130.1 476.2L131.2 476.3ZM129.6 474.2L129 473.7L129.5 475.7L130.1 476.2ZM147.9 472.9L148.2 475.1L148.7 477.1L148.3 475ZM148.2 475.1L148 477.5L148.4 479.5L148.7 477.1ZM148 477.5L147.2 479.9L147.6 481.9L148.4 479.5ZM147.2 479.9L145.9 482.4L146.3 484.4L147.6 481.9ZM145.9 482.4L144.2 484.6L144.6 486.7L146.3 484.4ZM144.2 484.6L142.2 486.7L142.7 488.7L144.6 486.7ZM142.2 486.7L140.1 488.4L140.6 490.4L142.7 488.7ZM140.1 488.4L138.1 489.7L138.5 491.7L140.6 490.4ZM138.1 489.7L136.2 490.5L136.6 492.5L138.5 491.7ZM136.2 490.5L134.6 490.9L135 492.9L136.6 492.5ZM134.6 490.9L133.4 490.8L133.8 492.8L135 492.9ZM133.4 490.8L132.7 490.3L133.2 492.4L133.8 492.8ZM151.4 489.3L151.9 491.4L152.3 493.4L151.9 491.3ZM151.9 491.4L151.7 493.7L152.2 495.8L152.3 493.4ZM151.7 493.7L151 496.2L151.4 498.2L152.2 495.8ZM151 496.2L149.7 498.6L150.2 500.7L151.4 498.2ZM149.7 498.6L148.1 500.9L148.5 503L150.2 500.7ZM148.1 500.9L146.2 503L146.6 505L148.5 503ZM146.2 503L144.1 504.8L144.5 506.8L146.6 505ZM144.1 504.8L142 506.1L142.4 508.1L144.5 506.8ZM142 506.1L140.1 507L140.5 509L142.4 508.1ZM140.1 507L138.4 507.4L138.9 509.5L140.5 509ZM138.4 507.4L137.2 507.4L137.6 509.4L138.9 509.5ZM137.2 507.4L136.5 507L136.9 509L137.6 509.4ZM155.5 507.7L155.4 510L155.9 512L156 509.7ZM155.4 510L154.8 512.5L155.2 514.5L155.9 512ZM154.8 512.5L153.6 514.9L154 516.9L155.2 514.5ZM153.6 514.9L152 517.2L152.5 519.3L154 516.9ZM152 517.2L150.1 519.4L150.5 521.4L152.5 519.3ZM150.1 519.4L148 521.1L148.5 523.2L150.5 521.4ZM148 521.1L145.9 522.5L146.4 524.6L148.5 523.2Z" fill="#8a8a8a" stroke="#8a8a8a" stroke-width="0.6"/>
<path d="M118.8 367.1L121 367.6M122 372.1L119.8 371.6M121 367.6L123 368.6M123.9 373.1L122 372.1M123 368.6L124.5 369.9M125.5 374.4L123.9 373.1M124.5 369.9L125.5 371.7M126.5 376.2L125.5 374.4M110.4 388.9L110.8 388M111.8 392.5L111.4 393.4M110.8 388L111.7 386.9M112.7 391.4L111.8 392.5M111.7 386.9L113.2 385.8M114.2 390.3L112.7 391.4M113.2 385.8L115.1 384.9M116.1 389.4L114.2 390.3M115.1 384.9L117.3 384.1M118.3 388.6L116.1 389.4M117.3 384.1L119.7 383.7M120.7 388.2L118.3 388.6M119.7 383.7L122.1 383.7M123.1 388.2L120.7 388.2M122.1 383.7L124.4 384.1M125.4 388.6L123.1 388.2M124.4 384.1L126.4 385M127.4 389.5L125.4 388.6M126.4 385L128 386.3M129 390.8L127.4 389.5M128 386.3L129.1 388.1M130.1 392.6L129 390.8M129.1 388.1L129.6 390.1M130.6 394.6L130.1 392.6M114 405.6L114.4 404.7M115.3 409.2L115 410.1M114.4 404.7L115.2 403.6M116.2 408.1L115.3 409.2M115.2 403.6L116.7 402.6M117.6 407.1L116.2 408.1M116.7 402.6L118.5 401.6M119.5 406.1L117.6 407.1M118.5 401.6L120.7 400.8M121.7 405.3L119.5 406.1M120.7 400.8L123.1 400.3M124 404.8L121.7 405.3M123.1 400.3L125.5 400.3M126.5 404.8L124 404.8M125.5 400.3L127.8 400.6M128.7 405.1L126.5 404.8M127.8 400.6L129.8 401.5M130.8 406L128.7 405.1M129.8 401.5L131.4 402.7M132.4 407.2L130.8 406M131.4 402.7L132.6 404.4M133.6 408.9L132.4 407.2M132.6 404.4L133.2 406.4M134.2 410.9L133.6 408.9M117.7 422.3L117.9 421.4M118.9 425.9L118.7 426.8M117.9 421.4L118.8 420.4M119.7 424.9L118.9 425.9M118.8 420.4L120.1 419.3M121.1 423.8L119.7 424.9M120.1 419.3L121.9 418.3M122.9 422.8L121.1 423.8M121.9 418.3L124 417.5M125 422L122.9 422.8M124 417.5L126.4 417M127.4 421.5L125 422M126.4 417L128.8 416.9M129.8 421.4L127.4 421.5M128.8 416.9L131.1 417.2M132.1 421.7L129.8 421.4M131.1 417.2L133.2 417.9M134.2 422.4L132.1 421.7M133.2 417.9L134.9 419.1M135.9 423.6L134.2 422.4M134.9 419.1L136.1 420.8M137.1 425.3L135.9 423.6M136.1 420.8L136.8 422.8M137.8 427.2L137.1 425.3M121.4 439L121.5 438.2M122.5 442.7L122.4 443.5M121.5 438.2L122.3 437.1M123.3 441.6L122.5 442.7M122.3 437.1L123.6 436M124.5 440.5L123.3 441.6M123.6 436L125.3 435M126.3 439.5L124.5 440.5M125.3 435L127.4 434.2M128.4 438.7L126.3 439.5M127.4 434.2L129.7 433.6M130.7 438.1L128.4 438.7M129.7 433.6L132.1 433.5M133.1 437.9L130.7 438.1M132.1 433.5L134.5 433.7M135.5 438.2L133.1 437.9M134.5 433.7L136.6 434.4M137.6 438.9L135.5 438.2M136.6 434.4L138.4 435.5M139.4 440L137.6 438.9M138.4 435.5L139.7 437.1M140.7 441.6L139.4 440M139.7 437.1L140.4 439.1M141.4 443.6L140.7 441.6M125.1 455.7L125.1 454.9M126.1 459.4L126.1 460.2M128.8 472.4L128.8 471.6M129.7 476.1L129.8 476.9M128.8 471.6L129.3 470.6M130.3 475.1L129.7 476.1M129.3 470.6L130.5 469.5M131.5 474L130.3 475.1M130.5 469.5L132.1 468.5M133.1 473L131.5 474M145.3 468.4L146.7 469.9M147.7 474.4L146.2 472.9M146.7 469.9L147.6 471.7M148.6 476.2L147.7 474.4M132.5 489.1L132.4 488.3M133.4 492.8L133.5 493.6M132.4 488.3L132.9 487.4M133.9 491.9L133.4 492.8M132.9 487.4L134 486.3M134.9 490.8L133.9 491.9M134 486.3L135.5 485.2M136.5 489.7L134.9 490.8M135.5 485.2L137.5 484.3M138.5 488.8L136.5 489.7M137.5 484.3L139.8 483.6M140.7 488.1L138.5 488.8M139.8 483.6L142.2 483.3M143.1 487.8L140.7 488.1M142.2 483.3L144.5 483.3M145.5 487.8L143.1 487.8M144.5 483.3L146.8 483.9M147.8 488.3L145.5 487.8M146.8 483.9L148.7 484.8M149.7 489.3L147.8 488.3M148.7 484.8L150.2 486.2M151.2 490.7L149.7 489.3M150.2 486.2L151.2 488M152.2 492.5L151.2 490.7M136.2 505.8L136 505.1M137 509.5L137.2 510.3M136 505.1L136.5 504.1M137.4 508.6L137 509.5M136.5 504.1L137.4 503M138.4 507.5L137.4 508.6M137.4 503L139 502M139.9 506.5L138.4 507.5M139 502L140.9 501M141.9 505.5L139.9 506.5M140.9 501L143.1 500.3M144.1 504.8L141.9 505.5M143.1 500.3L145.5 499.9M146.5 504.4L144.1 504.8M145.5 499.9L147.9 499.9M148.9 504.4L146.5 504.4M147.9 499.9L150.1 500.4M151.1 504.9L148.9 504.4M150.1 500.4L152.1 501.3M153.1 505.8L151.1 504.9M152.1 501.3L153.7 502.6M154.7 507.1L153.1 505.8M153.7 502.6L154.7 504.4M155.7 508.9L154.7 507.1M154.7 504.4L155.2 506.5M156.2 511L155.7 508.9" fill="none" stroke="#5a5a5a" stroke-width="1.1"/>
<path d="M118.8 367.1L121 367.6L122 372.1L119.8 371.6ZM121 367.6L123 368.6L123.9 373.1L122 372.1ZM123 368.6L124.5 369.9L125.5 374.4L123.9 373.1ZM124.5 369.9L125.5 371.7L126.5 376.2L125.5 374.4ZM110.4 388.9L110.8 388L111.8 392.5L111.4 393.4ZM110.8 388L111.7 386.9L112.7 391.4L111.8 392.5ZM111.7 386.9L113.2 385.8L114.2 390.3L112.7 391.4ZM113.2 385.8L115.1 384.9L116.1 389.4L114.2 390.3ZM115.1 384.9L117.3 384.1L118.3 388.6L116.1 389.4ZM117.3 384.1L119.7 383.7L120.7 388.2L118.3 388.6ZM119.7 383.7L122.1 383.7L123.1 388.2L120.7 388.2ZM122.1 383.7L124.4 384.1L125.4 388.6L123.1 388.2ZM124.4 384.1L126.4 385L127.4 389.5L125.4 388.6ZM126.4 385L128 386.3L129 390.8L127.4 389.5ZM128 386.3L129.1 388.1L130.1 392.6L129 390.8ZM129.1 388.1L129.6 390.1L130.6 394.6L130.1 392.6ZM114 405.6L114.4 404.7L115.3 409.2L115 410.1ZM114.4 404.7L115.2 403.6L116.2 408.1L115.3 409.2ZM115.2 403.6L116.7 402.6L117.6 407.1L116.2 408.1ZM116.7 402.6L118.5 401.6L119.5 406.1L117.6 407.1ZM118.5 401.6L120.7 400.8L121.7 405.3L119.5 406.1ZM120.7 400.8L123.1 400.3L124 404.8L121.7 405.3ZM123.1 400.3L125.5 400.3L126.5 404.8L124 404.8ZM125.5 400.3L127.8 400.6L128.7 405.1L126.5 404.8ZM127.8 400.6L129.8 401.5L130.8 406L128.7 405.1ZM129.8 401.5L131.4 402.7L132.4 407.2L130.8 406ZM131.4 402.7L132.6 404.4L133.6 408.9L132.4 407.2ZM132.6 404.4L133.2 406.4L134.2 410.9L133.6 408.9ZM117.7 422.3L117.9 421.4L118.9 425.9L118.7 426.8ZM117.9 421.4L118.8 420.4L119.7 424.9L118.9 425.9ZM118.8 420.4L120.1 419.3L121.1 423.8L119.7 424.9ZM120.1 419.3L121.9 418.3L122.9 422.8L121.1 423.8ZM121.9 418.3L124 417.5L125 422L122.9 422.8ZM124 417.5L126.4 417L127.4 421.5L125 422ZM126.4 417L128.8 416.9L129.8 421.4L127.4 421.5ZM128.8 416.9L131.1 417.2L132.1 421.7L129.8 421.4ZM131.1 417.2L133.2 417.9L134.2 422.4L132.1 421.7ZM133.2 417.9L134.9 419.1L135.9 423.6L134.2 422.4ZM134.9 419.1L136.1 420.8L137.1 425.3L135.9 423.6ZM136.1 420.8L136.8 422.8L137.8 427.2L137.1 425.3ZM121.4 439L121.5 438.2L122.5 442.7L122.4 443.5ZM121.5 438.2L122.3 437.1L123.3 441.6L122.5 442.7ZM122.3 437.1L123.6 436L124.5 440.5L123.3 441.6ZM123.6 436L125.3 435L126.3 439.5L124.5 440.5ZM125.3 435L127.4 434.2L128.4 438.7L126.3 439.5ZM127.4 434.2L129.7 433.6L130.7 438.1L128.4 438.7ZM129.7 433.6L132.1 433.5L133.1 437.9L130.7 438.1ZM132.1 433.5L134.5 433.7L135.5 438.2L133.1 437.9ZM134.5 433.7L136.6 434.4L137.6 438.9L135.5 438.2ZM136.6 434.4L138.4 435.5L139.4 440L137.6 438.9ZM138.4 435.5L139.7 437.1L140.7 441.6L139.4 440ZM139.7 437.1L140.4 439.1L141.4 443.6L140.7 441.6ZM125.1 455.7L125.1 454.9L126.1 459.4L126.1 460.2ZM128.8 472.4L128.8 471.6L129.7 476.1L129.8 476.9ZM128.8 471.6L129.3 470.6L130.3 475.1L129.7 476.1ZM129.3 470.6L130.5 469.5L131.5 474L130.3 475.1ZM130.5 469.5L132.1 468.5L133.1 473L131.5 474ZM145.3 468.4L146.7 469.9L147.7 474.4L146.2 472.9ZM146.7 469.9L147.6 471.7L148.6 476.2L147.7 474.4ZM132.5 489.1L132.4 488.3L133.4 492.8L133.5 493.6ZM132.4 488.3L132.9 487.4L133.9 491.9L133.4 492.8ZM132.9 487.4L134 486.3L134.9 490.8L133.9 491.9ZM134 486.3L135.5 485.2L136.5 489.7L134.9 490.8ZM135.5 485.2L137.5 484.3L138.5 488.8L136.5 489.7ZM137.5 484.3L139.8 483.6L140.7 488.1L138.5 488.8ZM139.8 483.6L142.2 483.3L143.1 487.8L140.7 488.1ZM142.2 483.3L144.5 483.3L145.5 487.8L143.1 487.8ZM144.5 483.3L146.8 483.9L147.8 488.3L145.5 487.8ZM146.8 483.9L148.7 484.8L149.7 489.3L147.8 488.3ZM148.7 484.8L150.2 486.2L151.2 490.7L149.7 489.3ZM150.2 486.2L151.2 488L152.2 492.5L151.2 490.7ZM136.2 505.8L136 505.1L137 509.5L137.2 510.3ZM136 505.1L136.5 504.1L137.4 508.6L137 509.5ZM136.5 504.1L137.4 503L138.4 507.5L137.4 508.6ZM137.4 503L139 502L139.9 506.5L138.4 507.5ZM139 502L140.9 501L141.9 505.5L139.9 506.5ZM140.9 501L143.1 500.3L144.1 504.8L141.9 505.5ZM143.1 500.3L145.5 499.9L146.5 504.4L144.1 504.8ZM145.5 499.9L147.9 499.9L148.9 504.4L146.5 504.4ZM147.9 499.9L150.1 500.4L151.1 504.9L148.9 504.4ZM150.1 500.4L152.1 501.3L153.1 505.8L151.1 504.9ZM152.1 501.3L153.7 502.6L154.7 507.1L153.1 505.8ZM153.7 502.6L154.7 504.4L155.7 508.9L154.7 507.1ZM154.7 504.4L155.2 506.5L156.2 511L155.7 508.9Z" fill="#b4b4b4" stroke="#b4b4b4" stroke-width="0.6"/>
<path d="M125.1 454.9L125.8 453.9M126.8 458.4L126.1 459.4M125.8 453.9L127 452.8M128 457.3L126.8 458.4M127 452.8L128.7 451.8M129.7 456.2L128 457.3M128.7 451.8L130.8 450.9M131.8 455.4L129.7 456.2M130.8 450.9L133.1 450.3M134.1 454.8L131.8 455.4M133.1 450.3L135.5 450.1M136.5 454.5L134.1 454.8M135.5 450.1L137.8 450.2M138.8 454.7L136.5 454.5M137.8 450.2L140 450.9M141 455.4L138.8 454.7M140 450.9L141.8 452M142.8 456.5L141 455.4M141.8 452L143.2 453.5M144.2 458L142.8 456.5M143.2 453.5L144 455.4M145 459.9L144.2 458M132.1 468.5L134.1 467.6M135.1 472.1L133.1 473M134.1 467.6L136.4 467M137.4 471.4L135.1 472.1M136.4 467L138.8 466.7M139.8 471.2L137.4 471.4M138.8 466.7L141.2 466.8M142.2 471.3L139.8 471.2M141.2 466.8L143.4 467.4M144.4 471.9L142.2 471.3M143.4 467.4L145.3 468.4M146.2 472.9L144.4 471.9" fill="none" stroke="#b06a18" stroke-width="1.1"/>
<path d="M125.1 454.9L125.8 453.9L126.8 458.4L126.1 459.4ZM125.8 453.9L127 452.8L128 457.3L126.8 458.4ZM127 452.8L128.7 451.8L129.7 456.2L128 457.3ZM128.7 451.8L130.8 450.9L131.8 455.4L129.7 456.2ZM130.8 450.9L133.1 450.3L134.1 454.8L131.8 455.4ZM133.1 450.3L135.5 450.1L136.5 454.5L134.1 454.8ZM135.5 450.1L137.8 450.2L138.8 454.7L136.5 454.5ZM137.8 450.2L140 450.9L141 455.4L138.8 454.7ZM140 450.9L141.8 452L142.8 456.5L141 455.4ZM141.8 452L143.2 453.5L144.2 458L142.8 456.5ZM143.2 453.5L144 455.4L145 459.9L144.2 458ZM132.1 468.5L134.1 467.6L135.1 472.1L133.1 473ZM134.1 467.6L136.4 467L137.4 471.4L135.1 472.1ZM136.4 467L138.8 466.7L139.8 471.2L137.4 471.4ZM138.8 466.7L141.2 466.8L142.2 471.3L139.8 471.2ZM141.2 466.8L143.4 467.4L144.4 471.9L142.2 471.3ZM143.4 467.4L145.3 468.4L146.2 472.9L144.4 471.9Z" fill="#ec963e" stroke="#ec963e" stroke-width="0.6"/>
<path d="M214.2 372.9L214 375.1M213.5 377.1L213.7 374.9M214 375.1L214.4 377.5M213.9 379.5L213.5 377.1M214.4 377.5L215.3 379.9M214.8 382L213.9 379.5M215.3 379.9L216.7 382.3M216.2 384.4L214.8 382M216.7 382.3L218.5 384.6M218 386.6L216.2 384.4M218.5 384.6L220.5 386.5M220 388.5L218 386.6M220.5 386.5L222.6 388.1M222.1 390.1L220 388.5M222.6 388.1L224.6 389.3M224.2 391.3L222.1 390.1M224.6 389.3L226.4 390M226 392L224.2 391.3M226.4 390L227.9 390.3M227.5 392.3L226 392M227.9 390.3L229 390.1M228.6 392.1L227.5 392.3M229 390.1L229.5 389.6M229.1 391.6L228.6 392.1M210.6 389.1L210.3 391.3M209.8 393.3L210.1 391.1M210.3 391.3L210.6 393.6M210.1 395.7L209.8 393.3M210.6 393.6L211.4 396.1M211 398.1L210.1 395.7M211.4 396.1L212.7 398.5M212.3 400.5L211 398.1M212.7 398.5L214.5 400.8M214 402.8L212.3 400.5M214.5 400.8L216.4 402.8M216 404.8L214 402.8M216.4 402.8L218.5 404.5M218.1 406.5L216 404.8M218.5 404.5L220.6 405.7M220.1 407.7L218.1 406.5M220.6 405.7L222.5 406.5M222 408.5L220.1 407.7M222.5 406.5L224 406.9M223.6 408.9L222 408.5M224 406.9L225.2 406.8M224.7 408.8L223.6 408.9M225.2 406.8L225.8 406.3M225.3 408.3L224.7 408.8M207 405.3L206.6 407.5M206.2 409.5L206.6 407.4M206.6 407.5L206.8 409.8M206.4 411.8L206.2 409.5M206.8 409.8L207.6 412.3M207.1 414.3L206.4 411.8M207.6 412.3L208.8 414.7M208.4 416.7L207.1 414.3M208.8 414.7L210.5 417M210 419L208.4 416.7M210.5 417L212.4 419.1M211.9 421.1L210 419M212.4 419.1L214.5 420.8M214 422.8L211.9 421.1M214.5 420.8L216.6 422.1M216.1 424.2L214 422.8M216.6 422.1L218.5 423M218 425L216.1 424.2M218.5 423L220.1 423.4M219.7 425.5L218 425M220.1 423.4L221.3 423.4M220.9 425.4L219.7 425.5M221.3 423.4L222.1 423M221.6 425L220.9 425.4M203 423.7L203.1 426M202.6 428L202.6 425.7M203.1 426L203.7 428.4M203.3 430.4L202.6 428M203.7 428.4L204.9 430.9M204.4 432.9L203.3 430.4M204.9 430.9L206.5 433.2M206 435.2L204.4 432.9M206.5 433.2L208.4 435.3M207.9 437.3L206 435.2M208.4 435.3L210.4 437.1M210 439.1L207.9 437.3M210.4 437.1L212.5 438.5M212.1 440.5L210 439.1M212.5 438.5L214.5 439.5M214 441.5L212.1 440.5M214.5 439.5L216.2 440M215.7 442L214 441.5M216.2 440L217.5 440.1M217 442.1L215.7 442M217.5 440.1L218.3 439.7M217.9 441.7L217 442.1M218.3 439.7L218.6 439M218.1 441.1L217.9 441.7M199.4 439.9L199.3 442.2M198.9 444.2L198.9 441.9M199.3 442.2L199.9 444.6M199.4 446.6L198.9 444.2M199.9 444.6L201 447M200.5 449.1L199.4 446.6M201 447L202.5 449.4M202 451.4L200.5 449.1M202.5 449.4L204.3 451.6M203.9 453.6L202 451.4M204.3 451.6L206.4 453.4M205.9 455.4L203.9 453.6M206.4 453.4L208.5 454.9M208 456.9L205.9 455.4M208.5 454.9L210.5 456M210 458L208 456.9M210.5 456L212.2 456.5M211.8 458.6L210 458M212.2 456.5L213.6 456.7M213.2 458.7L211.8 458.6M213.6 456.7L214.5 456.4M214.1 458.4L213.2 458.7M214.5 456.4L214.9 455.8M214.4 457.8L214.1 458.4M195.8 456.1L195.6 458.3M195.2 460.4L195.3 458.1M195.6 458.3L196.1 460.7M195.6 462.8L195.2 460.4M196.1 460.7L197.1 463.2M196.6 465.2L195.6 462.8M197.1 463.2L198.5 465.6M198.1 467.6L196.6 465.2M198.5 465.6L200.3 467.8M199.9 469.8L198.1 467.6M200.3 467.8L202.3 469.7M201.9 471.7L199.9 469.8M202.3 469.7L204.5 471.3M204 473.3L201.9 471.7M204.5 471.3L206.5 472.4M206 474.4L204 473.3M206.5 472.4L208.3 473.1M207.8 475.1L206 474.4M208.3 473.1L209.7 473.3M209.3 475.3L207.8 475.1M209.7 473.3L210.7 473.1M210.3 475.1L209.3 475.3M210.7 473.1L211.2 472.5M210.7 474.5L210.3 475.1M192.2 472.3L192 474.5M191.5 476.5L191.7 474.4M192 474.5L192.3 476.9M191.9 478.9L191.5 476.5M192.3 476.9L193.2 479.4M192.7 481.4L191.9 478.9M193.2 479.4L194.6 481.8M194.1 483.8L192.7 481.4M194.6 481.8L196.3 484M195.9 486L194.1 483.8M196.3 484L198.3 486M197.9 488L195.9 486M198.3 486L200.4 487.6M200 489.6L197.9 488M200.4 487.6L202.5 488.8M202 490.9L200 489.6M202.5 488.8L204.3 489.6M203.9 491.6L202 490.9M204.3 489.6L205.8 489.9M205.4 491.9L203.9 491.6M205.8 489.9L206.9 489.7M206.5 491.8L205.4 491.9M206.9 489.7L207.5 489.2M207 491.3L206.5 491.8M188.6 488.6L188.3 490.7M187.8 492.7L188.2 490.6M188.3 490.7L188.5 493.1M188.1 495.1L187.8 492.7M188.5 493.1L189.3 495.5M188.9 497.6L188.1 495.1M189.3 495.5L190.6 498M190.2 500L188.9 497.6M190.6 498L192.3 500.2M191.9 502.3L190.2 500M192.3 500.2L194.3 502.3M193.8 504.3L191.9 502.3M194.3 502.3L196.4 504M195.9 506L193.8 504.3M196.4 504L198.4 505.2M198 507.3L195.9 506M198.4 505.2L200.3 506.1M199.9 508.1L198 507.3M200.3 506.1L201.9 506.5M201.5 508.5L199.9 508.1M201.9 506.5L203.1 506.4M202.7 508.4L201.5 508.5M203.1 506.4L203.8 506M203.3 508L202.7 508.4M185.1 504.8L184.6 506.9M184.2 508.9L184.6 506.8M184.6 506.9L184.8 509.2M184.3 511.3L184.2 508.9M184.8 509.2L185.5 511.7M185 513.7L184.3 511.3M185.5 511.7L186.7 514.1M186.2 516.2L185 513.7M186.7 514.1L188.3 516.4M187.9 518.5L186.2 516.2" fill="none" stroke="#5a5a5a" stroke-width="1.1"/>
<path d="M214.2 372.9L214 375.1L213.5 377.1L213.7 374.9ZM214 375.1L214.4 377.5L213.9 379.5L213.5 377.1ZM214.4 377.5L215.3 379.9L214.8 382L213.9 379.5ZM215.3 379.9L216.7 382.3L216.2 384.4L214.8 382ZM216.7 382.3L218.5 384.6L218 386.6L216.2 384.4ZM218.5 384.6L220.5 386.5L220 388.5L218 386.6ZM220.5 386.5L222.6 388.1L222.1 390.1L220 388.5ZM222.6 388.1L224.6 389.3L224.2 391.3L222.1 390.1ZM224.6 389.3L226.4 390L226 392L224.2 391.3ZM226.4 390L227.9 390.3L227.5 392.3L226 392ZM227.9 390.3L229 390.1L228.6 392.1L227.5 392.3ZM229 390.1L229.5 389.6L229.1 391.6L228.6 392.1ZM210.6 389.1L210.3 391.3L209.8 393.3L210.1 391.1ZM210.3 391.3L210.6 393.6L210.1 395.7L209.8 393.3ZM210.6 393.6L211.4 396.1L211 398.1L210.1 395.7ZM211.4 396.1L212.7 398.5L212.3 400.5L211 398.1ZM212.7 398.5L214.5 400.8L214 402.8L212.3 400.5ZM214.5 400.8L216.4 402.8L216 404.8L214 402.8ZM216.4 402.8L218.5 404.5L218.1 406.5L216 404.8ZM218.5 404.5L220.6 405.7L220.1 407.7L218.1 406.5ZM220.6 405.7L222.5 406.5L222 408.5L220.1 407.7ZM222.5 406.5L224 406.9L223.6 408.9L222 408.5ZM224 406.9L225.2 406.8L224.7 408.8L223.6 408.9ZM225.2 406.8L225.8 406.3L225.3 408.3L224.7 408.8ZM207 405.3L206.6 407.5L206.2 409.5L206.6 407.4ZM206.6 407.5L206.8 409.8L206.4 411.8L206.2 409.5ZM206.8 409.8L207.6 412.3L207.1 414.3L206.4 411.8ZM207.6 412.3L208.8 414.7L208.4 416.7L207.1 414.3ZM208.8 414.7L210.5 417L210 419L208.4 416.7ZM210.5 417L212.4 419.1L211.9 421.1L210 419ZM212.4 419.1L214.5 420.8L214 422.8L211.9 421.1ZM214.5 420.8L216.6 422.1L216.1 424.2L214 422.8ZM216.6 422.1L218.5 423L218 425L216.1 424.2ZM218.5 423L220.1 423.4L219.7 425.5L218 425ZM220.1 423.4L221.3 423.4L220.9 425.4L219.7 425.5ZM221.3 423.4L222.1 423L221.6 425L220.9 425.4ZM203 423.7L203.1 426L202.6 428L202.6 425.7ZM203.1 426L203.7 428.4L203.3 430.4L202.6 428ZM203.7 428.4L204.9 430.9L204.4 432.9L203.3 430.4ZM204.9 430.9L206.5 433.2L206 435.2L204.4 432.9ZM206.5 433.2L208.4 435.3L207.9 437.3L206 435.2ZM208.4 435.3L210.4 437.1L210 439.1L207.9 437.3ZM210.4 437.1L212.5 438.5L212.1 440.5L210 439.1ZM212.5 438.5L214.5 439.5L214 441.5L212.1 440.5ZM214.5 439.5L216.2 440L215.7 442L214 441.5ZM216.2 440L217.5 440.1L217 442.1L215.7 442ZM217.5 440.1L218.3 439.7L217.9 441.7L217 442.1ZM218.3 439.7L218.6 439L218.1 441.1L217.9 441.7ZM199.4 439.9L199.3 442.2L198.9 444.2L198.9 441.9ZM199.3 442.2L199.9 444.6L199.4 446.6L198.9 444.2ZM199.9 444.6L201 447L200.5 449.1L199.4 446.6ZM201 447L202.5 449.4L202 451.4L200.5 449.1ZM202.5 449.4L204.3 451.6L203.9 453.6L202 451.4ZM204.3 451.6L206.4 453.4L205.9 455.4L203.9 453.6ZM206.4 453.4L208.5 454.9L208 456.9L205.9 455.4ZM208.5 454.9L210.5 456L210 458L208 456.9ZM210.5 456L212.2 456.5L211.8 458.6L210 458ZM212.2 456.5L213.6 456.7L213.2 458.7L211.8 458.6ZM213.6 456.7L214.5 456.4L214.1 458.4L213.2 458.7ZM214.5 456.4L214.9 455.8L214.4 457.8L214.1 458.4ZM195.8 456.1L195.6 458.3L195.2 460.4L195.3 458.1ZM195.6 458.3L196.1 460.7L195.6 462.8L195.2 460.4ZM196.1 460.7L197.1 463.2L196.6 465.2L195.6 462.8ZM197.1 463.2L198.5 465.6L198.1 467.6L196.6 465.2ZM198.5 465.6L200.3 467.8L199.9 469.8L198.1 467.6ZM200.3 467.8L202.3 469.7L201.9 471.7L199.9 469.8ZM202.3 469.7L204.5 471.3L204 473.3L201.9 471.7ZM204.5 471.3L206.5 472.4L206 474.4L204 473.3ZM206.5 472.4L208.3 473.1L207.8 475.1L206 474.4ZM208.3 473.1L209.7 473.3L209.3 475.3L207.8 475.1ZM209.7 473.3L210.7 473.1L210.3 475.1L209.3 475.3ZM210.7 473.1L211.2 472.5L210.7 474.5L210.3 475.1ZM192.2 472.3L192 474.5L191.5 476.5L191.7 474.4ZM192 474.5L192.3 476.9L191.9 478.9L191.5 476.5ZM192.3 476.9L193.2 479.4L192.7 481.4L191.9 478.9ZM193.2 479.4L194.6 481.8L194.1 483.8L192.7 481.4ZM194.6 481.8L196.3 484L195.9 486L194.1 483.8ZM196.3 484L198.3 486L197.9 488L195.9 486ZM198.3 486L200.4 487.6L200 489.6L197.9 488ZM200.4 487.6L202.5 488.8L202 490.9L200 489.6ZM202.5 488.8L204.3 489.6L203.9 491.6L202 490.9ZM204.3 489.6L205.8 489.9L205.4 491.9L203.9 491.6ZM205.8 489.9L206.9 489.7L206.5 491.8L205.4 491.9ZM206.9 489.7L207.5 489.2L207 491.3L206.5 491.8ZM188.6 488.6L188.3 490.7L187.8 492.7L188.2 490.6ZM188.3 490.7L188.5 493.1L188.1 495.1L187.8 492.7ZM188.5 493.1L189.3 495.5L188.9 497.6L188.1 495.1ZM189.3 495.5L190.6 498L190.2 500L188.9 497.6ZM190.6 498L192.3 500.2L191.9 502.3L190.2 500ZM192.3 500.2L194.3 502.3L193.8 504.3L191.9 502.3ZM194.3 502.3L196.4 504L195.9 506L193.8 504.3ZM196.4 504L198.4 505.2L198 507.3L195.9 506ZM198.4 505.2L200.3 506.1L199.9 508.1L198 507.3ZM200.3 506.1L201.9 506.5L201.5 508.5L199.9 508.1ZM201.9 506.5L203.1 506.4L202.7 508.4L201.5 508.5ZM203.1 506.4L203.8 506L203.3 508L202.7 508.4ZM185.1 504.8L184.6 506.9L184.2 508.9L184.6 506.8ZM184.6 506.9L184.8 509.2L184.3 511.3L184.2 508.9ZM184.8 509.2L185.5 511.7L185 513.7L184.3 511.3ZM185.5 511.7L186.7 514.1L186.2 516.2L185 513.7ZM186.7 514.1L188.3 516.4L187.9 518.5L186.2 516.2Z" fill="#8a8a8a" stroke="#8a8a8a" stroke-width="0.6"/>
<path d="M218.3 367L216.5 368.1M215.5 372.6L217.3 371.5M216.5 368.1L215.2 369.7M214.2 374.2L215.5 372.6M215.2 369.7L214.4 371.6M213.4 376.1L214.2 374.2M229.8 388.4L229.7 387.5M228.7 392L228.8 392.8M229.7 387.5L229.1 386.5M228.1 391L228.7 392M229.1 386.5L227.9 385.4M226.9 389.9L228.1 391M227.9 385.4L226.2 384.4M225.2 388.9L226.9 389.9M226.2 384.4L224.2 383.5M223.2 388L225.2 388.9M224.2 383.5L221.9 382.9M220.9 387.4L223.2 388M221.9 382.9L219.5 382.7M218.5 387.1L220.9 387.4M219.5 382.7L217.1 382.8M216.1 387.3L218.5 387.1M217.1 382.8L215 383.4M214 387.9L216.1 387.3M215 383.4L213.1 384.5M212.1 389L214 387.9M213.1 384.5L211.7 386M210.7 390.5L212.1 389M211.7 386L210.9 387.9M209.9 392.4L210.7 390.5M226.1 405.1L226.1 404.3M225.1 408.8L225.1 409.6M226.1 404.3L225.6 403.3M224.6 407.8L225.1 408.8M225.6 403.3L224.5 402.2M223.5 406.7L224.6 407.8M224.5 402.2L222.9 401.2M221.9 405.7L223.5 406.7M222.9 401.2L220.9 400.3M219.9 404.8L221.9 405.7M220.9 400.3L218.7 399.6M217.7 404.1L219.9 404.8M218.7 399.6L216.3 399.3M215.3 403.8L217.7 404.1M216.3 399.3L213.9 399.4M212.9 403.8L215.3 403.8M213.9 399.4L211.7 399.9M210.7 404.4L212.9 403.8M211.7 399.9L209.8 400.9M208.8 405.4L210.7 404.4M209.8 400.9L208.3 402.3M207.3 406.8L208.8 405.4M208.3 402.3L207.3 404.1M206.3 408.6L207.3 406.8M222.3 421.8L222.5 421.1M221.5 425.5L221.3 426.3M222.5 421.1L222 420.1M221.1 424.6L221.5 425.5M222 420.1L221.1 419M220.1 423.5L221.1 424.6M221.1 419L219.5 418M218.6 422.4L220.1 423.5M219.5 418L217.6 417M216.6 421.5L218.6 422.4M217.6 417L215.4 416.3M214.4 420.8L216.6 421.5M215.4 416.3L213 415.9M212 420.4L214.4 420.8M213 415.9L210.6 415.9M209.6 420.4L212 420.4M210.6 415.9L208.4 416.4M207.4 420.8L209.6 420.4M208.4 416.4L206.4 417.3M205.4 421.8L207.4 420.8M206.4 417.3L204.8 418.6M203.9 423.1L205.4 421.8M204.8 418.6L203.8 420.4M202.8 424.9L203.9 423.1M203.8 420.4L203.3 422.4M202.3 426.9L202.8 424.9M218.8 437.8L218.5 436.9M217.5 441.4L217.8 442.3M218.5 436.9L217.6 435.8M216.6 440.3L217.5 441.4M217.6 435.8L216.2 434.7M215.2 439.2L216.6 440.3M216.2 434.7L214.3 433.8M213.3 438.3L215.2 439.2M214.3 433.8L212.1 433M211.2 437.5L213.3 438.3M212.1 433L209.8 432.5M208.8 437L211.2 437.5M209.8 432.5L207.4 432.5M206.4 437L208.8 437M207.4 432.5L205.1 432.8M204.1 437.3L206.4 437M205.1 432.8L203.1 433.7M202.1 438.2L204.1 437.3M203.1 433.7L201.4 434.9M200.4 439.4L202.1 438.2M201.4 434.9L200.3 436.6M199.3 441.1L200.4 439.4M200.3 436.6L199.6 438.6M198.7 443.1L199.3 441.1M211.5 471.3L211.3 470.4M210.4 474.9L210.5 475.8M211.3 470.4L210.6 469.4M209.7 473.9L210.4 474.9M210.6 469.4L209.4 468.3M208.4 472.8L209.7 473.9M193.3 469.2L192.5 471.1M191.5 475.6L192.3 473.7M207.8 488L207.7 487.2M206.7 491.7L206.8 492.5M207.7 487.2L207.1 486.2M206.2 490.7L206.7 491.7M207.1 486.2L206 485.1M205 489.6L206.2 490.7M206 485.1L204.4 484.1M203.4 488.6L205 489.6M204.4 484.1L202.3 483.2M201.3 487.7L203.4 488.6M202.3 483.2L200.1 482.5M199.1 487L201.3 487.7M200.1 482.5L197.7 482.3M196.7 486.8L199.1 487M197.7 482.3L195.3 482.4M194.3 486.9L196.7 486.8M195.3 482.4L193.1 483M192.1 487.5L194.3 486.9M193.1 483L191.2 484M190.2 488.5L192.1 487.5M191.2 484L189.8 485.5M188.8 490L190.2 488.5M189.8 485.5L188.9 487.3M187.9 491.8L188.8 490M204 504.7L204.1 504M203.1 508.4L203 509.2M204.1 504L203.6 503M202.6 507.5L203.1 508.4M203.6 503L202.6 501.9M201.6 506.4L202.6 507.5M202.6 501.9L201 500.8M200 505.3L201.6 506.4M201 500.8L199 499.9M198.1 504.4L200 505.3M199 499.9L196.8 499.2M195.8 503.7L198.1 504.4M196.8 499.2L194.4 498.9M193.4 503.4L195.8 503.7M194.4 498.9L192 498.9M191 503.4L193.4 503.4M192 498.9L189.8 499.4M188.8 503.9L191 503.4M189.8 499.4L187.9 500.4M186.9 504.9L188.8 503.9M187.9 500.4L186.4 501.8M185.4 506.3L186.9 504.9M186.4 501.8L185.3 503.6M184.4 508.1L185.4 506.3" fill="none" stroke="#5a5a5a" stroke-width="1.1"/>
<path d="M218.3 367L216.5 368.1L215.5 372.6L217.3 371.5ZM216.5 368.1L215.2 369.7L214.2 374.2L215.5 372.6ZM215.2 369.7L214.4 371.6L213.4 376.1L214.2 374.2ZM229.8 388.4L229.7 387.5L228.7 392L228.8 392.8ZM229.7 387.5L229.1 386.5L228.1 391L228.7 392ZM229.1 386.5L227.9 385.4L226.9 389.9L228.1 391ZM227.9 385.4L226.2 384.4L225.2 388.9L226.9 389.9ZM226.2 384.4L224.2 383.5L223.2 388L225.2 388.9ZM224.2 383.5L221.9 382.9L220.9 387.4L223.2 388ZM221.9 382.9L219.5 382.7L218.5 387.1L220.9 387.4ZM219.5 382.7L217.1 382.8L216.1 387.3L218.5 387.1ZM217.1 382.8L215 383.4L214 387.9L216.1 387.3ZM215 383.4L213.1 384.5L212.1 389L214 387.9ZM213.1 384.5L211.7 386L210.7 390.5L212.1 389ZM211.7 386L210.9 387.9L209.9 392.4L210.7 390.5ZM226.1 405.1L226.1 404.3L225.1 408.8L225.1 409.6ZM226.1 404.3L225.6 403.3L224.6 407.8L225.1 408.8ZM225.6 403.3L224.5 402.2L223.5 406.7L224.6 407.8ZM224.5 402.2L222.9 401.2L221.9 405.7L223.5 406.7ZM222.9 401.2L220.9 400.3L219.9 404.8L221.9 405.7ZM220.9 400.3L218.7 399.6L217.7 404.1L219.9 404.8ZM218.7 399.6L216.3 399.3L215.3 403.8L217.7 404.1ZM216.3 399.3L213.9 399.4L212.9 403.8L215.3 403.8ZM213.9 399.4L211.7 399.9L210.7 404.4L212.9 403.8ZM211.7 399.9L209.8 400.9L208.8 405.4L210.7 404.4ZM209.8 400.9L208.3 402.3L207.3 406.8L208.8 405.4ZM208.3 402.3L207.3 404.1L206.3 408.6L207.3 406.8ZM222.3 421.8L222.5 421.1L221.5 425.5L221.3 426.3ZM222.5 421.1L222 420.1L221.1 424.6L221.5 425.5ZM222 420.1L221.1 419L220.1 423.5L221.1 424.6ZM221.1 419L219.5 418L218.6 422.4L220.1 423.5ZM219.5 418L217.6 417L216.6 421.5L218.6 422.4ZM217.6 417L215.4 416.3L214.4 420.8L216.6 421.5ZM215.4 416.3L213 415.9L212 420.4L214.4 420.8ZM213 415.9L210.6 415.9L209.6 420.4L212 420.4ZM210.6 415.9L208.4 416.4L207.4 420.8L209.6 420.4ZM208.4 416.4L206.4 417.3L205.4 421.8L207.4 420.8ZM206.4 417.3L204.8 418.6L203.9 423.1L205.4 421.8ZM204.8 418.6L203.8 420.4L202.8 424.9L203.9 423.1ZM203.8 420.4L203.3 422.4L202.3 426.9L202.8 424.9ZM218.8 437.8L218.5 436.9L217.5 441.4L217.8 442.3ZM218.5 436.9L217.6 435.8L216.6 440.3L217.5 441.4ZM217.6 435.8L216.2 434.7L215.2 439.2L216.6 440.3ZM216.2 434.7L214.3 433.8L213.3 438.3L215.2 439.2ZM214.3 433.8L212.1 433L211.2 437.5L213.3 438.3ZM212.1 433L209.8 432.5L208.8 437L211.2 437.5ZM209.8 432.5L207.4 432.5L206.4 437L208.8 437ZM207.4 432.5L205.1 432.8L204.1 437.3L206.4 437ZM205.1 432.8L203.1 433.7L202.1 438.2L204.1 437.3ZM203.1 433.7L201.4 434.9L200.4 439.4L202.1 438.2ZM201.4 434.9L200.3 436.6L199.3 441.1L200.4 439.4ZM200.3 436.6L199.6 438.6L198.7 443.1L199.3 441.1ZM211.5 471.3L211.3 470.4L210.4 474.9L210.5 475.8ZM211.3 470.4L210.6 469.4L209.7 473.9L210.4 474.9ZM210.6 469.4L209.4 468.3L208.4 472.8L209.7 473.9ZM193.3 469.2L192.5 471.1L191.5 475.6L192.3 473.7ZM207.8 488L207.7 487.2L206.7 491.7L206.8 492.5ZM207.7 487.2L207.1 486.2L206.2 490.7L206.7 491.7ZM207.1 486.2L206 485.1L205 489.6L206.2 490.7ZM206 485.1L204.4 484.1L203.4 488.6L205 489.6ZM204.4 484.1L202.3 483.2L201.3 487.7L203.4 488.6ZM202.3 483.2L200.1 482.5L199.1 487L201.3 487.7ZM200.1 482.5L197.7 482.3L196.7 486.8L199.1 487ZM197.7 482.3L195.3 482.4L194.3 486.9L196.7 486.8ZM195.3 482.4L193.1 483L192.1 487.5L194.3 486.9ZM193.1 483L191.2 484L190.2 488.5L192.1 487.5ZM191.2 484L189.8 485.5L188.8 490L190.2 488.5ZM189.8 485.5L188.9 487.3L187.9 491.8L188.8 490ZM204 504.7L204.1 504L203.1 508.4L203 509.2ZM204.1 504L203.6 503L202.6 507.5L203.1 508.4ZM203.6 503L202.6 501.9L201.6 506.4L202.6 507.5ZM202.6 501.9L201 500.8L200 505.3L201.6 506.4ZM201 500.8L199 499.9L198.1 504.4L200 505.3ZM199 499.9L196.8 499.2L195.8 503.7L198.1 504.4ZM196.8 499.2L194.4 498.9L193.4 503.4L195.8 503.7ZM194.4 498.9L192 498.9L191 503.4L193.4 503.4ZM192 498.9L189.8 499.4L188.8 503.9L191 503.4ZM189.8 499.4L187.9 500.4L186.9 504.9L188.8 503.9ZM187.9 500.4L186.4 501.8L185.4 506.3L186.9 504.9ZM186.4 501.8L185.3 503.6L184.4 508.1L185.4 506.3Z" fill="#b4b4b4" stroke="#b4b4b4" stroke-width="0.6"/>
<path d="M215.2 454.5L214.9 453.7M213.9 458.1L214.2 459M214.9 453.7L214.1 452.6M213.1 457.1L213.9 458.1M214.1 452.6L212.8 451.5M211.8 456L213.1 457.1M212.8 451.5L211 450.5M210 455L211.8 456M211 450.5L208.9 449.7M207.9 454.2L210 455M208.9 449.7L206.5 449.2M205.5 453.7L207.9 454.2M206.5 449.2L204.1 449.1M203.1 453.5L205.5 453.7M204.1 449.1L201.8 449.3M200.8 453.8L203.1 453.5M201.8 449.3L199.7 450.1M198.7 454.6L200.8 453.8M199.7 450.1L198 451.3M197 455.8L198.7 454.6M198 451.3L196.8 452.9M195.8 457.4L197 455.8M196.8 452.9L196 454.9M195.1 459.4L195.8 457.4M209.4 468.3L207.7 467.3M206.7 471.8L208.4 472.8M207.7 467.3L205.6 466.4M204.6 470.9L206.7 471.8M205.6 466.4L203.3 465.9M202.3 470.4L204.6 470.9M203.3 465.9L200.9 465.7M199.9 470.1L202.3 470.4M200.9 465.7L198.5 465.9M197.6 470.4L199.9 470.1M198.5 465.9L196.4 466.5M195.4 471L197.6 470.4M196.4 466.5L194.6 467.6M193.6 472.1L195.4 471M194.6 467.6L193.3 469.2M192.3 473.7L193.6 472.1" fill="none" stroke="#b06a18" stroke-width="1.1"/>
<path d="M215.2 454.5L214.9 453.7L213.9 458.1L214.2 459ZM214.9 453.7L214.1 452.6L213.1 457.1L213.9 458.1ZM214.1 452.6L212.8 451.5L211.8 456L213.1 457.1ZM212.8 451.5L211 450.5L210 455L211.8 456ZM211 450.5L208.9 449.7L207.9 454.2L210 455ZM208.9 449.7L206.5 449.2L205.5 453.7L207.9 454.2ZM206.5 449.2L204.1 449.1L203.1 453.5L205.5 453.7ZM204.1 449.1L201.8 449.3L200.8 453.8L203.1 453.5ZM201.8 449.3L199.7 450.1L198.7 454.6L200.8 453.8ZM199.7 450.1L198 451.3L197 455.8L198.7 454.6ZM198 451.3L196.8 452.9L195.8 457.4L197 455.8ZM196.8 452.9L196 454.9L195.1 459.4L195.8 457.4ZM209.4 468.3L207.7 467.3L206.7 471.8L208.4 472.8ZM207.7 467.3L205.6 466.4L204.6 470.9L206.7 471.8ZM205.6 466.4L203.3 465.9L202.3 470.4L204.6 470.9ZM203.3 465.9L200.9 465.7L199.9 470.1L202.3 470.4ZM200.9 465.7L198.5 465.9L197.6 470.4L199.9 470.1ZM198.5 465.9L196.4 466.5L195.4 471L197.6 470.4ZM196.4 466.5L194.6 467.6L193.6 472.1L195.4 471ZM194.6 467.6L193.3 469.2L192.3 473.7L193.6 472.1Z" fill="#ec963e" stroke="#ec963e" stroke-width="0.6"/>
<path d="M118.8,441.4 L122.3,444.0 L127.5,443.1 L131.0,447.5 L130.1,452.8" stroke="#c0650a" stroke-width="2.1"/>
<path d="M118.8,441.4 L122.3,444.0 L127.5,443.1 L131.0,447.5 L130.1,452.8" stroke="#ee8d2a" stroke-width="1.2"/>
<path d="M134.0,458.0 L136.3,460.7 L138.9,465.0" stroke="#c0650a" stroke-width="2.1"/>
<path d="M134.0,458.0 L136.3,460.7 L138.9,465.0" stroke="#ee8d2a" stroke-width="1.2"/>
<path d="M139.0,469.0 L142.4,472.0" stroke="#c0650a" stroke-width="2.1"/>
<path d="M139.0,469.0 L142.4,472.0" stroke="#ee8d2a" stroke-width="1.2"/>
<path d="M211.5,443.0 L206.4,446.6 L204.0,451.0" stroke="#c0650a" stroke-width="2.1"/>
<path d="M211.5,443.0 L206.4,446.6 L204.0,451.0" stroke="#ee8d2a" stroke-width="1.2"/>
<path d="M202.9,458.0 L197.6,461.5 L196.0,465.0" stroke="#c0650a" stroke-width="2.1"/>
<path d="M202.9,458.0 L197.6,461.5 L196.0,465.0" stroke="#ee8d2a" stroke-width="1.2"/>
<path d="M196.0,470.0 L194.1,472.5" stroke="#c0650a" stroke-width="2.1"/>
<path d="M196.0,470.0 L194.1,472.5" stroke="#ee8d2a" stroke-width="1.2"/>
<path d="M211.5,443.0 L211.2,439.4 L214.5,437.6 L217.9,439.4 L218.2,443.0 L215.0,444.8 L211.5,443.0" stroke="#c0650a" stroke-width="2.1"/>
<path d="M211.5,443.0 L211.2,439.4 L214.5,437.6 L217.9,439.4 L218.2,443.0 L215.0,444.8 L211.5,443.0" stroke="#ee8d2a" stroke-width="1.2"/></g></g>
<line x1="29.20" y1="383.60" x2="132.80" y2="383.60" stroke="#111" stroke-width="1.3" />
<line x1="29.20" y1="430.60" x2="132.80" y2="430.60" stroke="#111" stroke-width="1.3" />
<line x1="48.00" y1="384.60" x2="48.00" y2="429.60" stroke="#111" stroke-width="1.2" />
<path d="M48,384.5 L45.8,389.8 L50.2,389.8 Z" fill="#111"/>
<path d="M48,429.70000000000005 L45.8,424.40000000000003 L50.2,424.40000000000003 Z" fill="#111"/>
<rect x="23" y="397.6" width="47" height="19.4" fill="#fff"/>
<text transform="translate(24.50,411.60) scale(1,1.05)" font-size="14.2" text-anchor="start" font-weight="bold" fill="#111" >1.6 nm</text>
<line x1="29.20" y1="589.60" x2="134.40" y2="589.60" stroke="#111" stroke-width="1.3" />
<line x1="29.20" y1="711.60" x2="134.40" y2="711.60" stroke="#111" stroke-width="1.3" />
<line x1="48.00" y1="590.60" x2="48.00" y2="710.60" stroke="#111" stroke-width="1.2" />
<path d="M48,590.5 L45.8,595.8000000000001 L50.2,595.8000000000001 Z" fill="#111"/>
<path d="M48,710.7 L45.8,705.4 L50.2,705.4 Z" fill="#111"/>
<rect x="23" y="640.4" width="47" height="19.4" fill="#fff"/>
<text transform="translate(24.50,654.40) scale(1,1.05)" font-size="14.2" text-anchor="start" font-weight="bold" fill="#111" >3.2 nm</text>
<path d="M281.4,413.8 L350.6,413.8 L350.6,400.1 L379.1,427.8 L350.6,455.5 L350.6,441.5 L281.4,441.5 Z" fill="#d9d9d9" stroke="#222" stroke-width="1.1" stroke-linejoin="miter"/>
<text transform="translate(318.90,434.80) scale(1,1.05)" font-size="15.2" text-anchor="middle" font-weight="normal" fill="#111" >SF</text>
<path d="M282.2,620.3 L349.7,620.3 L349.7,606.6 L378.3,634.3 L349.7,662.3 L349.7,648.3 L282.2,648.3 Z" fill="#d9d9d9" stroke="#222" stroke-width="1.1" stroke-linejoin="miter"/>
<text transform="translate(320.70,639.20) scale(1,1.05)" font-size="15.2" text-anchor="middle" font-weight="normal" fill="#111" >Pore</text>
<rect x="429.70" y="390.15" width="17.2" height="112.75" fill="#f1767c"/>
<rect x="446.90" y="412.83" width="17.2" height="90.07" fill="#62a9fd"/>
<rect x="498.20" y="389.18" width="17.2" height="113.72" fill="#f1767c"/>
<rect x="515.40" y="410.56" width="17.2" height="92.34" fill="#62a9fd"/>
<rect x="566.80" y="403.43" width="17.2" height="99.47" fill="#f1767c"/>
<rect x="584.00" y="414.77" width="17.2" height="88.13" fill="#62a9fd"/>
<rect x="635.30" y="391.44" width="17.2" height="111.46" fill="#f1767c"/>
<rect x="652.50" y="426.11" width="17.2" height="76.79" fill="#62a9fd"/>
<text transform="translate(438.30,460.70) scale(1,1.05)" font-size="11" text-anchor="middle" font-weight="bold" fill="#fff" >3.5</text>
<text transform="translate(455.50,460.70) scale(1,1.05)" font-size="11" text-anchor="middle" font-weight="bold" fill="#fff" >2.8</text>
<text transform="translate(506.80,460.70) scale(1,1.05)" font-size="11" text-anchor="middle" font-weight="bold" fill="#fff" >3.5</text>
<text transform="translate(524.00,460.70) scale(1,1.05)" font-size="11" text-anchor="middle" font-weight="bold" fill="#fff" >2.9</text>
<text transform="translate(575.40,460.70) scale(1,1.05)" font-size="11" text-anchor="middle" font-weight="bold" fill="#fff" >3.1</text>
<text transform="translate(592.60,460.70) scale(1,1.05)" font-size="11" text-anchor="middle" font-weight="bold" fill="#fff" >2.7</text>
<text transform="translate(643.90,460.70) scale(1,1.05)" font-size="11" text-anchor="middle" font-weight="bold" fill="#fff" >3.4</text>
<text transform="translate(661.10,460.70) scale(1,1.05)" font-size="11" text-anchor="middle" font-weight="bold" fill="#fff" >2.4</text>
<line x1="418.00" y1="350.50" x2="418.00" y2="503.50" stroke="#111" stroke-width="1.3" />
<line x1="417.40" y1="502.90" x2="681.80" y2="502.90" stroke="#111" stroke-width="1.3" />
<line x1="415.40" y1="502.90" x2="418.00" y2="502.90" stroke="#111" stroke-width="1.1" />
<text transform="translate(411.70,508.10) scale(1,1.07)" font-size="14.5" text-anchor="end" font-weight="normal" fill="#111" >0</text>
<line x1="415.40" y1="470.50" x2="418.00" y2="470.50" stroke="#111" stroke-width="1.1" />
<text transform="translate(411.70,475.70) scale(1,1.07)" font-size="14.5" text-anchor="end" font-weight="normal" fill="#111" >1</text>
<line x1="415.40" y1="438.10" x2="418.00" y2="438.10" stroke="#111" stroke-width="1.1" />
<text transform="translate(411.70,443.30) scale(1,1.07)" font-size="14.5" text-anchor="end" font-weight="normal" fill="#111" >2</text>
<line x1="415.40" y1="405.70" x2="418.00" y2="405.70" stroke="#111" stroke-width="1.1" />
<text transform="translate(411.70,410.90) scale(1,1.07)" font-size="14.5" text-anchor="end" font-weight="normal" fill="#111" >3</text>
<line x1="415.40" y1="373.30" x2="418.00" y2="373.30" stroke="#111" stroke-width="1.1" />
<text transform="translate(411.70,378.50) scale(1,1.07)" font-size="14.5" text-anchor="end" font-weight="normal" fill="#111" >4</text>
<line x1="446.90" y1="502.90" x2="446.90" y2="507.10" stroke="#111" stroke-width="1.1" />
<text transform="translate(445.90,521.60) scale(1,1.1)" font-size="14.2" text-anchor="middle" font-weight="normal" fill="#111" >-200 mV</text>
<line x1="515.40" y1="502.90" x2="515.40" y2="507.10" stroke="#111" stroke-width="1.1" />
<text transform="translate(514.40,521.60) scale(1,1.1)" font-size="14.2" text-anchor="middle" font-weight="normal" fill="#111" >-100 mV</text>
<line x1="584.00" y1="502.90" x2="584.00" y2="507.10" stroke="#111" stroke-width="1.1" />
<text transform="translate(583.00,521.60) scale(1,1.1)" font-size="14.2" text-anchor="middle" font-weight="normal" fill="#111" >+100 mV</text>
<line x1="652.50" y1="502.90" x2="652.50" y2="507.10" stroke="#111" stroke-width="1.1" />
<text transform="translate(651.50,521.60) scale(1,1.1)" font-size="14.2" text-anchor="middle" font-weight="normal" fill="#111" >+200 mV</text>
<text transform="translate(394.70,434.70) rotate(-90) scale(1,1.1)" font-size="15.5" text-anchor="middle" font-weight="normal" fill="#111" >Ion number</text>
<line x1="438.40" y1="379.40" x2="438.40" y2="400.30" stroke="#111" stroke-width="1.3" />
<line x1="435.20" y1="379.40" x2="441.60" y2="379.40" stroke="#111" stroke-width="1.3" />
<line x1="435.20" y1="400.30" x2="441.60" y2="400.30" stroke="#111" stroke-width="1.3" />
<circle cx="440.30" cy="379.40" r="1.45" fill="#333"/>
<circle cx="436.20" cy="388.90" r="1.45" fill="#333"/>
<circle cx="438.40" cy="391.80" r="1.45" fill="#333"/>
<circle cx="435.90" cy="408.30" r="1.45" fill="#333"/>
<line x1="455.60" y1="395.20" x2="455.60" y2="430.50" stroke="#111" stroke-width="1.3" />
<line x1="452.40" y1="395.20" x2="458.80" y2="395.20" stroke="#111" stroke-width="1.3" />
<line x1="452.40" y1="430.50" x2="458.80" y2="430.50" stroke="#111" stroke-width="1.3" />
<circle cx="453.00" cy="394.30" r="1.45" fill="#333"/>
<circle cx="456.20" cy="399.90" r="1.45" fill="#333"/>
<circle cx="455.90" cy="402.00" r="1.45" fill="#333"/>
<circle cx="453.70" cy="430.50" r="1.45" fill="#333"/>
<circle cx="455.90" cy="437.50" r="1.45" fill="#333"/>
<line x1="506.60" y1="373.80" x2="506.60" y2="404.10" stroke="#111" stroke-width="1.3" />
<line x1="503.40" y1="373.80" x2="509.80" y2="373.80" stroke="#111" stroke-width="1.3" />
<line x1="503.40" y1="404.10" x2="509.80" y2="404.10" stroke="#111" stroke-width="1.3" />
<circle cx="510.10" cy="378.60" r="1.45" fill="#333"/>
<circle cx="503.20" cy="388.00" r="1.45" fill="#333"/>
<circle cx="503.60" cy="397.70" r="1.45" fill="#333"/>
<circle cx="509.40" cy="412.60" r="1.45" fill="#333"/>
<circle cx="507.70" cy="368.70" r="1.45" fill="#333"/>
<line x1="523.40" y1="399.80" x2="523.40" y2="421.50" stroke="#111" stroke-width="1.3" />
<line x1="520.20" y1="399.80" x2="526.60" y2="399.80" stroke="#111" stroke-width="1.3" />
<line x1="520.20" y1="421.50" x2="526.60" y2="421.50" stroke="#111" stroke-width="1.3" />
<circle cx="528.20" cy="396.40" r="1.45" fill="#333"/>
<circle cx="525.50" cy="406.20" r="1.45" fill="#333"/>
<circle cx="523.20" cy="410.30" r="1.45" fill="#333"/>
<circle cx="528.90" cy="429.40" r="1.45" fill="#333"/>
<line x1="575.20" y1="393.50" x2="575.20" y2="413.40" stroke="#111" stroke-width="1.3" />
<line x1="572.00" y1="393.50" x2="578.40" y2="393.50" stroke="#111" stroke-width="1.3" />
<line x1="572.00" y1="413.40" x2="578.40" y2="413.40" stroke="#111" stroke-width="1.3" />
<circle cx="576.80" cy="384.80" r="1.45" fill="#333"/>
<circle cx="574.10" cy="400.00" r="1.45" fill="#333"/>
<circle cx="574.10" cy="409.60" r="1.45" fill="#333"/>
<circle cx="575.70" cy="411.00" r="1.45" fill="#333"/>
<line x1="592.20" y1="406.60" x2="592.20" y2="422.30" stroke="#111" stroke-width="1.3" />
<line x1="589.00" y1="406.60" x2="595.40" y2="406.60" stroke="#111" stroke-width="1.3" />
<line x1="589.00" y1="422.30" x2="595.40" y2="422.30" stroke="#111" stroke-width="1.3" />
<circle cx="595.50" cy="399.40" r="1.45" fill="#333"/>
<circle cx="590.20" cy="414.40" r="1.45" fill="#333"/>
<circle cx="591.20" cy="419.10" r="1.45" fill="#333"/>
<circle cx="597.30" cy="420.50" r="1.45" fill="#333"/>
<line x1="643.70" y1="380.60" x2="643.70" y2="402.00" stroke="#111" stroke-width="1.3" />
<line x1="640.50" y1="380.60" x2="646.90" y2="380.60" stroke="#111" stroke-width="1.3" />
<line x1="640.50" y1="402.00" x2="646.90" y2="402.00" stroke="#111" stroke-width="1.3" />
<circle cx="641.40" cy="375.50" r="1.45" fill="#333"/>
<circle cx="642.30" cy="382.30" r="1.45" fill="#333"/>
<circle cx="643.40" cy="397.30" r="1.45" fill="#333"/>
<circle cx="641.40" cy="398.90" r="1.45" fill="#333"/>
<circle cx="643.40" cy="402.50" r="1.45" fill="#333"/>
<line x1="661.10" y1="418.80" x2="661.10" y2="433.40" stroke="#111" stroke-width="1.3" />
<line x1="657.90" y1="418.80" x2="664.30" y2="418.80" stroke="#111" stroke-width="1.3" />
<line x1="657.90" y1="433.40" x2="664.30" y2="433.40" stroke="#111" stroke-width="1.3" />
<circle cx="657.50" cy="414.70" r="1.45" fill="#333"/>
<circle cx="662.50" cy="422.50" r="1.45" fill="#333"/>
<circle cx="657.00" cy="427.00" r="1.45" fill="#333"/>
<circle cx="661.50" cy="434.10" r="1.45" fill="#333"/>
<circle cx="658.40" cy="433.10" r="1.45" fill="#333"/>
<polyline points="437.40,375.80 437.40,372.40 455.60,372.40 455.60,375.80" fill="none" stroke="#222" stroke-width="1.1"/>
<text transform="translate(446.50,368.50) scale(1,1.05)" font-size="12" text-anchor="middle" font-weight="normal" fill="#222" >ns</text>
<polyline points="506.40,369.70 506.40,366.20 524.10,366.20 524.10,369.70" fill="none" stroke="#222" stroke-width="1.1"/>
<text transform="translate(515.25,367.80) scale(1,1.05)" font-size="12" text-anchor="middle" font-weight="normal" fill="#222" >*</text>
<polyline points="575.20,389.40 575.20,386.40 592.50,386.40 592.50,389.40" fill="none" stroke="#222" stroke-width="1.1"/>
<text transform="translate(583.85,384.30) scale(1,1.05)" font-size="12" text-anchor="middle" font-weight="normal" fill="#222" >ns</text>
<polyline points="643.40,373.10 643.40,369.60 661.50,369.60 661.50,373.10" fill="none" stroke="#222" stroke-width="1.1"/>
<text transform="translate(652.45,371.00) scale(1,1.05)" font-size="12" text-anchor="middle" font-weight="normal" fill="#222" >***</text>
<rect x="578.8" y="329.6" width="21.0" height="7.2999999999999545" fill="#f1767c"/>
<rect x="642.5" y="329.6" width="21.0" height="7.2999999999999545" fill="#62a9fd"/>
<text transform="translate(603.60,339.60) scale(1,1.05)" font-size="15" text-anchor="start" font-weight="normal" fill="#111" >Na<tspan font-size="9.5" dy="-6.5">+</tspan></text>
<text transform="translate(668.20,339.60) scale(1,1.05)" font-size="15" text-anchor="start" font-weight="normal" fill="#111" >K<tspan font-size="9.5" dy="-6.5">+</tspan></text>
<rect x="428.20" y="589.38" width="17.2" height="124.12" fill="#f1767c"/>
<rect x="445.40" y="623.98" width="17.2" height="89.52" fill="#62a9fd"/>
<rect x="497.80" y="594.52" width="17.2" height="118.98" fill="#f1767c"/>
<rect x="515.00" y="623.98" width="17.2" height="89.52" fill="#62a9fd"/>
<rect x="567.00" y="609.97" width="17.2" height="103.53" fill="#f1767c"/>
<rect x="584.20" y="632.56" width="17.2" height="80.94" fill="#62a9fd"/>
<rect x="636.60" y="604.53" width="17.2" height="108.97" fill="#f1767c"/>
<rect x="653.80" y="644.29" width="17.2" height="69.21" fill="#62a9fd"/>
<text transform="translate(436.80,672.20) scale(1,1.05)" font-size="11" text-anchor="middle" font-weight="bold" fill="#fff" >4.3</text>
<text transform="translate(454.00,672.20) scale(1,1.05)" font-size="11" text-anchor="middle" font-weight="bold" fill="#fff" >3.1</text>
<text transform="translate(506.40,672.20) scale(1,1.05)" font-size="11" text-anchor="middle" font-weight="bold" fill="#fff" >4.2</text>
<text transform="translate(523.60,672.20) scale(1,1.05)" font-size="11" text-anchor="middle" font-weight="bold" fill="#fff" >3.1</text>
<text transform="translate(575.60,672.20) scale(1,1.05)" font-size="11" text-anchor="middle" font-weight="bold" fill="#fff" >3.6</text>
<text transform="translate(592.80,672.20) scale(1,1.05)" font-size="11" text-anchor="middle" font-weight="bold" fill="#fff" >2.8</text>
<text transform="translate(645.20,672.20) scale(1,1.05)" font-size="11" text-anchor="middle" font-weight="bold" fill="#fff" >3.8</text>
<text transform="translate(662.40,672.20) scale(1,1.05)" font-size="11" text-anchor="middle" font-weight="bold" fill="#fff" >2.5</text>
<line x1="416.20" y1="561.20" x2="416.20" y2="714.10" stroke="#111" stroke-width="1.3" />
<line x1="415.60" y1="713.50" x2="683.50" y2="713.50" stroke="#111" stroke-width="1.3" />
<line x1="413.60" y1="713.50" x2="416.20" y2="713.50" stroke="#111" stroke-width="1.1" />
<text transform="translate(409.90,718.70) scale(1,1.07)" font-size="14.5" text-anchor="end" font-weight="normal" fill="#111" >0</text>
<line x1="413.60" y1="684.90" x2="416.20" y2="684.90" stroke="#111" stroke-width="1.1" />
<text transform="translate(409.90,690.10) scale(1,1.07)" font-size="14.5" text-anchor="end" font-weight="normal" fill="#111" >1</text>
<line x1="413.60" y1="656.30" x2="416.20" y2="656.30" stroke="#111" stroke-width="1.1" />
<text transform="translate(409.90,661.50) scale(1,1.07)" font-size="14.5" text-anchor="end" font-weight="normal" fill="#111" >2</text>
<line x1="413.60" y1="627.70" x2="416.20" y2="627.70" stroke="#111" stroke-width="1.1" />
<text transform="translate(409.90,632.90) scale(1,1.07)" font-size="14.5" text-anchor="end" font-weight="normal" fill="#111" >3</text>
<line x1="413.60" y1="599.10" x2="416.20" y2="599.10" stroke="#111" stroke-width="1.1" />
<text transform="translate(409.90,604.30) scale(1,1.07)" font-size="14.5" text-anchor="end" font-weight="normal" fill="#111" >4</text>
<line x1="413.60" y1="570.50" x2="416.20" y2="570.50" stroke="#111" stroke-width="1.1" />
<text transform="translate(409.90,575.70) scale(1,1.07)" font-size="14.5" text-anchor="end" font-weight="normal" fill="#111" >5</text>
<line x1="445.40" y1="713.50" x2="445.40" y2="717.70" stroke="#111" stroke-width="1.1" />
<text transform="translate(442.80,730.80) scale(1,1.1)" font-size="14.2" text-anchor="middle" font-weight="normal" fill="#111" >-200 mV</text>
<line x1="515.00" y1="713.50" x2="515.00" y2="717.70" stroke="#111" stroke-width="1.1" />
<text transform="translate(512.40,730.80) scale(1,1.1)" font-size="14.2" text-anchor="middle" font-weight="normal" fill="#111" >-100 mV</text>
<line x1="584.20" y1="713.50" x2="584.20" y2="717.70" stroke="#111" stroke-width="1.1" />
<text transform="translate(581.60,730.80) scale(1,1.1)" font-size="14.2" text-anchor="middle" font-weight="normal" fill="#111" >+100 mV</text>
<line x1="653.80" y1="713.50" x2="653.80" y2="717.70" stroke="#111" stroke-width="1.1" />
<text transform="translate(651.20,730.80) scale(1,1.1)" font-size="14.2" text-anchor="middle" font-weight="normal" fill="#111" >+200 mV</text>
<text transform="translate(392.90,641.40) rotate(-90) scale(1,1.1)" font-size="15.5" text-anchor="middle" font-weight="normal" fill="#111" >Ion number</text>
<line x1="438.10" y1="577.70" x2="438.10" y2="600.10" stroke="#111" stroke-width="1.3" />
<line x1="434.90" y1="577.70" x2="441.30" y2="577.70" stroke="#111" stroke-width="1.3" />
<line x1="434.90" y1="600.10" x2="441.30" y2="600.10" stroke="#111" stroke-width="1.3" />
<circle cx="437.70" cy="574.00" r="1.45" fill="#333"/>
<circle cx="432.30" cy="584.50" r="1.45" fill="#333"/>
<circle cx="438.10" cy="585.00" r="1.45" fill="#333"/>
<circle cx="435.20" cy="592.60" r="1.45" fill="#333"/>
<circle cx="436.60" cy="608.30" r="1.45" fill="#333"/>
<line x1="454.50" y1="612.30" x2="454.50" y2="635.60" stroke="#111" stroke-width="1.3" />
<line x1="451.30" y1="612.30" x2="457.70" y2="612.30" stroke="#111" stroke-width="1.3" />
<line x1="451.30" y1="635.60" x2="457.70" y2="635.60" stroke="#111" stroke-width="1.3" />
<circle cx="453.30" cy="610.50" r="1.45" fill="#333"/>
<circle cx="449.30" cy="615.60" r="1.45" fill="#333"/>
<circle cx="453.70" cy="618.10" r="1.45" fill="#333"/>
<circle cx="456.90" cy="634.20" r="1.45" fill="#333"/>
<circle cx="454.50" cy="640.50" r="1.45" fill="#333"/>
<line x1="506.30" y1="580.40" x2="506.30" y2="608.20" stroke="#111" stroke-width="1.3" />
<line x1="503.10" y1="580.40" x2="509.50" y2="580.40" stroke="#111" stroke-width="1.3" />
<line x1="503.10" y1="608.20" x2="509.50" y2="608.20" stroke="#111" stroke-width="1.3" />
<circle cx="503.80" cy="576.80" r="1.45" fill="#333"/>
<circle cx="504.80" cy="581.60" r="1.45" fill="#333"/>
<circle cx="505.10" cy="592.30" r="1.45" fill="#333"/>
<circle cx="505.10" cy="611.50" r="1.45" fill="#333"/>
<line x1="523.50" y1="614.50" x2="523.50" y2="633.40" stroke="#111" stroke-width="1.3" />
<line x1="520.30" y1="614.50" x2="526.70" y2="614.50" stroke="#111" stroke-width="1.3" />
<line x1="520.30" y1="633.40" x2="526.70" y2="633.40" stroke="#111" stroke-width="1.3" />
<circle cx="528.60" cy="610.10" r="1.45" fill="#333"/>
<circle cx="522.30" cy="617.80" r="1.45" fill="#333"/>
<circle cx="526.00" cy="626.10" r="1.45" fill="#333"/>
<circle cx="524.50" cy="639.00" r="1.45" fill="#333"/>
<line x1="575.70" y1="604.30" x2="575.70" y2="616.40" stroke="#111" stroke-width="1.3" />
<line x1="572.50" y1="604.30" x2="578.90" y2="604.30" stroke="#111" stroke-width="1.3" />
<line x1="572.50" y1="616.40" x2="578.90" y2="616.40" stroke="#111" stroke-width="1.3" />
<circle cx="571.40" cy="605.30" r="1.45" fill="#333"/>
<circle cx="577.50" cy="603.20" r="1.45" fill="#333"/>
<circle cx="576.80" cy="607.30" r="1.45" fill="#333"/>
<circle cx="574.80" cy="613.90" r="1.45" fill="#333"/>
<circle cx="571.60" cy="620.30" r="1.45" fill="#333"/>
<line x1="593.60" y1="624.60" x2="593.60" y2="640.00" stroke="#111" stroke-width="1.3" />
<line x1="590.40" y1="624.60" x2="596.80" y2="624.60" stroke="#111" stroke-width="1.3" />
<line x1="590.40" y1="640.00" x2="596.80" y2="640.00" stroke="#111" stroke-width="1.3" />
<circle cx="591.60" cy="617.30" r="1.45" fill="#333"/>
<circle cx="594.60" cy="632.50" r="1.45" fill="#333"/>
<circle cx="589.80" cy="636.60" r="1.45" fill="#333"/>
<circle cx="592.10" cy="638.70" r="1.45" fill="#333"/>
<line x1="645.20" y1="587.50" x2="645.20" y2="620.90" stroke="#111" stroke-width="1.3" />
<line x1="642.00" y1="587.50" x2="648.40" y2="587.50" stroke="#111" stroke-width="1.3" />
<line x1="642.00" y1="620.90" x2="648.40" y2="620.90" stroke="#111" stroke-width="1.3" />
<circle cx="645.70" cy="575.20" r="1.45" fill="#333"/>
<circle cx="645.00" cy="595.00" r="1.45" fill="#333"/>
<circle cx="646.10" cy="610.00" r="1.45" fill="#333"/>
<circle cx="648.20" cy="618.20" r="1.45" fill="#333"/>
<circle cx="646.80" cy="620.20" r="1.45" fill="#333"/>
<line x1="661.80" y1="638.60" x2="661.80" y2="649.00" stroke="#111" stroke-width="1.3" />
<line x1="658.60" y1="638.60" x2="665.00" y2="638.60" stroke="#111" stroke-width="1.3" />
<line x1="658.60" y1="649.00" x2="665.00" y2="649.00" stroke="#111" stroke-width="1.3" />
<circle cx="661.50" cy="634.50" r="1.45" fill="#333"/>
<circle cx="665.60" cy="640.00" r="1.45" fill="#333"/>
<circle cx="659.00" cy="646.00" r="1.45" fill="#333"/>
<circle cx="663.00" cy="648.00" r="1.45" fill="#333"/>
<polyline points="436.20,573.60 436.20,570.40 453.40,570.40 453.40,573.60" fill="none" stroke="#222" stroke-width="1.1"/>
<text transform="translate(444.80,569.50) scale(1,1.05)" font-size="12" text-anchor="middle" font-weight="normal" fill="#222" >**</text>
<polyline points="506.00,577.70 506.00,574.30 523.80,574.30 523.80,577.70" fill="none" stroke="#222" stroke-width="1.1"/>
<text transform="translate(514.90,573.00) scale(1,1.05)" font-size="12" text-anchor="middle" font-weight="normal" fill="#222" >**</text>
<polyline points="574.50,599.40 574.50,596.70 592.50,596.70 592.50,599.40" fill="none" stroke="#222" stroke-width="1.1"/>
<text transform="translate(583.50,594.80) scale(1,1.05)" font-size="12" text-anchor="middle" font-weight="normal" fill="#222" >**</text>
<polyline points="644.40,583.40 644.40,580.30 662.50,580.30 662.50,583.40" fill="none" stroke="#222" stroke-width="1.1"/>
<text transform="translate(653.45,579.00) scale(1,1.05)" font-size="12" text-anchor="middle" font-weight="normal" fill="#222" >**</text>
<rect x="576.1" y="545.1" width="21.299999999999955" height="6.899999999999977" fill="#f1767c"/>
<rect x="641.2" y="545.1" width="20.59999999999991" height="6.899999999999977" fill="#62a9fd"/>
<text transform="translate(602.50,554.60) scale(1,1.05)" font-size="15" text-anchor="start" font-weight="normal" fill="#111" >Na<tspan font-size="9.5" dy="-6.5">+</tspan></text>
<text transform="translate(667.00,554.60) scale(1,1.05)" font-size="15" text-anchor="start" font-weight="normal" fill="#111" >K<tspan font-size="9.5" dy="-6.5">+</tspan></text>
</svg></body></html>
